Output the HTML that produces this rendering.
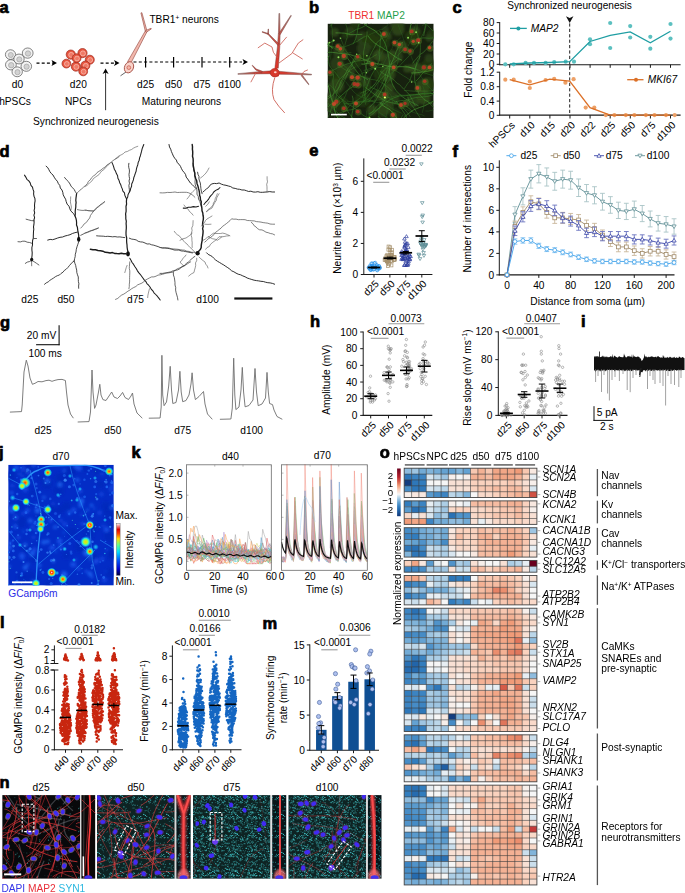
<!DOCTYPE html>
<html><head><meta charset="utf-8"><title>Figure</title>
<style>
html,body{margin:0;padding:0;background:#fff;}
body{width:685px;height:893px;overflow:hidden;}
svg{display:block;font-family:"Liberation Sans",sans-serif;font-size:10.2px;}
</style></head><body>
<svg width="685" height="893" viewBox="0 0 685 893">
<defs><linearGradient id="gUp" gradientUnits="userSpaceOnUse" x1="0" y1="60" x2="0" y2="14"><stop offset="0" stop-color="#d8382c"/><stop offset="0.55" stop-color="#c8554a"/><stop offset="1" stop-color="#a89894"/></linearGradient>
<linearGradient id="gL" gradientUnits="userSpaceOnUse" x1="268" y1="0" x2="238" y2="0"><stop offset="0" stop-color="#d8382c"/><stop offset="0.5" stop-color="#c8554a"/><stop offset="1" stop-color="#a89894"/></linearGradient>
<linearGradient id="gR" gradientUnits="userSpaceOnUse" x1="282" y1="0" x2="311" y2="0"><stop offset="0" stop-color="#d8382c"/><stop offset="0.5" stop-color="#c8554a"/><stop offset="1" stop-color="#a89894"/></linearGradient>
<clipPath id="cb"><rect x="327.5" y="23.6" width="106.2" height="94.5"/></clipPath>
<filter id="blur1" x="-20%" y="-20%" width="140%" height="140%"><feGaussianBlur stdDeviation="0.6"/></filter>
<filter id="blur2" x="-50%" y="-50%" width="200%" height="200%"><feGaussianBlur stdDeviation="1.2"/></filter>
<clipPath id="cj"><rect x="8.2" y="464.7" width="105.6" height="120.9"/></clipPath>
<filter id="bj" x="-50%" y="-50%" width="200%" height="200%"><feGaussianBlur stdDeviation="1.6"/></filter>
<filter id="bj2" x="-20%" y="-20%" width="140%" height="140%"><feGaussianBlur stdDeviation="0.6"/></filter>
<radialGradient id="spotR"><stop offset="0" stop-color="#ff2a10"/><stop offset="0.3" stop-color="#ffb000"/><stop offset="0.55" stop-color="#40f0a0"/><stop offset="0.8" stop-color="#10c0f8" stop-opacity="0.7"/><stop offset="1" stop-color="#0a70f0" stop-opacity="0"/></radialGradient>
<radialGradient id="spotY"><stop offset="0" stop-color="#ffd000"/><stop offset="0.35" stop-color="#a0ff40"/><stop offset="0.6" stop-color="#20e0f0"/><stop offset="1" stop-color="#0a70f0" stop-opacity="0"/></radialGradient>
<radialGradient id="spotW"><stop offset="0" stop-color="#ffffff"/><stop offset="0.25" stop-color="#ff3010"/><stop offset="0.5" stop-color="#ffc000"/><stop offset="0.75" stop-color="#20e8e0"/><stop offset="1" stop-color="#0a70f0" stop-opacity="0"/></radialGradient>
<radialGradient id="spotC"><stop offset="0" stop-color="#30f0f0"/><stop offset="0.5" stop-color="#10b0f8" stop-opacity="0.8"/><stop offset="1" stop-color="#0a60f0" stop-opacity="0"/></radialGradient>
<linearGradient id="jet" x1="0" y1="1" x2="0" y2="0"><stop offset="0" stop-color="#00003a"/><stop offset="0.12" stop-color="#0000d0"/><stop offset="0.3" stop-color="#0060ff"/><stop offset="0.45" stop-color="#00e0ff"/><stop offset="0.58" stop-color="#60ff90"/><stop offset="0.7" stop-color="#ffe000"/><stop offset="0.8" stop-color="#ff4000"/><stop offset="0.88" stop-color="#e00000"/><stop offset="1" stop-color="#ffffff"/></linearGradient>
<pattern id="spA" width="23" height="19" patternUnits="userSpaceOnUse"><g fill="#46dde0"><circle cx="18.4" cy="6.2" r=".4" opacity=".8"/><circle cx="2.6" cy="9" r=".5" opacity=".7"/><circle cx="3.3" cy="12" r=".5" opacity=".9"/><circle cx=".7" cy="18.2" r=".4" opacity=".8"/><circle cx="11.7" cy="15.9" r=".4" opacity=".5"/><circle cx="2" cy="14.8" r=".5" opacity=".5"/><circle cx="4.4" cy="1.5" r=".4" opacity=".7"/><circle cx="10.1" cy="13.4" r=".4" opacity=".9"/><circle cx="22.6" cy="14.1" r=".6" opacity=".9"/><circle cx="2.2" cy="8.8" r=".4" opacity=".8"/><circle cx="12.4" cy="2" r=".5" opacity=".8"/><circle cx="12.7" cy="2.3" r=".7" opacity=".4"/><circle cx="19.4" cy="18.5" r=".6" opacity=".9"/><circle cx="12.2" cy="4.2" r=".5" opacity=".8"/><circle cx="17.7" cy="7.3" r=".7" opacity=".4"/><circle cx="11.4" cy=".7" r=".5" opacity=".9"/><circle cx="2.7" cy="18.7" r=".7" opacity=".8"/><circle cx="1.3" cy="9" r=".6" opacity=".4"/><circle cx="6.9" cy="1.7" r=".6" opacity=".9"/><circle cx="21.2" cy="14.3" r=".6" opacity=".4"/><circle cx="11.1" cy="14.5" r=".6" opacity=".4"/><circle cx=".2" cy="1.7" r=".7" opacity=".4"/><circle cx="9" cy="9" r=".7" opacity=".4"/><circle cx="6" cy="14.7" r=".4" opacity=".4"/><circle cx=".6" cy="18.2" r=".4" opacity=".7"/><circle cx="8.7" cy="18.6" r=".6" opacity=".7"/><circle cx="11.3" cy="5.1" r=".6" opacity=".4"/><circle cx="14.3" cy="5.6" r=".4" opacity=".6"/><circle cx="4.3" cy="11.2" r=".4" opacity=".4"/><circle cx="3.3" cy="1.7" r=".7" opacity=".7"/><circle cx="15.6" cy="14.8" r=".4" opacity=".9"/><circle cx="8.8" cy="8.7" r=".5" opacity=".8"/><circle cx="17.7" cy="3.7" r=".6" opacity=".6"/><circle cx="5.8" cy="16.4" r=".7" opacity=".9"/><circle cx="7.4" cy="17.4" r=".6" opacity=".9"/><circle cx="17.4" cy="19" r=".5" opacity=".8"/><circle cx="18" cy="10" r=".5" opacity=".6"/><circle cx="20" cy="7.2" r=".6" opacity=".7"/><circle cx="16.3" cy="5.9" r=".4" opacity=".8"/><circle cx="3.3" cy="6.8" r=".6" opacity=".4"/><circle cx="21" cy="11.2" r=".5" opacity=".8"/><circle cx="1.3" cy=".4" r=".6" opacity=".7"/><circle cx="14.7" cy="15.6" r=".4" opacity=".4"/><circle cx="22.3" cy="1.1" r=".5" opacity=".7"/><circle cx="22" cy="1.6" r=".6" opacity=".4"/><circle cx="10.4" cy="11.8" r=".6" opacity=".4"/><circle cx="17.2" cy="2.8" r=".5" opacity=".9"/><circle cx="19.6" cy="1.5" r=".4" opacity=".4"/><circle cx="18" cy=".7" r=".6" opacity=".8"/><circle cx="18.8" cy="17.8" r=".6" opacity=".8"/><circle cx="12.5" cy="12.7" r=".4" opacity=".7"/><circle cx="22.8" cy="7.4" r=".6" opacity=".5"/><circle cx="11.1" cy="10.3" r=".6" opacity=".5"/><circle cx="10.8" cy="3.6" r=".6" opacity=".9"/><circle cx="8.9" cy="12.5" r=".5" opacity=".5"/><circle cx="16" cy="4" r=".6" opacity=".9"/><circle cx="7.1" cy="12.7" r=".5" opacity=".7"/><circle cx="4.4" cy="9.5" r=".6" opacity=".5"/><circle cx="8.2" cy="4.3" r=".4" opacity=".8"/><circle cx="19.1" cy="10" r=".5" opacity=".5"/></g></pattern>
<pattern id="spB" width="17" height="29" patternUnits="userSpaceOnUse"><g fill="#46dde0"><circle cx="4.1" cy="27.3" r=".5" opacity=".7"/><circle cx="4.7" cy="5" r=".4" opacity=".5"/><circle cx="7.1" cy="15.1" r=".6" opacity=".7"/><circle cx="14.9" cy="23.3" r=".6" opacity=".7"/><circle cx="9.2" cy="13.7" r=".7" opacity=".8"/><circle cx="6.6" cy="25.2" r=".5" opacity=".7"/><circle cx=".4" cy="17.2" r=".7" opacity=".5"/><circle cx="14.8" cy="19.7" r=".4" opacity=".3"/><circle cx="5.6" cy="28.2" r=".6" opacity=".6"/><circle cx="14.6" cy="10.2" r=".4" opacity=".5"/><circle cx="15.4" cy="4.8" r=".5" opacity=".5"/><circle cx="6.1" cy="2.7" r=".7" opacity=".4"/><circle cx="13.4" cy="5" r=".5" opacity=".3"/><circle cx="10" cy="14.8" r=".5" opacity=".4"/><circle cx="10.9" cy="1" r=".7" opacity=".6"/><circle cx="10.4" cy="12.3" r=".4" opacity=".3"/><circle cx="12.3" cy="14.1" r=".4" opacity=".6"/><circle cx="14.8" cy="14.8" r=".5" opacity=".6"/><circle cx="14.9" cy=".9" r=".6" opacity=".6"/><circle cx="12.2" cy="4.8" r=".6" opacity=".7"/><circle cx="4.7" cy="27.5" r=".4" opacity=".6"/><circle cx="1.5" cy="5.5" r=".6" opacity=".7"/><circle cx="8.1" cy="7.1" r=".5" opacity=".5"/><circle cx="6.5" cy="11.9" r=".5" opacity=".5"/><circle cx="2.1" cy="14.4" r=".4" opacity=".7"/><circle cx="16.2" cy="21.6" r=".5" opacity=".6"/><circle cx="12.6" cy="6.6" r=".6" opacity=".3"/><circle cx="16.5" cy="16.2" r=".6" opacity=".6"/><circle cx="14.4" cy="12.3" r=".4" opacity=".4"/><circle cx="12.7" cy="28.5" r=".4" opacity=".6"/><circle cx="13.3" cy="8.8" r=".4" opacity=".7"/><circle cx="2" cy="9.7" r=".6" opacity=".6"/><circle cx="16.1" cy="14" r=".5" opacity=".4"/><circle cx="13.9" cy="1.4" r=".4" opacity=".5"/><circle cx="13.7" cy="7.4" r=".5" opacity=".4"/><circle cx="4.8" cy="27.2" r=".7" opacity=".4"/><circle cx="16.2" cy="13.6" r=".4" opacity=".5"/><circle cx="16.3" cy="5.3" r=".6" opacity=".8"/><circle cx="15.6" cy="21.9" r=".7" opacity=".4"/><circle cx="11.8" cy="27.9" r=".5" opacity=".3"/><circle cx="4.9" cy="12.8" r=".5" opacity=".7"/><circle cx="3" cy=".2" r=".6" opacity=".8"/><circle cx="8.2" cy="19.7" r=".6" opacity=".7"/><circle cx="13.5" cy=".9" r=".6" opacity=".5"/><circle cx="6.6" cy="23.3" r=".4" opacity=".8"/><circle cx="13.8" cy="24.2" r=".7" opacity=".4"/><circle cx="10.1" cy="26.2" r=".5" opacity=".7"/><circle cx="1.8" cy="19.4" r=".4" opacity=".6"/><circle cx=".5" cy="8.9" r=".4" opacity=".5"/><circle cx="2.2" cy="19.8" r=".5" opacity=".7"/><circle cx="13.8" cy="20.6" r=".6" opacity=".6"/><circle cx="13.1" cy="12.5" r=".5" opacity=".5"/><circle cx=".4" cy="6.1" r=".6" opacity=".5"/><circle cx="7.3" cy="2.8" r=".4" opacity=".8"/><circle cx="13.6" cy="10.4" r=".7" opacity=".6"/></g></pattern>
<pattern id="spC" width="21" height="23" patternUnits="userSpaceOnUse"><g fill="#46dde0"><circle cx="15.7" cy="3.5" r=".7" opacity=".4"/><circle cx="2.9" cy="1.5" r=".4" opacity=".2"/><circle cx="16.3" cy="18.3" r=".4" opacity=".3"/><circle cx="19.2" cy="5.3" r=".7" opacity=".5"/><circle cx="8.6" cy="10.5" r=".5" opacity=".3"/><circle cx="14.8" cy="15.6" r=".7" opacity=".2"/><circle cx="6.5" cy="12.2" r=".6" opacity=".6"/><circle cx="17.2" cy="2.2" r=".6" opacity=".3"/><circle cx="9.1" cy="1.7" r=".4" opacity=".4"/><circle cx="18.4" cy="6.7" r=".4" opacity=".5"/><circle cx="5.9" cy="2" r=".4" opacity=".6"/><circle cx="18.9" cy="11.4" r=".5" opacity=".5"/><circle cx="7.2" cy="8.9" r=".6" opacity=".5"/><circle cx="18.6" cy="13.1" r=".6" opacity=".5"/></g></pattern>
<pattern id="spD" width="19" height="21" patternUnits="userSpaceOnUse"><g fill="#46dde0"><circle cx="4.5" cy="13.5" r=".5" opacity=".4"/><circle cx="4.2" cy="8.2" r=".7" opacity=".3"/><circle cx="18.3" cy="19.9" r=".5" opacity=".6"/><circle cx="5.8" cy=".9" r=".4" opacity=".7"/><circle cx="4.4" cy="10.7" r=".5" opacity=".3"/><circle cx="7.5" cy="9.7" r=".7" opacity=".6"/><circle cx="18.5" cy="8.4" r=".6" opacity=".6"/><circle cx=".4" cy="19.3" r=".6" opacity=".6"/><circle cx="8.3" cy=".2" r=".7" opacity=".3"/><circle cx="2" cy="16.3" r=".5" opacity=".5"/><circle cx="5.2" cy="9.8" r=".6" opacity=".5"/><circle cx="2.5" cy="11.6" r=".5" opacity=".7"/><circle cx="1.2" cy="8.8" r=".5" opacity=".7"/><circle cx="3.6" cy="16.6" r=".5" opacity=".7"/><circle cx="15.3" cy="10.6" r=".6" opacity=".4"/><circle cx="14.3" cy="4.5" r=".5" opacity=".4"/><circle cx="18" cy="8.4" r=".6" opacity=".6"/><circle cx="13.1" cy="4.1" r=".6" opacity=".5"/><circle cx="12.2" cy="19.6" r=".6" opacity=".7"/><circle cx="9.3" cy="9.9" r=".7" opacity=".5"/><circle cx=".7" cy="6.6" r=".5" opacity=".3"/><circle cx="1.9" cy="12" r=".4" opacity=".8"/><circle cx="2.3" cy="6.4" r=".4" opacity=".5"/><circle cx=".2" cy="12.9" r=".4" opacity=".4"/><circle cx="6.7" cy="2.4" r=".4" opacity=".8"/><circle cx="6" cy="14.7" r=".6" opacity=".6"/><circle cx="8.6" cy="9.3" r=".6" opacity=".4"/><circle cx=".9" cy="2.2" r=".4" opacity=".5"/><circle cx="1.7" cy="9.5" r=".6" opacity=".4"/><circle cx="12.8" cy="10.7" r=".5" opacity=".6"/><circle cx=".6" cy="11.5" r=".4" opacity=".8"/><circle cx="10.5" cy="11.1" r=".4" opacity=".3"/><circle cx="3" cy="7.3" r=".4" opacity=".7"/><circle cx="5.7" cy="8.9" r=".5" opacity=".5"/><circle cx="3.4" cy="14.3" r=".6" opacity=".6"/><circle cx="4.4" cy="16.2" r=".4" opacity=".6"/><circle cx="8.3" cy="4" r=".7" opacity=".3"/><circle cx="6.1" cy="13.9" r=".4" opacity=".7"/><circle cx="0" cy="3.7" r=".7" opacity=".3"/><circle cx="16.5" cy="3.4" r=".5" opacity=".4"/></g></pattern>
<clipPath id="cn0"><rect x="2.2" y="795.1" width="77.8" height="83.7"/></clipPath>
<clipPath id="ci0"><rect x="81.2" y="795.1" width="14.2" height="83.7"/></clipPath>
<clipPath id="cn1"><rect x="97" y="795.1" width="77.8" height="83.7"/></clipPath>
<clipPath id="ci1"><rect x="176.2" y="795.1" width="14.6" height="83.7"/></clipPath>
<clipPath id="cn2"><rect x="193" y="795.1" width="77.6" height="83.7"/></clipPath>
<clipPath id="ci2"><rect x="272.1" y="795.1" width="14.4" height="83.7"/></clipPath>
<clipPath id="cn3"><rect x="288.3" y="795.1" width="77.8" height="83.7"/></clipPath>
<clipPath id="ci3"><rect x="367.6" y="795.1" width="14.1" height="83.7"/></clipPath>
<linearGradient id="rdbu" x1="0" y1="1" x2="0" y2="0"><stop offset="0" stop-color="#123778"/><stop offset="0.11" stop-color="#1e5fa5"/><stop offset="0.2" stop-color="#327dbe"/><stop offset="0.29" stop-color="#64a2d2"/><stop offset="0.38" stop-color="#accee6"/><stop offset="0.46" stop-color="#f6f6f6"/><stop offset="0.55" stop-color="#fad2be"/><stop offset="0.64" stop-color="#f09b78"/><stop offset="0.73" stop-color="#d65c48"/><stop offset="0.82" stop-color="#b9232d"/><stop offset="1" stop-color="#69001e"/></linearGradient></defs>
<rect x="0" y="0" width="685" height="893" fill="#fff"/>
<!-- panel_a -->
<text x="-0.5" y="12.7" font-size="16.5" fill="#000" font-weight="bold" stroke="#000" stroke-width="0.7">a</text>
<ellipse cx="10.5" cy="54.6" rx="5.1" ry="4.84" fill="#f3f3f3" stroke="#505050" stroke-width="0.7"/>
<circle cx="10.8" cy="55" r="2.55" fill="#d2d2d2" stroke="#9a9a9a" stroke-width="0.6"/>
<ellipse cx="27.7" cy="53.1" rx="5.4" ry="5.13" fill="#f3f3f3" stroke="#505050" stroke-width="0.7"/>
<circle cx="28" cy="53.5" r="2.7" fill="#d2d2d2" stroke="#9a9a9a" stroke-width="0.6"/>
<ellipse cx="10.9" cy="64.8" rx="5.4" ry="5.13" fill="#f3f3f3" stroke="#505050" stroke-width="0.7"/>
<circle cx="11.2" cy="65.2" r="2.7" fill="#d2d2d2" stroke="#9a9a9a" stroke-width="0.6"/>
<ellipse cx="26.3" cy="66.3" rx="5.3" ry="5.03" fill="#f3f3f3" stroke="#505050" stroke-width="0.7"/>
<circle cx="26.6" cy="66.7" r="2.65" fill="#d2d2d2" stroke="#9a9a9a" stroke-width="0.6"/>
<ellipse cx="17.2" cy="71.8" rx="5.2" ry="4.94" fill="#f3f3f3" stroke="#505050" stroke-width="0.7"/>
<circle cx="17.5" cy="72.2" r="2.6" fill="#d2d2d2" stroke="#9a9a9a" stroke-width="0.6"/>
<ellipse cx="19" cy="59" rx="5.2" ry="4.94" fill="#f3f3f3" stroke="#505050" stroke-width="0.7"/>
<circle cx="19.3" cy="59.4" r="2.6" fill="#d2d2d2" stroke="#9a9a9a" stroke-width="0.6"/>
<line x1="36.5" y1="63.1" x2="53.5" y2="63.1" stroke="#000" stroke-width="1.2" stroke-dasharray="3 2.2"/>
<path d="M57 63.1 L51.5 66.12 L52.88 63.1 L51.5 60.08 Z" fill="#000"/>
<circle cx="70.8" cy="54.6" r="4.6" fill="#e8553f" stroke="#9c2a1c" stroke-width="0.7"/>
<circle cx="71.2" cy="54.9" r="2.53" fill="#ef7a66" stroke="#fbd0c6" stroke-width="0.6"/>
<circle cx="82.5" cy="53.1" r="4.6" fill="#e8553f" stroke="#9c2a1c" stroke-width="0.7"/>
<circle cx="82.9" cy="53.4" r="2.53" fill="#ef7a66" stroke="#fbd0c6" stroke-width="0.6"/>
<circle cx="89.8" cy="59.7" r="4.5" fill="#e8553f" stroke="#9c2a1c" stroke-width="0.7"/>
<circle cx="90.2" cy="60" r="2.48" fill="#ef7a66" stroke="#fbd0c6" stroke-width="0.6"/>
<circle cx="66.4" cy="63.6" r="4.4" fill="#e8553f" stroke="#9c2a1c" stroke-width="0.7"/>
<circle cx="66.8" cy="63.9" r="2.42" fill="#ef7a66" stroke="#fbd0c6" stroke-width="0.6"/>
<circle cx="75.9" cy="66.6" r="4.6" fill="#e8553f" stroke="#9c2a1c" stroke-width="0.7"/>
<circle cx="76.3" cy="66.9" r="2.53" fill="#ef7a66" stroke="#fbd0c6" stroke-width="0.6"/>
<circle cx="85.4" cy="65.5" r="4.5" fill="#e8553f" stroke="#9c2a1c" stroke-width="0.7"/>
<circle cx="85.8" cy="65.8" r="2.48" fill="#ef7a66" stroke="#fbd0c6" stroke-width="0.6"/>
<circle cx="83.2" cy="71.4" r="4.4" fill="#e8553f" stroke="#9c2a1c" stroke-width="0.7"/>
<circle cx="83.6" cy="71.7" r="2.42" fill="#ef7a66" stroke="#fbd0c6" stroke-width="0.6"/>
<circle cx="76.6" cy="58.2" r="4.4" fill="#e8553f" stroke="#9c2a1c" stroke-width="0.7"/>
<circle cx="77" cy="58.5" r="2.42" fill="#ef7a66" stroke="#fbd0c6" stroke-width="0.6"/>
<line x1="100.5" y1="63.1" x2="116" y2="63.1" stroke="#000" stroke-width="1.2" stroke-dasharray="3 2.2"/>
<path d="M119.5 63.1 L114 66.12 L115.38 63.1 L114 60.08 Z" fill="#000"/>
<line x1="105.6" y1="110.2" x2="105.6" y2="72" stroke="#333" stroke-width="1"/>
<path d="M105.6 68.5 L108.62 74 L105.6 72.62 L102.57 74 Z" fill="#000"/>
<path d="M130.78 63.36 L147.13 31.43 L141.88 12.67 L140.92 12.93 L145.27 30.97 L127.62 61.64Z" stroke="#8e4038" stroke-width="0.6" fill="#f2b8ad"/>
<path d="M146.02 32.39 L151.39 28.95 L151.01 28.25 L145.18 30.81Z" stroke="#8e4038" stroke-width="0.6" fill="#f2b8ad"/>
<path d="M126 72 L120.5 75.8" stroke="#555" stroke-width="0.9" fill="none"/>
<ellipse cx="129" cy="67.3" rx="4.4" ry="5.8" transform="rotate(25 129 67.3)" fill="#f9d3ca" stroke="#a0453a" stroke-width="0.8"/>
<circle cx="128.8" cy="67.6" r="1.9" fill="#f6b5a8" stroke="#c0574a" stroke-width="0.7"/>
<line x1="133.5" y1="62" x2="242" y2="62" stroke="#000" stroke-width="1.1" stroke-dasharray="3 2.3"/>
<line x1="145.6" y1="57" x2="145.6" y2="67.5" stroke="#000" stroke-width="1.2"/>
<line x1="173.6" y1="57" x2="173.6" y2="67.5" stroke="#000" stroke-width="1.2"/>
<line x1="202" y1="57" x2="202" y2="67.5" stroke="#000" stroke-width="1.2"/>
<line x1="229.7" y1="57" x2="229.7" y2="67.5" stroke="#000" stroke-width="1.2"/>
<path d="M248 62 L242.5 65.03 L243.88 62 L242.5 58.98 Z" fill="#000"/>
<path d="M278.29 68.16 L279.79 47.09 L280.15 32.62 L279.7 13.5 L278.9 13.5 L278.45 32.58 L277.41 46.91 L274.91 67.84Z" stroke="#6e3430" stroke-width="0.45" fill="url(#gUp)"/>
<path d="M280.32 34.45 L291.35 15.66 L290.85 15.34 L278.88 33.55Z" stroke="#6e3430" stroke-width="0.45" fill="url(#gUp)"/>
<path d="M279.25 44.18 L268.39 33.53 L262.3 31.62 L262.1 32.18 L267.81 34.27 L277.95 45.42Z" stroke="#6e3430" stroke-width="0.45" fill="url(#gUp)"/>
<path d="M268.55 34.22 L268.5 29.01 L268.1 28.99 L267.65 34.18Z" stroke="#6e3430" stroke-width="0.45" fill="url(#gUp)"/>
<path d="M271.93 70.7 L254.95 72.07 L237.88 73.65 L237.92 74.35 L255.05 73.93 L272.07 73.7Z" stroke="#6e3430" stroke-width="0.45" fill="url(#gL)"/>
<path d="M262.35 71.17 L256.31 69.05 L252.49 65.23 L252.11 65.57 L255.69 69.95 L261.65 72.83Z" stroke="#6e3430" stroke-width="0.45" fill="url(#gL)"/>
<path d="M277.52 74.2 L294.95 74.51 L311.48 74.95 L311.52 74.25 L295.05 72.69 L277.68 71.2Z" stroke="#6e3430" stroke-width="0.45" fill="url(#gR)"/>
<path d="M301.09 75.6 L308.6 84.65 L309 84.35 L302.11 74.8Z" stroke="#6e3430" stroke-width="0.45" fill="url(#gR)"/>
<path d="M277.3 57.6 L273.4 52.3 L272 47 L264.8 43.1 L258.2 47.7" stroke="#c9554a" stroke-width="0.8" fill="none" stroke-linecap="round" stroke-linejoin="round"/>
<path d="M279.3 62.8 L291.8 53.6 L298.3 43.1 L302.9 39.8 M293 53 L302.3 58.9" stroke="#c9554a" stroke-width="0.8" fill="none" stroke-linecap="round" stroke-linejoin="round"/>
<path d="M279.3 45.7 L286.5 37.2" stroke="#c9554a" stroke-width="0.8" fill="none" stroke-linecap="round" stroke-linejoin="round"/>
<path d="M255.6 73.3 L251 81.9" stroke="#c9554a" stroke-width="0.8" fill="none" stroke-linecap="round" stroke-linejoin="round"/>
<path d="M301.6 74.6 L304 71.5 L307.5 70" stroke="#c9554a" stroke-width="0.8" fill="none" stroke-linecap="round" stroke-linejoin="round"/>
<path d="M274.7 77.9 Q270.5 90 274 99.6 Q278 106 284.5 112.7" stroke="#c9554a" stroke-width="0.85" fill="none" stroke-linecap="round" stroke-linejoin="round"/>
<path d="M273 76 L276 65.5 L278.5 76 Z" stroke="#d8382c" stroke-width="1" fill="#d8382c"/>
<ellipse cx="274.7" cy="72.7" rx="4.6" ry="4.2" fill="#d8382c" stroke="#a32a20" stroke-width="0.6"/>
<ellipse cx="275.3" cy="72.2" rx="1.4" ry="1.0" fill="#fbd3cb"/>
<text x="17.5" y="88" text-anchor="middle">d0</text>
<text x="78.3" y="88" text-anchor="middle">d20</text>
<text x="15" y="105" text-anchor="middle">hPSCs</text>
<text x="78.3" y="105" text-anchor="middle">NPCs</text>
<text x="145.6" y="87.6" text-anchor="middle">d25</text>
<text x="173.6" y="87.6" text-anchor="middle">d50</text>
<text x="202" y="87.6" text-anchor="middle">d75</text>
<text x="229.7" y="87.6" text-anchor="middle">d100</text>
<text x="181.5" y="105" text-anchor="middle">Maturing neurons</text>
<text x="33" y="125">Synchronized neurogenesis</text>
<text x="149.4" y="23.4">TBR1<tspan font-size="6.5" dy="-3.5">+</tspan><tspan dy="3.5"> neurons</tspan></text>
<!-- panel_b -->
<text x="309" y="13.2" font-size="16.5" fill="#000" font-weight="bold" stroke="#000" stroke-width="0.7">b</text>
<text x="348.2" y="19"><tspan fill="#ee2f2f">TBR1</tspan> <tspan fill="#1fa04c">MAP2</tspan></text>
<g clip-path="url(#cb)">
<rect x="327.5" y="23.6" width="106.2" height="94.5" fill="#17210f" stroke="none" stroke-width="1"/>
<g filter="url(#blur2)">
<circle cx="361.89" cy="37.86" r="6.25" fill="#2a4218" stroke="none" stroke-width="1" opacity="0.8"/>
<circle cx="414.72" cy="32.5" r="5.91" fill="#304a1a" stroke="none" stroke-width="1" opacity="0.8"/>
<circle cx="350.3" cy="31.72" r="5.09" fill="#2a4218" stroke="none" stroke-width="1" opacity="0.8"/>
<circle cx="337.13" cy="63.72" r="7.13" fill="#2a4218" stroke="none" stroke-width="1" opacity="0.8"/>
<circle cx="428.12" cy="83.19" r="5.91" fill="#2a4218" stroke="none" stroke-width="1" opacity="0.8"/>
<circle cx="388.79" cy="61.09" r="7.88" fill="#2a4218" stroke="none" stroke-width="1" opacity="0.8"/>
<circle cx="386.62" cy="36.19" r="5.1" fill="#304a1a" stroke="none" stroke-width="1" opacity="0.8"/>
<circle cx="340.01" cy="52.75" r="7.08" fill="#2a4218" stroke="none" stroke-width="1" opacity="0.8"/>
<circle cx="338.44" cy="77.58" r="3.94" fill="#2a4218" stroke="none" stroke-width="1" opacity="0.8"/>
<circle cx="385.67" cy="29.53" r="3.3" fill="#2a4218" stroke="none" stroke-width="1" opacity="0.8"/>
<circle cx="380.22" cy="73.85" r="6.89" fill="#22380f" stroke="none" stroke-width="1" opacity="0.8"/>
<circle cx="389.69" cy="66.43" r="4.5" fill="#2a4218" stroke="none" stroke-width="1" opacity="0.8"/>
<circle cx="401.73" cy="46.67" r="5.87" fill="#304a1a" stroke="none" stroke-width="1" opacity="0.8"/>
<circle cx="380.08" cy="56.06" r="5.24" fill="#304a1a" stroke="none" stroke-width="1" opacity="0.8"/>
<circle cx="431.59" cy="34.76" r="5.09" fill="#22380f" stroke="none" stroke-width="1" opacity="0.8"/>
<circle cx="343.64" cy="69.81" r="3.2" fill="#304a1a" stroke="none" stroke-width="1" opacity="0.8"/>
<circle cx="335.74" cy="76.34" r="6.95" fill="#22380f" stroke="none" stroke-width="1" opacity="0.8"/>
<circle cx="363.62" cy="56.69" r="5.48" fill="#22380f" stroke="none" stroke-width="1" opacity="0.8"/>
<circle cx="334.8" cy="32.44" r="4.35" fill="#304a1a" stroke="none" stroke-width="1" opacity="0.8"/>
<circle cx="398.03" cy="29.33" r="6.51" fill="#304a1a" stroke="none" stroke-width="1" opacity="0.8"/>
<circle cx="388.88" cy="87.98" r="5.23" fill="#304a1a" stroke="none" stroke-width="1" opacity="0.8"/>
<circle cx="368.47" cy="86.79" r="3.11" fill="#22380f" stroke="none" stroke-width="1" opacity="0.8"/>
<circle cx="365.25" cy="81.33" r="5.47" fill="#2a4218" stroke="none" stroke-width="1" opacity="0.8"/>
<circle cx="409.09" cy="35.82" r="4.24" fill="#22380f" stroke="none" stroke-width="1" opacity="0.8"/>
<circle cx="424.87" cy="70.52" r="3.83" fill="#22380f" stroke="none" stroke-width="1" opacity="0.8"/>
<circle cx="385.85" cy="107.08" r="7.1" fill="#304a1a" stroke="none" stroke-width="1" opacity="0.8"/>
<circle cx="357.07" cy="62.85" r="4.79" fill="#22380f" stroke="none" stroke-width="1" opacity="0.8"/>
<circle cx="429.21" cy="37.86" r="3.88" fill="#2a4218" stroke="none" stroke-width="1" opacity="0.8"/>
<circle cx="397.43" cy="24.74" r="7.16" fill="#2a4218" stroke="none" stroke-width="1" opacity="0.8"/>
<circle cx="355.4" cy="23.99" r="5.09" fill="#22380f" stroke="none" stroke-width="1" opacity="0.8"/>
<circle cx="392.26" cy="53.71" r="3.63" fill="#304a1a" stroke="none" stroke-width="1" opacity="0.8"/>
<circle cx="428.41" cy="85.49" r="6.7" fill="#22380f" stroke="none" stroke-width="1" opacity="0.8"/>
<circle cx="423.03" cy="97.31" r="7.37" fill="#304a1a" stroke="none" stroke-width="1" opacity="0.8"/>
<circle cx="369.17" cy="61.3" r="3.52" fill="#304a1a" stroke="none" stroke-width="1" opacity="0.8"/>
<circle cx="370.03" cy="41.61" r="7.92" fill="#22380f" stroke="none" stroke-width="1" opacity="0.8"/>
<circle cx="344.74" cy="55.74" r="3.26" fill="#2a4218" stroke="none" stroke-width="1" opacity="0.8"/>
<circle cx="387.69" cy="74.31" r="7.74" fill="#304a1a" stroke="none" stroke-width="1" opacity="0.8"/>
<circle cx="330.21" cy="106.22" r="6.07" fill="#2a4218" stroke="none" stroke-width="1" opacity="0.8"/>
<circle cx="394.87" cy="113.89" r="6.01" fill="#22380f" stroke="none" stroke-width="1" opacity="0.8"/>
<circle cx="340.55" cy="103.82" r="7.97" fill="#22380f" stroke="none" stroke-width="1" opacity="0.8"/>
<circle cx="378.52" cy="53.07" r="3.72" fill="#304a1a" stroke="none" stroke-width="1" opacity="0.8"/>
<circle cx="363.89" cy="48.62" r="7.14" fill="#2a4218" stroke="none" stroke-width="1" opacity="0.8"/>
<circle cx="382.33" cy="42.99" r="7.76" fill="#22380f" stroke="none" stroke-width="1" opacity="0.8"/>
<circle cx="343.07" cy="74.93" r="3.14" fill="#304a1a" stroke="none" stroke-width="1" opacity="0.8"/>
<circle cx="359.16" cy="84.36" r="3.46" fill="#22380f" stroke="none" stroke-width="1" opacity="0.8"/>
<circle cx="382.55" cy="109.43" r="4.78" fill="#2a4218" stroke="none" stroke-width="1" opacity="0.8"/>
<circle cx="384.06" cy="97.22" r="4.65" fill="#2a4218" stroke="none" stroke-width="1" opacity="0.8"/>
<circle cx="392.62" cy="98.1" r="6.79" fill="#2a4218" stroke="none" stroke-width="1" opacity="0.8"/>
<circle cx="413.11" cy="100.93" r="6.7" fill="#2a4218" stroke="none" stroke-width="1" opacity="0.8"/>
<circle cx="348.73" cy="70.17" r="6.66" fill="#2a4218" stroke="none" stroke-width="1" opacity="0.8"/>
<circle cx="411.41" cy="68.23" r="3.97" fill="#304a1a" stroke="none" stroke-width="1" opacity="0.8"/>
<circle cx="429.08" cy="65.86" r="7.69" fill="#22380f" stroke="none" stroke-width="1" opacity="0.8"/>
<circle cx="428.92" cy="58.06" r="4.1" fill="#2a4218" stroke="none" stroke-width="1" opacity="0.8"/>
<circle cx="377.42" cy="55.52" r="5.41" fill="#304a1a" stroke="none" stroke-width="1" opacity="0.8"/>
<circle cx="416.75" cy="68.91" r="6.26" fill="#304a1a" stroke="none" stroke-width="1" opacity="0.8"/>
<circle cx="336.5" cy="86.03" r="7.55" fill="#304a1a" stroke="none" stroke-width="1" opacity="0.8"/>
<circle cx="407.16" cy="68.77" r="3.89" fill="#304a1a" stroke="none" stroke-width="1" opacity="0.8"/>
<circle cx="362.81" cy="99.28" r="7.86" fill="#22380f" stroke="none" stroke-width="1" opacity="0.8"/>
<circle cx="376.69" cy="93.85" r="3.42" fill="#2a4218" stroke="none" stroke-width="1" opacity="0.8"/>
<circle cx="345.55" cy="35.61" r="3.76" fill="#22380f" stroke="none" stroke-width="1" opacity="0.8"/>
<circle cx="413.15" cy="37.41" r="7.13" fill="#22380f" stroke="none" stroke-width="1" opacity="0.8"/>
<circle cx="397.3" cy="56.71" r="5.74" fill="#2a4218" stroke="none" stroke-width="1" opacity="0.8"/>
<circle cx="329.77" cy="99.14" r="6.63" fill="#2a4218" stroke="none" stroke-width="1" opacity="0.8"/>
<circle cx="383.42" cy="111.83" r="5.17" fill="#2a4218" stroke="none" stroke-width="1" opacity="0.8"/>
<circle cx="415.24" cy="43.54" r="4.26" fill="#22380f" stroke="none" stroke-width="1" opacity="0.8"/>
<circle cx="380.72" cy="95.77" r="4.63" fill="#304a1a" stroke="none" stroke-width="1" opacity="0.8"/>
<circle cx="372" cy="35.99" r="7.55" fill="#22380f" stroke="none" stroke-width="1" opacity="0.8"/>
<circle cx="422.84" cy="86.2" r="7.08" fill="#304a1a" stroke="none" stroke-width="1" opacity="0.8"/>
<circle cx="372.17" cy="110.32" r="5.51" fill="#304a1a" stroke="none" stroke-width="1" opacity="0.8"/>
<circle cx="343.63" cy="71.85" r="7.36" fill="#2a4218" stroke="none" stroke-width="1" opacity="0.8"/>
</g>
<g filter="url(#blur1)" fill="none">
<path d="M393.2 99.7l2.2 2 2.2 2.1 2.4 1.8 2.4 1.8 2.7 1.3 2.7 1.3 2.7 1.3 2.8 1.1 2.8 .9 2.9 .8 3 .7 2.7 1.3" stroke="#2e6e22" stroke-width=".7" opacity=".5"/>
<path d="M426.4 25.2l-1.2 2.8-1 2.8-1 2.8-1.4 2.7-1.5 2.6-1.2 2.8-1.1 2.7-1.6 2.6-2 2.2-1.6 2.5-2.2 2.1-1.8 2.4-2 2.2-2.2 2-2 2.3-2.2 2.1-1.9 2.2-2.4 1.9-2.2 2-2.2 2-2.2 2-2.4 1.9-2.4 1.8-1.8 2.4" stroke="#347a26" stroke-width=".6" opacity=".8"/>
<path d="M434.9 41.5l2.9-.7 2.9-.8 2.8-1 2.8-1.2 2.6-1.6 1.8-2.4 1.5-2.6 1.7-2.4 1.6-2.6 1.7-2.4 1.6-2.6 1.7-2.4 1.3-2.7 1.3-2.7 1.1-2.8 1.4-2.7 1.1-2.8 1.9-2.3 2.3-1.8 2.7-1.4" stroke="#48a034" stroke-width=".9" opacity=".5"/>
<path d="M353.4 22.7l.5-2.9-.1-3 .2-3-.3-3 .1-3 0-3-.5-2.9-.6-3-1-2.8-.9-2.9-1-2.8-.4-3 0-3 .7-2.9 .7-2.9 .7-2.9" stroke="#3c8a2c" stroke-width=".8" opacity=".5"/>
<path d="M422 25.6l2.7-1.3 2.7-1.2 2.4-1.9 2.6-1.5 2.6-1.6 2.5-1.6 2.3-1.8 1.8-2.5 2-2.2 1.9-2.3 2.2-2.1 2.7-1.3 2.5-1.7 2.3-1.9 2.3-1.8 2.6-1.5 2.6-1.7 2.3-1.8 2.6-1.5 1.8-2.4 1.9-2.4 1.9-2.3" stroke="#2e6e22" stroke-width=".7" opacity=".5"/>
<path d="M377.7 116.3l2.6 1.5 2.4 1.7 2.4 1.8 2.6 1.6 2.8 1 2.8 1 2.7 1.3 2.7 1.3 2.6 1.5 2.8 1.1 2.9 .9 2.9 .5 3 .5 2.9 .5 3 .7 2.9 .8 2.9 .8 2.9 .4 3 .6 2.9 .7 2.8 1.1 2.9 .4 3 .3 3 .1 3 0 3 .4 3 .1 3 .3" stroke="#52aa3a" stroke-width=".5" opacity=".6"/>
<path d="M360.7 121.5l-1.6 2.5-1.6 2.6-1.5 2.6-1.6 2.5-1.3 2.8-1.5 2.5-1.3 2.7-1.3 2.7-1.3 2.7" stroke="#347a26" stroke-width=".8" opacity=".5"/>
<path d="M390.7 59.8l-.9 2.8-1 2.9-1.4 2.6-.9 2.9-.7 2.9-.4 3 .1 2.9-.2 3 .1 3 .6 3-.4 3-.7 2.9-1.3 2.7-1.1 2.8-1.1 2.8-1.5 2.6-.8 2.9-.3 3 .1 3 0 3 .2 3 .6 2.9 .8 2.9 .3 3 1 2.8 .7 2.9 1.2 2.8 .7 2.9" stroke="#48a034" stroke-width=".5" opacity=".5"/>
<path d="M396.5 118.9l-1.8 2.3-1.5 2.6-1.2 2.8-.9 2.8-.5 3-.4 3-.5 2.9-.6 3 0 3 .4 2.9 .5 3 .5 2.9 .7 3 .7 2.9 1 2.8 .7 2.9 .6 3 .6 2.9 .8 2.9 1 2.8 1.8 2.4 2.2 2.1" stroke="#52aa3a" stroke-width=".9" opacity=".6"/>
<path d="M327.9 84.7l1 2.9 .7 2.9 .6 2.9 .5 3 .9 2.8 .9 2.9 1 2.8 .7 3 .5 2.9 .9 2.9 1.3 2.7 1.5 2.6 1.7 2.5 2 2.2 2.1 2.1 2.2 2.1 2.2 2 2 2.2 2.2 2.1 1.4 2.6 1.5 2.6 1.2 2.8 1.1 2.8 .7 2.9 1.6 2.6 1.8 2.4 1.7 2.4" stroke="#48a034" stroke-width=".9" opacity=".8"/>
<path d="M331.2 28l.1-3 .1-3 .3-2.9-.1-3 .3-3-.1-3 .1-3 .8-2.9 .8-2.9 .7-2.9 1.2-2.8 1.2-2.7 1-2.9 1-2.8 1.2-2.7 1.4-2.6" stroke="#347a26" stroke-width=".5" opacity=".6"/>
<path d="M360.2 53.9l-2.3 2-1.7 2.5-1.6 2.5-1.9 2.3-.9 2.9-1.7 2.4-1.4 2.7-1.3 2.7-1 2.8-1.2 2.8-1.3 2.7-1.3 2.7-1.5 2.6-1.3 2.7" stroke="#48a034" stroke-width=".6" opacity=".6"/>
<path d="M381.9 38.4l-2.5 1.8-2.1 2.1-1.7 2.5-1.1 2.7-1.6 2.6-1.4 2.7-1.3 2.6-1.3 2.8-1.2 2.7-.8 2.9-.9 2.9-.2 3-.3 2.9-.3 3-.6 3-.4 2.9-.2 3-.1 3 0 3-.6 3-.9 2.8" stroke="#48a034" stroke-width=".6" opacity=".7"/>
<path d="M368.3 36.1l1.6 2.5 2.2 2.1 2.2 2.1 2.4 1.7 2.5 1.7 2.7 1.3 2.4 1.9 2.6 1.5 2.5 1.6 2.4 1.7 2.4 1.9 2.5 1.6 2.6 1.5 2.8 1" stroke="#48a034" stroke-width=".9" opacity=".7"/>
<path d="M370.5 61.9l-2.9-1-2.8-.9-2.7-1.5-2.8-1-2.8-1-2.9-.7-2.8-1-3-.5-3-.3-2.9-.4-3-.3-3-.5-3-.4-3-.1-2.9 .2-3 .5-3-.1-3-.4-3-.3-3 .3" stroke="#52aa3a" stroke-width=".9" opacity=".6"/>
<path d="M331 115.8l2.8-1 3-.4 2.7-1.2 2.8-1.2 2.8-1.1 2.9-.7 3-.4 2.9-.8 2.6-1.5 2.5-1.6 2.2-2.1 2.2-2 1.9-2.4 1.8-2.3 1.8-2.5 1.8-2.3 1.6-2.6 2-2.2 1.8-2.4 1.7-2.5 1.9-2.3 1.9-2.3 2.2-2 2.3-2" stroke="#3c8a2c" stroke-width=".6" opacity=".8"/>
<path d="M344.8 45.9l.6-3 .9-2.8 .9-2.9 0-3 .2-3-.3-3-.9-2.8-1.2-2.8" stroke="#48a034" stroke-width=".5" opacity=".6"/>
<path d="M398 24.4l1 2.8 1.1 2.8 1.2 2.8 1.1 2.7 .8 2.9 1 2.8 .8 2.9 .9 2.9 1.5 2.6 1.7 2.5 1.4 2.6 1.2 2.8 1.1 2.8 1.1 2.8 1.1 2.7 1.4 2.7 1.4 2.6 1.4 2.7 1.6 2.5 1.8 2.4 1.8 2.4 1.7 2.5 1.8 2.4 2 2.2 2.4 1.9 2 2.2 2.3 2 2.2 2 2.2 2" stroke="#2e6e22" stroke-width=".6" opacity=".6"/>
<path d="M347.2 120.4l2 2.3 2.1 2.1 2.5 1.7 2.3 1.8 2.5 1.8 2.3 1.9 2.1 2.1 2.1 2.2 2 2.3" stroke="#2e6e22" stroke-width=".8" opacity=".5"/>
<path d="M399.7 58.2l-2.4 1.7-2.4 1.9-2.4 1.8-2.4 1.7-2.5 1.6-2.1 2.2-2.3 1.9-1.9 2.4-1.7 2.5-1.3 2.7-1.6 2.5-1.5 2.6-1.9 2.3-2.4 1.8-2.5 1.6-2.6 1.5-2.8 1.1-2.7 1.3" stroke="#52aa3a" stroke-width=".5" opacity=".6"/>
<path d="M416.8 98.7l2.9 .9 3 .2 3 .3 2.9 .6 2.9 .7 2.8 1.1 2.7 1.4 2.8 1.1 2.7 1.4" stroke="#2e6e22" stroke-width=".5" opacity=".7"/>
<path d="M402.6 115.2l-1.3 2.7-1.1 2.8-1.1 2.7-1.1 2.8-1.2 2.8-1.5 2.6-2.3 1.9-2.1 2.2-1.9 2.3-2.1 2.2-1.7 2.4-1.9 2.3-2.1 2.2-2 2.3-2.1 2.1-1.7 2.5-1.9 2.3-1.4 2.6-1.2 2.8-.9 2.8-.8 2.9-1.2 2.8-1.1 2.8-1 2.8-1.2 2.7-1.8 2.5-1.7 2.4" stroke="#3c8a2c" stroke-width=".7" opacity=".7"/>
<path d="M341.2 63.2l2.3 1.9 2.2 2 2.2 2 1.9 2.3 1.7 2.5 1.8 2.4 2.1 2.2 2.1 2.2 1.7 2.4 2.1 2.2" stroke="#2e6e22" stroke-width=".8" opacity=".7"/>
<path d="M336.6 106.5l-.4 2.9-.4 3-.7 2.9-.7 3-1 2.8-1.2 2.7-1.4 2.7-1.2 2.7-2 2.3-2 2.2-2.1 2.2-2.1 2.2-2.2 1.9-1.9 2.3-1.8 2.4-2.1 2.2-2.3 2-2.3 1.9-2.3 1.9-2.4 1.8-2.3 1.9-2 2.2-2.2 2.1-2.2 2-2.2 2.1-2.5 1.7" stroke="#2e6e22" stroke-width=".6" opacity=".5"/>
<path d="M382.1 37.2l-2.3-2-2.2-2-2.2-2.1-2.5-1.6-2.6-1.4-2.7-1.5-2.4-1.8-2.3-1.9-2.2-2.1-2.2-2-1.7-2.4-2-2.3-2-2.2-1.9-2.4-1.7-2.4-1.9-2.3-2.1-2.2-2.1-2.1-1.9-2.3-1.9-2.4-2.1-2.1-2.1-2.1-2-2.3-2.3-1.9-2.1-2.2-2.1-2.1-2.3-1.9-2-2.3-1.6-2.5" stroke="#52aa3a" stroke-width=".9" opacity=".7"/>
<path d="M371.1 24l-.2-3-.1-3-.1-3-.7-2.9-.9-2.9-1.3-2.7-1.9-2.3-1.4-2.7-1.7-2.5-1.6-2.5-1.4-2.6-1.4-2.7-1.6-2.5-1.8-2.4-1.7-2.5-2-2.3-1.7-2.4-1.7-2.5-1.6-2.5" stroke="#2e6e22" stroke-width=".7" opacity=".6"/>
<path d="M381.1 33.8l-.2 3-.4 3-.4 3 0 3-.4 3-.6 2.9 .1 3 .3 3-.3 3-1.2 2.7-1.4 2.7-1.2 2.7-1.6 2.5-1.6 2.6-1.4 2.7-1.3 2.7-.8 2.9-1.1 2.7-.9 2.9-1.1 2.8-.8 2.9-.5 2.9-.4 3 .1 3" stroke="#3c8a2c" stroke-width=".7" opacity=".7"/>
<path d="M367.1 31.5l-.1 3-.5 2.9-.6 2.9-.7 3-.5 2.9-.6 3-.5 2.9-.1 3 .2 3 .5 3 .7 2.9 1.1 2.8 .8 2.9 1.4 2.6" stroke="#52aa3a" stroke-width=".7" opacity=".5"/>
<path d="M322.9 121.7l-3 .3-2.9 .4-2.9 1-2.7 1.2-2.8 1.2-2.7 1.3-2.7 1.3-2.8 1-2.9 .8-3 .4-3 .1-3 .3-2.9 .3-3 .4-3 .5-2.9 .6-2.8 1.2-2.6 1.4-2.7 1.3-2.5 1.7-2.5 1.7-2.6 1.5" stroke="#3c8a2c" stroke-width=".9" opacity=".7"/>
<path d="M417.2 38.8l3-.4 2.9-.5 3 .1 3 .3 3-.3 3-.4 2.9-.6 3-.3 2.9-.8 2.9-.8 2.9-.5 2.8-1.1 2.6-1.5 2.4-1.9 2.4-1.7 2.7-1.4 2.6-1.5 2.4-1.8 2.1-2.1 2.2-2 2.5-1.8 2.5-1.6 2.7-1.3" stroke="#347a26" stroke-width=".8" opacity=".8"/>
<path d="M342.1 100.6l1.7 2.5 1.5 2.6 1.1 2.8 1.3 2.7 1.7 2.5 1.8 2.4 1.6 2.5 1.7 2.5 2.3 1.9 2.4 1.8 2.4 1.8 2.6 1.4 2.8 1.2 2.6 1.5 2.5 1.6 2.4 1.9 2.2 2.1 2 2.1 2.6 1.6 2.8 1 2.9 .8 2.7 1.3 2.9 1 2.4 1.7" stroke="#2e6e22" stroke-width=".9" opacity=".8"/>
<path d="M407.7 96.7l.8 2.9 1.1 2.7 1.8 2.4 1.9 2.4 1.7 2.5 1.5 2.5 1.6 2.6 1.7 2.5 1.3 2.7 1.3 2.7 1 2.8 .9 2.9 .7 2.9 .3 3 .5 2.9 .6 3 .9 2.8" stroke="#48a034" stroke-width=".5" opacity=".8"/>
<path d="M404.7 65.7l2.9 .9 2.7 1.3 2.9 .9 2.9 .6 2.9 .8 2.7 1.3 2.7 1.3 2.8 1 2.8 1 3 .6 2.9 .3 2.9 .9" stroke="#48a034" stroke-width=".6" opacity=".5"/>
<path d="M329.6 21.2l1.4 2.7 .9 2.9 .5 2.9 .1 3 .1 3-.2 3 0 3-.3 3-.7 2.9-.2 3-.2 3-.2 3-.1 3" stroke="#347a26" stroke-width=".5" opacity=".7"/>
<path d="M438 94.3l-3-.3-2.9-.4-3-.4-3 .1-3 .1-3 .6-2.9 .5-3 .3-3 .3-3 .2-2.9 .5-3 0-3 .2-2.9 1-2.8 1-2.7 1.2-2.6 1.6-2.4 1.8-2.5 1.6-2.3 2-2.2 2.1-2.5 1.6-2.7 1.3-2.6 1.4-2.7 1.4" stroke="#347a26" stroke-width=".9" opacity=".8"/>
<path d="M346.1 35.2l2.5-1.5 2.7-1.4 2.6-1.5 2.6-1.5 2.9-.8 2.8-1.1 2.6-1.5 2.2-1.9 1.6-2.6 .9-2.8 1.1-2.8 .8-2.9 .1-3-.5-3" stroke="#2e6e22" stroke-width=".9" opacity=".8"/>
<path d="M368 79.8l-2.6-1.4-2.7-1.5-2.6-1.5-2.1-2.1-1.8-2.5-1.8-2.3-1.7-2.5-1.6-2.5-1.6-2.6-1.7-2.4-2.1-2.1-2.3-2-2.6-1.5" stroke="#3c8a2c" stroke-width=".8" opacity=".8"/>
<path d="M345.7 118.4l-2.7-1.4-2.6-1.5-2-2.3-2.4-1.8-2.2-2-2.1-2.1-2.1-2.2-2-2.3-1.7-2.4-2.1-2.2-2.4-1.7-2.7-1.3-2.8-1-2.9-.9-2.9-1-2.8-1.1-2.7-1.1-2.9-.8-2.9-.7-2.9-1-2.7-1.3-2.6-1.4-2.8-1.2-2.4-1.8-2.6-1.5-2.4-1.8-2.1-2.1-2.2-2-2-2.3" stroke="#3c8a2c" stroke-width=".8" opacity=".5"/>
<path d="M382.8 28.9l-2.9 1-2.7 1.2-2.7 1.3-2.7 1.2-2.7 1.4-2.8 1.2-2.6 1.4-2.8 1.2-2.7 1.2" stroke="#3c8a2c" stroke-width=".5" opacity=".6"/>
<path d="M379.6 101.9l1.9 2.3 2.3 1.9 2.6 1.6 2.6 1.5 2.4 1.8 1.9 2.2 1.8 2.5 1.9 2.3 1.4 2.6 .8 2.9 .7 3 1.1 2.7 .6 3 .7 2.9 .4 3 .2 3-.6 2.9-1 2.8-1.5 2.6-1.1 2.8-.7 2.9-.9 2.9-.7 2.9" stroke="#52aa3a" stroke-width=".9" opacity=".7"/>
<path d="M366.6 111l0 3-.2 3-.7 2.9-.5 2.9 0 3-.4 3-.6 3 .2 2.9 .3 3 .7 2.9 .6 3 .8 2.9 .4 2.9 .6 3 .8 2.9 .7 2.9 .4 3 .8 2.8 1.2 2.8 1.5 2.6 1.6 2.6 1.5 2.6" stroke="#2e6e22" stroke-width=".6" opacity=".5"/>
<path d="M351.3 52.7l-3 .3-3 .3-2.9-.8-2.9-.7-2.6-1.5-2.4-1.8-2.4-1.8-2.5-1.6-2.7-1.5-2.5-1.6-2.5-1.7-2.5-1.6-2.3-1.9" stroke="#347a26" stroke-width=".6" opacity=".7"/>
<path d="M334.9 40.2l-2.7 1.3-2.7 1.2-2.6 1.5-2.7 1.4-2.8 1-2.8 1.2-2.9 .8-2.9 .8-2.8 .8" stroke="#48a034" stroke-width=".9" opacity=".6"/>
<path d="M389.2 96.9l-2.6 1.4-2.5 1.7-2.2 2.1-2.4 1.8-2.1 2.1-2 2.2-1.9 2.3-2 2.3-2.1 2.2-1.8 2.3-2 2.3-1.8 2.4-1.1 2.8-1.1 2.8-1.5 2.6" stroke="#48a034" stroke-width=".6" opacity=".6"/>
<path d="M375.4 83.6l-2.3 1.9-1.8 2.4-2 2.3-1.8 2.3-2.4 1.9-2.3 1.8-2.5 1.7-2.4 1.8-2.4 1.8-2.6 1.5-2.5 1.7-1.8 2.4-1.9 2.4-2.1 2-2.3 2-2.1 2.1-2.2 2.1-2.4 1.8-2.8 1.1-2.8 1.1-2.7 1.3-2.8 1.1-2.8 1.1-2.6 1.5-2.7 1.2-2.7 1.3-2.2 2-2.2 2.1-2.1 2.1" stroke="#3c8a2c" stroke-width=".6" opacity=".6"/>
<path d="M329.6 26.5l2.3-2 2.2-2 2-2.3 1.9-2.3 2.1-2.1 2.1-2.2 1.4-2.6 1.1-2.8 1.1-2.8 1.1-2.8 .9-2.9 .8-2.8 1.1-2.9 1.2-2.7 .5-3 .2-3-.1-3-.4-2.9-.5-3-.1-3-.2-3-.7-2.9-1.1-2.8-1.1-2.8-1.4-2.7-1.5-2.5-1.1-2.8-.5-3" stroke="#347a26" stroke-width=".8" opacity=".5"/>
<path d="M404.3 90.4l3 .2 3 .3 3 .2 3 .2 3-.2 3-.1 3 .2 3-.2 3-.1 2.9-.5 2.9-1 2.6-1.4 2.9-.9 2.9-.7 2.9-.9 2.9-.5 2.8-1.2 2.7-1.1 2.7-1.4 2.8-1.1 2.6-1.5 2.6-1.5 2.6-1.4 2.9-1 2.7-1.1 2.8-1.2 2.9-.9 2.8-.8 3-.6" stroke="#52aa3a" stroke-width=".6" opacity=".5"/>
<path d="M427.6 101.3l1.9 2.3 2.2 2.1 2.5 1.7 2.8 1 2.7 1.2 3 .6 2.9 .7 2.7 1.2 2.9 .7 3 .6 3-.3 3 .1 3-.1 2.9-.3 3-.3 3-.1 3-.1 3-.2 3-.4 3-.4 2.9-.8 2.9-.8 2.6-1.4 2.5-1.7 2.8-.9 2.9-1 2.6-1.4 2.7-1.3 2.6-1.6 2.1-2.1" stroke="#347a26" stroke-width=".7" opacity=".8"/>
<path d="M401 37.5l-2.2 1.9-2.4 1.9-2.1 2.1-1.4 2.6-1 2.9-1.8 2.4-1.4 2.6-1.4 2.7-1.5 2.6-1.4 2.6-1.4 2.7-.8 2.9-.4 3-1.1 2.8-.8 2.9-1.1 2.8-.4 2.9-.4 3-.4 3-.9 2.8-.4 3-.6 2.9-.8 2.9-.5 3-.7 2.9-.4 3 0 3-.1 3" stroke="#2e6e22" stroke-width=".6" opacity=".5"/>
<path d="M379.7 30.9l1.2 2.8 .7 2.9 1.2 2.7 1.6 2.6 1.1 2.8 1 2.8 .5 2.9 .9 2.9 .6 3 .5 2.9 .3 3 .2 3-.2 3 0 3 .4 3 .9 2.8 .5 3 .8 2.9 1.2 2.7 1.5 2.6 1.6 2.5 2.1 2.2 2.1 2.1 2.3 2 2.4 1.7 2.6 1.5 2.7 1.5 2.7 1.3 2.6 1.3 2.7 1.5" stroke="#3c8a2c" stroke-width=".9" opacity=".7"/>
<path d="M365.4 104.6l.5-3-.3-3-.2-3-.1-3 .3-3 .5-2.9-.3-3-.8-2.9-1.1-2.8-1.2-2.7-.9-2.9-1.4-2.7-1.9-2.3-1.6-2.5-1.7-2.5-1.7-2.5-1.8-2.3-2.2-2.1-1.8-2.4-1.8-2.4-1.5-2.6-.9-2.8-1.2-2.8-1.1-2.8-1.9-2.3" stroke="#3c8a2c" stroke-width=".7" opacity=".5"/>
<path d="M400.3 121.7l2-2.2 2.1-2.2 2-2.2 2.4-1.8 2.4-1.7 2.5-1.7 2.8-1.2 2.8-1.1 2.8-1 2.8-.9 2.7-1.5 2.7-1.1 2.6-1.6 2.8-1.1" stroke="#52aa3a" stroke-width=".7" opacity=".8"/>
<path d="M352 119.4l-.3-3 .4-3 .7-2.9 .5-3 0-3-.3-2.9 0-3-.8-2.9" stroke="#52aa3a" stroke-width=".7" opacity=".6"/>
<path d="M432.7 94.7l-2.7 1.1-3 .7-2.9 .2-3 .5-3 .1-3 .4-2.9 .7-2.8 1.1-2.9 .8-3 .1-2.9 .3-3 .6-2.9 .8" stroke="#3c8a2c" stroke-width=".7" opacity=".7"/>
<path d="M415.7 81.3l2.2-2 1.9-2.3 1.8-2.5 2.1-2.1 2.2-2 2.1-2.1 2-2.3 1.5-2.6" stroke="#48a034" stroke-width=".8" opacity=".6"/>
<path d="M322.7 46.1l-2.9 .9-2.7 1.1-2.8 1.1-2.7 1.4-2.8 .9-3 .3-3 .1-3 .1-3-.6-2.9-.5-3 .1-3 .3-2.9 .9-2.9 .8-2.7 1.2-2.7 1.3-2.4 1.8-2.7 1.4-2.6 1.5-1.9 2.3-1.8 2.4-1.9 2.3-1.5 2.6-1.9 2.4-2.2 2-2 2.2" stroke="#3c8a2c" stroke-width=".8" opacity=".6"/>
<path d="M332.7 102.9l0-3 .3-3 .3-3 1-2.8 .8-2.9 1.2-2.8 1.3-2.7 1.5-2.6 2-2.2 2.2-2 2.2-2.1 2.5-1.7 2.2-2 2.5-1.6 2.6-1.5" stroke="#52aa3a" stroke-width=".6" opacity=".5"/>
<path d="M396 100.9l1.9 2.3 1.6 2.6 1.5 2.5 1.7 2.5 1.7 2.5 1.6 2.5 .9 2.9 1.3 2.7 1.5 2.6 1.3 2.7 .5 2.9 .6 3 .3 3 .9 2.8 .7 3 .8 2.8 1 2.9 .8 2.9 1 2.8 .7 2.9 .7 2.9 .6 3 .6 2.9 1 2.8 .6 3 1.2 2.7 1.2 2.7" stroke="#3c8a2c" stroke-width=".8" opacity=".7"/>
<path d="M429.7 92.4l2.7 1.2 2.9 .9 2.6 1.5 2.7 1.3 2.8 1 2.7 1.3 2.5 1.7 1.9 2.3 1.6 2.5 1.7 2.5 1.4 2.7 1.3 2.7 1.8 2.4 1.2 2.8 .6 2.9 1 2.8 .4 3 .1 3" stroke="#52aa3a" stroke-width=".5" opacity=".5"/>
<path d="M410.2 116.8l-1.6-2.5-1.8-2.4-2.1-2.3-2.2-1.9-2.5-1.8-2.2-1.9-2.4-1.8-2.3-2-2.6-1.4-2.5-1.7-2.1-2.1-2.3-1.9-2.8-1.2-2.7-1.3-2.7-1.4-2.7-1.1-2.8-1.3" stroke="#2e6e22" stroke-width=".8" opacity=".8"/>
<path d="M338.7 65.3l2.6 1.6 2.3 1.9 2.7 1.5 2.7 1.1 2.7 1.3 2.7 1.4 2.8 1.1 2.8 .9 2.9 .8 2.9 .8 2.9 .9 2.9 .9 2.9 .3 2.9 .8 2.7 1.4 2.6 1.4 2.5 1.7 2.4 1.9 2.2 2 2 2.2" stroke="#48a034" stroke-width=".6" opacity=".5"/>
<path d="M375.5 69l2 2.3 1.3 2.7 1 2.8 1.1 2.8 1.4 2.7 1.7 2.5 1.6 2.5 1.6 2.5 1.4 2.7 2 2.2 1.3 2.7 .4 3 .5 2.9 .2 3 0 3-.2 3 0 3 .1 3 .3 3 .3 3 .3 3 .1 3 .5 2.9 .5 3" stroke="#2e6e22" stroke-width=".6" opacity=".6"/>
<path d="M327.2 61.3l-.5 3-.7 2.9-.8 2.9-1 2.8-.3 3-.4 3-.6 2.9-.9 2.9-1.3 2.7-.9 2.9-1 2.8-1.1 2.8-1.5 2.6" stroke="#48a034" stroke-width=".7" opacity=".5"/>
<path d="M330.1 95.2l-2.3 1.9-2.2 2-2.2 2-2.6 1.6-2.6 1.5-2.6 1.5-2.2 2-2.5 1.6-2.7 1.4" stroke="#48a034" stroke-width=".6" opacity=".8"/>
<path d="M365.2 35.7l-2.4 1.8-2.5 1.7-2.3 1.9-2.8 1.1-2.6 1.5-2.8 1.2-2.8 1-2.8 1-3 .3-3-.3-3 .1-3-.3-3 .1-3-.1-3 0-2.9-.4-2.9-.9-2.9-.7-2.9-.8-2.9-.9-2.9-.6-2.9-.7-2.9-.8-3-.7-2.9-.5-3-.3-2.9-.8" stroke="#3c8a2c" stroke-width=".5" opacity=".8"/>
<path d="M408.3 45.9l1.2-2.7 1-2.9 1-2.8 .7-2.9 1.2-2.8 .7-2.9 1-2.8 .9-2.9 .6-2.9 .5-3 .5-2.9 .8-2.9 .5-3 .6-2.9 .1-3-.5-3-.1-3 .3-3 .3-3 .1-3 .5-2.9-.4-3-.6-2.9-.4-3-.1-3-.6-3-1.2-2.7-.7-2.9" stroke="#347a26" stroke-width=".6" opacity=".5"/>
<path d="M361.4 64.1l3 0 2.9-.8 3-.3 3-.1 2.9 .7 3 .5 3 .5 2.8 .9 2.9 .6 3 .4 3 .2 3 .2 3-.2 3 0 3 .2 3 .2 2.9 .8 2.9 .8" stroke="#52aa3a" stroke-width=".8" opacity=".8"/>
<path d="M425.3 111l3 .1 2.9-.6 2.8-1 2.7-1.3 2.8-1.3 2.6-1.3 2.8-1.3 2.7-1.1 2.9-.8 2.9-.9 2.9-.6 3-.6 2.9-.7 2.9-.6 3 .4 2.9 .7 2.7 1.4 2.8 1.1 2.6 1.4 2.5 1.7 2.2 2 2.4 1.9 2.8 1.1 2.8 1.1 2.6 1.5 2.7 1.3 2.7 1.2 2.5 1.7" stroke="#2e6e22" stroke-width=".6" opacity=".6"/>
<path d="M403.2 41.8l-2.2 2-1.9 2.3-1.4 2.6-1.4 2.7-1 2.9-1.1 2.7-1.1 2.8-1.3 2.7-1 2.8-1 2.9-.9 2.8-.9 2.9-.4 3-1.1 2.8-1 2.8-1.6 2.6-1.2 2.7-1.2 2.7-1.6 2.6-1.5 2.6-1.5 2.6-1.4 2.7-1.9 2.2-2.2 2.1-2.1 2.2" stroke="#52aa3a" stroke-width=".8" opacity=".6"/>
<path d="M411.1 73l3-.1 3-.2 3-.4 3-.5 2.9-.3 3-.5 2.8-1 3-.6 2.8-1.1 2.4-1.7 2.5-1.7 2.4-1.8 2-2.3 1.4-2.6 1.5-2.6 1.4-2.7 .5-2.9 1.1-2.8 1.5-2.6 2.1-2.1 2.1-2.2 1.8-2.4 1.6-2.5 2.1-2.2 1.9-2.3 1.4-2.7 1.7-2.4 2-2.3 1.7-2.4" stroke="#52aa3a" stroke-width=".8" opacity=".7"/>
<path d="M356 55.4l-1.5 2.6-1.4 2.7-1.1 2.8-1.7 2.5-1.9 2.3-1.6 2.6-1.3 2.6-1.5 2.7-1.4 2.6-1.6 2.6-1.1 2.7-1 2.9-1.6 2.5-1.9 2.3-1.8 2.4-2.2 2.1-2.5 1.6-2 2.2-2.1 2.2-2.3 1.9-2.4 1.8-2.3 1.8-2.7 1.5-2.7 1.3" stroke="#52aa3a" stroke-width=".6" opacity=".7"/>
<path d="M358.8 83.4l-2.7 1.2-2.6 1.6-2.5 1.6-2.5 1.7-2.4 1.8-2.2 2.1-2.2 1.9-2.3 2-2.3 2-2.5 1.6-2.2 2-2.1 2.1-2.4 1.9-2.2 2-2.4 1.9-2.5 1.5-2.3 2-2.4 1.7-2.7 1.3-2.6 1.6-2.4 1.8-2 2.2-2.2 2.1-2.4 1.8" stroke="#347a26" stroke-width=".9" opacity=".8"/>
<path d="M382.1 30.1l2-2.2 2.5-1.6 1.8-2.4 1.8-2.4 1.5-2.6 1.1-2.8 1.3-2.7 1.1-2.8 1.3-2.7 1.1-2.8 1.6-2.6 1.6-2.4 2-2.3 2.3-2 1.9-2.3 1.5-2.6 1.6-2.6 1.4-2.6 2-2.2 2-2.3 1.3-2.7 1.1-2.8 .9-2.8 1-2.9 1.1-2.7 1.1-2.8 1.4-2.7 1.9-2.3 1.2-2.8 1-2.8" stroke="#2e6e22" stroke-width=".7" opacity=".5"/>
<path d="M345.6 81.5l1.8 2.4 2 2.2 1.8 2.4 1.7 2.5 2.2 2 2.3 1.9 2.6 1.5 2.9 1 2.7 1.1 2.8 1.2 2.8 1.1 2.9 .9 2.9 .8 2.9 .4 3 .6 2.9 .8 2.6 1.5 2.3 1.9 2.5 1.6 2.6 1.4 2.8 1.2 2.8 1.2 2.3 1.9 2.1 2.1" stroke="#2e6e22" stroke-width=".8" opacity=".5"/>
<path d="M328.8 43.5l-.1 3 .1 3 .5 3-.3 2.9-.5 3-.1 3 .7 2.9 1.2 2.8 2 2.2 2 2.2 2 2.3 1.7 2.5 1.7 2.4" stroke="#347a26" stroke-width=".7" opacity=".7"/>
<path d="M325.1 109.3l2.7 1.4 2.8 1.1 2.6 1.4 2.5 1.6 2.6 1.6 2.6 1.5 2.7 1.3 2.8 1.1 2.8 .9 2.9 .9 2.9 .9 2.6 1.4 2.4 1.8" stroke="#347a26" stroke-width=".7" opacity=".6"/>
<path d="M376.8 54.6l-2.7 1.3-2.5 1.7-2.7 1.3-2.9 .8-3 .6-2.9 .4-3 .4-3 .5-2.7 1.1-2.9 .9-2.9 .9-2.8 1-2.6 1.4-2.9 1-2.5 1.6-2.9 .9" stroke="#48a034" stroke-width=".6" opacity=".6"/>
<path d="M346.3 108.3l-.9-2.9-.9-2.8-1.8-2.4-1.5-2.6-1.8-2.4-1.9-2.3-2.1-2.2-2-2.2-2-2.2-2.5-1.8-2-2.2-1.6-2.5-1.8-2.5-2.2-2-1.7-2.4-1.7-2.5-1.6-2.5-1.6-2.6-1.8-2.4-2.1-2.1-2.1-2.1-2.3-2-2.2-2.1-1.5-2.6-.7-2.9-.4-3-.3-3-.8-2.8-.6-3 0-3" stroke="#3c8a2c" stroke-width=".6" opacity=".5"/>
<path d="M405.8 48.1l-2.6 1.6-2 2.2-2.1 2.2-2 2.2-2 2.2-2.1 2.2-1.8 2.3-1.5 2.7-1.2 2.7-1.5 2.6-1.2 2.7-.8 2.9-.7 2.9-1.5 2.7-1.2 2.7-1.5 2.6-1.6 2.5-1.8 2.5-2.2 2-1.9 2.3-1.9 2.3-1.8 2.4" stroke="#3c8a2c" stroke-width=".7" opacity=".6"/>
<path d="M410.5 34.9l-.5-2.9 .1-3 .4-3 1.1-2.8 .5-3 .3-3 .2-3 .7-2.9 .5-2.9 .2-3 .9-2.9 .9-2.9 .9-2.8 .7-2.9 1.4-2.7 1.5-2.6 1.4-2.6 1.4-2.7 1.4-2.6 1.6-2.6 1.6-2.5 1.4-2.7 1.8-2.3 1.6-2.6 2-2.2" stroke="#52aa3a" stroke-width=".9" opacity=".7"/>
<path d="M348.2 73.7l-2 2.3-1.8 2.4-1.8 2.4-1.3 2.7-1.3 2.7-1.6 2.5-1.2 2.8-.6 2.9-.5 3-.8 2.9-1.2 2.7-1.6 2.6-1.1 2.7-.8 2.9-.9 2.9-1.5 2.6-1.4 2.7-1.1 2.8-1 2.8-1.4 2.7-1.8 2.3" stroke="#48a034" stroke-width=".7" opacity=".5"/>
<path d="M329.4 56l-2.5 1.7-2.4 1.8-2.2 2-2 2.2-1.5 2.6-1.5 2.6-2 2.2-2.1 2.2-2.3 2-2.5 1.6-2.5 1.6-2.4 1.8-2.3 2-1.9 2.2" stroke="#48a034" stroke-width=".6" opacity=".8"/>
<path d="M386.2 98.1l.9 2.8 0 3-.2 3 .2 3-.1 3-.6 3-1 2.8-1 2.8-1.8 2.4-1.9 2.3-1.9 2.3-2.1 2.3-1.7 2.4-2.4 1.8-2.5 1.6-2.7 1.3-2.6 1.6-2.5 1.6-2.4 1.8-2.4 1.8-1.7 2.5-1.8 2.4-1.2 2.7-1.3 2.7-1 2.8-1.6 2.6-1.4 2.6-2 2.3-2.2 2" stroke="#2e6e22" stroke-width=".6" opacity=".6"/>
<path d="M333.1 48.5l-2.4-1.9-2.4-1.7-2.8-1.3-2.4-1.7-2.2-2-2-2.3-1.9-2.3-1.8-2.4-1.5-2.6-1.1-2.8-1.1-2.8-.8-2.9-1.1-2.8-.6-2.9-.2-3-.4-3 0-3-.3-2.9 0-3-.1-3 .1-3 .6-3 1.3-2.7 1.4-2.6 1.2-2.8 1.4-2.7 1.4-2.6 1.6-2.5" stroke="#52aa3a" stroke-width=".9" opacity=".8"/>
<path d="M379.9 70.8l2.3 2 2.5 1.6 2.7 1.3 2.7 1.5 2.4 1.6 2.3 2 2 2.2 2.6 1.6 2.1 2.1 2 2.3 2.2 2 2.2 2 1.9 2.3 1.5 2.7 1.4 2.6 1.1 2.8 1.6 2.6" stroke="#48a034" stroke-width=".6" opacity=".7"/>
<path d="M382.3 62.6l-2.3 1.9-2.4 1.9-2.5 1.6-2.8 1.2-2.7 1.1-2.8 1.2-2.8 .9-2.6 1.5-2.4 1.8-2.3 2-2 2.2-1.9 2.4-1.5 2.6-1.7 2.4-1.5 2.6-1.5 2.6-1 2.9-1.3 2.7-1.8 2.3-2.1 2.2-2.1 2.2-1.8 2.4" stroke="#347a26" stroke-width=".7" opacity=".6"/>
<path d="M365.3 87.2l2.4 1.9 2.4 1.8 2.3 1.9 2.4 1.8 2.5 1.7 2.7 1.2 2.6 1.5 2.4 1.8 2.8 1 2.9 .8 3 .5 2.9 .8 2.9 .5 3 .6 2.9 .8 2.5 1.7 2.3 1.8 2 2.3" stroke="#48a034" stroke-width=".8" opacity=".6"/>
<path d="M333.5 74.1l-.1 3-.5 2.9 .1 3 .2 3 .3 3 1.1 2.8 1.8 2.4 1.9 2.3 2.2 2 2.6 1.6 2.4 1.8 2.2 2.1 2.6 1.4 2.6 1.5 2.3 1.8 2.5 1.8 2.2 2 2.2 2 2.6 1.6 2.5 1.6 2.9 .8 2.9 .5 3 .6" stroke="#3c8a2c" stroke-width=".6" opacity=".8"/>
<path d="M329.2 43.4l-2.4 1.8-2.1 2.1-1.5 2.6-1.3 2.7-1.3 2.7-1.8 2.4-2.2 2-2.8 1.1" stroke="#48a034" stroke-width=".7" opacity=".8"/>
<path d="M423.7 36.2l.5-3 .7-2.9 .2-3 .4-3 .5-2.9 .5-3 .9-2.8 .6-3 .5-2.9-.2-3-.1-3-.3-3-.1-3-.3-3 .2-3 .9-2.8 1.2-2.8 1.1-2.8" stroke="#52aa3a" stroke-width=".5" opacity=".8"/>
<path d="M373.6 101.3l-3-.2-3-.2-3 0-3 .4-2.9 .4-3 .6-2.8 .9-3 .4-3-.2-3 .4" stroke="#347a26" stroke-width=".9" opacity=".5"/>
<path d="M362.3 34.4l-3 .1-3 .1-3 .1-3-.1-2.9-.8-2.9-.6-3-.2-3-.1-3 0" stroke="#52aa3a" stroke-width=".7" opacity=".8"/>
<path d="M393.5 26.5l-1.4 2.7-1.5 2.6-1.4 2.7-1.2 2.7-1.4 2.6-.9 2.9-.7 2.9-1.1 2.8-1.3 2.7-1.3 2.7-1 2.9-1.4 2.6-1.4 2.7-1.7 2.5" stroke="#2e6e22" stroke-width=".5" opacity=".5"/>
<path d="M400.5 47.1l-.8 2.9-.8 2.9-.3 3-.1 3-.5 2.9-.9 2.9-1.6 2.5-1.2 2.8-1.4 2.6-1.5 2.6-1.2 2.8-1.3 2.7-1.8 2.4-2.1 2.1-2.2 2.1-1.9 2.3-2 2.2-1.9 2.4-2.5 1.7-2.6 1.3-2.6 1.5-2.8 1.2-2.8 1.1-2.7 1.3" stroke="#2e6e22" stroke-width=".8" opacity=".6"/>
<path d="M404.3 88.8l1.6-2.5 1.6-2.6 2-2.2 .9-2.9 1.1-2.8 1.2-2.7 1.7-2.5 1.3-2.7 1-2.9 1.2-2.7 1.4-2.7 .5-2.9 .3-3 .2-3 .1-3-.1-3-.7-2.9-.9-2.9-.7-2.9-.8-2.9-.5-3 .4-2.9 0-3" stroke="#347a26" stroke-width=".9" opacity=".6"/>
<path d="M412.5 63.4l1.9-2.4 2-2.2 1.8-2.4 2.1-2.1 2.6-1.6 2.2-2 2-2.2 1.9-2.3 1.8-2.5 1.8-2.4" stroke="#52aa3a" stroke-width=".6" opacity=".7"/>
<path d="M422.9 86.3l1 2.9 .4 2.9 .6 3 0 3-.4 2.9-.6 3-.3 3-.6 2.9-.7 2.9" stroke="#2e6e22" stroke-width=".8" opacity=".5"/>
<path d="M360 21.5l-1.1 2.8-.8 2.9-.6 2.9-.3 3-.7 2.9-.8 2.9-1.3 2.7-1.5 2.6" stroke="#347a26" stroke-width=".8" opacity=".8"/>
<path d="M368.9 116.9l2.4-1.9 2.3-1.9 2.3-1.9 2.3-1.9 2-2.2 1.7-2.5 1.6-2.6 1.8-2.4" stroke="#48a034" stroke-width=".6" opacity=".7"/>
<path d="M420.2 56l-1.5 2.6-1.5 2.6-.9 2.9-.7 2.9-.5 2.9-.2 3-.3 3 .1 3 .2 3 .8 2.9 .8 2.9 1.2 2.8 .9 2.8 1.9 2.3 2.1 2.2 2.1 2.2 2.6 1.4 2.7 1.4 2.6 1.4" stroke="#52aa3a" stroke-width=".5" opacity=".8"/>
<path d="M436 34.3l-2-2.2-2.1-2.2-2.1-2.1-2-2.2-2-2.2-1.7-2.5-1.4-2.6-1.7-2.5-1.8-2.5-1.5-2.6-1.6-2.5-1.4-2.6-1.3-2.7-1.4-2.7-2-2.2-2.1-2.2-1.9-2.3-2-2.3-2.1-2.1-1.8-2.4" stroke="#347a26" stroke-width=".9" opacity=".6"/>
<path d="M347.1 101.1l3 .5 3 .4 3 .3 3 .1 3-.3 2.9-.2 3-.3 3-.6 2.9-.8 3 0 2.9-.4 3-.6 2.8-.9 2.9-.8 3-.5 2.9-.8 2.9-.7 3-.5 3 .2 3-.1 2.9-.3 3 0 3-.1 3-.2 3-.4 3 .2 3-.5 2.9-.5 3 .1" stroke="#347a26" stroke-width=".6" opacity=".6"/>
<path d="M378.9 111.7l2.2 2.1 2.5 1.6 2.6 1.6 2.4 1.7 2.4 1.8 2.8 1.2 2.7 1.2 2.8 1.1 2.8 1.1 2.9 .8 2.9 .5 3 .6 2.7 1.2 2.9 .9 2.8 1 2.9 .8 2.8 1 2.9 .9 2.9 .7 2.8 1.2 2.9 .7 2.7 1.3 2.9 .9 2.8 1 3 .5 2.9 .8 2.9 .7 3 .2 3-.1" stroke="#2e6e22" stroke-width=".6" opacity=".8"/>
<path d="M402.6 22.6l-2.9-.8-3-.3-3 0-3 0-3 .2-3 0-3 .2-2.9-.7-2.7-1.2-2.6-1.6-2.5-1.6-2.4-1.8-2.4-1.7-2.7-1.4-2.8-1.2" stroke="#2e6e22" stroke-width=".7" opacity=".5"/>
<path d="M363.6 70.5l2.9-.8 2.8-.9 3-.7 2.9-.7 3-.1 3 .1 3 .4 2.9 .5 2.9 .7 3 .6 2.7 1.3 2.6 1.4 2.5 1.7 2.5 1.7 2.6 1.5 2.5 1.7 2.6 1.4 2.6 1.5 2.7 1.3" stroke="#347a26" stroke-width=".7" opacity=".6"/>
</g>
<g filter="url(#blur1)">
<circle cx="338.3" cy="46.7" r="3.4" fill="#4a6a22" stroke="none" stroke-width="1" opacity="0.55"/>
<circle cx="340.9" cy="49.3" r="3.4" fill="#4a6a22" stroke="none" stroke-width="1" opacity="0.55"/>
<circle cx="344.3" cy="56.5" r="3.4" fill="#4a6a22" stroke="none" stroke-width="1" opacity="0.55"/>
<circle cx="340.2" cy="64.3" r="3.4" fill="#4a6a22" stroke="none" stroke-width="1" opacity="0.55"/>
<circle cx="358.2" cy="57.3" r="3.4" fill="#4a6a22" stroke="none" stroke-width="1" opacity="0.55"/>
<circle cx="352.5" cy="77.7" r="3.4" fill="#4a6a22" stroke="none" stroke-width="1" opacity="0.55"/>
<circle cx="358.2" cy="78.1" r="3.4" fill="#4a6a22" stroke="none" stroke-width="1" opacity="0.55"/>
<circle cx="354.9" cy="84.6" r="3.4" fill="#4a6a22" stroke="none" stroke-width="1" opacity="0.55"/>
<circle cx="358.2" cy="85.1" r="3.4" fill="#4a6a22" stroke="none" stroke-width="1" opacity="0.55"/>
<circle cx="336.9" cy="102.3" r="3.4" fill="#4a6a22" stroke="none" stroke-width="1" opacity="0.55"/>
<circle cx="344.3" cy="108.8" r="3.4" fill="#4a6a22" stroke="none" stroke-width="1" opacity="0.55"/>
<circle cx="356.5" cy="103.9" r="3.4" fill="#4a6a22" stroke="none" stroke-width="1" opacity="0.55"/>
<circle cx="358.2" cy="112.1" r="3.4" fill="#4a6a22" stroke="none" stroke-width="1" opacity="0.55"/>
<circle cx="385.2" cy="94.9" r="3.4" fill="#4a6a22" stroke="none" stroke-width="1" opacity="0.55"/>
<circle cx="394.2" cy="67.9" r="3.4" fill="#4a6a22" stroke="none" stroke-width="1" opacity="0.55"/>
<circle cx="395" cy="43.1" r="3.4" fill="#4a6a22" stroke="none" stroke-width="1" opacity="0.55"/>
<circle cx="399.9" cy="45" r="3.4" fill="#4a6a22" stroke="none" stroke-width="1" opacity="0.55"/>
<circle cx="410.5" cy="51.6" r="3.4" fill="#4a6a22" stroke="none" stroke-width="1" opacity="0.55"/>
<circle cx="405.6" cy="49.9" r="3.4" fill="#4a6a22" stroke="none" stroke-width="1" opacity="0.55"/>
<circle cx="412.2" cy="31.9" r="3.4" fill="#4a6a22" stroke="none" stroke-width="1" opacity="0.55"/>
<circle cx="413.8" cy="41.8" r="3.4" fill="#4a6a22" stroke="none" stroke-width="1" opacity="0.55"/>
<circle cx="418.7" cy="40.9" r="3.4" fill="#4a6a22" stroke="none" stroke-width="1" opacity="0.55"/>
<circle cx="430.1" cy="48.3" r="3.4" fill="#4a6a22" stroke="none" stroke-width="1" opacity="0.55"/>
<circle cx="424.4" cy="67.9" r="3.4" fill="#4a6a22" stroke="none" stroke-width="1" opacity="0.55"/>
<circle cx="430.1" cy="67.9" r="3.4" fill="#4a6a22" stroke="none" stroke-width="1" opacity="0.55"/>
<circle cx="417.9" cy="88.4" r="3.4" fill="#4a6a22" stroke="none" stroke-width="1" opacity="0.55"/>
<circle cx="405.6" cy="103.9" r="3.4" fill="#4a6a22" stroke="none" stroke-width="1" opacity="0.55"/>
<circle cx="401.5" cy="105.5" r="3.4" fill="#4a6a22" stroke="none" stroke-width="1" opacity="0.55"/>
<circle cx="393.4" cy="115.3" r="3.4" fill="#4a6a22" stroke="none" stroke-width="1" opacity="0.55"/>
<circle cx="384.4" cy="34.4" r="3.4" fill="#4a6a22" stroke="none" stroke-width="1" opacity="0.55"/>
<circle cx="372.9" cy="64.6" r="3.4" fill="#4a6a22" stroke="none" stroke-width="1" opacity="0.55"/>
<circle cx="330.4" cy="72.8" r="3.4" fill="#4a6a22" stroke="none" stroke-width="1" opacity="0.55"/>
<circle cx="425.2" cy="81.8" r="3.4" fill="#4a6a22" stroke="none" stroke-width="1" opacity="0.55"/>
<circle cx="334.5" cy="104.5" r="3.4" fill="#4a6a22" stroke="none" stroke-width="1" opacity="0.55"/>
<circle cx="337.8" cy="46.2" r="1.85" fill="#d03e28" stroke="none" stroke-width="1" opacity="0.85"/>
<circle cx="340.4" cy="48.8" r="1.83" fill="#d4462a" stroke="none" stroke-width="1" opacity="0.85"/>
<circle cx="343.8" cy="56" r="2.13" fill="#d03e28" stroke="none" stroke-width="1" opacity="0.85"/>
<circle cx="339.7" cy="63.8" r="2.14" fill="#c03426" stroke="none" stroke-width="1" opacity="0.85"/>
<circle cx="357.7" cy="56.8" r="1.74" fill="#b83022" stroke="none" stroke-width="1" opacity="0.85"/>
<circle cx="352" cy="77.2" r="2.02" fill="#d4462a" stroke="none" stroke-width="1" opacity="0.85"/>
<circle cx="357.7" cy="77.6" r="2.19" fill="#d03e28" stroke="none" stroke-width="1" opacity="0.85"/>
<circle cx="354.4" cy="84.1" r="2" fill="#c03426" stroke="none" stroke-width="1" opacity="0.85"/>
<circle cx="357.7" cy="84.6" r="2.11" fill="#c03426" stroke="none" stroke-width="1" opacity="0.85"/>
<circle cx="336.4" cy="101.8" r="2.15" fill="#c03426" stroke="none" stroke-width="1" opacity="0.85"/>
<circle cx="343.8" cy="108.3" r="1.84" fill="#b83022" stroke="none" stroke-width="1" opacity="0.85"/>
<circle cx="356" cy="103.4" r="2.01" fill="#d4462a" stroke="none" stroke-width="1" opacity="0.85"/>
<circle cx="357.7" cy="111.6" r="1.93" fill="#b83022" stroke="none" stroke-width="1" opacity="0.85"/>
<circle cx="384.7" cy="94.4" r="1.87" fill="#c03426" stroke="none" stroke-width="1" opacity="0.85"/>
<circle cx="393.7" cy="67.4" r="1.88" fill="#d4462a" stroke="none" stroke-width="1" opacity="0.85"/>
<circle cx="394.5" cy="42.6" r="1.91" fill="#d4462a" stroke="none" stroke-width="1" opacity="0.85"/>
<circle cx="399.4" cy="44.5" r="1.74" fill="#d4462a" stroke="none" stroke-width="1" opacity="0.85"/>
<circle cx="410" cy="51.1" r="1.81" fill="#c03426" stroke="none" stroke-width="1" opacity="0.85"/>
<circle cx="405.1" cy="49.4" r="1.84" fill="#b83022" stroke="none" stroke-width="1" opacity="0.85"/>
<circle cx="411.7" cy="31.4" r="1.97" fill="#b83022" stroke="none" stroke-width="1" opacity="0.85"/>
<circle cx="413.3" cy="41.3" r="1.64" fill="#d03e28" stroke="none" stroke-width="1" opacity="0.85"/>
<circle cx="418.2" cy="40.4" r="2.15" fill="#b83022" stroke="none" stroke-width="1" opacity="0.85"/>
<circle cx="429.6" cy="47.8" r="1.76" fill="#d4462a" stroke="none" stroke-width="1" opacity="0.85"/>
<circle cx="423.9" cy="67.4" r="2.11" fill="#b83022" stroke="none" stroke-width="1" opacity="0.85"/>
<circle cx="429.6" cy="67.4" r="1.91" fill="#d4462a" stroke="none" stroke-width="1" opacity="0.85"/>
<circle cx="417.4" cy="87.9" r="1.94" fill="#d03e28" stroke="none" stroke-width="1" opacity="0.85"/>
<circle cx="405.1" cy="103.4" r="1.64" fill="#b83022" stroke="none" stroke-width="1" opacity="0.85"/>
<circle cx="401" cy="105" r="1.91" fill="#d03e28" stroke="none" stroke-width="1" opacity="0.85"/>
<circle cx="392.9" cy="114.8" r="2.09" fill="#d03e28" stroke="none" stroke-width="1" opacity="0.85"/>
<circle cx="383.9" cy="33.9" r="2" fill="#d03e28" stroke="none" stroke-width="1" opacity="0.85"/>
<circle cx="372.4" cy="64.1" r="2.09" fill="#d4462a" stroke="none" stroke-width="1" opacity="0.85"/>
<circle cx="329.9" cy="72.3" r="1.71" fill="#c03426" stroke="none" stroke-width="1" opacity="0.85"/>
<circle cx="424.7" cy="81.3" r="1.79" fill="#b83022" stroke="none" stroke-width="1" opacity="0.85"/>
<circle cx="334" cy="104" r="2.1" fill="#d4462a" stroke="none" stroke-width="1" opacity="0.85"/>
<circle cx="340.57" cy="38.14" r="0.73" fill="#8ee05a" stroke="none" stroke-width="1"/>
<circle cx="338.42" cy="57.3" r="1" fill="#8ee05a" stroke="none" stroke-width="1"/>
<circle cx="382.87" cy="66.39" r="0.64" fill="#8ee05a" stroke="none" stroke-width="1"/>
<circle cx="369.51" cy="117.81" r="0.95" fill="#8ee05a" stroke="none" stroke-width="1"/>
<circle cx="375.22" cy="68.8" r="1" fill="#8ee05a" stroke="none" stroke-width="1"/>
<circle cx="408.08" cy="37.76" r="0.94" fill="#8ee05a" stroke="none" stroke-width="1"/>
<circle cx="366.47" cy="72.81" r="0.72" fill="#8ee05a" stroke="none" stroke-width="1"/>
<circle cx="366.88" cy="55.74" r="0.79" fill="#8ee05a" stroke="none" stroke-width="1"/>
<circle cx="329.39" cy="42.58" r="0.89" fill="#8ee05a" stroke="none" stroke-width="1"/>
<circle cx="333.63" cy="40.46" r="0.96" fill="#8ee05a" stroke="none" stroke-width="1"/>
<circle cx="356.66" cy="54.22" r="0.72" fill="#8ee05a" stroke="none" stroke-width="1"/>
<circle cx="416.09" cy="32.23" r="0.92" fill="#8ee05a" stroke="none" stroke-width="1"/>
<circle cx="418.71" cy="42.66" r="0.81" fill="#8ee05a" stroke="none" stroke-width="1"/>
<circle cx="411.64" cy="81.99" r="0.79" fill="#8ee05a" stroke="none" stroke-width="1"/>
<circle cx="384.9" cy="97.5" r="1.1" fill="#e8ff70" stroke="none" stroke-width="1"/>
</g>
<rect x="331" y="113.8" width="15.8" height="1.6" fill="#fff" stroke="none" stroke-width="1"/>
</g>
<!-- panel_c -->
<text x="452.5" y="12.5" font-size="16.5" fill="#000" font-weight="bold" stroke="#000" stroke-width="0.7">c</text>
<text x="507.3" y="8.5" font-size="10.1">Synchronized neurogenesis</text>
<line x1="499.7" y1="22" x2="499.7" y2="65.2" stroke="#1a1a1a" stroke-width="1"/>
<line x1="499.2" y1="64.7" x2="680.6" y2="64.7" stroke="#1a1a1a" stroke-width="1.1"/>
<line x1="496.7" y1="22.6" x2="499.7" y2="22.6" stroke="#1a1a1a" stroke-width="1"/>
<text x="494.4" y="26.2" text-anchor="end">80</text>
<line x1="496.7" y1="33" x2="499.7" y2="33" stroke="#1a1a1a" stroke-width="1"/>
<text x="494.4" y="36.6" text-anchor="end">60</text>
<line x1="496.7" y1="43.5" x2="499.7" y2="43.5" stroke="#1a1a1a" stroke-width="1"/>
<text x="494.4" y="47.1" text-anchor="end">40</text>
<line x1="496.7" y1="54" x2="499.7" y2="54" stroke="#1a1a1a" stroke-width="1"/>
<text x="494.4" y="57.6" text-anchor="end">20</text>
<line x1="496.7" y1="64.3" x2="499.7" y2="64.3" stroke="#1a1a1a" stroke-width="1"/>
<text x="494.4" y="67.9" text-anchor="end">0</text>
<line x1="499.7" y1="71.8" x2="499.7" y2="115.6" stroke="#1a1a1a" stroke-width="1"/>
<line x1="499.2" y1="115.1" x2="680.6" y2="115.1" stroke="#1a1a1a" stroke-width="1.1"/>
<line x1="496.7" y1="72.2" x2="499.7" y2="72.2" stroke="#1a1a1a" stroke-width="1"/>
<text x="494.4" y="75.8" text-anchor="end">1.2</text>
<line x1="496.7" y1="86.7" x2="499.7" y2="86.7" stroke="#1a1a1a" stroke-width="1"/>
<text x="494.4" y="90.3" text-anchor="end">0.8</text>
<line x1="496.7" y1="101.1" x2="499.7" y2="101.1" stroke="#1a1a1a" stroke-width="1"/>
<text x="494.4" y="104.7" text-anchor="end">0.4</text>
<line x1="496.7" y1="115.3" x2="499.7" y2="115.3" stroke="#1a1a1a" stroke-width="1"/>
<text x="494.4" y="118.9" text-anchor="end">0</text>
<line x1="509.7" y1="64.7" x2="509.7" y2="67.8" stroke="#1a1a1a" stroke-width="1"/>
<line x1="509.7" y1="115.1" x2="509.7" y2="118.5" stroke="#1a1a1a" stroke-width="1"/>
<line x1="529.8" y1="64.7" x2="529.8" y2="67.8" stroke="#1a1a1a" stroke-width="1"/>
<line x1="529.8" y1="115.1" x2="529.8" y2="118.5" stroke="#1a1a1a" stroke-width="1"/>
<line x1="549.9" y1="64.7" x2="549.9" y2="67.8" stroke="#1a1a1a" stroke-width="1"/>
<line x1="549.9" y1="115.1" x2="549.9" y2="118.5" stroke="#1a1a1a" stroke-width="1"/>
<line x1="570" y1="64.7" x2="570" y2="67.8" stroke="#1a1a1a" stroke-width="1"/>
<line x1="570" y1="115.1" x2="570" y2="118.5" stroke="#1a1a1a" stroke-width="1"/>
<line x1="590.1" y1="64.7" x2="590.1" y2="67.8" stroke="#1a1a1a" stroke-width="1"/>
<line x1="590.1" y1="115.1" x2="590.1" y2="118.5" stroke="#1a1a1a" stroke-width="1"/>
<line x1="610.2" y1="64.7" x2="610.2" y2="67.8" stroke="#1a1a1a" stroke-width="1"/>
<line x1="610.2" y1="115.1" x2="610.2" y2="118.5" stroke="#1a1a1a" stroke-width="1"/>
<line x1="630.3" y1="64.7" x2="630.3" y2="67.8" stroke="#1a1a1a" stroke-width="1"/>
<line x1="630.3" y1="115.1" x2="630.3" y2="118.5" stroke="#1a1a1a" stroke-width="1"/>
<line x1="650.4" y1="64.7" x2="650.4" y2="67.8" stroke="#1a1a1a" stroke-width="1"/>
<line x1="650.4" y1="115.1" x2="650.4" y2="118.5" stroke="#1a1a1a" stroke-width="1"/>
<line x1="670.5" y1="64.7" x2="670.5" y2="67.8" stroke="#1a1a1a" stroke-width="1"/>
<line x1="670.5" y1="115.1" x2="670.5" y2="118.5" stroke="#1a1a1a" stroke-width="1"/>
<text x="515.5" y="125.8" text-anchor="end" transform="rotate(-45 515.5 125.8)">hPSCs</text>
<text x="535.6" y="125.8" text-anchor="end" transform="rotate(-45 535.6 125.8)">d10</text>
<text x="555.7" y="125.8" text-anchor="end" transform="rotate(-45 555.7 125.8)">d15</text>
<text x="575.8" y="125.8" text-anchor="end" transform="rotate(-45 575.8 125.8)">d20</text>
<text x="595.9" y="125.8" text-anchor="end" transform="rotate(-45 595.9 125.8)">d22</text>
<text x="616" y="125.8" text-anchor="end" transform="rotate(-45 616 125.8)">d25</text>
<text x="636.1" y="125.8" text-anchor="end" transform="rotate(-45 636.1 125.8)">d50</text>
<text x="656.2" y="125.8" text-anchor="end" transform="rotate(-45 656.2 125.8)">d75</text>
<text x="676.3" y="125.8" text-anchor="end" transform="rotate(-45 676.3 125.8)">d100</text>
<text x="471.6" y="69.6" text-anchor="middle" transform="rotate(-90 471.6 69.6)">Fold change</text>
<line x1="569.7" y1="18" x2="569.7" y2="115" stroke="#222" stroke-width="1" stroke-dasharray="3.2 2.2"/>
<path d="M569.7 23 L565.96 16.2 L569.7 17.9 L573.44 16.2 Z" fill="#111"/>
<circle cx="505.3" cy="64.3" r="2.1" fill="#5cc0c0" stroke="none" stroke-width="1"/>
<circle cx="513.7" cy="64.3" r="2.1" fill="#5cc0c0" stroke="none" stroke-width="1"/>
<circle cx="525.6" cy="62.9" r="2.1" fill="#5cc0c0" stroke="none" stroke-width="1"/>
<circle cx="534" cy="62.9" r="2.1" fill="#5cc0c0" stroke="none" stroke-width="1"/>
<circle cx="545.6" cy="62.9" r="2.1" fill="#5cc0c0" stroke="none" stroke-width="1"/>
<circle cx="554.2" cy="62.2" r="2.1" fill="#5cc0c0" stroke="none" stroke-width="1"/>
<circle cx="565.7" cy="61.7" r="2.1" fill="#5cc0c0" stroke="none" stroke-width="1"/>
<circle cx="574" cy="61.7" r="2.1" fill="#5cc0c0" stroke="none" stroke-width="1"/>
<circle cx="590" cy="39.3" r="2.1" fill="#5cc0c0" stroke="none" stroke-width="1"/>
<circle cx="590" cy="44.2" r="2.1" fill="#5cc0c0" stroke="none" stroke-width="1"/>
<circle cx="610.2" cy="23" r="2.1" fill="#5cc0c0" stroke="none" stroke-width="1"/>
<circle cx="610.2" cy="48" r="2.1" fill="#5cc0c0" stroke="none" stroke-width="1"/>
<circle cx="630.2" cy="26.1" r="2.1" fill="#5cc0c0" stroke="none" stroke-width="1"/>
<circle cx="630.2" cy="37.5" r="2.1" fill="#5cc0c0" stroke="none" stroke-width="1"/>
<circle cx="650.3" cy="36.8" r="2.1" fill="#5cc0c0" stroke="none" stroke-width="1"/>
<circle cx="650.3" cy="48.7" r="2.1" fill="#5cc0c0" stroke="none" stroke-width="1"/>
<circle cx="670.5" cy="24" r="2.1" fill="#5cc0c0" stroke="none" stroke-width="1"/>
<circle cx="670.5" cy="38.6" r="2.1" fill="#5cc0c0" stroke="none" stroke-width="1"/>
<path d="M509.7 64 L529.8 63 L549.8 62.5 L569.7 61.7 L590 41.5 L610.2 35.4 L630.2 31.9 L650.3 42.8 L670.5 31.2" stroke="#1f9ea3" stroke-width="1.3" fill="none"/>
<line x1="510" y1="28.4" x2="526.8" y2="28.4" stroke="#1f9ea3" stroke-width="1.3"/>
<circle cx="518.4" cy="28.4" r="2" fill="#1f9ea3" stroke="none" stroke-width="1"/>
<text x="530.7" y="31.9" font-style="italic">MAP2</text>
<circle cx="505.3" cy="79.7" r="2.1" fill="#eda066" stroke="none" stroke-width="1"/>
<circle cx="513.7" cy="79.7" r="2.1" fill="#eda066" stroke="none" stroke-width="1"/>
<circle cx="529.8" cy="81.5" r="2.1" fill="#eda066" stroke="none" stroke-width="1"/>
<circle cx="529.8" cy="88" r="2.1" fill="#eda066" stroke="none" stroke-width="1"/>
<circle cx="545.6" cy="80" r="2.1" fill="#eda066" stroke="none" stroke-width="1"/>
<circle cx="554.2" cy="78.9" r="2.1" fill="#eda066" stroke="none" stroke-width="1"/>
<circle cx="565.4" cy="82.7" r="2.1" fill="#eda066" stroke="none" stroke-width="1"/>
<circle cx="573.6" cy="79.2" r="2.1" fill="#eda066" stroke="none" stroke-width="1"/>
<circle cx="585.7" cy="107.6" r="2.1" fill="#eda066" stroke="none" stroke-width="1"/>
<circle cx="594.3" cy="107.6" r="2.1" fill="#eda066" stroke="none" stroke-width="1"/>
<circle cx="605.8" cy="115.1" r="2.1" fill="#eda066" stroke="none" stroke-width="1"/>
<circle cx="614.4" cy="115.1" r="2.1" fill="#eda066" stroke="none" stroke-width="1"/>
<circle cx="625.8" cy="115.1" r="2.1" fill="#eda066" stroke="none" stroke-width="1"/>
<circle cx="634.4" cy="115.1" r="2.1" fill="#eda066" stroke="none" stroke-width="1"/>
<circle cx="645.9" cy="115.1" r="2.1" fill="#eda066" stroke="none" stroke-width="1"/>
<circle cx="654.5" cy="115.1" r="2.1" fill="#eda066" stroke="none" stroke-width="1"/>
<circle cx="666" cy="115.1" r="2.1" fill="#eda066" stroke="none" stroke-width="1"/>
<circle cx="674.7" cy="115.1" r="2.1" fill="#eda066" stroke="none" stroke-width="1"/>
<path d="M509.7 79.7 L529.8 84.8 L549.8 79.2 L569.7 81 L590 107.6 L610.2 115.1 L670.5 115.1" stroke="#dc7027" stroke-width="1.3" fill="none"/>
<line x1="627.2" y1="79.7" x2="643.5" y2="79.7" stroke="#dc7027" stroke-width="1.3"/>
<circle cx="636" cy="79.7" r="2" fill="#dc7027" stroke="none" stroke-width="1"/>
<text x="647.7" y="82.7" font-style="italic">MKI67</text>
<!-- panel_d -->
<text x="-0.5" y="156.8" font-size="16.5" fill="#000" font-weight="bold" stroke="#000" stroke-width="0.7">d</text>
<path d="M31.7 260.2l.1-2.5 .3-2.6 .1-2.5-.3-2.6 0-2.5 .6-2.5 0-2.3 .1-2.2 .7-2.3 0-2.2 .1-2.3 .1-2.3 .3-2.2-.3-2.3 .4-2.2 .2-2.3-.2-2.4 .7-2.4-.7-2.4 .8-2.4-.6-2.4 .6-2.4-.2-2.4 .2-2.4 .4-2.4-.2-2.4-.9-2.2-.4-2.2 .2-2.5-.8-2.1-.5-2.3-1.6-1.8-.7-2.4-1.4-2-1.9-1.6-1.1-2.2-1.3-2" stroke="#1c1c1c" stroke-width="1.03" fill="none" stroke-linecap="round" stroke-linejoin="round"/>
<path d="M34.1 220.8l-2.7-.2-2.7-.7-2.6-.7" stroke="#1c1c1c" stroke-width="0.69" fill="none" stroke-linecap="round" stroke-linejoin="round"/>
<path d="M31.9 243.3l-2.3-.8-2.4-.3-2.2-1-2.3 0-2.3 .7-2.4-.2" stroke="#1c1c1c" stroke-width="0.69" fill="none" stroke-linecap="round" stroke-linejoin="round"/>
<path d="M34.1 238.5l2.4 0" stroke="#1c1c1c" stroke-width="0.69" fill="none" stroke-linecap="round" stroke-linejoin="round"/>
<path d="M31.7 260.2l-2 1.3-2.4 .6-2 1.3" stroke="#1c1c1c" stroke-width="0.69" fill="none" stroke-linecap="round" stroke-linejoin="round"/>
<path d="M31.7 260.2l2.4 1.5 2.4 1.6 2.4 1.7" stroke="#1c1c1c" stroke-width="0.69" fill="none" stroke-linecap="round" stroke-linejoin="round"/>
<path d="M31.7 260.2l-.1 2.8 .1 2.8" stroke="#1c1c1c" stroke-width="0.57" fill="none" stroke-linecap="round" stroke-linejoin="round"/>
<ellipse cx="31.7" cy="259.6" rx="1.6" ry="1.8" fill="#111"/>
<path d="M78.7 239.3l0-4-.5-2.7-.5-2.6-.3-2.7-.9-2.2 .1-2.4-.2-2.3-.5-2.2-.9-2.2 .3-2.2-.1-2.3 .2-2.2 .4-2.2 0-2.3 .3-2.2-.3-2.3 .2-2.3 .3-2.2 .3-2.3" stroke="#1c1c1c" stroke-width="1.21" fill="none" stroke-linecap="round" stroke-linejoin="round"/>
<path d="M76.6 193.5l-1.3-1.9-1.1-2.1-1.6-1.7-1.6-1.7-1-2.1-1.6-2.4-2-1.9-1.8-2.2" stroke="#1c1c1c" stroke-width="0.8" fill="none" stroke-linecap="round" stroke-linejoin="round"/>
<path d="M76.6 193.5l1.8-1.6 1.6-1.8 1.9-1.4 1.8-1.7 1.8-1.5 1.8-1.8 1.1-2.3 1.9-1.6 1.4-2.2 1.8-1.7 2-1.3 1.5-2 2-1.3 2-1.3 2-1.7 2.2-1.3 1.7-2 2.2-1.3 2.1-1.5 1.8-1.6 2.1-1.4 2.1-1.2 2-1.4" stroke="#484848" stroke-width="0.69" fill="none" stroke-linecap="round" stroke-linejoin="round"/>
<path d="M75 216l-1.7-2.7-2.3-2.1-1.2-2.4-.8-2.6-1.9-2.1-.9-2.5-.6-2.4-1.3-2.2-1.1-2.2-.4-2.5-.8-2.3-1.7-2-.5-2.5-1.5-2-1-2.3-1.7-1.9-1.4-2.1-1.2-2.2-1.7-1.5-1.4-1.8-1-2-1.1-2-1.7-1.5" stroke="#1c1c1c" stroke-width="0.92" fill="none" stroke-linecap="round" stroke-linejoin="round"/>
<path d="M71 209.6l.4-2.6-.5-2.5-.5-2.6 .2-2.5 .1-2.6" stroke="#484848" stroke-width="0.57" fill="none" stroke-linecap="round" stroke-linejoin="round"/>
<path d="M77.4 209.6l2.3 .5 2.3 .3 2.3 0 2.3-.1 2.3 .5 2.3 .2 2.3 .2" stroke="#484848" stroke-width="0.69" fill="none" stroke-linecap="round" stroke-linejoin="round"/>
<path d="M80.7 228.1l1.9-1.9 1.6-2.3 2.3-1.6 1.5-2.3 1.7-2 .8-2.6 1.5-2.1 1.5-2.1 1.9-1.3 1.2-1.9 2.1-1.2 1.3-1.8 2.4-1.7 2.3-1.7" stroke="#484848" stroke-width="0.69" fill="none" stroke-linecap="round" stroke-linejoin="round"/>
<path d="M77.4 232.1l-2.5 .6-2.5 .8-2.4 1.2-2.5 .7-2.5 .6-2.4 1-2.6 .3-2.6 .8-2.4 .9-2.4 .7-2.5-.3-2.4 .7" stroke="#1c1c1c" stroke-width="0.92" fill="none" stroke-linecap="round" stroke-linejoin="round"/>
<path d="M80.7 235.3l2.3-1.1 2.3-1.3 2.4-.9 2.3-1 2.9-.6 2.7-1.3 2.7-1" stroke="#1c1c1c" stroke-width="0.69" fill="none" stroke-linecap="round" stroke-linejoin="round"/>
<path d="M78.7 241.7l-.8 2.5-.9 2.6-.7 2.5-.3 2.7-.7 2.2-.1 2.3-.6 2.2-.4 2.3-1.9 1.3-1.5 1.7-1.5 1.7-1.4 1.8-1.6 1.6-1.9 1.3-1.4 1.8-1.9 1.2-1.6 1.6-2.2 .7-1.9 1-1.8 1.3-1.9 1.2-1.9 1.2-1.6 1.5-2 1-1.7 1.4" stroke="#1c1c1c" stroke-width="0.8" fill="none" stroke-linecap="round" stroke-linejoin="round"/>
<path d="M74.2 261l.7 2.3 .8 2.2 .4 2.3 .6 2.3 .1 2.4 .7 2.3 .8 2.2 0 2.3 .1 2.2 .5 2.3-.3 2.2 .1 2.3" stroke="#1c1c1c" stroke-width="0.8" fill="none" stroke-linecap="round" stroke-linejoin="round"/>
<ellipse cx="78.7" cy="239.3" rx="1.7" ry="2.5" fill="#111"/>
<path d="M128 253.8l-.1-2.3-.5-2.2-.3-2.2-.1-2.3-.3-2.2-.1-2.3 .1-2.4-.6-2.4-.1-2.4 .1-2.3 .2-2.5 0-2.3-.2-2.4 .2-2.4-.5-2.4 0-2.5-.2-2.4 .5-2.5 0-2.5-.1-2.4 .6-2.5-.2-2.4 .2-2.5" stroke="#1c1c1c" stroke-width="1.21" fill="none" stroke-linecap="round" stroke-linejoin="round"/>
<path d="M126.6 199.1l-1-2-.8-2-.3-2.3-1.6-1.7-.6-2.2-.9-2-.6-2.1-1.1-2.1-.7-2.4-1.1-2.1-.3-2.5-1.2-2.1-.8-2.3-1.3-2.1-.6-2.3-.8-2.3-1-2.2" stroke="#1c1c1c" stroke-width="1.03" fill="none" stroke-linecap="round" stroke-linejoin="round"/>
<path d="M126.6 199.1l1.1-2 .3-2.4 1-2 1.2-2 .5-2.3 .9-2.1 .1-2.3 .9-2 .8-2.1 .4-2.3 .8-2.1 .7-2.1 .8-2.1 .3-2.2 .6-2.2 .8-2.2 .4-2.3 1-2.2 .4-2.3 .8-2.2 .6-2.3 .6-2.2 .5-2.3 .8-2.2 .9-2.2" stroke="#1c1c1c" stroke-width="1.03" fill="none" stroke-linecap="round" stroke-linejoin="round"/>
<path d="M129.4 192l0-2.2-.3-2.2-.2-2.2 .6-2.2-.5-2.2 .6-2.3-.4-2.2-.2-2.2 .4-2.2 0-2.2-.6-2.2-.2-2.2 .3-2.2" stroke="#1c1c1c" stroke-width="0.8" fill="none" stroke-linecap="round" stroke-linejoin="round"/>
<path d="M124.8 237.6l-2.5-.3-2.4-.4-2.5 .1-2.4-.4-2.5 .2-2.5-.3-2.2-.2-2.3 .2-2.2-.3-2.2-.1-2.3-.1-2.2-.2" stroke="#1c1c1c" stroke-width="0.8" fill="none" stroke-linecap="round" stroke-linejoin="round"/>
<path d="M125.8 253.8l-2.2 0-2.3-.5-2.2 .4-2.3-.1-2.2-.2-2.2-.8-2.3 .3-2.4-.5-2.5-.1-2.3-1.1-2.4-.5-2.5-.2-2.5-.7-2.6 0-2.5-.5" stroke="#1c1c1c" stroke-width="1.49" fill="none" stroke-linecap="round" stroke-linejoin="round"/>
<path d="M129.4 238.2l2.2 .9 2.3 .3 2.3 .5 2 1.4 2.3 .6 2.3 .2 2.2 .9 2.1 1 2.4-.1 2.1 .9 2.2 .4 2.1 .7 2.2 .7 2.1 .9 2.3 .6 2.4-.1 2.3 .3 2.4 .4 2.3 .4 2.2 .9 2.4 .1 2.4-.1 2.2 .9 2.4 .2 2.2 .5 2.3 .4 2.2 .5 2.3 .4" stroke="#1c1c1c" stroke-width="0.8" fill="none" stroke-linecap="round" stroke-linejoin="round"/>
<path d="M129.8 258.2l1.2 2.1 1.1 2.2 1.5 1.9 1.2 2.1 1.4 2 1.1 2.1 1.4 2 1.5 1.7 1.4 1.9 1.3 1.8 1.3 1.9 1.7 1.6 1 2.1 1.7 1.6 1.4 1.8 1.2 2.1 1.6 1.7 1.2 2 1.7 1.7 1.6 1.7 1.5 1.9 1.4 1.9" stroke="#1c1c1c" stroke-width="1.03" fill="none" stroke-linecap="round" stroke-linejoin="round"/>
<path d="M129.8 261.8l-.2 2.2-.2 2.3-.1 2.2 .5 2.3 0 2.2-.1 2.3-.1 2.2 0 2.2 0 2.3-.3 2.2 0 2.3-.4 2.2" stroke="#484848" stroke-width="0.69" fill="none" stroke-linecap="round" stroke-linejoin="round"/>
<path d="M127.1 265.4l-.9 2.3-.7 2.5-.7 2.4" stroke="#484848" stroke-width="0.57" fill="none" stroke-linecap="round" stroke-linejoin="round"/>
<path d="M85 186.6l2-1.2 1.7-1.5 1.6-1.7 1.8-1.4 1.2-2.1 1.8-1.4 1.9-1.3 1.9-1.3 1.4-1.9 1.4-1.8 2-1.2 1.4-1.8 1.8-1.5 1.4-1.7 1.8-1.5" stroke="#484848" stroke-width="0.57" fill="none" stroke-linecap="round" stroke-linejoin="round"/>
<path d="M115.5 158.8l1.8-1.5 1.8-1.5 2.2-1 2-1.1 1.7-1.7 2.3-.5 2.1-1.2 2.2-.8 1.9-1.4 2.1-1 2.2-.8" stroke="#484848" stroke-width="0.57" fill="none" stroke-linecap="round" stroke-linejoin="round"/>
<path d="M85 209.9l2.7 .7 2.7 0 2.7 .2 2-1.4 1.6-1.9 2.1-1.4 2-1.3 2.1-1.3 1.8-1.7" stroke="#484848" stroke-width="0.57" fill="none" stroke-linecap="round" stroke-linejoin="round"/>
<path d="M85 233.2l2.3-.6 2.3-1 2-1.2 2.3-.9 2.4-.5 2.1-1.2" stroke="#484848" stroke-width="0.57" fill="none" stroke-linecap="round" stroke-linejoin="round"/>
<path d="M115.5 299.4l2.3-1 1.8-1.7 2-1.6 2.2-1 2.1-1.4 2-1.5 2.1-1.2 1.8-1.4 2-1.1 2.1-1 1.7-1.6 2.2-.9 2.1-.9 1.9-1.4 1.7-1.6 2-1.1 2-1.1 2.1-1 2.3 0 2.1-.7 2-1.1 2.3-.3 2.1-.5 2.2-.7 2.1-.8 2.1-.6 2.2-.5 2-1 2.3-.4 1.8-1.4 2.1-.8 2-.9 1.9-1.2 2.2-.6 2.6-1.9 2.8-1.7" stroke="#484848" stroke-width="0.69" fill="none" stroke-linecap="round" stroke-linejoin="round"/>
<path d="M147.7 297.6l.2-2.3 .5-2.2 .5-2.2 .6-2.2" stroke="#484848" stroke-width="0.57" fill="none" stroke-linecap="round" stroke-linejoin="round"/>
<ellipse cx="128" cy="253.8" rx="1.9" ry="2.6" fill="#111"/>
<path d="M197.6 253.2l1.1-2 1.6-1.6 .9-2.1 .1-2.4 .4-2.4 .5-2.4 .1-2.4 .4-2.4 .3-2.4 .1-2.2-.5-2.3 .6-2.2-.6-2.3 .2-2.2 .5-2.2 .1-2.3-.4-2.2-.2-2.2-.8-2.2-.1-2.3-.3-2.2-.5-2.2 .2-2.3-.9-2.2-.1-2.3-.7-2.2-.1-2.3-.4-2.2-.6-2.2-.6-2.5-.9-2.5-.3-2.7-1.1-2.4-.7-2.5 0-2.6-.8-2.4-.3-2.5-.5-2.5-.2-2.5 .1-2.4-.1-2.3-.6-2.3 .2-2.4 0-2.4-.3-2.3 .1-2.4-.3-2.3" stroke="#1c1c1c" stroke-width="1.44" fill="none" stroke-linecap="round" stroke-linejoin="round"/>
<path d="M195.8 188.4l-1.7-1.9-1.8-1.8-1.9-1.7-1.4-2-1.3-2-1.5-1.9-.6-2.5-1.3-2-1.6-1.8-1.2-2.1-1-2.3-1.4-2.1-1.9-1.7-.8-2.5-1.7-1.9-1.3-2.1-1-2.3-1-2.3-.7-2.3-1.2-2.2-.5-2.5" stroke="#1c1c1c" stroke-width="0.92" fill="none" stroke-linecap="round" stroke-linejoin="round"/>
<path d="M202.1 193.7l-.8-2.6-.4-2.7-.3-2.7-.3-2.7-.8-2.1-.6-2.1 .1-2.4-1-2-.4-2.2" stroke="#1c1c1c" stroke-width="0.8" fill="none" stroke-linecap="round" stroke-linejoin="round"/>
<path d="M203 192l1.8-1.6 1.8-1.6 2-1.4 1.3-2.1 2-1.4 2.4-.5 2.4 .2 2.4-.6 2.2 1.1 2.3 .8 2.4 .4 2.3 .7 2.4 .6 2.1 1.4 2.4 .4 2.2 .7 2.3 .2 2.2 .7 2.3 0 2.2 .7 2.2 .8 2.3-.3 2.2 .8 2.4 .1 2.4-.4 2.4 .6 2.4 0 2.3-.2 2.4-.2 2.4-.3 2.4 .4 2.4 0" stroke="#1c1c1c" stroke-width="0.92" fill="none" stroke-linecap="round" stroke-linejoin="round"/>
<path d="M267.1 192l-.1-2.6 0-2.5-.3-2.6 .8-2.5-.4-2.6 0-2.5" stroke="#484848" stroke-width="0.57" fill="none" stroke-linecap="round" stroke-linejoin="round"/>
<path d="M203.9 204.5l1.4-1.8 1.6-1.6 1.5-1.7 1.1-2 1.4-1.8 1.6-1.6 1.2-2 2-1.6 2.4-1.1 1.9-1.8" stroke="#1c1c1c" stroke-width="1.03" fill="none" stroke-linecap="round" stroke-linejoin="round"/>
<path d="M206.6 211.6l1.5-2.1 2.2-1.3 1.6-1.9 1.8-1.8 1.2-2.1 1.4-2 .4-2.5 1.2-2.1 1.2-2.1" stroke="#484848" stroke-width="0.57" fill="none" stroke-linecap="round" stroke-linejoin="round"/>
<path d="M160 192.8l2.5 .1 2.5-.1 2.5-.4 2.5 .1 2.5-.2 2.5-.3 2.3 .5 2.3-.1 2.3-.1 2.2 0 2.3 0 2.3 .5 2.3 1.2 2.1 1.5 1.8 1.8" stroke="#484848" stroke-width="0.69" fill="none" stroke-linecap="round" stroke-linejoin="round"/>
<path d="M183.3 208.1l2.6 .1 2.4-1 2.6 .1 2.5-.7 2.6 .4 2.5-.7" stroke="#1c1c1c" stroke-width="1.15" fill="none" stroke-linecap="round" stroke-linejoin="round"/>
<path d="M204.8 242.1l1.8-1.5 1.6-1.8 2.2-1.2 1.8-1.5 1.8-1.5 1.4-2.1 1.9-1.4 1.8-1.5 1.9-1.4 1.5-1.8 2-1.4 1.9-1.4 1.8-1.5 1.8-1.5 1.6-1.8 2.2 .4 2.3-.1 2.2 .6 2.3-.1 2.3 0 2.2 .1 2.2 .8 2.3 .1 2.3 .2 2.3 .1 2.2 .7 2.3 .2 2.3 .3 2.2 .5 2.3 .3 2.3 .3 2.2 .8 2.3 .2 2.3 0" stroke="#484848" stroke-width="0.69" fill="none" stroke-linecap="round" stroke-linejoin="round"/>
<path d="M251.3 222.4l1.7 1.4 1.2 2 1.9 1.2 1.5 1.7 2 1.1 2.4 .1 2 1 2 1.3 2.2 .5 2.1 .8 2.3 .4 2 1" stroke="#484848" stroke-width="0.69" fill="none" stroke-linecap="round" stroke-linejoin="round"/>
<path d="M205.7 249.3l1.4-1.8 2.2-1 1.2-2.2 1.7-1.5 1.8-1.4 1.9-1.3 1.6-1.7 1.6-1.7 2.5 .2 2.5-.4 2.4-.5 2.5-.2" stroke="#484848" stroke-width="0.57" fill="none" stroke-linecap="round" stroke-linejoin="round"/>
<path d="M206.6 252.8l1.6 1.6 2 1 2 1.1 1.5 1.7 1.8 1.7 2 1.4 2.1 1.2 2.1 1.3 2.1 1.2 2 1.4 2 1.3 2 1.4 1.8 1.7 2.3 1 2.1 1.3 2.2 1.1 2.4 .6 2.2 1.1 2.3 .9 2.1 1.2 2.4 .8 2.2 .7 2.3 .7 2.3 .4 2.3 .3 2.2 .4 2.4 .2 2.2 .7 2.3 .5 2.3 .2 2.3 .5 2.2 .8" stroke="#1c1c1c" stroke-width="0.92" fill="none" stroke-linecap="round" stroke-linejoin="round"/>
<path d="M195.8 252.8l-2.3-.4-2.2-.2-2.2-.8-2.3-.2-2.1-1-2.3-.2-2.3-.3-2.2-.4-2.2-.2-2.3-.2-2.2 0-2.2-.9-2.3-.2-2.2 0-2.2-.2-2.3-.1" stroke="#484848" stroke-width="0.69" fill="none" stroke-linecap="round" stroke-linejoin="round"/>
<path d="M194.9 252l-1.8-1.4-1.3-1.8-1.9-1.4-1.5-1.7-1.4-1.7-1.8-1.3-1.6-1.7-1.2-1.9-1.8-1.4-1.3-1.9-2-1.1-1.7-1.5-1.3-1.9" stroke="#484848" stroke-width="0.57" fill="none" stroke-linecap="round" stroke-linejoin="round"/>
<path d="M194.9 256.4l-2.3 1.5-1.9 2-2 1.9-1.9 1.3-1.7 1.5-1.6 1.8-2.3 .8-1.5 1.8-2.2 .9-2.4 .5-2 1.5-2.4 .6-2.7 .4-2.7 0-2.6 .5-2.7 0" stroke="#1c1c1c" stroke-width="0.69" fill="none" stroke-linecap="round" stroke-linejoin="round"/>
<path d="M173.4 272.5l0 2.5 .9 2.5 .4 2.5 .3 2.5 0 2.5 .7 2.5-.1 2.6 .5 2.5 .7 2.4 .7 2.5 .4 2.5" stroke="#1c1c1c" stroke-width="0.69" fill="none" stroke-linecap="round" stroke-linejoin="round"/>
<path d="M196.7 258.2l0 2.5-1.2 2.2 .2 2.5-.5 2.4-.7 2.3-.5 2.4-2.8 1.5-2.5 2.1" stroke="#484848" stroke-width="0.57" fill="none" stroke-linecap="round" stroke-linejoin="round"/>
<path d="M193.1 220.6l-.1 2.5-.2 2.6-1.1 2.3 .4 2.7-.8 2.4-.1 2.4 .7 2.4 0 2.4 .3 2.4-.1 2.4 .1 2.4" stroke="#484848" stroke-width="0.57" fill="none" stroke-linecap="round" stroke-linejoin="round"/>
<path d="M193.1 163.3l-.1 2.4 .4 2.3 .5 2.3 .7 2.3-.1 2.4 .6 2.3 .1 2.3-.2 2.4 .2 2.3 .6 2.3 1 2.4 .2 2.6 0 2.6 1.3 2.3 .2 2.6 1.3 2.3 .7 2.4 .7 2.5" stroke="#1c1c1c" stroke-width="0.69" fill="none" stroke-linecap="round" stroke-linejoin="round"/>
<path d="M205.7 206.3l2.1-2 1.5-2.5" stroke="#484848" stroke-width="0.57" fill="none" stroke-linecap="round" stroke-linejoin="round"/>
<path d="M206.6 211.6l2.6-2 2.8-1.6 1.1-2.3 .3-2.6 1.4-2.2 .5-2.5 1.2-2.3 .8-2.4" stroke="#484848" stroke-width="0.57" fill="none" stroke-linecap="round" stroke-linejoin="round"/>
<path d="M204.8 224.2l3.1 .2 3.1-.2" stroke="#484848" stroke-width="0.57" fill="none" stroke-linecap="round" stroke-linejoin="round"/>
<path d="M203 240.3l2.3-1.2 1.9-1.7 2.5-1.1 1.8-1.8 2.2-1.4 2.2 .4 2.3 0 2.2 0 2.3-.4 2.5 .6 2.4 1 2.3 1.1" stroke="#484848" stroke-width="0.57" fill="none" stroke-linecap="round" stroke-linejoin="round"/>
<path d="M208.4 236.7l2.2 1.1 2.1 1 2.5 .4 2.1 1.1 2.4-1.6 2.1-2" stroke="#484848" stroke-width="0.57" fill="none" stroke-linecap="round" stroke-linejoin="round"/>
<path d="M193.1 215.2l-1.7-2.1-2-1.7-1.4-2.4-2.3-1.7-1.7-2.3" stroke="#484848" stroke-width="0.57" fill="none" stroke-linecap="round" stroke-linejoin="round"/>
<path d="M192.2 233l-1.8 2-2.2 1.5-2.2 1.5-3.1 .8-2.9 1.5" stroke="#484848" stroke-width="0.57" fill="none" stroke-linecap="round" stroke-linejoin="round"/>
<path d="M196.3 188.4l-1.7 1.5-1.7 1.6-1.6 1.6-1.3 1.9-1.4 2.1-1.6 1.9" stroke="#484848" stroke-width="0.57" fill="none" stroke-linecap="round" stroke-linejoin="round"/>
<path d="M200.5 178l2-1.5 1.8-1.7 1.7-1.8 1.6-2.4 1.4-2.6" stroke="#484848" stroke-width="0.57" fill="none" stroke-linecap="round" stroke-linejoin="round"/>
<path d="M201.5 226l1.1-2 1.9-1.3 .9-2.1 1.6-1.6 2.5-1.5 2.5-1.5" stroke="#484848" stroke-width="0.57" fill="none" stroke-linecap="round" stroke-linejoin="round"/>
<path d="M199 257l1.9 1.8 2 1.7 2.1 1.5 .7 2.1 1.5 1.8 .8 2.1" stroke="#484848" stroke-width="0.57" fill="none" stroke-linecap="round" stroke-linejoin="round"/>
<path d="M186 255l-1.4 1.9-1.8 1.5-1 2.1-1.8 1.5 1.8 2.2 2.2 1.8" stroke="#484848" stroke-width="0.57" fill="none" stroke-linecap="round" stroke-linejoin="round"/>
<ellipse cx="197.6" cy="253.2" rx="2.1" ry="2.2" fill="#111"/>
<text x="29.8" y="302.5" text-anchor="middle">d25</text>
<text x="65.9" y="302.5" text-anchor="middle">d50</text>
<text x="135.5" y="302.5" text-anchor="middle">d75</text>
<text x="207.6" y="302.5" text-anchor="middle">d100</text>
<rect x="234.3" y="297.4" width="38.1" height="2.2" fill="#111" stroke="none" stroke-width="1"/>
<!-- panel_e -->
<text x="309.3" y="156.3" font-size="16.5" fill="#000" font-weight="bold" stroke="#000" stroke-width="0.7">e</text>
<line x1="363.8" y1="158.4" x2="363.8" y2="275" stroke="#1a1a1a" stroke-width="1"/>
<line x1="363.3" y1="274.5" x2="432.4" y2="274.5" stroke="#1a1a1a" stroke-width="1.1"/>
<line x1="360.8" y1="274.5" x2="363.8" y2="274.5" stroke="#1a1a1a" stroke-width="1"/>
<text x="358.2" y="278.1" text-anchor="end">0</text>
<line x1="360.8" y1="243.44" x2="363.8" y2="243.44" stroke="#1a1a1a" stroke-width="1"/>
<text x="358.2" y="247.04" text-anchor="end">2</text>
<line x1="360.8" y1="212.38" x2="363.8" y2="212.38" stroke="#1a1a1a" stroke-width="1"/>
<text x="358.2" y="215.98" text-anchor="end">4</text>
<line x1="360.8" y1="181.32" x2="363.8" y2="181.32" stroke="#1a1a1a" stroke-width="1"/>
<text x="358.2" y="184.92" text-anchor="end">6</text>
<line x1="374" y1="274.5" x2="374" y2="277.5" stroke="#1a1a1a" stroke-width="1"/>
<line x1="389.9" y1="274.5" x2="389.9" y2="277.5" stroke="#1a1a1a" stroke-width="1"/>
<line x1="405.8" y1="274.5" x2="405.8" y2="277.5" stroke="#1a1a1a" stroke-width="1"/>
<line x1="421.8" y1="274.5" x2="421.8" y2="277.5" stroke="#1a1a1a" stroke-width="1"/>
<text x="379.5" y="284.5" text-anchor="end" transform="rotate(-45 379.5 284.5)">d25</text>
<text x="395.4" y="284.5" text-anchor="end" transform="rotate(-45 395.4 284.5)">d50</text>
<text x="411.3" y="284.5" text-anchor="end" transform="rotate(-45 411.3 284.5)">d75</text>
<text x="427.3" y="284.5" text-anchor="end" transform="rotate(-45 427.3 284.5)">d100</text>
<text x="341.2" y="218.2" text-anchor="middle" transform="rotate(-90 341.2 218.2)">Neurite length (×10<tspan font-size="6.5" dy="-3.5">3</tspan><tspan dy="3.5"> µm)</tspan></text>
<line x1="373.2" y1="182.3" x2="389.3" y2="182.3" stroke="#9a9a9a" stroke-width="1.1"/>
<text x="385" y="178.8" text-anchor="middle">&lt;0.0001</text>
<line x1="389.3" y1="169" x2="405.7" y2="169" stroke="#9a9a9a" stroke-width="1.1"/>
<text x="399.5" y="165.5" text-anchor="middle">0.0232</text>
<line x1="405.7" y1="155.3" x2="421.8" y2="155.3" stroke="#9a9a9a" stroke-width="1.1"/>
<text x="417.1" y="152.3" text-anchor="middle">0.0022</text>
<circle cx="373.61" cy="269.41" r="1.6" fill="none" stroke="#2b94ea" stroke-width="0.7"/>
<circle cx="371.4" cy="266.93" r="1.6" fill="none" stroke="#2b94ea" stroke-width="0.7"/>
<circle cx="379.07" cy="265.97" r="1.6" fill="none" stroke="#2b94ea" stroke-width="0.7"/>
<circle cx="379.67" cy="268.31" r="1.6" fill="none" stroke="#2b94ea" stroke-width="0.7"/>
<circle cx="377" cy="269.58" r="1.6" fill="none" stroke="#2b94ea" stroke-width="0.7"/>
<circle cx="376.49" cy="267.61" r="1.6" fill="none" stroke="#2b94ea" stroke-width="0.7"/>
<circle cx="371.87" cy="266.77" r="1.6" fill="none" stroke="#2b94ea" stroke-width="0.7"/>
<circle cx="371.34" cy="265.81" r="1.6" fill="none" stroke="#2b94ea" stroke-width="0.7"/>
<circle cx="372.05" cy="269.4" r="1.6" fill="none" stroke="#2b94ea" stroke-width="0.7"/>
<circle cx="370.15" cy="269.52" r="1.6" fill="none" stroke="#2b94ea" stroke-width="0.7"/>
<circle cx="376.94" cy="266.42" r="1.6" fill="none" stroke="#2b94ea" stroke-width="0.7"/>
<circle cx="372.85" cy="266.78" r="1.6" fill="none" stroke="#2b94ea" stroke-width="0.7"/>
<circle cx="376.87" cy="265.13" r="1.6" fill="none" stroke="#2b94ea" stroke-width="0.7"/>
<circle cx="372.84" cy="265.99" r="1.6" fill="none" stroke="#2b94ea" stroke-width="0.7"/>
<circle cx="379.48" cy="267.67" r="1.6" fill="none" stroke="#2b94ea" stroke-width="0.7"/>
<circle cx="378.11" cy="267.94" r="1.6" fill="none" stroke="#2b94ea" stroke-width="0.7"/>
<circle cx="371.5" cy="263.52" r="1.6" fill="none" stroke="#2b94ea" stroke-width="0.7"/>
<circle cx="370.57" cy="267.96" r="1.6" fill="none" stroke="#2b94ea" stroke-width="0.7"/>
<circle cx="378.41" cy="268.73" r="1.6" fill="none" stroke="#2b94ea" stroke-width="0.7"/>
<circle cx="373.71" cy="269.28" r="1.6" fill="none" stroke="#2b94ea" stroke-width="0.7"/>
<circle cx="379.76" cy="267.36" r="1.6" fill="none" stroke="#2b94ea" stroke-width="0.7"/>
<circle cx="372.77" cy="267.29" r="1.6" fill="none" stroke="#2b94ea" stroke-width="0.7"/>
<circle cx="368.99" cy="268.05" r="1.6" fill="none" stroke="#2b94ea" stroke-width="0.7"/>
<circle cx="375.55" cy="267.61" r="1.6" fill="none" stroke="#2b94ea" stroke-width="0.7"/>
<circle cx="377.3" cy="267.09" r="1.6" fill="none" stroke="#2b94ea" stroke-width="0.7"/>
<circle cx="371.45" cy="266.44" r="1.6" fill="none" stroke="#2b94ea" stroke-width="0.7"/>
<circle cx="369.94" cy="265.81" r="1.6" fill="none" stroke="#2b94ea" stroke-width="0.7"/>
<circle cx="372.01" cy="267.19" r="1.6" fill="none" stroke="#2b94ea" stroke-width="0.7"/>
<circle cx="377.22" cy="270.29" r="1.6" fill="none" stroke="#2b94ea" stroke-width="0.7"/>
<circle cx="376.85" cy="266.42" r="1.6" fill="none" stroke="#2b94ea" stroke-width="0.7"/>
<circle cx="370.77" cy="269.72" r="1.6" fill="none" stroke="#2b94ea" stroke-width="0.7"/>
<circle cx="370.97" cy="267.78" r="1.6" fill="none" stroke="#2b94ea" stroke-width="0.7"/>
<circle cx="370.71" cy="269.8" r="1.6" fill="none" stroke="#2b94ea" stroke-width="0.7"/>
<circle cx="368.72" cy="267.51" r="1.6" fill="none" stroke="#2b94ea" stroke-width="0.7"/>
<circle cx="375.2" cy="262.85" r="1.6" fill="none" stroke="#2b94ea" stroke-width="0.7"/>
<circle cx="372.33" cy="263.63" r="1.6" fill="none" stroke="#2b94ea" stroke-width="0.7"/>
<circle cx="374.28" cy="263.32" r="1.6" fill="none" stroke="#2b94ea" stroke-width="0.7"/>
<rect x="385.29" y="259.56" width="3" height="3" fill="none" stroke="#a6916d" stroke-width="0.7"/>
<rect x="390.87" y="255.71" width="3" height="3" fill="none" stroke="#a6916d" stroke-width="0.7"/>
<rect x="393.23" y="256.97" width="3" height="3" fill="none" stroke="#a6916d" stroke-width="0.7"/>
<rect x="385.25" y="259.15" width="3" height="3" fill="none" stroke="#a6916d" stroke-width="0.7"/>
<rect x="393.33" y="258.13" width="3" height="3" fill="none" stroke="#a6916d" stroke-width="0.7"/>
<rect x="392.52" y="258.51" width="3" height="3" fill="none" stroke="#a6916d" stroke-width="0.7"/>
<rect x="389.44" y="259.53" width="3" height="3" fill="none" stroke="#a6916d" stroke-width="0.7"/>
<rect x="387.63" y="255.15" width="3" height="3" fill="none" stroke="#a6916d" stroke-width="0.7"/>
<rect x="384.08" y="258.23" width="3" height="3" fill="none" stroke="#a6916d" stroke-width="0.7"/>
<rect x="387.07" y="245.05" width="3" height="3" fill="none" stroke="#a6916d" stroke-width="0.7"/>
<rect x="393.05" y="255.39" width="3" height="3" fill="none" stroke="#a6916d" stroke-width="0.7"/>
<rect x="386.02" y="260.44" width="3" height="3" fill="none" stroke="#a6916d" stroke-width="0.7"/>
<rect x="390.24" y="254.29" width="3" height="3" fill="none" stroke="#a6916d" stroke-width="0.7"/>
<rect x="385.82" y="258.82" width="3" height="3" fill="none" stroke="#a6916d" stroke-width="0.7"/>
<rect x="389.92" y="263.89" width="3" height="3" fill="none" stroke="#a6916d" stroke-width="0.7"/>
<rect x="388.96" y="251.06" width="3" height="3" fill="none" stroke="#a6916d" stroke-width="0.7"/>
<rect x="386.13" y="258.04" width="3" height="3" fill="none" stroke="#a6916d" stroke-width="0.7"/>
<rect x="384.87" y="258.36" width="3" height="3" fill="none" stroke="#a6916d" stroke-width="0.7"/>
<rect x="390.19" y="253.47" width="3" height="3" fill="none" stroke="#a6916d" stroke-width="0.7"/>
<rect x="383.68" y="256.91" width="3" height="3" fill="none" stroke="#a6916d" stroke-width="0.7"/>
<rect x="385.41" y="257.11" width="3" height="3" fill="none" stroke="#a6916d" stroke-width="0.7"/>
<rect x="388.66" y="248.68" width="3" height="3" fill="none" stroke="#a6916d" stroke-width="0.7"/>
<rect x="392.2" y="258.55" width="3" height="3" fill="none" stroke="#a6916d" stroke-width="0.7"/>
<rect x="389.3" y="253.26" width="3" height="3" fill="none" stroke="#a6916d" stroke-width="0.7"/>
<rect x="386.29" y="254.88" width="3" height="3" fill="none" stroke="#a6916d" stroke-width="0.7"/>
<rect x="392.73" y="255.79" width="3" height="3" fill="none" stroke="#a6916d" stroke-width="0.7"/>
<rect x="385.47" y="259.71" width="3" height="3" fill="none" stroke="#a6916d" stroke-width="0.7"/>
<rect x="383.16" y="258.42" width="3" height="3" fill="none" stroke="#a6916d" stroke-width="0.7"/>
<rect x="386.27" y="260.31" width="3" height="3" fill="none" stroke="#a6916d" stroke-width="0.7"/>
<rect x="387.85" y="259.36" width="3" height="3" fill="none" stroke="#a6916d" stroke-width="0.7"/>
<rect x="386.6" y="264.46" width="3" height="3" fill="none" stroke="#a6916d" stroke-width="0.7"/>
<rect x="385.83" y="253.28" width="3" height="3" fill="none" stroke="#a6916d" stroke-width="0.7"/>
<rect x="387.61" y="262.75" width="3" height="3" fill="none" stroke="#a6916d" stroke-width="0.7"/>
<rect x="389.16" y="256.07" width="3" height="3" fill="none" stroke="#a6916d" stroke-width="0.7"/>
<rect x="384.92" y="254.71" width="3" height="3" fill="none" stroke="#a6916d" stroke-width="0.7"/>
<rect x="386.94" y="258.9" width="3" height="3" fill="none" stroke="#a6916d" stroke-width="0.7"/>
<rect x="390.62" y="250.92" width="3" height="3" fill="none" stroke="#a6916d" stroke-width="0.7"/>
<rect x="390.38" y="248.3" width="3" height="3" fill="none" stroke="#a6916d" stroke-width="0.7"/>
<rect x="389.96" y="255.23" width="3" height="3" fill="none" stroke="#a6916d" stroke-width="0.7"/>
<rect x="390.25" y="259.91" width="3" height="3" fill="none" stroke="#a6916d" stroke-width="0.7"/>
<rect x="388.67" y="245.82" width="3" height="3" fill="none" stroke="#a6916d" stroke-width="0.7"/>
<rect x="386.94" y="248.15" width="3" height="3" fill="none" stroke="#a6916d" stroke-width="0.7"/>
<path d="M405.78 249.66 l1.8 3 h-3.6 z" fill="none" stroke="#2c3c9e" stroke-width="0.7"/>
<path d="M406.82 250.67 l1.8 3 h-3.6 z" fill="none" stroke="#2c3c9e" stroke-width="0.7"/>
<path d="M407.67 241.78 l1.8 3 h-3.6 z" fill="none" stroke="#2c3c9e" stroke-width="0.7"/>
<path d="M403.45 256.76 l1.8 3 h-3.6 z" fill="none" stroke="#2c3c9e" stroke-width="0.7"/>
<path d="M401.75 249.55 l1.8 3 h-3.6 z" fill="none" stroke="#2c3c9e" stroke-width="0.7"/>
<path d="M403.98 251.29 l1.8 3 h-3.6 z" fill="none" stroke="#2c3c9e" stroke-width="0.7"/>
<path d="M407.54 256.22 l1.8 3 h-3.6 z" fill="none" stroke="#2c3c9e" stroke-width="0.7"/>
<path d="M402.97 257.01 l1.8 3 h-3.6 z" fill="none" stroke="#2c3c9e" stroke-width="0.7"/>
<path d="M402.71 251.71 l1.8 3 h-3.6 z" fill="none" stroke="#2c3c9e" stroke-width="0.7"/>
<path d="M409.66 257.04 l1.8 3 h-3.6 z" fill="none" stroke="#2c3c9e" stroke-width="0.7"/>
<path d="M407 248.19 l1.8 3 h-3.6 z" fill="none" stroke="#2c3c9e" stroke-width="0.7"/>
<path d="M405.28 250.97 l1.8 3 h-3.6 z" fill="none" stroke="#2c3c9e" stroke-width="0.7"/>
<path d="M408.29 261.9 l1.8 3 h-3.6 z" fill="none" stroke="#2c3c9e" stroke-width="0.7"/>
<path d="M404.07 254.22 l1.8 3 h-3.6 z" fill="none" stroke="#2c3c9e" stroke-width="0.7"/>
<path d="M406.53 241.71 l1.8 3 h-3.6 z" fill="none" stroke="#2c3c9e" stroke-width="0.7"/>
<path d="M403.02 257.66 l1.8 3 h-3.6 z" fill="none" stroke="#2c3c9e" stroke-width="0.7"/>
<path d="M405.11 254.52 l1.8 3 h-3.6 z" fill="none" stroke="#2c3c9e" stroke-width="0.7"/>
<path d="M407.53 262.84 l1.8 3 h-3.6 z" fill="none" stroke="#2c3c9e" stroke-width="0.7"/>
<path d="M408.28 245.36 l1.8 3 h-3.6 z" fill="none" stroke="#2c3c9e" stroke-width="0.7"/>
<path d="M409.6 254.27 l1.8 3 h-3.6 z" fill="none" stroke="#2c3c9e" stroke-width="0.7"/>
<path d="M404.7 256.91 l1.8 3 h-3.6 z" fill="none" stroke="#2c3c9e" stroke-width="0.7"/>
<path d="M406.24 263.38 l1.8 3 h-3.6 z" fill="none" stroke="#2c3c9e" stroke-width="0.7"/>
<path d="M404.65 245.95 l1.8 3 h-3.6 z" fill="none" stroke="#2c3c9e" stroke-width="0.7"/>
<path d="M402.24 256.22 l1.8 3 h-3.6 z" fill="none" stroke="#2c3c9e" stroke-width="0.7"/>
<path d="M405.77 247.44 l1.8 3 h-3.6 z" fill="none" stroke="#2c3c9e" stroke-width="0.7"/>
<path d="M407.57 263.38 l1.8 3 h-3.6 z" fill="none" stroke="#2c3c9e" stroke-width="0.7"/>
<path d="M408.58 259.74 l1.8 3 h-3.6 z" fill="none" stroke="#2c3c9e" stroke-width="0.7"/>
<path d="M407.9 255.28 l1.8 3 h-3.6 z" fill="none" stroke="#2c3c9e" stroke-width="0.7"/>
<path d="M409.92 257.79 l1.8 3 h-3.6 z" fill="none" stroke="#2c3c9e" stroke-width="0.7"/>
<path d="M404.53 244.73 l1.8 3 h-3.6 z" fill="none" stroke="#2c3c9e" stroke-width="0.7"/>
<path d="M402.55 253.17 l1.8 3 h-3.6 z" fill="none" stroke="#2c3c9e" stroke-width="0.7"/>
<path d="M405.32 252.76 l1.8 3 h-3.6 z" fill="none" stroke="#2c3c9e" stroke-width="0.7"/>
<path d="M404.62 263.38 l1.8 3 h-3.6 z" fill="none" stroke="#2c3c9e" stroke-width="0.7"/>
<path d="M404.3 263.38 l1.8 3 h-3.6 z" fill="none" stroke="#2c3c9e" stroke-width="0.7"/>
<path d="M405.38 242.75 l1.8 3 h-3.6 z" fill="none" stroke="#2c3c9e" stroke-width="0.7"/>
<path d="M406.89 258.69 l1.8 3 h-3.6 z" fill="none" stroke="#2c3c9e" stroke-width="0.7"/>
<path d="M405.75 259.66 l1.8 3 h-3.6 z" fill="none" stroke="#2c3c9e" stroke-width="0.7"/>
<path d="M404.84 243.61 l1.8 3 h-3.6 z" fill="none" stroke="#2c3c9e" stroke-width="0.7"/>
<path d="M408.95 257.54 l1.8 3 h-3.6 z" fill="none" stroke="#2c3c9e" stroke-width="0.7"/>
<path d="M410.62 254.63 l1.8 3 h-3.6 z" fill="none" stroke="#2c3c9e" stroke-width="0.7"/>
<path d="M405.41 249.42 l1.8 3 h-3.6 z" fill="none" stroke="#2c3c9e" stroke-width="0.7"/>
<path d="M401.6 253.44 l1.8 3 h-3.6 z" fill="none" stroke="#2c3c9e" stroke-width="0.7"/>
<path d="M401.58 250.96 l1.8 3 h-3.6 z" fill="none" stroke="#2c3c9e" stroke-width="0.7"/>
<path d="M409.42 252.68 l1.8 3 h-3.6 z" fill="none" stroke="#2c3c9e" stroke-width="0.7"/>
<path d="M401.51 257.39 l1.8 3 h-3.6 z" fill="none" stroke="#2c3c9e" stroke-width="0.7"/>
<path d="M407.86 255.71 l1.8 3 h-3.6 z" fill="none" stroke="#2c3c9e" stroke-width="0.7"/>
<path d="M406.39 249.62 l1.8 3 h-3.6 z" fill="none" stroke="#2c3c9e" stroke-width="0.7"/>
<path d="M405.06 240.22 l1.8 3 h-3.6 z" fill="none" stroke="#2c3c9e" stroke-width="0.7"/>
<path d="M406.46 234.65 l1.8 3 h-3.6 z" fill="none" stroke="#2c3c9e" stroke-width="0.7"/>
<path d="M404.43 236.98 l1.8 3 h-3.6 z" fill="none" stroke="#2c3c9e" stroke-width="0.7"/>
<path d="M420.43 244.99 l1.8 -3 h-3.6 z" fill="none" stroke="#5d8e96" stroke-width="0.7"/>
<path d="M423.54 244.41 l1.8 -3 h-3.6 z" fill="none" stroke="#5d8e96" stroke-width="0.7"/>
<path d="M421.96 238.82 l1.8 -3 h-3.6 z" fill="none" stroke="#5d8e96" stroke-width="0.7"/>
<path d="M422.83 247.34 l1.8 -3 h-3.6 z" fill="none" stroke="#5d8e96" stroke-width="0.7"/>
<path d="M424.1 248.69 l1.8 -3 h-3.6 z" fill="none" stroke="#5d8e96" stroke-width="0.7"/>
<path d="M420.85 245.94 l1.8 -3 h-3.6 z" fill="none" stroke="#5d8e96" stroke-width="0.7"/>
<path d="M424.24 241.6 l1.8 -3 h-3.6 z" fill="none" stroke="#5d8e96" stroke-width="0.7"/>
<path d="M425.45 246.7 l1.8 -3 h-3.6 z" fill="none" stroke="#5d8e96" stroke-width="0.7"/>
<path d="M418.67 256.16 l1.8 -3 h-3.6 z" fill="none" stroke="#5d8e96" stroke-width="0.7"/>
<path d="M425.68 246.39 l1.8 -3 h-3.6 z" fill="none" stroke="#5d8e96" stroke-width="0.7"/>
<path d="M423.59 254.47 l1.8 -3 h-3.6 z" fill="none" stroke="#5d8e96" stroke-width="0.7"/>
<path d="M419.1 257.08 l1.8 -3 h-3.6 z" fill="none" stroke="#5d8e96" stroke-width="0.7"/>
<path d="M421.42 240.95 l1.8 -3 h-3.6 z" fill="none" stroke="#5d8e96" stroke-width="0.7"/>
<path d="M422.9 251.05 l1.8 -3 h-3.6 z" fill="none" stroke="#5d8e96" stroke-width="0.7"/>
<path d="M425.49 246.99 l1.8 -3 h-3.6 z" fill="none" stroke="#5d8e96" stroke-width="0.7"/>
<path d="M420.74 243.06 l1.8 -3 h-3.6 z" fill="none" stroke="#5d8e96" stroke-width="0.7"/>
<path d="M422.42 248.58 l1.8 -3 h-3.6 z" fill="none" stroke="#5d8e96" stroke-width="0.7"/>
<path d="M425.21 248.2 l1.8 -3 h-3.6 z" fill="none" stroke="#5d8e96" stroke-width="0.7"/>
<path d="M423.94 257.39 l1.8 -3 h-3.6 z" fill="none" stroke="#5d8e96" stroke-width="0.7"/>
<path d="M425.8 247.43 l1.8 -3 h-3.6 z" fill="none" stroke="#5d8e96" stroke-width="0.7"/>
<path d="M421.47 247.05 l1.8 -3 h-3.6 z" fill="none" stroke="#5d8e96" stroke-width="0.7"/>
<path d="M423.14 245.01 l1.8 -3 h-3.6 z" fill="none" stroke="#5d8e96" stroke-width="0.7"/>
<path d="M421.37 165.84 l1.8 -3 h-3.6 z" fill="none" stroke="#5d8e96" stroke-width="0.7"/>
<path d="M422.25 204.66 l1.8 -3 h-3.6 z" fill="none" stroke="#5d8e96" stroke-width="0.7"/>
<path d="M422.72 217.09 l1.8 -3 h-3.6 z" fill="none" stroke="#5d8e96" stroke-width="0.7"/>
<path d="M422.23 218.64 l1.8 -3 h-3.6 z" fill="none" stroke="#5d8e96" stroke-width="0.7"/>
<path d="M422.62 224.07 l1.8 -3 h-3.6 z" fill="none" stroke="#5d8e96" stroke-width="0.7"/>
<path d="M420.04 260.57 l1.8 -3 h-3.6 z" fill="none" stroke="#5d8e96" stroke-width="0.7"/>
<line x1="367.7" y1="267.51" x2="380.3" y2="267.51" stroke="#000" stroke-width="1.7"/>
<line x1="374" y1="267.98" x2="374" y2="267.05" stroke="#000" stroke-width="1"/>
<line x1="371" y1="267.98" x2="377" y2="267.98" stroke="#000" stroke-width="1"/>
<line x1="371" y1="267.05" x2="377" y2="267.05" stroke="#000" stroke-width="1"/>
<line x1="383.6" y1="258.19" x2="396.2" y2="258.19" stroke="#000" stroke-width="1.7"/>
<line x1="389.9" y1="258.97" x2="389.9" y2="257.11" stroke="#000" stroke-width="1"/>
<line x1="386.9" y1="258.97" x2="392.9" y2="258.97" stroke="#000" stroke-width="1"/>
<line x1="386.9" y1="257.11" x2="392.9" y2="257.11" stroke="#000" stroke-width="1"/>
<line x1="399.5" y1="252.76" x2="412.1" y2="252.76" stroke="#000" stroke-width="1.7"/>
<line x1="405.8" y1="254" x2="405.8" y2="251.52" stroke="#000" stroke-width="1"/>
<line x1="402.8" y1="254" x2="408.8" y2="254" stroke="#000" stroke-width="1"/>
<line x1="402.8" y1="251.52" x2="408.8" y2="251.52" stroke="#000" stroke-width="1"/>
<line x1="415.5" y1="235.99" x2="428.1" y2="235.99" stroke="#000" stroke-width="1.7"/>
<line x1="421.8" y1="241.58" x2="421.8" y2="230.71" stroke="#000" stroke-width="1"/>
<line x1="418.8" y1="241.58" x2="424.8" y2="241.58" stroke="#000" stroke-width="1"/>
<line x1="418.8" y1="230.71" x2="424.8" y2="230.71" stroke="#000" stroke-width="1"/>
<!-- panel_f -->
<text x="452.5" y="156.8" font-size="16.5" fill="#000" font-weight="bold" stroke="#000" stroke-width="0.7">f</text>
<line x1="499.3" y1="160.3" x2="499.3" y2="275.4" stroke="#1a1a1a" stroke-width="1"/>
<line x1="498.8" y1="274.9" x2="674.5" y2="274.9" stroke="#1a1a1a" stroke-width="1.1"/>
<line x1="496.3" y1="274.9" x2="499.3" y2="274.9" stroke="#1a1a1a" stroke-width="1"/>
<text x="494.2" y="278.5" text-anchor="end">0</text>
<line x1="496.3" y1="253.38" x2="499.3" y2="253.38" stroke="#1a1a1a" stroke-width="1"/>
<text x="494.2" y="256.98" text-anchor="end">2</text>
<line x1="496.3" y1="231.86" x2="499.3" y2="231.86" stroke="#1a1a1a" stroke-width="1"/>
<text x="494.2" y="235.46" text-anchor="end">4</text>
<line x1="496.3" y1="210.34" x2="499.3" y2="210.34" stroke="#1a1a1a" stroke-width="1"/>
<text x="494.2" y="213.94" text-anchor="end">6</text>
<line x1="496.3" y1="188.82" x2="499.3" y2="188.82" stroke="#1a1a1a" stroke-width="1"/>
<text x="494.2" y="192.42" text-anchor="end">8</text>
<line x1="496.3" y1="167.3" x2="499.3" y2="167.3" stroke="#1a1a1a" stroke-width="1"/>
<text x="494.2" y="170.9" text-anchor="end">10</text>
<line x1="507" y1="274.9" x2="507" y2="277.9" stroke="#1a1a1a" stroke-width="1"/>
<text x="507" y="288.5" text-anchor="middle">0</text>
<line x1="538.82" y1="274.9" x2="538.82" y2="277.9" stroke="#1a1a1a" stroke-width="1"/>
<text x="538.82" y="288.5" text-anchor="middle">40</text>
<line x1="570.64" y1="274.9" x2="570.64" y2="277.9" stroke="#1a1a1a" stroke-width="1"/>
<text x="570.64" y="288.5" text-anchor="middle">80</text>
<line x1="602.46" y1="274.9" x2="602.46" y2="277.9" stroke="#1a1a1a" stroke-width="1"/>
<text x="602.46" y="288.5" text-anchor="middle">120</text>
<line x1="634.28" y1="274.9" x2="634.28" y2="277.9" stroke="#1a1a1a" stroke-width="1"/>
<text x="634.28" y="288.5" text-anchor="middle">160</text>
<line x1="666.1" y1="274.9" x2="666.1" y2="277.9" stroke="#1a1a1a" stroke-width="1"/>
<text x="666.1" y="288.5" text-anchor="middle">200</text>
<text x="587.6" y="304.5" text-anchor="middle">Distance from soma (µm)</text>
<text x="471.2" y="218.8" text-anchor="middle" transform="rotate(-90 471.2 218.8)">Number of intersections</text>
<line x1="514.96" y1="206.61" x2="514.96" y2="222.68" stroke="#a9c4c6" stroke-width="0.9"/>
<line x1="512.56" y1="206.61" x2="517.36" y2="206.61" stroke="#a9c4c6" stroke-width="0.9"/>
<line x1="512.56" y1="222.68" x2="517.36" y2="222.68" stroke="#a9c4c6" stroke-width="0.9"/>
<line x1="522.91" y1="187.82" x2="522.91" y2="204.89" stroke="#a9c4c6" stroke-width="0.9"/>
<line x1="520.51" y1="187.82" x2="525.31" y2="187.82" stroke="#a9c4c6" stroke-width="0.9"/>
<line x1="520.51" y1="204.89" x2="525.31" y2="204.89" stroke="#a9c4c6" stroke-width="0.9"/>
<line x1="530.87" y1="170.14" x2="530.87" y2="188.14" stroke="#a9c4c6" stroke-width="0.9"/>
<line x1="528.47" y1="170.14" x2="533.26" y2="170.14" stroke="#a9c4c6" stroke-width="0.9"/>
<line x1="528.47" y1="188.14" x2="533.26" y2="188.14" stroke="#a9c4c6" stroke-width="0.9"/>
<line x1="538.82" y1="164.61" x2="538.82" y2="182.9" stroke="#a9c4c6" stroke-width="0.9"/>
<line x1="536.42" y1="164.61" x2="541.22" y2="164.61" stroke="#a9c4c6" stroke-width="0.9"/>
<line x1="536.42" y1="182.9" x2="541.22" y2="182.9" stroke="#a9c4c6" stroke-width="0.9"/>
<line x1="546.77" y1="167.93" x2="546.77" y2="186.04" stroke="#a9c4c6" stroke-width="0.9"/>
<line x1="544.38" y1="167.93" x2="549.17" y2="167.93" stroke="#a9c4c6" stroke-width="0.9"/>
<line x1="544.38" y1="186.04" x2="549.17" y2="186.04" stroke="#a9c4c6" stroke-width="0.9"/>
<line x1="554.73" y1="172.35" x2="554.73" y2="190.23" stroke="#a9c4c6" stroke-width="0.9"/>
<line x1="552.33" y1="172.35" x2="557.13" y2="172.35" stroke="#a9c4c6" stroke-width="0.9"/>
<line x1="552.33" y1="190.23" x2="557.13" y2="190.23" stroke="#a9c4c6" stroke-width="0.9"/>
<line x1="562.68" y1="170.14" x2="562.68" y2="188.14" stroke="#a9c4c6" stroke-width="0.9"/>
<line x1="560.28" y1="170.14" x2="565.08" y2="170.14" stroke="#a9c4c6" stroke-width="0.9"/>
<line x1="560.28" y1="188.14" x2="565.08" y2="188.14" stroke="#a9c4c6" stroke-width="0.9"/>
<line x1="570.64" y1="171.24" x2="570.64" y2="189.18" stroke="#a9c4c6" stroke-width="0.9"/>
<line x1="568.24" y1="171.24" x2="573.04" y2="171.24" stroke="#a9c4c6" stroke-width="0.9"/>
<line x1="568.24" y1="189.18" x2="573.04" y2="189.18" stroke="#a9c4c6" stroke-width="0.9"/>
<line x1="578.6" y1="178.98" x2="578.6" y2="196.51" stroke="#a9c4c6" stroke-width="0.9"/>
<line x1="576.2" y1="178.98" x2="581" y2="178.98" stroke="#a9c4c6" stroke-width="0.9"/>
<line x1="576.2" y1="196.51" x2="581" y2="196.51" stroke="#a9c4c6" stroke-width="0.9"/>
<line x1="586.55" y1="184.5" x2="586.55" y2="201.74" stroke="#a9c4c6" stroke-width="0.9"/>
<line x1="584.15" y1="184.5" x2="588.95" y2="184.5" stroke="#a9c4c6" stroke-width="0.9"/>
<line x1="584.15" y1="201.74" x2="588.95" y2="201.74" stroke="#a9c4c6" stroke-width="0.9"/>
<line x1="594.5" y1="186.71" x2="594.5" y2="203.84" stroke="#a9c4c6" stroke-width="0.9"/>
<line x1="592.11" y1="186.71" x2="596.9" y2="186.71" stroke="#a9c4c6" stroke-width="0.9"/>
<line x1="592.11" y1="203.84" x2="596.9" y2="203.84" stroke="#a9c4c6" stroke-width="0.9"/>
<line x1="602.46" y1="193.34" x2="602.46" y2="210.12" stroke="#a9c4c6" stroke-width="0.9"/>
<line x1="600.06" y1="193.34" x2="604.86" y2="193.34" stroke="#a9c4c6" stroke-width="0.9"/>
<line x1="600.06" y1="210.12" x2="604.86" y2="210.12" stroke="#a9c4c6" stroke-width="0.9"/>
<line x1="610.41" y1="196.66" x2="610.41" y2="213.26" stroke="#a9c4c6" stroke-width="0.9"/>
<line x1="608.01" y1="196.66" x2="612.81" y2="196.66" stroke="#a9c4c6" stroke-width="0.9"/>
<line x1="608.01" y1="213.26" x2="612.81" y2="213.26" stroke="#a9c4c6" stroke-width="0.9"/>
<line x1="618.37" y1="202.19" x2="618.37" y2="218.49" stroke="#a9c4c6" stroke-width="0.9"/>
<line x1="615.97" y1="202.19" x2="620.77" y2="202.19" stroke="#a9c4c6" stroke-width="0.9"/>
<line x1="615.97" y1="218.49" x2="620.77" y2="218.49" stroke="#a9c4c6" stroke-width="0.9"/>
<line x1="626.33" y1="203.29" x2="626.33" y2="219.54" stroke="#a9c4c6" stroke-width="0.9"/>
<line x1="623.93" y1="203.29" x2="628.73" y2="203.29" stroke="#a9c4c6" stroke-width="0.9"/>
<line x1="623.93" y1="219.54" x2="628.73" y2="219.54" stroke="#a9c4c6" stroke-width="0.9"/>
<line x1="634.28" y1="201.08" x2="634.28" y2="217.45" stroke="#a9c4c6" stroke-width="0.9"/>
<line x1="631.88" y1="201.08" x2="636.68" y2="201.08" stroke="#a9c4c6" stroke-width="0.9"/>
<line x1="631.88" y1="217.45" x2="636.68" y2="217.45" stroke="#a9c4c6" stroke-width="0.9"/>
<line x1="642.24" y1="205.5" x2="642.24" y2="221.63" stroke="#a9c4c6" stroke-width="0.9"/>
<line x1="639.84" y1="205.5" x2="644.63" y2="205.5" stroke="#a9c4c6" stroke-width="0.9"/>
<line x1="639.84" y1="221.63" x2="644.63" y2="221.63" stroke="#a9c4c6" stroke-width="0.9"/>
<line x1="650.19" y1="211.03" x2="650.19" y2="226.87" stroke="#a9c4c6" stroke-width="0.9"/>
<line x1="647.79" y1="211.03" x2="652.59" y2="211.03" stroke="#a9c4c6" stroke-width="0.9"/>
<line x1="647.79" y1="226.87" x2="652.59" y2="226.87" stroke="#a9c4c6" stroke-width="0.9"/>
<line x1="658.14" y1="215.45" x2="658.14" y2="231.06" stroke="#a9c4c6" stroke-width="0.9"/>
<line x1="655.75" y1="215.45" x2="660.54" y2="215.45" stroke="#a9c4c6" stroke-width="0.9"/>
<line x1="655.75" y1="231.06" x2="660.54" y2="231.06" stroke="#a9c4c6" stroke-width="0.9"/>
<line x1="666.1" y1="216.55" x2="666.1" y2="232.1" stroke="#a9c4c6" stroke-width="0.9"/>
<line x1="663.7" y1="216.55" x2="668.5" y2="216.55" stroke="#a9c4c6" stroke-width="0.9"/>
<line x1="663.7" y1="232.1" x2="668.5" y2="232.1" stroke="#a9c4c6" stroke-width="0.9"/>
<line x1="674.06" y1="218.76" x2="674.06" y2="234.2" stroke="#a9c4c6" stroke-width="0.9"/>
<line x1="671.66" y1="218.76" x2="676.46" y2="218.76" stroke="#a9c4c6" stroke-width="0.9"/>
<line x1="671.66" y1="234.2" x2="676.46" y2="234.2" stroke="#a9c4c6" stroke-width="0.9"/>
<path d="M507 274.9 L514.96 214.64 L522.91 196.35 L530.87 179.14 L538.82 173.76 L546.77 176.98 L554.73 181.29 L562.68 179.14 L570.64 180.21 L578.6 187.74 L586.55 193.12 L594.5 195.28 L602.46 201.73 L610.41 204.96 L618.37 210.34 L626.33 211.42 L634.28 209.26 L642.24 213.57 L650.19 218.95 L658.14 223.25 L666.1 224.33 L674.06 226.48" stroke="#5f8f95" stroke-width="0.9" fill="none"/>
<path d="M507 276.99 l2.09 -3.61 h-4.18 z" fill="#fff" stroke="#5f8f95" stroke-width="0.8"/>
<path d="M514.96 216.73 l2.09 -3.61 h-4.18 z" fill="#fff" stroke="#5f8f95" stroke-width="0.8"/>
<path d="M522.91 198.44 l2.09 -3.61 h-4.18 z" fill="#fff" stroke="#5f8f95" stroke-width="0.8"/>
<path d="M530.87 181.23 l2.09 -3.61 h-4.18 z" fill="#fff" stroke="#5f8f95" stroke-width="0.8"/>
<path d="M538.82 175.85 l2.09 -3.61 h-4.18 z" fill="#fff" stroke="#5f8f95" stroke-width="0.8"/>
<path d="M546.77 179.07 l2.09 -3.61 h-4.18 z" fill="#fff" stroke="#5f8f95" stroke-width="0.8"/>
<path d="M554.73 183.38 l2.09 -3.61 h-4.18 z" fill="#fff" stroke="#5f8f95" stroke-width="0.8"/>
<path d="M562.68 181.23 l2.09 -3.61 h-4.18 z" fill="#fff" stroke="#5f8f95" stroke-width="0.8"/>
<path d="M570.64 182.3 l2.09 -3.61 h-4.18 z" fill="#fff" stroke="#5f8f95" stroke-width="0.8"/>
<path d="M578.6 189.83 l2.09 -3.61 h-4.18 z" fill="#fff" stroke="#5f8f95" stroke-width="0.8"/>
<path d="M586.55 195.21 l2.09 -3.61 h-4.18 z" fill="#fff" stroke="#5f8f95" stroke-width="0.8"/>
<path d="M594.5 197.37 l2.09 -3.61 h-4.18 z" fill="#fff" stroke="#5f8f95" stroke-width="0.8"/>
<path d="M602.46 203.82 l2.09 -3.61 h-4.18 z" fill="#fff" stroke="#5f8f95" stroke-width="0.8"/>
<path d="M610.41 207.05 l2.09 -3.61 h-4.18 z" fill="#fff" stroke="#5f8f95" stroke-width="0.8"/>
<path d="M618.37 212.43 l2.09 -3.61 h-4.18 z" fill="#fff" stroke="#5f8f95" stroke-width="0.8"/>
<path d="M626.33 213.51 l2.09 -3.61 h-4.18 z" fill="#fff" stroke="#5f8f95" stroke-width="0.8"/>
<path d="M634.28 211.35 l2.09 -3.61 h-4.18 z" fill="#fff" stroke="#5f8f95" stroke-width="0.8"/>
<path d="M642.24 215.66 l2.09 -3.61 h-4.18 z" fill="#fff" stroke="#5f8f95" stroke-width="0.8"/>
<path d="M650.19 221.04 l2.09 -3.61 h-4.18 z" fill="#fff" stroke="#5f8f95" stroke-width="0.8"/>
<path d="M658.14 225.34 l2.09 -3.61 h-4.18 z" fill="#fff" stroke="#5f8f95" stroke-width="0.8"/>
<path d="M666.1 226.42 l2.09 -3.61 h-4.18 z" fill="#fff" stroke="#5f8f95" stroke-width="0.8"/>
<path d="M674.06 228.57 l2.09 -3.61 h-4.18 z" fill="#fff" stroke="#5f8f95" stroke-width="0.8"/>
<line x1="514.96" y1="221.16" x2="514.96" y2="231.8" stroke="#c9b79b" stroke-width="0.9"/>
<line x1="512.56" y1="221.16" x2="517.36" y2="221.16" stroke="#c9b79b" stroke-width="0.9"/>
<line x1="512.56" y1="231.8" x2="517.36" y2="231.8" stroke="#c9b79b" stroke-width="0.9"/>
<line x1="522.91" y1="206.84" x2="522.91" y2="218.15" stroke="#c9b79b" stroke-width="0.9"/>
<line x1="520.51" y1="206.84" x2="525.31" y2="206.84" stroke="#c9b79b" stroke-width="0.9"/>
<line x1="520.51" y1="218.15" x2="525.31" y2="218.15" stroke="#c9b79b" stroke-width="0.9"/>
<line x1="530.87" y1="195.81" x2="530.87" y2="207.65" stroke="#c9b79b" stroke-width="0.9"/>
<line x1="528.47" y1="195.81" x2="533.26" y2="195.81" stroke="#c9b79b" stroke-width="0.9"/>
<line x1="528.47" y1="207.65" x2="533.26" y2="207.65" stroke="#c9b79b" stroke-width="0.9"/>
<line x1="538.82" y1="198.02" x2="538.82" y2="209.75" stroke="#c9b79b" stroke-width="0.9"/>
<line x1="536.42" y1="198.02" x2="541.22" y2="198.02" stroke="#c9b79b" stroke-width="0.9"/>
<line x1="536.42" y1="209.75" x2="541.22" y2="209.75" stroke="#c9b79b" stroke-width="0.9"/>
<line x1="546.77" y1="206.84" x2="546.77" y2="218.15" stroke="#c9b79b" stroke-width="0.9"/>
<line x1="544.38" y1="206.84" x2="549.17" y2="206.84" stroke="#c9b79b" stroke-width="0.9"/>
<line x1="544.38" y1="218.15" x2="549.17" y2="218.15" stroke="#c9b79b" stroke-width="0.9"/>
<line x1="554.73" y1="212.35" x2="554.73" y2="223.4" stroke="#c9b79b" stroke-width="0.9"/>
<line x1="552.33" y1="212.35" x2="557.13" y2="212.35" stroke="#c9b79b" stroke-width="0.9"/>
<line x1="552.33" y1="223.4" x2="557.13" y2="223.4" stroke="#c9b79b" stroke-width="0.9"/>
<line x1="562.68" y1="212.35" x2="562.68" y2="223.4" stroke="#c9b79b" stroke-width="0.9"/>
<line x1="560.28" y1="212.35" x2="565.08" y2="212.35" stroke="#c9b79b" stroke-width="0.9"/>
<line x1="560.28" y1="223.4" x2="565.08" y2="223.4" stroke="#c9b79b" stroke-width="0.9"/>
<line x1="570.64" y1="213.45" x2="570.64" y2="224.45" stroke="#c9b79b" stroke-width="0.9"/>
<line x1="568.24" y1="213.45" x2="573.04" y2="213.45" stroke="#c9b79b" stroke-width="0.9"/>
<line x1="568.24" y1="224.45" x2="573.04" y2="224.45" stroke="#c9b79b" stroke-width="0.9"/>
<line x1="578.6" y1="214.55" x2="578.6" y2="225.5" stroke="#c9b79b" stroke-width="0.9"/>
<line x1="576.2" y1="214.55" x2="581" y2="214.55" stroke="#c9b79b" stroke-width="0.9"/>
<line x1="576.2" y1="225.5" x2="581" y2="225.5" stroke="#c9b79b" stroke-width="0.9"/>
<line x1="586.55" y1="220.06" x2="586.55" y2="230.75" stroke="#c9b79b" stroke-width="0.9"/>
<line x1="584.15" y1="220.06" x2="588.95" y2="220.06" stroke="#c9b79b" stroke-width="0.9"/>
<line x1="584.15" y1="230.75" x2="588.95" y2="230.75" stroke="#c9b79b" stroke-width="0.9"/>
<line x1="594.5" y1="223.37" x2="594.5" y2="233.9" stroke="#c9b79b" stroke-width="0.9"/>
<line x1="592.11" y1="223.37" x2="596.9" y2="223.37" stroke="#c9b79b" stroke-width="0.9"/>
<line x1="592.11" y1="233.9" x2="596.9" y2="233.9" stroke="#c9b79b" stroke-width="0.9"/>
<line x1="602.46" y1="229.98" x2="602.46" y2="240.2" stroke="#c9b79b" stroke-width="0.9"/>
<line x1="600.06" y1="229.98" x2="604.86" y2="229.98" stroke="#c9b79b" stroke-width="0.9"/>
<line x1="600.06" y1="240.2" x2="604.86" y2="240.2" stroke="#c9b79b" stroke-width="0.9"/>
<line x1="610.41" y1="236.59" x2="610.41" y2="246.5" stroke="#c9b79b" stroke-width="0.9"/>
<line x1="608.01" y1="236.59" x2="612.81" y2="236.59" stroke="#c9b79b" stroke-width="0.9"/>
<line x1="608.01" y1="246.5" x2="612.81" y2="246.5" stroke="#c9b79b" stroke-width="0.9"/>
<line x1="618.37" y1="242.1" x2="618.37" y2="251.75" stroke="#c9b79b" stroke-width="0.9"/>
<line x1="615.97" y1="242.1" x2="620.77" y2="242.1" stroke="#c9b79b" stroke-width="0.9"/>
<line x1="615.97" y1="251.75" x2="620.77" y2="251.75" stroke="#c9b79b" stroke-width="0.9"/>
<line x1="626.33" y1="242.1" x2="626.33" y2="251.75" stroke="#c9b79b" stroke-width="0.9"/>
<line x1="623.93" y1="242.1" x2="628.73" y2="242.1" stroke="#c9b79b" stroke-width="0.9"/>
<line x1="623.93" y1="251.75" x2="628.73" y2="251.75" stroke="#c9b79b" stroke-width="0.9"/>
<line x1="634.28" y1="245.96" x2="634.28" y2="255.42" stroke="#c9b79b" stroke-width="0.9"/>
<line x1="631.88" y1="245.96" x2="636.68" y2="245.96" stroke="#c9b79b" stroke-width="0.9"/>
<line x1="631.88" y1="255.42" x2="636.68" y2="255.42" stroke="#c9b79b" stroke-width="0.9"/>
<line x1="642.24" y1="248.72" x2="642.24" y2="258.04" stroke="#c9b79b" stroke-width="0.9"/>
<line x1="639.84" y1="248.72" x2="644.63" y2="248.72" stroke="#c9b79b" stroke-width="0.9"/>
<line x1="639.84" y1="258.04" x2="644.63" y2="258.04" stroke="#c9b79b" stroke-width="0.9"/>
<line x1="650.19" y1="246.51" x2="650.19" y2="255.94" stroke="#c9b79b" stroke-width="0.9"/>
<line x1="647.79" y1="246.51" x2="652.59" y2="246.51" stroke="#c9b79b" stroke-width="0.9"/>
<line x1="647.79" y1="255.94" x2="652.59" y2="255.94" stroke="#c9b79b" stroke-width="0.9"/>
<line x1="658.14" y1="246.51" x2="658.14" y2="255.94" stroke="#c9b79b" stroke-width="0.9"/>
<line x1="655.75" y1="246.51" x2="660.54" y2="246.51" stroke="#c9b79b" stroke-width="0.9"/>
<line x1="655.75" y1="255.94" x2="660.54" y2="255.94" stroke="#c9b79b" stroke-width="0.9"/>
<line x1="666.1" y1="249.82" x2="666.1" y2="259.09" stroke="#c9b79b" stroke-width="0.9"/>
<line x1="663.7" y1="249.82" x2="668.5" y2="249.82" stroke="#c9b79b" stroke-width="0.9"/>
<line x1="663.7" y1="259.09" x2="668.5" y2="259.09" stroke="#c9b79b" stroke-width="0.9"/>
<line x1="674.06" y1="252.02" x2="674.06" y2="261.19" stroke="#c9b79b" stroke-width="0.9"/>
<line x1="671.66" y1="252.02" x2="676.46" y2="252.02" stroke="#c9b79b" stroke-width="0.9"/>
<line x1="671.66" y1="261.19" x2="676.46" y2="261.19" stroke="#c9b79b" stroke-width="0.9"/>
<path d="M507 274.9 L514.96 226.48 L522.91 212.49 L530.87 201.73 L538.82 203.88 L546.77 212.49 L554.73 217.87 L562.68 217.87 L570.64 218.95 L578.6 220.02 L586.55 225.4 L594.5 228.63 L602.46 235.09 L610.41 241.54 L618.37 246.92 L626.33 246.92 L634.28 250.69 L642.24 253.38 L650.19 251.23 L658.14 251.23 L666.1 254.46 L674.06 256.61" stroke="#a08a68" stroke-width="0.9" fill="none"/>
<rect x="505.1" y="273" width="3.8" height="3.8" fill="#fff" stroke="#a08a68" stroke-width="0.8"/>
<rect x="513.06" y="224.58" width="3.8" height="3.8" fill="#fff" stroke="#a08a68" stroke-width="0.8"/>
<rect x="521.01" y="210.59" width="3.8" height="3.8" fill="#fff" stroke="#a08a68" stroke-width="0.8"/>
<rect x="528.97" y="199.83" width="3.8" height="3.8" fill="#fff" stroke="#a08a68" stroke-width="0.8"/>
<rect x="536.92" y="201.98" width="3.8" height="3.8" fill="#fff" stroke="#a08a68" stroke-width="0.8"/>
<rect x="544.88" y="210.59" width="3.8" height="3.8" fill="#fff" stroke="#a08a68" stroke-width="0.8"/>
<rect x="552.83" y="215.97" width="3.8" height="3.8" fill="#fff" stroke="#a08a68" stroke-width="0.8"/>
<rect x="560.78" y="215.97" width="3.8" height="3.8" fill="#fff" stroke="#a08a68" stroke-width="0.8"/>
<rect x="568.74" y="217.05" width="3.8" height="3.8" fill="#fff" stroke="#a08a68" stroke-width="0.8"/>
<rect x="576.7" y="218.12" width="3.8" height="3.8" fill="#fff" stroke="#a08a68" stroke-width="0.8"/>
<rect x="584.65" y="223.5" width="3.8" height="3.8" fill="#fff" stroke="#a08a68" stroke-width="0.8"/>
<rect x="592.61" y="226.73" width="3.8" height="3.8" fill="#fff" stroke="#a08a68" stroke-width="0.8"/>
<rect x="600.56" y="233.19" width="3.8" height="3.8" fill="#fff" stroke="#a08a68" stroke-width="0.8"/>
<rect x="608.51" y="239.64" width="3.8" height="3.8" fill="#fff" stroke="#a08a68" stroke-width="0.8"/>
<rect x="616.47" y="245.02" width="3.8" height="3.8" fill="#fff" stroke="#a08a68" stroke-width="0.8"/>
<rect x="624.43" y="245.02" width="3.8" height="3.8" fill="#fff" stroke="#a08a68" stroke-width="0.8"/>
<rect x="632.38" y="248.79" width="3.8" height="3.8" fill="#fff" stroke="#a08a68" stroke-width="0.8"/>
<rect x="640.34" y="251.48" width="3.8" height="3.8" fill="#fff" stroke="#a08a68" stroke-width="0.8"/>
<rect x="648.29" y="249.33" width="3.8" height="3.8" fill="#fff" stroke="#a08a68" stroke-width="0.8"/>
<rect x="656.25" y="249.33" width="3.8" height="3.8" fill="#fff" stroke="#a08a68" stroke-width="0.8"/>
<rect x="664.2" y="252.56" width="3.8" height="3.8" fill="#fff" stroke="#a08a68" stroke-width="0.8"/>
<rect x="672.16" y="254.71" width="3.8" height="3.8" fill="#fff" stroke="#a08a68" stroke-width="0.8"/>
<line x1="514.96" y1="226.02" x2="514.96" y2="235.55" stroke="#6b74c0" stroke-width="0.9"/>
<line x1="512.56" y1="226.02" x2="517.36" y2="226.02" stroke="#6b74c0" stroke-width="0.9"/>
<line x1="512.56" y1="235.55" x2="517.36" y2="235.55" stroke="#6b74c0" stroke-width="0.9"/>
<line x1="522.91" y1="211.71" x2="522.91" y2="221.88" stroke="#6b74c0" stroke-width="0.9"/>
<line x1="520.51" y1="211.71" x2="525.31" y2="211.71" stroke="#6b74c0" stroke-width="0.9"/>
<line x1="520.51" y1="221.88" x2="525.31" y2="221.88" stroke="#6b74c0" stroke-width="0.9"/>
<line x1="530.87" y1="200.7" x2="530.87" y2="211.37" stroke="#6b74c0" stroke-width="0.9"/>
<line x1="528.47" y1="200.7" x2="533.26" y2="200.7" stroke="#6b74c0" stroke-width="0.9"/>
<line x1="528.47" y1="211.37" x2="533.26" y2="211.37" stroke="#6b74c0" stroke-width="0.9"/>
<line x1="538.82" y1="198.5" x2="538.82" y2="209.26" stroke="#6b74c0" stroke-width="0.9"/>
<line x1="536.42" y1="198.5" x2="541.22" y2="198.5" stroke="#6b74c0" stroke-width="0.9"/>
<line x1="536.42" y1="209.26" x2="541.22" y2="209.26" stroke="#6b74c0" stroke-width="0.9"/>
<line x1="546.77" y1="200.7" x2="546.77" y2="211.37" stroke="#6b74c0" stroke-width="0.9"/>
<line x1="544.38" y1="200.7" x2="549.17" y2="200.7" stroke="#6b74c0" stroke-width="0.9"/>
<line x1="544.38" y1="211.37" x2="549.17" y2="211.37" stroke="#6b74c0" stroke-width="0.9"/>
<line x1="554.73" y1="205.11" x2="554.73" y2="215.57" stroke="#6b74c0" stroke-width="0.9"/>
<line x1="552.33" y1="205.11" x2="557.13" y2="205.11" stroke="#6b74c0" stroke-width="0.9"/>
<line x1="552.33" y1="215.57" x2="557.13" y2="215.57" stroke="#6b74c0" stroke-width="0.9"/>
<line x1="562.68" y1="212.81" x2="562.68" y2="222.93" stroke="#6b74c0" stroke-width="0.9"/>
<line x1="560.28" y1="212.81" x2="565.08" y2="212.81" stroke="#6b74c0" stroke-width="0.9"/>
<line x1="560.28" y1="222.93" x2="565.08" y2="222.93" stroke="#6b74c0" stroke-width="0.9"/>
<line x1="570.64" y1="216.11" x2="570.64" y2="226.09" stroke="#6b74c0" stroke-width="0.9"/>
<line x1="568.24" y1="216.11" x2="573.04" y2="216.11" stroke="#6b74c0" stroke-width="0.9"/>
<line x1="568.24" y1="226.09" x2="573.04" y2="226.09" stroke="#6b74c0" stroke-width="0.9"/>
<line x1="578.6" y1="220.51" x2="578.6" y2="230.29" stroke="#6b74c0" stroke-width="0.9"/>
<line x1="576.2" y1="220.51" x2="581" y2="220.51" stroke="#6b74c0" stroke-width="0.9"/>
<line x1="576.2" y1="230.29" x2="581" y2="230.29" stroke="#6b74c0" stroke-width="0.9"/>
<line x1="586.55" y1="228.22" x2="586.55" y2="237.66" stroke="#6b74c0" stroke-width="0.9"/>
<line x1="584.15" y1="228.22" x2="588.95" y2="228.22" stroke="#6b74c0" stroke-width="0.9"/>
<line x1="584.15" y1="237.66" x2="588.95" y2="237.66" stroke="#6b74c0" stroke-width="0.9"/>
<line x1="594.5" y1="227.12" x2="594.5" y2="236.6" stroke="#6b74c0" stroke-width="0.9"/>
<line x1="592.11" y1="227.12" x2="596.9" y2="227.12" stroke="#6b74c0" stroke-width="0.9"/>
<line x1="592.11" y1="236.6" x2="596.9" y2="236.6" stroke="#6b74c0" stroke-width="0.9"/>
<line x1="602.46" y1="231.52" x2="602.46" y2="240.81" stroke="#6b74c0" stroke-width="0.9"/>
<line x1="600.06" y1="231.52" x2="604.86" y2="231.52" stroke="#6b74c0" stroke-width="0.9"/>
<line x1="600.06" y1="240.81" x2="604.86" y2="240.81" stroke="#6b74c0" stroke-width="0.9"/>
<line x1="610.41" y1="231.52" x2="610.41" y2="240.81" stroke="#6b74c0" stroke-width="0.9"/>
<line x1="608.01" y1="231.52" x2="612.81" y2="231.52" stroke="#6b74c0" stroke-width="0.9"/>
<line x1="608.01" y1="240.81" x2="612.81" y2="240.81" stroke="#6b74c0" stroke-width="0.9"/>
<line x1="618.37" y1="231.52" x2="618.37" y2="240.81" stroke="#6b74c0" stroke-width="0.9"/>
<line x1="615.97" y1="231.52" x2="620.77" y2="231.52" stroke="#6b74c0" stroke-width="0.9"/>
<line x1="615.97" y1="240.81" x2="620.77" y2="240.81" stroke="#6b74c0" stroke-width="0.9"/>
<line x1="626.33" y1="231.52" x2="626.33" y2="240.81" stroke="#6b74c0" stroke-width="0.9"/>
<line x1="623.93" y1="231.52" x2="628.73" y2="231.52" stroke="#6b74c0" stroke-width="0.9"/>
<line x1="623.93" y1="240.81" x2="628.73" y2="240.81" stroke="#6b74c0" stroke-width="0.9"/>
<line x1="634.28" y1="234.82" x2="634.28" y2="243.97" stroke="#6b74c0" stroke-width="0.9"/>
<line x1="631.88" y1="234.82" x2="636.68" y2="234.82" stroke="#6b74c0" stroke-width="0.9"/>
<line x1="631.88" y1="243.97" x2="636.68" y2="243.97" stroke="#6b74c0" stroke-width="0.9"/>
<line x1="642.24" y1="234.82" x2="642.24" y2="243.97" stroke="#6b74c0" stroke-width="0.9"/>
<line x1="639.84" y1="234.82" x2="644.63" y2="234.82" stroke="#6b74c0" stroke-width="0.9"/>
<line x1="639.84" y1="243.97" x2="644.63" y2="243.97" stroke="#6b74c0" stroke-width="0.9"/>
<line x1="650.19" y1="235.92" x2="650.19" y2="245.02" stroke="#6b74c0" stroke-width="0.9"/>
<line x1="647.79" y1="235.92" x2="652.59" y2="235.92" stroke="#6b74c0" stroke-width="0.9"/>
<line x1="647.79" y1="245.02" x2="652.59" y2="245.02" stroke="#6b74c0" stroke-width="0.9"/>
<line x1="658.14" y1="238.12" x2="658.14" y2="247.12" stroke="#6b74c0" stroke-width="0.9"/>
<line x1="655.75" y1="238.12" x2="660.54" y2="238.12" stroke="#6b74c0" stroke-width="0.9"/>
<line x1="655.75" y1="247.12" x2="660.54" y2="247.12" stroke="#6b74c0" stroke-width="0.9"/>
<line x1="666.1" y1="239.22" x2="666.1" y2="248.17" stroke="#6b74c0" stroke-width="0.9"/>
<line x1="663.7" y1="239.22" x2="668.5" y2="239.22" stroke="#6b74c0" stroke-width="0.9"/>
<line x1="663.7" y1="248.17" x2="668.5" y2="248.17" stroke="#6b74c0" stroke-width="0.9"/>
<line x1="674.06" y1="235.92" x2="674.06" y2="245.02" stroke="#6b74c0" stroke-width="0.9"/>
<line x1="671.66" y1="235.92" x2="676.46" y2="235.92" stroke="#6b74c0" stroke-width="0.9"/>
<line x1="671.66" y1="245.02" x2="676.46" y2="245.02" stroke="#6b74c0" stroke-width="0.9"/>
<path d="M507 274.9 L514.96 230.78 L522.91 216.8 L530.87 206.04 L538.82 203.88 L546.77 206.04 L554.73 210.34 L562.68 217.87 L570.64 221.1 L578.6 225.4 L586.55 232.94 L594.5 231.86 L602.46 236.16 L610.41 236.16 L618.37 236.16 L626.33 236.16 L634.28 239.39 L642.24 239.39 L650.19 240.47 L658.14 242.62 L666.1 243.7 L674.06 240.47" stroke="#3a45a8" stroke-width="0.9" fill="none"/>
<path d="M507 272.81 l2.09 3.61 h-4.18 z" fill="#fff" stroke="#3a45a8" stroke-width="0.8"/>
<path d="M514.96 228.69 l2.09 3.61 h-4.18 z" fill="#fff" stroke="#3a45a8" stroke-width="0.8"/>
<path d="M522.91 214.71 l2.09 3.61 h-4.18 z" fill="#fff" stroke="#3a45a8" stroke-width="0.8"/>
<path d="M530.87 203.95 l2.09 3.61 h-4.18 z" fill="#fff" stroke="#3a45a8" stroke-width="0.8"/>
<path d="M538.82 201.79 l2.09 3.61 h-4.18 z" fill="#fff" stroke="#3a45a8" stroke-width="0.8"/>
<path d="M546.77 203.95 l2.09 3.61 h-4.18 z" fill="#fff" stroke="#3a45a8" stroke-width="0.8"/>
<path d="M554.73 208.25 l2.09 3.61 h-4.18 z" fill="#fff" stroke="#3a45a8" stroke-width="0.8"/>
<path d="M562.68 215.78 l2.09 3.61 h-4.18 z" fill="#fff" stroke="#3a45a8" stroke-width="0.8"/>
<path d="M570.64 219.01 l2.09 3.61 h-4.18 z" fill="#fff" stroke="#3a45a8" stroke-width="0.8"/>
<path d="M578.6 223.31 l2.09 3.61 h-4.18 z" fill="#fff" stroke="#3a45a8" stroke-width="0.8"/>
<path d="M586.55 230.85 l2.09 3.61 h-4.18 z" fill="#fff" stroke="#3a45a8" stroke-width="0.8"/>
<path d="M594.5 229.77 l2.09 3.61 h-4.18 z" fill="#fff" stroke="#3a45a8" stroke-width="0.8"/>
<path d="M602.46 234.07 l2.09 3.61 h-4.18 z" fill="#fff" stroke="#3a45a8" stroke-width="0.8"/>
<path d="M610.41 234.07 l2.09 3.61 h-4.18 z" fill="#fff" stroke="#3a45a8" stroke-width="0.8"/>
<path d="M618.37 234.07 l2.09 3.61 h-4.18 z" fill="#fff" stroke="#3a45a8" stroke-width="0.8"/>
<path d="M626.33 234.07 l2.09 3.61 h-4.18 z" fill="#fff" stroke="#3a45a8" stroke-width="0.8"/>
<path d="M634.28 237.3 l2.09 3.61 h-4.18 z" fill="#fff" stroke="#3a45a8" stroke-width="0.8"/>
<path d="M642.24 237.3 l2.09 3.61 h-4.18 z" fill="#fff" stroke="#3a45a8" stroke-width="0.8"/>
<path d="M650.19 238.38 l2.09 3.61 h-4.18 z" fill="#fff" stroke="#3a45a8" stroke-width="0.8"/>
<path d="M658.14 240.53 l2.09 3.61 h-4.18 z" fill="#fff" stroke="#3a45a8" stroke-width="0.8"/>
<path d="M666.1 241.61 l2.09 3.61 h-4.18 z" fill="#fff" stroke="#3a45a8" stroke-width="0.8"/>
<path d="M674.06 238.38 l2.09 3.61 h-4.18 z" fill="#fff" stroke="#3a45a8" stroke-width="0.8"/>
<line x1="514.96" y1="238.88" x2="514.96" y2="244.21" stroke="#7fc0f0" stroke-width="0.9"/>
<line x1="512.56" y1="238.88" x2="517.36" y2="238.88" stroke="#7fc0f0" stroke-width="0.9"/>
<line x1="512.56" y1="244.21" x2="517.36" y2="244.21" stroke="#7fc0f0" stroke-width="0.9"/>
<line x1="522.91" y1="237.78" x2="522.91" y2="243.16" stroke="#7fc0f0" stroke-width="0.9"/>
<line x1="520.51" y1="237.78" x2="525.31" y2="237.78" stroke="#7fc0f0" stroke-width="0.9"/>
<line x1="520.51" y1="243.16" x2="525.31" y2="243.16" stroke="#7fc0f0" stroke-width="0.9"/>
<line x1="530.87" y1="237.78" x2="530.87" y2="243.16" stroke="#7fc0f0" stroke-width="0.9"/>
<line x1="528.47" y1="237.78" x2="533.26" y2="237.78" stroke="#7fc0f0" stroke-width="0.9"/>
<line x1="528.47" y1="243.16" x2="533.26" y2="243.16" stroke="#7fc0f0" stroke-width="0.9"/>
<line x1="538.82" y1="243.28" x2="538.82" y2="248.41" stroke="#7fc0f0" stroke-width="0.9"/>
<line x1="536.42" y1="243.28" x2="541.22" y2="243.28" stroke="#7fc0f0" stroke-width="0.9"/>
<line x1="536.42" y1="248.41" x2="541.22" y2="248.41" stroke="#7fc0f0" stroke-width="0.9"/>
<line x1="546.77" y1="246.59" x2="546.77" y2="251.56" stroke="#7fc0f0" stroke-width="0.9"/>
<line x1="544.38" y1="246.59" x2="549.17" y2="246.59" stroke="#7fc0f0" stroke-width="0.9"/>
<line x1="544.38" y1="251.56" x2="549.17" y2="251.56" stroke="#7fc0f0" stroke-width="0.9"/>
<line x1="554.73" y1="247.69" x2="554.73" y2="252.62" stroke="#7fc0f0" stroke-width="0.9"/>
<line x1="552.33" y1="247.69" x2="557.13" y2="247.69" stroke="#7fc0f0" stroke-width="0.9"/>
<line x1="552.33" y1="252.62" x2="557.13" y2="252.62" stroke="#7fc0f0" stroke-width="0.9"/>
<line x1="562.68" y1="249.89" x2="562.68" y2="254.72" stroke="#7fc0f0" stroke-width="0.9"/>
<line x1="560.28" y1="249.89" x2="565.08" y2="249.89" stroke="#7fc0f0" stroke-width="0.9"/>
<line x1="560.28" y1="254.72" x2="565.08" y2="254.72" stroke="#7fc0f0" stroke-width="0.9"/>
<line x1="570.64" y1="252.09" x2="570.64" y2="256.82" stroke="#7fc0f0" stroke-width="0.9"/>
<line x1="568.24" y1="252.09" x2="573.04" y2="252.09" stroke="#7fc0f0" stroke-width="0.9"/>
<line x1="568.24" y1="256.82" x2="573.04" y2="256.82" stroke="#7fc0f0" stroke-width="0.9"/>
<line x1="578.6" y1="254.85" x2="578.6" y2="259.45" stroke="#7fc0f0" stroke-width="0.9"/>
<line x1="576.2" y1="254.85" x2="581" y2="254.85" stroke="#7fc0f0" stroke-width="0.9"/>
<line x1="576.2" y1="259.45" x2="581" y2="259.45" stroke="#7fc0f0" stroke-width="0.9"/>
<line x1="586.55" y1="257.05" x2="586.55" y2="261.55" stroke="#7fc0f0" stroke-width="0.9"/>
<line x1="584.15" y1="257.05" x2="588.95" y2="257.05" stroke="#7fc0f0" stroke-width="0.9"/>
<line x1="584.15" y1="261.55" x2="588.95" y2="261.55" stroke="#7fc0f0" stroke-width="0.9"/>
<line x1="594.5" y1="258.7" x2="594.5" y2="263.12" stroke="#7fc0f0" stroke-width="0.9"/>
<line x1="592.11" y1="258.7" x2="596.9" y2="258.7" stroke="#7fc0f0" stroke-width="0.9"/>
<line x1="592.11" y1="263.12" x2="596.9" y2="263.12" stroke="#7fc0f0" stroke-width="0.9"/>
<line x1="602.46" y1="259.25" x2="602.46" y2="263.65" stroke="#7fc0f0" stroke-width="0.9"/>
<line x1="600.06" y1="259.25" x2="604.86" y2="259.25" stroke="#7fc0f0" stroke-width="0.9"/>
<line x1="600.06" y1="263.65" x2="604.86" y2="263.65" stroke="#7fc0f0" stroke-width="0.9"/>
<line x1="610.41" y1="259.25" x2="610.41" y2="263.65" stroke="#7fc0f0" stroke-width="0.9"/>
<line x1="608.01" y1="259.25" x2="612.81" y2="259.25" stroke="#7fc0f0" stroke-width="0.9"/>
<line x1="608.01" y1="263.65" x2="612.81" y2="263.65" stroke="#7fc0f0" stroke-width="0.9"/>
<line x1="618.37" y1="259.25" x2="618.37" y2="263.65" stroke="#7fc0f0" stroke-width="0.9"/>
<line x1="615.97" y1="259.25" x2="620.77" y2="259.25" stroke="#7fc0f0" stroke-width="0.9"/>
<line x1="615.97" y1="263.65" x2="620.77" y2="263.65" stroke="#7fc0f0" stroke-width="0.9"/>
<line x1="626.33" y1="259.25" x2="626.33" y2="263.65" stroke="#7fc0f0" stroke-width="0.9"/>
<line x1="623.93" y1="259.25" x2="628.73" y2="259.25" stroke="#7fc0f0" stroke-width="0.9"/>
<line x1="623.93" y1="263.65" x2="628.73" y2="263.65" stroke="#7fc0f0" stroke-width="0.9"/>
<line x1="634.28" y1="259.8" x2="634.28" y2="264.17" stroke="#7fc0f0" stroke-width="0.9"/>
<line x1="631.88" y1="259.8" x2="636.68" y2="259.8" stroke="#7fc0f0" stroke-width="0.9"/>
<line x1="631.88" y1="264.17" x2="636.68" y2="264.17" stroke="#7fc0f0" stroke-width="0.9"/>
<line x1="642.24" y1="259.8" x2="642.24" y2="264.17" stroke="#7fc0f0" stroke-width="0.9"/>
<line x1="639.84" y1="259.8" x2="644.63" y2="259.8" stroke="#7fc0f0" stroke-width="0.9"/>
<line x1="639.84" y1="264.17" x2="644.63" y2="264.17" stroke="#7fc0f0" stroke-width="0.9"/>
<line x1="650.19" y1="260.9" x2="650.19" y2="265.22" stroke="#7fc0f0" stroke-width="0.9"/>
<line x1="647.79" y1="260.9" x2="652.59" y2="260.9" stroke="#7fc0f0" stroke-width="0.9"/>
<line x1="647.79" y1="265.22" x2="652.59" y2="265.22" stroke="#7fc0f0" stroke-width="0.9"/>
<line x1="658.14" y1="261.45" x2="658.14" y2="265.75" stroke="#7fc0f0" stroke-width="0.9"/>
<line x1="655.75" y1="261.45" x2="660.54" y2="261.45" stroke="#7fc0f0" stroke-width="0.9"/>
<line x1="655.75" y1="265.75" x2="660.54" y2="265.75" stroke="#7fc0f0" stroke-width="0.9"/>
<line x1="666.1" y1="262" x2="666.1" y2="266.28" stroke="#7fc0f0" stroke-width="0.9"/>
<line x1="663.7" y1="262" x2="668.5" y2="262" stroke="#7fc0f0" stroke-width="0.9"/>
<line x1="663.7" y1="266.28" x2="668.5" y2="266.28" stroke="#7fc0f0" stroke-width="0.9"/>
<line x1="674.06" y1="260.35" x2="674.06" y2="264.7" stroke="#7fc0f0" stroke-width="0.9"/>
<line x1="671.66" y1="260.35" x2="676.46" y2="260.35" stroke="#7fc0f0" stroke-width="0.9"/>
<line x1="671.66" y1="264.7" x2="676.46" y2="264.7" stroke="#7fc0f0" stroke-width="0.9"/>
<path d="M507 274.9 L514.96 241.54 L522.91 240.47 L530.87 240.47 L538.82 245.85 L546.77 249.08 L554.73 250.15 L562.68 252.3 L570.64 254.46 L578.6 257.15 L586.55 259.3 L594.5 260.91 L602.46 261.45 L610.41 261.45 L618.37 261.45 L626.33 261.45 L634.28 261.99 L642.24 261.99 L650.19 263.06 L658.14 263.6 L666.1 264.14 L674.06 262.53" stroke="#3ea1ea" stroke-width="0.9" fill="none"/>
<circle cx="507" cy="274.9" r="1.9" fill="#fff" stroke="#3ea1ea" stroke-width="0.8"/>
<circle cx="514.96" cy="241.54" r="1.9" fill="#fff" stroke="#3ea1ea" stroke-width="0.8"/>
<circle cx="522.91" cy="240.47" r="1.9" fill="#fff" stroke="#3ea1ea" stroke-width="0.8"/>
<circle cx="530.87" cy="240.47" r="1.9" fill="#fff" stroke="#3ea1ea" stroke-width="0.8"/>
<circle cx="538.82" cy="245.85" r="1.9" fill="#fff" stroke="#3ea1ea" stroke-width="0.8"/>
<circle cx="546.77" cy="249.08" r="1.9" fill="#fff" stroke="#3ea1ea" stroke-width="0.8"/>
<circle cx="554.73" cy="250.15" r="1.9" fill="#fff" stroke="#3ea1ea" stroke-width="0.8"/>
<circle cx="562.68" cy="252.3" r="1.9" fill="#fff" stroke="#3ea1ea" stroke-width="0.8"/>
<circle cx="570.64" cy="254.46" r="1.9" fill="#fff" stroke="#3ea1ea" stroke-width="0.8"/>
<circle cx="578.6" cy="257.15" r="1.9" fill="#fff" stroke="#3ea1ea" stroke-width="0.8"/>
<circle cx="586.55" cy="259.3" r="1.9" fill="#fff" stroke="#3ea1ea" stroke-width="0.8"/>
<circle cx="594.5" cy="260.91" r="1.9" fill="#fff" stroke="#3ea1ea" stroke-width="0.8"/>
<circle cx="602.46" cy="261.45" r="1.9" fill="#fff" stroke="#3ea1ea" stroke-width="0.8"/>
<circle cx="610.41" cy="261.45" r="1.9" fill="#fff" stroke="#3ea1ea" stroke-width="0.8"/>
<circle cx="618.37" cy="261.45" r="1.9" fill="#fff" stroke="#3ea1ea" stroke-width="0.8"/>
<circle cx="626.33" cy="261.45" r="1.9" fill="#fff" stroke="#3ea1ea" stroke-width="0.8"/>
<circle cx="634.28" cy="261.99" r="1.9" fill="#fff" stroke="#3ea1ea" stroke-width="0.8"/>
<circle cx="642.24" cy="261.99" r="1.9" fill="#fff" stroke="#3ea1ea" stroke-width="0.8"/>
<circle cx="650.19" cy="263.06" r="1.9" fill="#fff" stroke="#3ea1ea" stroke-width="0.8"/>
<circle cx="658.14" cy="263.6" r="1.9" fill="#fff" stroke="#3ea1ea" stroke-width="0.8"/>
<circle cx="666.1" cy="264.14" r="1.9" fill="#fff" stroke="#3ea1ea" stroke-width="0.8"/>
<circle cx="674.06" cy="262.53" r="1.9" fill="#fff" stroke="#3ea1ea" stroke-width="0.8"/>
<line x1="506.4" y1="155.7" x2="516.4" y2="155.7" stroke="#3ea1ea" stroke-width="0.9"/>
<circle cx="511.4" cy="155.7" r="1.9" fill="#fff" stroke="#3ea1ea" stroke-width="0.8"/>
<text x="520.4" y="159.3">d25</text>
<line x1="550.7" y1="155.7" x2="560.7" y2="155.7" stroke="#a08a68" stroke-width="0.9"/>
<rect x="553.8" y="153.8" width="3.8" height="3.8" fill="#fff" stroke="#a08a68" stroke-width="0.8"/>
<text x="563.2" y="159.3">d50</text>
<line x1="594" y1="155.7" x2="604" y2="155.7" stroke="#3a45a8" stroke-width="0.9"/>
<path d="M599 153.61 l2.09 3.61 h-4.18 z" fill="#fff" stroke="#3a45a8" stroke-width="0.8"/>
<text x="605.7" y="159.3">d75</text>
<line x1="635" y1="155.7" x2="645" y2="155.7" stroke="#5f8f95" stroke-width="0.9"/>
<path d="M640 157.79 l2.09 -3.61 h-4.18 z" fill="#fff" stroke="#5f8f95" stroke-width="0.8"/>
<text x="646.7" y="159.3">d100</text>
<!-- panel_g -->
<text x="0" y="327.5" font-size="16.5" fill="#000" font-weight="bold" stroke="#000" stroke-width="0.7">g</text>
<line x1="59.1" y1="325.2" x2="59.1" y2="345.2" stroke="#111" stroke-width="1.1"/>
<line x1="36.1" y1="344.7" x2="59.6" y2="344.7" stroke="#111" stroke-width="1.1"/>
<text x="56.3" y="339" text-anchor="end">20 mV</text>
<text x="28.5" y="356.5">100 ms</text>
<path d="M9.9 412.1 L21.5 411.6 L22.2 405 L24 372 L26.3 360.2 L28 366 L30 378 L32.4 384.3 L35 383.3 L38 381.5 L42 381.8 L46 380.6 L49 380.2 L52 381.3 L55 380.3 L58 379.6 L62 379.4 L65.4 380.5 L66.5 392 L68 405 L70.5 414 L73.4 418.2" stroke="#6e6e6e" stroke-width="0.9" fill="none" stroke-linejoin="round"/>
<path d="M77.7 422 L89 421.6 L90.5 412 L92 370 L93 392 L94.6 408.4 L96 405 L98.5 392 L99.8 384.3 L101 395 L102.9 399.6 L106 400.5 L109 396 L111.7 392 L114 397 L117.5 398.5 L120 396 L122.6 392.4 L125 397.5 L128.5 399.5 L131 396 L132.5 393 L134 404 L137 413 L142.3 418.2" stroke="#6e6e6e" stroke-width="0.9" fill="none" stroke-linejoin="round"/>
<path d="M148.8 418.2 L160.1 418 L161.2 407 L161.9 355.3 L162.7 395 L164.1 405.7 L166.5 402 L168.7 386 L170.2 366.3 L171.5 390 L172.8 403.5 L176 402.5 L178.5 390 L179.9 371.3 L181.2 392 L182.7 401.7 L186 400.5 L189 395 L191 384 L192.1 372.8 L193.5 390 L195.4 399.6 L199 396.5 L203.5 391.5 L205 404 L207.5 414 L212.3 419.3" stroke="#6e6e6e" stroke-width="0.9" fill="none" stroke-linejoin="round"/>
<path d="M219.9 419.3 L230.9 419 L232.3 408 L233.7 358.2 L234.8 395 L235.9 409.6 L239 407 L241 390 L242.3 367.4 L243.6 392 L245.1 406.8 L249 405.5 L253 400 L255 368.5 L256.5 392 L258.2 405.7 L262 404 L265.5 398 L267 372.4 L268.3 392 L269.6 403.5 L272.5 404.6 L274 410 L277 416.5 L282.3 419.3" stroke="#6e6e6e" stroke-width="0.9" fill="none" stroke-linejoin="round"/>
<text x="43.1" y="434.3" text-anchor="middle">d25</text>
<text x="112.8" y="434.3" text-anchor="middle">d50</text>
<text x="182.7" y="434.3" text-anchor="middle">d75</text>
<text x="251.7" y="434.3" text-anchor="middle">d100</text>
<!-- panel_h -->
<text x="310" y="327.1" font-size="16.5" fill="#000" font-weight="bold" stroke="#000" stroke-width="0.7">h</text>
<line x1="363.2" y1="331.5" x2="363.2" y2="415.9" stroke="#1a1a1a" stroke-width="1"/>
<line x1="362.7" y1="415.4" x2="432.3" y2="415.4" stroke="#1a1a1a" stroke-width="1.1"/>
<line x1="360.2" y1="415.4" x2="363.2" y2="415.4" stroke="#1a1a1a" stroke-width="1"/>
<text x="357.3" y="419" text-anchor="end">0</text>
<line x1="360.2" y1="398.72" x2="363.2" y2="398.72" stroke="#1a1a1a" stroke-width="1"/>
<text x="357.3" y="402.32" text-anchor="end">20</text>
<line x1="360.2" y1="382.04" x2="363.2" y2="382.04" stroke="#1a1a1a" stroke-width="1"/>
<text x="357.3" y="385.64" text-anchor="end">40</text>
<line x1="360.2" y1="365.36" x2="363.2" y2="365.36" stroke="#1a1a1a" stroke-width="1"/>
<text x="357.3" y="368.96" text-anchor="end">60</text>
<line x1="360.2" y1="348.68" x2="363.2" y2="348.68" stroke="#1a1a1a" stroke-width="1"/>
<text x="357.3" y="352.28" text-anchor="end">80</text>
<line x1="360.2" y1="332" x2="363.2" y2="332" stroke="#1a1a1a" stroke-width="1"/>
<text x="357.3" y="335.6" text-anchor="end">100</text>
<line x1="370.7" y1="415.4" x2="370.7" y2="418.4" stroke="#1a1a1a" stroke-width="1"/>
<line x1="388.5" y1="415.4" x2="388.5" y2="418.4" stroke="#1a1a1a" stroke-width="1"/>
<line x1="406.5" y1="415.4" x2="406.5" y2="418.4" stroke="#1a1a1a" stroke-width="1"/>
<line x1="424.3" y1="415.4" x2="424.3" y2="418.4" stroke="#1a1a1a" stroke-width="1"/>
<text x="376.7" y="425.7" text-anchor="end" transform="rotate(-45 376.7 425.7)">d25</text>
<text x="394.5" y="425.7" text-anchor="end" transform="rotate(-45 394.5 425.7)">d50</text>
<text x="412.5" y="425.7" text-anchor="end" transform="rotate(-45 412.5 425.7)">d75</text>
<text x="430.3" y="425.7" text-anchor="end" transform="rotate(-45 430.3 425.7)">d100</text>
<g fill="none" stroke="#8a8a8a" stroke-width="0.6">
<circle cx="372.6" cy="400.2" r="1.2"/>
<circle cx="374.5" cy="400" r="1.2"/>
<circle cx="371.8" cy="394" r="1.2"/>
<circle cx="372.5" cy="402.1" r="1.2"/>
<circle cx="366.6" cy="396.7" r="1.2"/>
<circle cx="370.3" cy="402.1" r="1.2"/>
<circle cx="368.2" cy="392.5" r="1.2"/>
<circle cx="374.2" cy="395.5" r="1.2"/>
<circle cx="369.5" cy="391.7" r="1.2"/>
<circle cx="370.2" cy="397.9" r="1.2"/>
<circle cx="375.5" cy="394.9" r="1.2"/>
<circle cx="374.3" cy="397.2" r="1.2"/>
<circle cx="375.3" cy="398.7" r="1.2"/>
<circle cx="370.2" cy="395.7" r="1.2"/>
<circle cx="370.6" cy="400.4" r="1.2"/>
<circle cx="373.1" cy="397.4" r="1.2"/>
<circle cx="370.5" cy="393.9" r="1.2"/>
<circle cx="368.6" cy="396" r="1.2"/>
<circle cx="370.5" cy="376.2" r="1.2"/>
<circle cx="369.7" cy="387.9" r="1.2"/>
<circle cx="387.3" cy="380.5" r="1.2"/>
<circle cx="391.2" cy="348.7" r="1.2"/>
<circle cx="393" cy="374.6" r="1.2"/>
<circle cx="389.7" cy="382.7" r="1.2"/>
<circle cx="388.5" cy="373.4" r="1.2"/>
<circle cx="387" cy="381.9" r="1.2"/>
<circle cx="384.3" cy="380.2" r="1.2"/>
<circle cx="386.2" cy="379.7" r="1.2"/>
<circle cx="390.1" cy="350" r="1.2"/>
<circle cx="392.1" cy="375.1" r="1.2"/>
<circle cx="387.2" cy="373.2" r="1.2"/>
<circle cx="390.3" cy="366.9" r="1.2"/>
<circle cx="390.1" cy="350.1" r="1.2"/>
<circle cx="390.5" cy="378.2" r="1.2"/>
<circle cx="390" cy="383.2" r="1.2"/>
<circle cx="390" cy="348.7" r="1.2"/>
<circle cx="388.1" cy="393.6" r="1.2"/>
<circle cx="390.6" cy="380" r="1.2"/>
<circle cx="387.1" cy="367" r="1.2"/>
<circle cx="388.4" cy="348.7" r="1.2"/>
<circle cx="390.2" cy="387.3" r="1.2"/>
<circle cx="389" cy="401.2" r="1.2"/>
<circle cx="387.2" cy="367.1" r="1.2"/>
<circle cx="392.8" cy="381.9" r="1.2"/>
<circle cx="390" cy="380.2" r="1.2"/>
<circle cx="389.1" cy="369.6" r="1.2"/>
<circle cx="384.1" cy="372.6" r="1.2"/>
<circle cx="388.9" cy="371.7" r="1.2"/>
<circle cx="386" cy="380.8" r="1.2"/>
<circle cx="389.2" cy="359.2" r="1.2"/>
<circle cx="388.3" cy="346.2" r="1.2"/>
<circle cx="390.2" cy="352.9" r="1.2"/>
<circle cx="407.5" cy="357.8" r="1.2"/>
<circle cx="409.5" cy="370.1" r="1.2"/>
<circle cx="405.3" cy="374.1" r="1.2"/>
<circle cx="407.9" cy="364.2" r="1.2"/>
<circle cx="409" cy="366.4" r="1.2"/>
<circle cx="408.3" cy="379" r="1.2"/>
<circle cx="405.3" cy="374.2" r="1.2"/>
<circle cx="409.5" cy="361.6" r="1.2"/>
<circle cx="410" cy="371.2" r="1.2"/>
<circle cx="408.1" cy="373.1" r="1.2"/>
<circle cx="411.4" cy="368.6" r="1.2"/>
<circle cx="411" cy="370.6" r="1.2"/>
<circle cx="406.7" cy="370.4" r="1.2"/>
<circle cx="406.6" cy="386.5" r="1.2"/>
<circle cx="404.6" cy="355.8" r="1.2"/>
<circle cx="410" cy="368.7" r="1.2"/>
<circle cx="409.2" cy="377.7" r="1.2"/>
<circle cx="406.3" cy="362.2" r="1.2"/>
<circle cx="408.5" cy="367.8" r="1.2"/>
<circle cx="408.7" cy="370.2" r="1.2"/>
<circle cx="408.5" cy="361.6" r="1.2"/>
<circle cx="405.1" cy="351.5" r="1.2"/>
<circle cx="409.4" cy="365.7" r="1.2"/>
<circle cx="407" cy="357.1" r="1.2"/>
<circle cx="407.3" cy="352.4" r="1.2"/>
<circle cx="406.1" cy="378.9" r="1.2"/>
<circle cx="407.5" cy="374.7" r="1.2"/>
<circle cx="409.2" cy="363.9" r="1.2"/>
<circle cx="407" cy="384.6" r="1.2"/>
<circle cx="408.5" cy="372.6" r="1.2"/>
<circle cx="402.9" cy="359.6" r="1.2"/>
<circle cx="403.5" cy="361.7" r="1.2"/>
<circle cx="405.9" cy="365.5" r="1.2"/>
<circle cx="407" cy="386.2" r="1.2"/>
<circle cx="405.4" cy="350.8" r="1.2"/>
<circle cx="408.4" cy="365.8" r="1.2"/>
<circle cx="407.8" cy="364" r="1.2"/>
<circle cx="401.8" cy="366.2" r="1.2"/>
<circle cx="406.4" cy="339.5" r="1.2"/>
<circle cx="405.7" cy="345.3" r="1.2"/>
<circle cx="421.7" cy="383.4" r="1.2"/>
<circle cx="421.7" cy="380.6" r="1.2"/>
<circle cx="422.9" cy="378.4" r="1.2"/>
<circle cx="423.1" cy="347" r="1.2"/>
<circle cx="422" cy="374.5" r="1.2"/>
<circle cx="420.2" cy="368.6" r="1.2"/>
<circle cx="424" cy="368.7" r="1.2"/>
<circle cx="423.2" cy="360.5" r="1.2"/>
<circle cx="425.4" cy="361.2" r="1.2"/>
<circle cx="425.2" cy="363.5" r="1.2"/>
<circle cx="422.3" cy="378.8" r="1.2"/>
<circle cx="426.4" cy="384.5" r="1.2"/>
<circle cx="419.1" cy="364.5" r="1.2"/>
<circle cx="423.3" cy="363.5" r="1.2"/>
<circle cx="423.2" cy="353.9" r="1.2"/>
<circle cx="423.4" cy="367.2" r="1.2"/>
<circle cx="421.3" cy="372.3" r="1.2"/>
<circle cx="427.6" cy="362.1" r="1.2"/>
<circle cx="423.5" cy="381.7" r="1.2"/>
<circle cx="420.8" cy="376.6" r="1.2"/>
<circle cx="425.2" cy="376.3" r="1.2"/>
<circle cx="420.1" cy="363.3" r="1.2"/>
<circle cx="424.5" cy="345.3" r="1.2"/>
<circle cx="423.1" cy="358.6" r="1.2"/>
<circle cx="424.7" cy="354.8" r="1.2"/>
<circle cx="429.1" cy="363.8" r="1.2"/>
<circle cx="427.6" cy="363.4" r="1.2"/>
<circle cx="423.6" cy="370.7" r="1.2"/>
<circle cx="425.3" cy="342" r="1.2"/>
</g>
<line x1="364.2" y1="396.22" x2="377.2" y2="396.22" stroke="#000" stroke-width="1.6"/>
<line x1="370.7" y1="398.72" x2="370.7" y2="393.72" stroke="#000" stroke-width="1"/>
<line x1="367.5" y1="398.72" x2="373.9" y2="398.72" stroke="#000" stroke-width="1"/>
<line x1="367.5" y1="393.72" x2="373.9" y2="393.72" stroke="#000" stroke-width="1"/>
<line x1="382" y1="375.37" x2="395" y2="375.37" stroke="#000" stroke-width="1.6"/>
<line x1="388.5" y1="378.7" x2="388.5" y2="372.03" stroke="#000" stroke-width="1"/>
<line x1="385.3" y1="378.7" x2="391.7" y2="378.7" stroke="#000" stroke-width="1"/>
<line x1="385.3" y1="372.03" x2="391.7" y2="372.03" stroke="#000" stroke-width="1"/>
<line x1="400" y1="370.36" x2="413" y2="370.36" stroke="#000" stroke-width="1.6"/>
<line x1="406.5" y1="373.7" x2="406.5" y2="367.03" stroke="#000" stroke-width="1"/>
<line x1="403.3" y1="373.7" x2="409.7" y2="373.7" stroke="#000" stroke-width="1"/>
<line x1="403.3" y1="367.03" x2="409.7" y2="367.03" stroke="#000" stroke-width="1"/>
<line x1="417.8" y1="366.19" x2="430.8" y2="366.19" stroke="#000" stroke-width="1.6"/>
<line x1="424.3" y1="372.03" x2="424.3" y2="360.36" stroke="#000" stroke-width="1"/>
<line x1="421.1" y1="372.03" x2="427.5" y2="372.03" stroke="#000" stroke-width="1"/>
<line x1="421.1" y1="360.36" x2="427.5" y2="360.36" stroke="#000" stroke-width="1"/>
<text x="330.2" y="379.6" text-anchor="middle" transform="rotate(-90 330.2 379.6)">Amplitude (mV)</text>
<line x1="370.7" y1="338.3" x2="388.5" y2="338.3" stroke="#9a9a9a" stroke-width="1.1"/>
<text x="385.5" y="335.2" text-anchor="middle">&lt;0.0001</text>
<line x1="388.5" y1="323.8" x2="424.3" y2="323.8" stroke="#9a9a9a" stroke-width="1.1"/>
<text x="406.2" y="321.8" text-anchor="middle">0.0073</text>
<line x1="498.3" y1="331.3" x2="498.3" y2="415.9" stroke="#1a1a1a" stroke-width="1"/>
<line x1="497.8" y1="415.4" x2="567.5" y2="415.4" stroke="#1a1a1a" stroke-width="1.1"/>
<line x1="495.3" y1="415.4" x2="498.3" y2="415.4" stroke="#1a1a1a" stroke-width="1"/>
<text x="492.4" y="419" text-anchor="end">0</text>
<line x1="495.3" y1="387.53" x2="498.3" y2="387.53" stroke="#1a1a1a" stroke-width="1"/>
<text x="492.4" y="391.13" text-anchor="end">40</text>
<line x1="495.3" y1="359.67" x2="498.3" y2="359.67" stroke="#1a1a1a" stroke-width="1"/>
<text x="492.4" y="363.27" text-anchor="end">80</text>
<line x1="495.3" y1="331.8" x2="498.3" y2="331.8" stroke="#1a1a1a" stroke-width="1"/>
<text x="492.4" y="335.4" text-anchor="end">120</text>
<line x1="506.4" y1="415.4" x2="506.4" y2="418.4" stroke="#1a1a1a" stroke-width="1"/>
<line x1="524.2" y1="415.4" x2="524.2" y2="418.4" stroke="#1a1a1a" stroke-width="1"/>
<line x1="542" y1="415.4" x2="542" y2="418.4" stroke="#1a1a1a" stroke-width="1"/>
<line x1="559.9" y1="415.4" x2="559.9" y2="418.4" stroke="#1a1a1a" stroke-width="1"/>
<text x="512.4" y="425.7" text-anchor="end" transform="rotate(-45 512.4 425.7)">d25</text>
<text x="530.2" y="425.7" text-anchor="end" transform="rotate(-45 530.2 425.7)">d50</text>
<text x="548" y="425.7" text-anchor="end" transform="rotate(-45 548 425.7)">d75</text>
<text x="565.9" y="425.7" text-anchor="end" transform="rotate(-45 565.9 425.7)">d100</text>
<g fill="none" stroke="#8a8a8a" stroke-width="0.6">
<circle cx="507.6" cy="415" r="1.2"/>
<circle cx="505.5" cy="415.4" r="1.2"/>
<circle cx="504" cy="411" r="1.2"/>
<circle cx="507.2" cy="410.4" r="1.2"/>
<circle cx="501.8" cy="415.4" r="1.2"/>
<circle cx="502.4" cy="415.4" r="1.2"/>
<circle cx="505.7" cy="409.6" r="1.2"/>
<circle cx="502.6" cy="414.1" r="1.2"/>
<circle cx="501.9" cy="415.4" r="1.2"/>
<circle cx="506.8" cy="408.6" r="1.2"/>
<circle cx="508" cy="412" r="1.2"/>
<circle cx="509.1" cy="413.3" r="1.2"/>
<circle cx="502.7" cy="415.4" r="1.2"/>
<circle cx="505.7" cy="414.9" r="1.2"/>
<circle cx="505.1" cy="410.8" r="1.2"/>
<circle cx="507.1" cy="410.3" r="1.2"/>
<circle cx="506.3" cy="411.2" r="1.2"/>
<circle cx="511" cy="415" r="1.2"/>
<circle cx="505.1" cy="415.1" r="1.2"/>
<circle cx="503.5" cy="412.5" r="1.2"/>
<circle cx="508.4" cy="415.2" r="1.2"/>
<circle cx="505.1" cy="406.1" r="1.2"/>
<circle cx="506.7" cy="403.6" r="1.2"/>
<circle cx="506.4" cy="405.6" r="1.2"/>
<circle cx="508.1" cy="407.7" r="1.2"/>
<circle cx="524.5" cy="414.7" r="1.2"/>
<circle cx="525" cy="371.5" r="1.2"/>
<circle cx="522.9" cy="379.8" r="1.2"/>
<circle cx="524.7" cy="405.6" r="1.2"/>
<circle cx="521.8" cy="398.3" r="1.2"/>
<circle cx="525.7" cy="365.2" r="1.2"/>
<circle cx="524.3" cy="410.3" r="1.2"/>
<circle cx="521" cy="395.6" r="1.2"/>
<circle cx="522.5" cy="412.8" r="1.2"/>
<circle cx="523.4" cy="365.2" r="1.2"/>
<circle cx="526.4" cy="407.3" r="1.2"/>
<circle cx="521.4" cy="395.3" r="1.2"/>
<circle cx="526.4" cy="402.9" r="1.2"/>
<circle cx="525.5" cy="394.9" r="1.2"/>
<circle cx="520.3" cy="406.8" r="1.2"/>
<circle cx="525.8" cy="406.3" r="1.2"/>
<circle cx="519.9" cy="402.4" r="1.2"/>
<circle cx="521.6" cy="372.5" r="1.2"/>
<circle cx="525" cy="394.8" r="1.2"/>
<circle cx="521.6" cy="397.9" r="1.2"/>
<circle cx="527.8" cy="406.8" r="1.2"/>
<circle cx="524" cy="398.2" r="1.2"/>
<circle cx="523" cy="373.6" r="1.2"/>
<circle cx="527.1" cy="405.5" r="1.2"/>
<circle cx="520.1" cy="395.6" r="1.2"/>
<circle cx="525.2" cy="384.9" r="1.2"/>
<circle cx="521.1" cy="372.4" r="1.2"/>
<circle cx="522.1" cy="365.2" r="1.2"/>
<circle cx="528.9" cy="401" r="1.2"/>
<circle cx="525.3" cy="377.5" r="1.2"/>
<circle cx="523.4" cy="354.1" r="1.2"/>
<circle cx="521.9" cy="365.2" r="1.2"/>
<circle cx="527.3" cy="375" r="1.2"/>
<circle cx="543.4" cy="413.3" r="1.2"/>
<circle cx="544.8" cy="388.4" r="1.2"/>
<circle cx="538.9" cy="413.3" r="1.2"/>
<circle cx="543.2" cy="409.9" r="1.2"/>
<circle cx="541.1" cy="370.7" r="1.2"/>
<circle cx="540.2" cy="372.5" r="1.2"/>
<circle cx="540.3" cy="399.1" r="1.2"/>
<circle cx="542.8" cy="372" r="1.2"/>
<circle cx="540.5" cy="399.9" r="1.2"/>
<circle cx="541.1" cy="379.9" r="1.2"/>
<circle cx="538.6" cy="411.5" r="1.2"/>
<circle cx="545.3" cy="396" r="1.2"/>
<circle cx="543.4" cy="410.9" r="1.2"/>
<circle cx="543.9" cy="370.3" r="1.2"/>
<circle cx="541.3" cy="396.4" r="1.2"/>
<circle cx="545.4" cy="395" r="1.2"/>
<circle cx="542.2" cy="392.7" r="1.2"/>
<circle cx="542.6" cy="373.2" r="1.2"/>
<circle cx="542.3" cy="360.9" r="1.2"/>
<circle cx="544.3" cy="410.6" r="1.2"/>
<circle cx="541" cy="395.3" r="1.2"/>
<circle cx="538.2" cy="393.3" r="1.2"/>
<circle cx="537.9" cy="389.1" r="1.2"/>
<circle cx="539.1" cy="410.5" r="1.2"/>
<circle cx="538" cy="413.3" r="1.2"/>
<circle cx="546" cy="404.9" r="1.2"/>
<circle cx="541.8" cy="405.9" r="1.2"/>
<circle cx="544.7" cy="407.2" r="1.2"/>
<circle cx="538.3" cy="377.8" r="1.2"/>
<circle cx="541.7" cy="401.5" r="1.2"/>
<circle cx="545.4" cy="413.3" r="1.2"/>
<circle cx="542.8" cy="371" r="1.2"/>
<circle cx="541.4" cy="387.6" r="1.2"/>
<circle cx="541.7" cy="378.6" r="1.2"/>
<circle cx="538.5" cy="389.3" r="1.2"/>
<circle cx="538.5" cy="398.1" r="1.2"/>
<circle cx="539.5" cy="378.6" r="1.2"/>
<circle cx="540.9" cy="413.3" r="1.2"/>
<circle cx="540.8" cy="405.5" r="1.2"/>
<circle cx="545.2" cy="386.5" r="1.2"/>
<circle cx="541.2" cy="336.7" r="1.2"/>
<circle cx="541.3" cy="351.3" r="1.2"/>
<circle cx="541.3" cy="354.1" r="1.2"/>
<circle cx="556.4" cy="382.5" r="1.2"/>
<circle cx="558.9" cy="414.7" r="1.2"/>
<circle cx="557.4" cy="378" r="1.2"/>
<circle cx="559.7" cy="375.3" r="1.2"/>
<circle cx="557.4" cy="406.1" r="1.2"/>
<circle cx="563.4" cy="394.4" r="1.2"/>
<circle cx="558.8" cy="393.2" r="1.2"/>
<circle cx="564.4" cy="381.2" r="1.2"/>
<circle cx="560.8" cy="413" r="1.2"/>
<circle cx="560.9" cy="403.3" r="1.2"/>
<circle cx="559.6" cy="378.9" r="1.2"/>
<circle cx="564.5" cy="384.3" r="1.2"/>
<circle cx="556.3" cy="377.4" r="1.2"/>
<circle cx="560.7" cy="413.5" r="1.2"/>
<circle cx="558" cy="390.7" r="1.2"/>
<circle cx="561.4" cy="391.9" r="1.2"/>
<circle cx="561.6" cy="396.2" r="1.2"/>
<circle cx="558.3" cy="414.7" r="1.2"/>
<circle cx="558.4" cy="365.1" r="1.2"/>
<circle cx="555.4" cy="389.2" r="1.2"/>
<circle cx="558.7" cy="360.9" r="1.2"/>
<circle cx="555.6" cy="380" r="1.2"/>
<circle cx="558.9" cy="384.7" r="1.2"/>
<circle cx="562.6" cy="367.3" r="1.2"/>
<circle cx="559.2" cy="365.8" r="1.2"/>
<circle cx="558.5" cy="396.1" r="1.2"/>
<circle cx="559.6" cy="380.5" r="1.2"/>
<circle cx="557.7" cy="379.4" r="1.2"/>
<circle cx="562.3" cy="381.3" r="1.2"/>
<circle cx="561.7" cy="393.2" r="1.2"/>
<circle cx="558.8" cy="345.7" r="1.2"/>
<circle cx="559" cy="348.5" r="1.2"/>
<circle cx="560.6" cy="354.1" r="1.2"/>
</g>
<line x1="499.9" y1="413.31" x2="512.9" y2="413.31" stroke="#000" stroke-width="1.6"/>
<line x1="506.4" y1="414.01" x2="506.4" y2="412.61" stroke="#000" stroke-width="1"/>
<line x1="503.2" y1="414.01" x2="509.6" y2="414.01" stroke="#000" stroke-width="1"/>
<line x1="503.2" y1="412.61" x2="509.6" y2="412.61" stroke="#000" stroke-width="1"/>
<line x1="517.7" y1="394.5" x2="530.7" y2="394.5" stroke="#000" stroke-width="1.6"/>
<line x1="524.2" y1="397.29" x2="524.2" y2="391.71" stroke="#000" stroke-width="1"/>
<line x1="521" y1="397.29" x2="527.4" y2="397.29" stroke="#000" stroke-width="1"/>
<line x1="521" y1="391.71" x2="527.4" y2="391.71" stroke="#000" stroke-width="1"/>
<line x1="535.5" y1="391.02" x2="548.5" y2="391.02" stroke="#000" stroke-width="1.6"/>
<line x1="542" y1="397.98" x2="542" y2="384.05" stroke="#000" stroke-width="1"/>
<line x1="538.8" y1="397.98" x2="545.2" y2="397.98" stroke="#000" stroke-width="1"/>
<line x1="538.8" y1="384.05" x2="545.2" y2="384.05" stroke="#000" stroke-width="1"/>
<line x1="553.4" y1="388.23" x2="566.4" y2="388.23" stroke="#000" stroke-width="1.6"/>
<line x1="559.9" y1="392.41" x2="559.9" y2="384.05" stroke="#000" stroke-width="1"/>
<line x1="556.7" y1="392.41" x2="563.1" y2="392.41" stroke="#000" stroke-width="1"/>
<line x1="556.7" y1="384.05" x2="563.1" y2="384.05" stroke="#000" stroke-width="1"/>
<text x="470.8" y="377.6" text-anchor="middle" transform="rotate(-90 470.8 377.6)">Rise slope (mV ms<tspan font-size="6.5" dy="-3.5">−1</tspan><tspan dy="3.5">)</tspan></text>
<line x1="506.4" y1="338.1" x2="524.2" y2="338.1" stroke="#9a9a9a" stroke-width="1.1"/>
<text x="520.6" y="335.2" text-anchor="middle">&lt;0.0001</text>
<line x1="524.2" y1="323.8" x2="560" y2="323.8" stroke="#9a9a9a" stroke-width="1.1"/>
<text x="541.4" y="321.8" text-anchor="middle">0.0407</text>
<!-- panel_i -->
<text x="581" y="327.2" font-size="16.5" fill="#000" font-weight="bold" stroke="#000" stroke-width="0.7">i</text>
<path d="M594 357.5l.5-1 .5-.8 .5 1.6 .5-.3 .5-.2 .5-.8 .5 0 .5 1.5 .5-1.5 .5 1.1 .5 .2 .5 0 .5-.2 .5-.1 .5-.1 .5-1.2 .5 .1 .5 1.5 .5-1.8 .5 1.9 .5-.5 .5-1.1 .5 1.5 .5-.2 .5-.8 .5 1.1 .5-1 .5 1.1 .5-.6 .5 .3 .5-.2 .5-.2 .5-.6 .5 .1 .5 .2 .5 1 .5-3.7 .5 3.6 .5 0 .5-1.3 .5-.6 .5 .9 .5-.1 .5 .7 .5-.1 .5 .7 .5-.1 .5-.1 .5-1.2 .5 1 .5-1.4 .5 1 .5 .1 .5 .1 .5 .3 .5-.2 .5 .2 .5 .1 .5-.7 .5-3.5 .5 2.3 .5-.1 .5 2.1 .5-.7 .5 .7 .5-.3 .5-.9 .5-.4 .5 .1 .5 1.1 .5-1.5 .5 1.6 .5-1.3 .5 1.3 .5-.4 .5-2.9 .5 3.5 .5 .1 .5-3.2 .5 2.9 .5-1.5 .5 1 .5 0 .5 .5 .5-.5 .5 .6 .5-.7 .5-.3 .5 .4 .5 .6 .5-.4 .5 1.8 .5-.7 .5 1.1 .5 1.9 .5-.5 .5-.3 .5-.8 .5-1.2 .5-1 .5-3.7 .5 2.7 .5 .1 .5 1.2 .5-1.5 .5 1.6 .5-.6 .5 .6 .5-1.2 .5 .5 .5 .3 .5-.6 .5 .2 .5 .2 .5-.7 .5-.1 .5 .3 .5 .8 .5-.4 .5-.2 .5 .6 .5-.4 .5-.4 .5 .7 .5 .3 .5-1.2 .5 .4 .5-.7 .5 .3 .5 .6 .5 .4 .5-.2 .5 1.1 .5-1.4 .5 .8 .5 .5 .5-.3 .5-3.3 .5 2.6 .5-1 .5 1.6 .5 .3 .5-.2 .5-.8 .5 .8 .5 .1 .5-1.2 .5 .6 .5 .6 .5-.3 .5-.3 .5-.8 .5 .9 .5-.6 .5 1.2 .5-.2 .5 .3 .5-1.4 .5 .7 .5 .3 .5-1.2 .5 1.4 .5-.1 .5 .3 .5-1.3 .5 1.4 .5-.5 .5-.1 .5 .6 .5-1.9 .5 .6 .5-.2 .5 .8 .5 .7 .5-.6 .5 0 .5-.5 .5-.1 .5 .8 .5 .2 .5 .2 0 11.9-.5-.1-.5 .1-.5 .1-.5-.2-.5-.1-.5 .7-.5-.7-.5 .6-.5-.5-.5 .1-.5 .9-.5-1-.5 0-.5 .1-.5 .8-.5-.4-.5-.2-.5-.3-.5 .1-.5 .1-.5 .2-.5-.6-.5 1.1-.5-.3-.5 .5-.5-.8-.5-.1-.5 .7-.5 .2-.5 .2-.5-.5-.5 .2-.5-.6-.5-.3-.5 .3-.5 .6-.5-.2-.5-.8-.5 .1-.5-.2-.5 .9-.5-.6-.5 .2-.5 0-.5-.3-.5 .2-.5 .8-.5-.8-.5 0-.5 .7-.5-1.1-.5 .7-.5-.7-.5 1.2-.5-1.2-.5 .3-.5 .3-.5-.6-.5 .2-.5 .5-.5 1-.5-1.4-.5 .2-.5-.5-.5 .7-.5 .5-.5-.4-.5 .1-.5-.9-.5 .1-.5 .4-.5 .3-.5-.4-.5 .4-.5 1-.5-1.8-.5 .1-.5 1.5-.5-.6-.5-.8-.5-.2-.5 .4-.5 .5-.5 1.4-.5 .1-.5-.2-.5 .1-.5-.8-.5-.8-.5-.7-.5 .7-.5-.5-.5 .7-.5-.2-.5-.6-.5 .5-.5-.3-.5 .5-.5-.9-.5 .2-.5 .1-.5-.1-.5 .8-.5-.8-.5 1.2-.5-.2-.5-.3-.5-.7-.5 .3-.5 .5-.5 .1-.5-1-.5 .9-.5-.3-.5 .7-.5-1.1-.5-.2-.5 1.4-.5-.9-.5 1-.5-1.4-.5 .2-.5 .2-.5-.3-.5 .8-.5-.7-.5-.3-.5 .1-.5 .8-.5-.4-.5 0-.5-.1-.5 .1-.5 .1-.5-.5-.5 .2-.5 .1-.5-.2-.5 1.5-.5-.5-.5-1-.5-.1-.5-.1-.5 0-.5 .6-.5-.7-.5 .4-.5-.3-.5 .4-.5 0-.5-.2-.5-.2-.5 .2-.5-.2-.5 .6-.5-.4-.5 1-.5-.5-.5 1.1-.5-1.6-.5 .2-.5-.1-.5 0-.5 .3-.5 .2-.5-.4-.5 0-.5 1.5-.5-1.8-.5 .6-.5 1-.5-1.6-.5 0-.5 .3-.5-.3-.5 .7-.5-.1-.5 1.8-.5-2.5-.5 .6-.5 .3Z" fill="#111"/>
<path d="M595.6 369V382M601.5 369V392M607.6 369V393.5M609.4 369V400.5M612 369V380M615 369V377M619.4 369V381M627.2 369V390M630.2 369V392.2M633 369V378M636 369V375M647.5 369V389M653 369V380M655 369V384M660 369V383M663 369V386M665.6 369V405.5M671 369V384M674.5 369V385M678.8 369V387M681 369V378M598 369V376M604 369V375M623 369V374M650 369V376M668 369V376" stroke="#707070" stroke-width="0.65" fill="none"/>
<path d="M641 368 l-1.2 9 M640 369 l-0.5 6" stroke="#222" stroke-width="1" fill="none"/>
<path d="M599.5 358 v-6.5 M596 360 v-4" stroke="#111" stroke-width="0.8" fill="none"/>
<line x1="594" y1="406.2" x2="594" y2="420.9" stroke="#111" stroke-width="1"/>
<line x1="593.5" y1="420.4" x2="613" y2="420.4" stroke="#111" stroke-width="1"/>
<text x="596.7" y="415.5">5 pA</text>
<text x="599.9" y="429.9">2 s</text>
<!-- panel_j -->
<text x="-1" y="458.3" font-size="16.5" fill="#000" font-weight="bold" stroke="#000" stroke-width="0.7">j</text>
<text x="60.9" y="459.7" text-anchor="middle">d70</text>
<g clip-path="url(#cj)">
<rect x="8.2" y="464.7" width="105.6" height="120.9" fill="#032cc6" stroke="none" stroke-width="1"/>
<g filter="url(#bj)">
<circle cx="25.62" cy="548.09" r="4.9" fill="#0424b8" stroke="none" stroke-width="1" opacity="0.6"/>
<circle cx="58.79" cy="490.82" r="5.38" fill="#0424b8" stroke="none" stroke-width="1" opacity="0.6"/>
<circle cx="93.51" cy="526.66" r="4.52" fill="#0424b8" stroke="none" stroke-width="1" opacity="0.6"/>
<circle cx="33.13" cy="465.08" r="4.11" fill="#0424b8" stroke="none" stroke-width="1" opacity="0.6"/>
<circle cx="70.01" cy="473.07" r="5.38" fill="#0424b8" stroke="none" stroke-width="1" opacity="0.6"/>
<circle cx="32.73" cy="492.83" r="3.13" fill="#0424b8" stroke="none" stroke-width="1" opacity="0.6"/>
<circle cx="113.54" cy="554.01" r="5.63" fill="#0424b8" stroke="none" stroke-width="1" opacity="0.6"/>
<circle cx="73.24" cy="468.82" r="3.99" fill="#0424b8" stroke="none" stroke-width="1" opacity="0.6"/>
<circle cx="60.74" cy="478.7" r="5.86" fill="#0424b8" stroke="none" stroke-width="1" opacity="0.6"/>
<circle cx="47.11" cy="483.42" r="5.45" fill="#0424b8" stroke="none" stroke-width="1" opacity="0.6"/>
<circle cx="21.39" cy="576.89" r="4.36" fill="#0424b8" stroke="none" stroke-width="1" opacity="0.6"/>
<circle cx="66.49" cy="506.16" r="4.45" fill="#0424b8" stroke="none" stroke-width="1" opacity="0.6"/>
<circle cx="27.94" cy="469.19" r="5.6" fill="#0424b8" stroke="none" stroke-width="1" opacity="0.6"/>
<circle cx="33" cy="559.03" r="3.63" fill="#0424b8" stroke="none" stroke-width="1" opacity="0.6"/>
<circle cx="110.5" cy="572.78" r="5.26" fill="#0424b8" stroke="none" stroke-width="1" opacity="0.6"/>
<circle cx="88.75" cy="534.91" r="5.19" fill="#0424b8" stroke="none" stroke-width="1" opacity="0.6"/>
<circle cx="21.13" cy="522.29" r="5.48" fill="#0424b8" stroke="none" stroke-width="1" opacity="0.6"/>
<circle cx="29.43" cy="576.31" r="5.66" fill="#0424b8" stroke="none" stroke-width="1" opacity="0.6"/>
<circle cx="51.45" cy="508.86" r="4.35" fill="#0424b8" stroke="none" stroke-width="1" opacity="0.6"/>
<circle cx="48.94" cy="584.98" r="4.16" fill="#0424b8" stroke="none" stroke-width="1" opacity="0.6"/>
<circle cx="11.03" cy="475.98" r="5.15" fill="#0424b8" stroke="none" stroke-width="1" opacity="0.6"/>
<circle cx="113.04" cy="524.67" r="4.47" fill="#0424b8" stroke="none" stroke-width="1" opacity="0.6"/>
<circle cx="66.33" cy="555.15" r="3.67" fill="#0424b8" stroke="none" stroke-width="1" opacity="0.6"/>
<circle cx="72.5" cy="531.98" r="4.87" fill="#0424b8" stroke="none" stroke-width="1" opacity="0.6"/>
<circle cx="27.28" cy="485.26" r="4.04" fill="#0424b8" stroke="none" stroke-width="1" opacity="0.6"/>
<circle cx="106.1" cy="506.61" r="4.79" fill="#0424b8" stroke="none" stroke-width="1" opacity="0.6"/>
<circle cx="40.58" cy="477.19" r="3.2" fill="#0424b8" stroke="none" stroke-width="1" opacity="0.6"/>
<circle cx="94.13" cy="558.64" r="4.12" fill="#0424b8" stroke="none" stroke-width="1" opacity="0.6"/>
<circle cx="80.36" cy="546.42" r="5.7" fill="#0424b8" stroke="none" stroke-width="1" opacity="0.6"/>
<circle cx="109.39" cy="513.91" r="5.97" fill="#0424b8" stroke="none" stroke-width="1" opacity="0.6"/>
<circle cx="109.73" cy="536.09" r="5.65" fill="#0424b8" stroke="none" stroke-width="1" opacity="0.6"/>
<circle cx="60.04" cy="510.11" r="3.74" fill="#0424b8" stroke="none" stroke-width="1" opacity="0.6"/>
<circle cx="100.72" cy="484.32" r="3.21" fill="#0424b8" stroke="none" stroke-width="1" opacity="0.6"/>
<circle cx="93.24" cy="558.27" r="4.45" fill="#0424b8" stroke="none" stroke-width="1" opacity="0.6"/>
<circle cx="96.59" cy="471.01" r="3.77" fill="#0424b8" stroke="none" stroke-width="1" opacity="0.6"/>
<circle cx="38.81" cy="515.42" r="3.51" fill="#0424b8" stroke="none" stroke-width="1" opacity="0.6"/>
<circle cx="15.53" cy="505.57" r="5.7" fill="#0424b8" stroke="none" stroke-width="1" opacity="0.6"/>
<circle cx="112.05" cy="554.87" r="4.44" fill="#0424b8" stroke="none" stroke-width="1" opacity="0.6"/>
<circle cx="34.83" cy="580.63" r="4.58" fill="#0424b8" stroke="none" stroke-width="1" opacity="0.6"/>
<circle cx="85.14" cy="468.12" r="3.64" fill="#0424b8" stroke="none" stroke-width="1" opacity="0.6"/>
<circle cx="96.72" cy="560.84" r="2.59" fill="#1850e8" stroke="none" stroke-width="1" opacity="0.75"/>
<circle cx="89.8" cy="523.27" r="2.62" fill="#2070f8" stroke="none" stroke-width="1" opacity="0.75"/>
<circle cx="40.72" cy="529.3" r="1.5" fill="#1850e8" stroke="none" stroke-width="1" opacity="0.75"/>
<circle cx="9.28" cy="547.55" r="2.72" fill="#1a5cf0" stroke="none" stroke-width="1" opacity="0.75"/>
<circle cx="36.12" cy="504.13" r="1.45" fill="#1850e8" stroke="none" stroke-width="1" opacity="0.75"/>
<circle cx="52.67" cy="547.29" r="2.35" fill="#1a5cf0" stroke="none" stroke-width="1" opacity="0.75"/>
<circle cx="22.3" cy="476.17" r="1.17" fill="#1a5cf0" stroke="none" stroke-width="1" opacity="0.75"/>
<circle cx="75.97" cy="559.74" r="1.13" fill="#1a5cf0" stroke="none" stroke-width="1" opacity="0.75"/>
<circle cx="77.4" cy="480" r="1.97" fill="#2070f8" stroke="none" stroke-width="1" opacity="0.75"/>
<circle cx="50.05" cy="572.05" r="2.12" fill="#1a5cf0" stroke="none" stroke-width="1" opacity="0.75"/>
<circle cx="27.62" cy="510.38" r="2.28" fill="#1850e8" stroke="none" stroke-width="1" opacity="0.75"/>
<circle cx="88.15" cy="537.71" r="1.91" fill="#1850e8" stroke="none" stroke-width="1" opacity="0.75"/>
<circle cx="89.96" cy="560.3" r="1.01" fill="#2070f8" stroke="none" stroke-width="1" opacity="0.75"/>
<circle cx="99.49" cy="512.81" r="2.02" fill="#1850e8" stroke="none" stroke-width="1" opacity="0.75"/>
<circle cx="32.84" cy="581.25" r="2.09" fill="#1850e8" stroke="none" stroke-width="1" opacity="0.75"/>
<circle cx="12.63" cy="511.71" r="1.56" fill="#2070f8" stroke="none" stroke-width="1" opacity="0.75"/>
<circle cx="94.54" cy="561.79" r="1.88" fill="#1850e8" stroke="none" stroke-width="1" opacity="0.75"/>
<circle cx="18.61" cy="537.38" r="1.91" fill="#1850e8" stroke="none" stroke-width="1" opacity="0.75"/>
<circle cx="42.41" cy="527.19" r="1.52" fill="#1850e8" stroke="none" stroke-width="1" opacity="0.75"/>
<circle cx="63.72" cy="532.49" r="1.11" fill="#2070f8" stroke="none" stroke-width="1" opacity="0.75"/>
<circle cx="111.36" cy="507.65" r="1.57" fill="#2070f8" stroke="none" stroke-width="1" opacity="0.75"/>
<circle cx="19.56" cy="473.9" r="1.13" fill="#2070f8" stroke="none" stroke-width="1" opacity="0.75"/>
<circle cx="61.53" cy="579.2" r="2.22" fill="#1850e8" stroke="none" stroke-width="1" opacity="0.75"/>
<circle cx="54.94" cy="527.26" r="1.7" fill="#2070f8" stroke="none" stroke-width="1" opacity="0.75"/>
<circle cx="15.63" cy="467.72" r="2.19" fill="#1a5cf0" stroke="none" stroke-width="1" opacity="0.75"/>
<circle cx="34.29" cy="549.84" r="2.47" fill="#1850e8" stroke="none" stroke-width="1" opacity="0.75"/>
<circle cx="53.3" cy="561.13" r="1.72" fill="#2070f8" stroke="none" stroke-width="1" opacity="0.75"/>
<circle cx="59.6" cy="541.09" r="2.73" fill="#1a5cf0" stroke="none" stroke-width="1" opacity="0.75"/>
<circle cx="12.15" cy="485.6" r="1.67" fill="#1850e8" stroke="none" stroke-width="1" opacity="0.75"/>
<circle cx="102.24" cy="558.94" r="2.13" fill="#1850e8" stroke="none" stroke-width="1" opacity="0.75"/>
<circle cx="78.74" cy="568.54" r="2.26" fill="#1850e8" stroke="none" stroke-width="1" opacity="0.75"/>
<circle cx="35.89" cy="522.88" r="1.9" fill="#2070f8" stroke="none" stroke-width="1" opacity="0.75"/>
<circle cx="73.11" cy="564.42" r="2.73" fill="#1a5cf0" stroke="none" stroke-width="1" opacity="0.75"/>
<circle cx="25.29" cy="489.13" r="2.58" fill="#1850e8" stroke="none" stroke-width="1" opacity="0.75"/>
<circle cx="23.56" cy="531.59" r="1.14" fill="#2070f8" stroke="none" stroke-width="1" opacity="0.75"/>
<circle cx="73.67" cy="510.09" r="2.34" fill="#1a5cf0" stroke="none" stroke-width="1" opacity="0.75"/>
<circle cx="112.83" cy="484.82" r="1.78" fill="#1850e8" stroke="none" stroke-width="1" opacity="0.75"/>
<circle cx="43.61" cy="542.27" r="2.23" fill="#2070f8" stroke="none" stroke-width="1" opacity="0.75"/>
<circle cx="16.86" cy="468.16" r="1.93" fill="#1a5cf0" stroke="none" stroke-width="1" opacity="0.75"/>
<circle cx="103.21" cy="526" r="1.43" fill="#1850e8" stroke="none" stroke-width="1" opacity="0.75"/>
<circle cx="37.49" cy="510.52" r="2.69" fill="#2070f8" stroke="none" stroke-width="1" opacity="0.75"/>
<circle cx="50.62" cy="520.4" r="2.2" fill="#1850e8" stroke="none" stroke-width="1" opacity="0.75"/>
<circle cx="26.61" cy="511.2" r="1.49" fill="#1a5cf0" stroke="none" stroke-width="1" opacity="0.75"/>
<circle cx="111.18" cy="490.72" r="1.63" fill="#1850e8" stroke="none" stroke-width="1" opacity="0.75"/>
<circle cx="106.91" cy="549.89" r="1.03" fill="#1850e8" stroke="none" stroke-width="1" opacity="0.75"/>
<circle cx="69.45" cy="512.84" r="1.79" fill="#2070f8" stroke="none" stroke-width="1" opacity="0.75"/>
<circle cx="33.57" cy="465.62" r="1.98" fill="#1a5cf0" stroke="none" stroke-width="1" opacity="0.75"/>
<circle cx="110.93" cy="487.71" r="1.67" fill="#1a5cf0" stroke="none" stroke-width="1" opacity="0.75"/>
<circle cx="47.28" cy="481.02" r="2.43" fill="#2070f8" stroke="none" stroke-width="1" opacity="0.75"/>
<circle cx="64.11" cy="470.64" r="1.34" fill="#2070f8" stroke="none" stroke-width="1" opacity="0.75"/>
<circle cx="101.4" cy="494.24" r="2.03" fill="#1850e8" stroke="none" stroke-width="1" opacity="0.75"/>
<circle cx="105.9" cy="571.52" r="1.03" fill="#1850e8" stroke="none" stroke-width="1" opacity="0.75"/>
<circle cx="15.91" cy="517.39" r="2.5" fill="#1850e8" stroke="none" stroke-width="1" opacity="0.75"/>
<circle cx="28.08" cy="471.91" r="2.47" fill="#1850e8" stroke="none" stroke-width="1" opacity="0.75"/>
<circle cx="64.75" cy="524.11" r="2.22" fill="#1850e8" stroke="none" stroke-width="1" opacity="0.75"/>
<circle cx="43.89" cy="497.31" r="1.64" fill="#2070f8" stroke="none" stroke-width="1" opacity="0.75"/>
<circle cx="75.78" cy="465.82" r="2.45" fill="#1850e8" stroke="none" stroke-width="1" opacity="0.75"/>
<circle cx="15.34" cy="526.57" r="2.22" fill="#1a5cf0" stroke="none" stroke-width="1" opacity="0.75"/>
<circle cx="46.24" cy="507.3" r="1.29" fill="#1850e8" stroke="none" stroke-width="1" opacity="0.75"/>
<circle cx="60.48" cy="547" r="2.18" fill="#1a5cf0" stroke="none" stroke-width="1" opacity="0.75"/>
<circle cx="11.63" cy="492.83" r="1.65" fill="#2070f8" stroke="none" stroke-width="1" opacity="0.75"/>
<circle cx="51.33" cy="548.23" r="2.31" fill="#1850e8" stroke="none" stroke-width="1" opacity="0.75"/>
<circle cx="52.92" cy="503.94" r="1.39" fill="#1850e8" stroke="none" stroke-width="1" opacity="0.75"/>
<circle cx="12.47" cy="507.29" r="1.96" fill="#1850e8" stroke="none" stroke-width="1" opacity="0.75"/>
<circle cx="76.06" cy="467.24" r="1.66" fill="#2070f8" stroke="none" stroke-width="1" opacity="0.75"/>
<circle cx="25.31" cy="567.58" r="2.45" fill="#2070f8" stroke="none" stroke-width="1" opacity="0.75"/>
<circle cx="79.95" cy="490.97" r="2.4" fill="#1850e8" stroke="none" stroke-width="1" opacity="0.75"/>
<circle cx="64.51" cy="574.53" r="2.75" fill="#2070f8" stroke="none" stroke-width="1" opacity="0.75"/>
<circle cx="30.39" cy="520.8" r="2.25" fill="#2070f8" stroke="none" stroke-width="1" opacity="0.75"/>
<circle cx="9.39" cy="507.25" r="2.1" fill="#1850e8" stroke="none" stroke-width="1" opacity="0.75"/>
<circle cx="10.84" cy="510.18" r="2.35" fill="#1a5cf0" stroke="none" stroke-width="1" opacity="0.75"/>
<circle cx="106.49" cy="529.53" r="2.59" fill="#1a5cf0" stroke="none" stroke-width="1" opacity="0.75"/>
<circle cx="32.1" cy="526.92" r="1.51" fill="#2070f8" stroke="none" stroke-width="1" opacity="0.75"/>
<circle cx="86.34" cy="571.43" r="1.65" fill="#1a5cf0" stroke="none" stroke-width="1" opacity="0.75"/>
<circle cx="33.53" cy="537.16" r="1.63" fill="#1850e8" stroke="none" stroke-width="1" opacity="0.75"/>
<circle cx="94.26" cy="508.49" r="1.24" fill="#1a5cf0" stroke="none" stroke-width="1" opacity="0.75"/>
<circle cx="104.47" cy="580.11" r="2.36" fill="#1850e8" stroke="none" stroke-width="1" opacity="0.75"/>
<circle cx="86.35" cy="554.38" r="1.38" fill="#1850e8" stroke="none" stroke-width="1" opacity="0.75"/>
<circle cx="63.43" cy="572.91" r="1.93" fill="#1a5cf0" stroke="none" stroke-width="1" opacity="0.75"/>
<circle cx="25.21" cy="544.76" r="2.1" fill="#2070f8" stroke="none" stroke-width="1" opacity="0.75"/>
<circle cx="89.6" cy="555.54" r="2.17" fill="#2070f8" stroke="none" stroke-width="1" opacity="0.75"/>
<circle cx="27.67" cy="564.69" r="1.4" fill="#2070f8" stroke="none" stroke-width="1" opacity="0.75"/>
<circle cx="36.24" cy="529.72" r="1.83" fill="#1a5cf0" stroke="none" stroke-width="1" opacity="0.75"/>
<circle cx="91.54" cy="505.33" r="1.79" fill="#2070f8" stroke="none" stroke-width="1" opacity="0.75"/>
<circle cx="85.98" cy="553.06" r="2.79" fill="#2070f8" stroke="none" stroke-width="1" opacity="0.75"/>
<circle cx="23.23" cy="468.66" r="2.4" fill="#1850e8" stroke="none" stroke-width="1" opacity="0.75"/>
<circle cx="39.52" cy="565.34" r="1.82" fill="#2070f8" stroke="none" stroke-width="1" opacity="0.75"/>
<circle cx="32.2" cy="553.46" r="2.46" fill="#2070f8" stroke="none" stroke-width="1" opacity="0.75"/>
<circle cx="79.25" cy="467.97" r="2.65" fill="#1a5cf0" stroke="none" stroke-width="1" opacity="0.75"/>
<circle cx="60.98" cy="520.49" r="1.7" fill="#1850e8" stroke="none" stroke-width="1" opacity="0.75"/>
<circle cx="55.5" cy="551.58" r="1.13" fill="#2070f8" stroke="none" stroke-width="1" opacity="0.75"/>
<circle cx="87.54" cy="510.03" r="1.45" fill="#2070f8" stroke="none" stroke-width="1" opacity="0.75"/>
<circle cx="91.93" cy="576.91" r="1.36" fill="#2070f8" stroke="none" stroke-width="1" opacity="0.75"/>
<circle cx="102.25" cy="474.04" r="1.55" fill="#1850e8" stroke="none" stroke-width="1" opacity="0.75"/>
<circle cx="21.92" cy="555.58" r="2.68" fill="#1a5cf0" stroke="none" stroke-width="1" opacity="0.75"/>
<circle cx="80.26" cy="500.46" r="1.39" fill="#1a5cf0" stroke="none" stroke-width="1" opacity="0.75"/>
<circle cx="22.34" cy="557.94" r="1.89" fill="#1a5cf0" stroke="none" stroke-width="1" opacity="0.75"/>
<circle cx="80.68" cy="505.21" r="2.17" fill="#2070f8" stroke="none" stroke-width="1" opacity="0.75"/>
<circle cx="9.17" cy="566.59" r="1.51" fill="#2070f8" stroke="none" stroke-width="1" opacity="0.75"/>
<circle cx="81.73" cy="514.71" r="1.22" fill="#1850e8" stroke="none" stroke-width="1" opacity="0.75"/>
<circle cx="77.35" cy="467.26" r="2.3" fill="#1850e8" stroke="none" stroke-width="1" opacity="0.75"/>
<circle cx="82.59" cy="523.69" r="1.97" fill="#1850e8" stroke="none" stroke-width="1" opacity="0.75"/>
<circle cx="47.68" cy="541.62" r="2.14" fill="#2070f8" stroke="none" stroke-width="1" opacity="0.75"/>
<circle cx="23.26" cy="513.28" r="1.8" fill="#1850e8" stroke="none" stroke-width="1" opacity="0.75"/>
<circle cx="56.45" cy="526.82" r="1.4" fill="#1a5cf0" stroke="none" stroke-width="1" opacity="0.75"/>
<circle cx="10.3" cy="542.46" r="1.82" fill="#1a5cf0" stroke="none" stroke-width="1" opacity="0.75"/>
<circle cx="90.01" cy="573.78" r="2.35" fill="#2070f8" stroke="none" stroke-width="1" opacity="0.75"/>
<circle cx="59.96" cy="484.66" r="2.44" fill="#2070f8" stroke="none" stroke-width="1" opacity="0.75"/>
<circle cx="81.31" cy="500.88" r="2.74" fill="#2070f8" stroke="none" stroke-width="1" opacity="0.75"/>
<circle cx="27.91" cy="483.04" r="2.12" fill="#1a5cf0" stroke="none" stroke-width="1" opacity="0.75"/>
</g>
<g filter="url(#bj2)" fill="none" stroke="#2c9cff">
<path d="M21.8 485.2 Q30 472 38.6 470 Q46 466 53.7 465.9 L85.6 465 Q99 467 112.4 475" stroke-width="1.3" opacity="0.9"/>
<path d="M41.1 513.7 Q40 535 38.6 545 Q37 560 36 586" stroke-width="1.3" opacity="0.9"/>
<path d="M12.6 497.8 L26 501.6 L47.8 509.5" stroke-width="0.9" opacity="0.6"/>
<path d="M38.6 564 L60 546 L85.6 527" stroke-width="0.9" opacity="0.6"/>
<path d="M89.8 525.1 Q91 545 92.3 560.7 L99 586" stroke-width="0.9" opacity="0.6"/>
<path d="M43.6 510.4 L65 530 L85.6 550.7" stroke-width="0.9" opacity="0.6"/>
<path d="M30 470 Q36 490 41 513" stroke-width="0.9" opacity="0.6"/>
<path d="M8 530 L20 545 L36 560" stroke-width="0.9" opacity="0.6"/>
<path d="M60 586 L75 570 L95 550" stroke-width="0.9" opacity="0.6"/>
<path d="M70 466 Q75 490 89.8 525" stroke-width="0.9" opacity="0.6"/>
<path d="M8 478 L21.8 485.2" stroke-width="0.9" opacity="0.6"/>
<path d="M100 540 L113 548" stroke-width="0.9" opacity="0.6"/>
</g>
<g filter="url(#bj2)">
<circle cx="31.5" cy="478.2" r="1.1" fill="#2a74f6" opacity=".8"/><circle cx="21.1" cy="479.7" r="1.3" fill="#2a74f6" opacity=".7"/><circle cx="17.2" cy="494" r="1.2" fill="#2a74f6" opacity=".6"/><circle cx="53.8" cy="560" r="1.5" fill="#3a8cfa" opacity=".8"/><circle cx="9.2" cy="501.3" r=".9" fill="#3a8cfa" opacity=".6"/><circle cx="91.1" cy="468.8" r="1.1" fill="#2068f2" opacity=".8"/><circle cx="69.4" cy="486.7" r="1.5" fill="#2a74f6" opacity=".8"/><circle cx="35.3" cy="521.7" r=".9" fill="#2a74f6" opacity=".6"/><circle cx="47.4" cy="524.1" r=".9" fill="#2068f2" opacity=".5"/><circle cx="38.5" cy="475.6" r=".9" fill="#2a74f6" opacity=".8"/><circle cx="24" cy="502" r=".7" fill="#3a8cfa" opacity=".8"/><circle cx="103.9" cy="470.6" r="1.3" fill="#2068f2" opacity=".7"/><circle cx="19.4" cy="582.2" r=".8" fill="#2068f2" opacity=".8"/><circle cx="13.1" cy="540.4" r="1.2" fill="#2068f2" opacity=".6"/><circle cx="104.7" cy="516.1" r=".8" fill="#2a74f6" opacity=".6"/><circle cx="25.7" cy="581.2" r=".6" fill="#2a74f6" opacity=".8"/><circle cx="110" cy="494.8" r="1" fill="#2068f2" opacity=".6"/><circle cx="82.2" cy="573.4" r=".8" fill="#2068f2" opacity=".7"/><circle cx="42.9" cy="572.5" r="1.4" fill="#2a74f6" opacity=".6"/><circle cx="87.4" cy="548.9" r="1.3" fill="#2a74f6" opacity=".9"/><circle cx="34.2" cy="585.2" r=".9" fill="#2068f2" opacity=".8"/><circle cx="90.9" cy="551.9" r=".6" fill="#3a8cfa" opacity=".6"/><circle cx="36.4" cy="560.7" r="1.2" fill="#3a8cfa" opacity=".6"/><circle cx="21" cy="467.7" r=".8" fill="#2068f2" opacity=".9"/><circle cx="60.9" cy="549.5" r="1.1" fill="#2a74f6" opacity=".8"/><circle cx="53.7" cy="545" r=".9" fill="#2a74f6" opacity=".7"/><circle cx="13.3" cy="550.9" r="1.4" fill="#2a74f6" opacity=".7"/><circle cx="88.8" cy="470.6" r="1.2" fill="#2a74f6" opacity=".6"/><circle cx="69.8" cy="543.6" r="1.5" fill="#2068f2" opacity=".7"/><circle cx="49.6" cy="552.8" r=".7" fill="#2068f2" opacity=".5"/><circle cx="51.4" cy="560.4" r="1.5" fill="#2068f2" opacity=".8"/><circle cx="41.2" cy="549.6" r="1.4" fill="#2a74f6" opacity=".7"/><circle cx="77" cy="540.9" r=".8" fill="#2a74f6" opacity=".8"/><circle cx="37.6" cy="559.4" r=".6" fill="#2068f2" opacity=".5"/><circle cx="91.5" cy="548.5" r="1.1" fill="#2a74f6" opacity=".8"/><circle cx="26.5" cy="534" r="1.2" fill="#2a74f6" opacity=".8"/><circle cx="73.8" cy="485.1" r="1.4" fill="#2a74f6" opacity=".6"/><circle cx="85.5" cy="514.6" r=".9" fill="#3a8cfa" opacity=".7"/><circle cx="91.8" cy="568.1" r="1.3" fill="#3a8cfa" opacity=".5"/><circle cx="39.8" cy="492.2" r="1.4" fill="#2a74f6" opacity=".9"/><circle cx="17" cy="581.3" r="1.5" fill="#2068f2" opacity=".8"/><circle cx="106.8" cy="486.9" r="1.3" fill="#2068f2" opacity=".9"/><circle cx="101.2" cy="574.9" r=".7" fill="#3a8cfa" opacity=".7"/><circle cx="103.7" cy="577.5" r="1.4" fill="#2a74f6" opacity=".7"/><circle cx="9.1" cy="557.4" r="1.6" fill="#3a8cfa" opacity=".6"/><circle cx="75.3" cy="540.9" r=".7" fill="#2068f2" opacity=".5"/><circle cx="51.2" cy="583.6" r="1.5" fill="#2068f2" opacity=".7"/><circle cx="36.2" cy="533.1" r="1.2" fill="#2a74f6" opacity=".6"/><circle cx="106.1" cy="481.9" r="1.5" fill="#3a8cfa" opacity=".6"/><circle cx="35.8" cy="507.3" r="1.1" fill="#2a74f6" opacity=".6"/><circle cx="62.1" cy="574.9" r="1.2" fill="#2a74f6" opacity=".7"/><circle cx="58.1" cy="527" r=".8" fill="#3a8cfa" opacity=".7"/><circle cx="89.7" cy="547.6" r=".9" fill="#3a8cfa" opacity=".7"/><circle cx="59.2" cy="515.5" r=".8" fill="#2068f2" opacity=".6"/><circle cx="27.2" cy="530.1" r="1.6" fill="#2a74f6" opacity=".5"/><circle cx="84.6" cy="496.8" r="1.4" fill="#2068f2" opacity=".7"/><circle cx="36.8" cy="525.4" r=".7" fill="#3a8cfa" opacity=".8"/><circle cx="74.6" cy="478.7" r=".9" fill="#2a74f6" opacity=".6"/><circle cx="65" cy="548.9" r="1.1" fill="#3a8cfa" opacity=".7"/><circle cx="92.5" cy="541.7" r="1.2" fill="#3a8cfa" opacity=".7"/><circle cx="80.4" cy="546.3" r=".9" fill="#3a8cfa" opacity=".6"/><circle cx="28.5" cy="550.7" r="1.6" fill="#2068f2" opacity=".6"/><circle cx="79" cy="584.7" r="1.5" fill="#3a8cfa" opacity=".8"/><circle cx="50.2" cy="498.9" r="1.3" fill="#2a74f6" opacity=".5"/><circle cx="46.5" cy="509.9" r=".9" fill="#2068f2" opacity=".7"/><circle cx="36" cy="484.1" r="1.5" fill="#2a74f6" opacity=".5"/><circle cx="77.4" cy="574.3" r=".8" fill="#3a8cfa" opacity=".6"/><circle cx="71" cy="551.9" r="1.3" fill="#2a74f6" opacity=".5"/><circle cx="13.6" cy="546.1" r="1.4" fill="#3a8cfa" opacity=".7"/><circle cx="26" cy="512.7" r="1.4" fill="#2068f2" opacity=".8"/><circle cx="111.8" cy="482.4" r="1.5" fill="#2068f2" opacity=".8"/><circle cx="55.5" cy="513.5" r="1.6" fill="#2068f2" opacity=".5"/><circle cx="78.9" cy="542.6" r="1.4" fill="#2a74f6" opacity=".5"/><circle cx="43.8" cy="478.6" r="1" fill="#3a8cfa" opacity=".6"/><circle cx="50.6" cy="553" r=".9" fill="#3a8cfa" opacity=".9"/><circle cx="13.9" cy="557.3" r="1.5" fill="#3a8cfa" opacity=".6"/><circle cx="46" cy="525" r=".9" fill="#2a74f6" opacity=".7"/><circle cx="51.7" cy="519.3" r="1.1" fill="#2068f2" opacity=".9"/><circle cx="92.8" cy="514.4" r="1.2" fill="#2a74f6" opacity=".8"/><circle cx="86.4" cy="534.1" r=".8" fill="#2068f2" opacity=".6"/><circle cx="92.2" cy="516.3" r="1.4" fill="#3a8cfa" opacity=".8"/><circle cx="48.3" cy="506.1" r="1.5" fill="#2a74f6" opacity=".6"/><circle cx="97" cy="499.1" r="1.4" fill="#3a8cfa" opacity=".7"/><circle cx="109.8" cy="475.6" r=".9" fill="#3a8cfa" opacity=".5"/><circle cx="60.8" cy="543.7" r=".9" fill="#2068f2" opacity=".6"/><circle cx="32.2" cy="496.1" r="1.4" fill="#2a74f6" opacity=".6"/><circle cx="87.4" cy="474" r="1" fill="#2068f2" opacity=".7"/><circle cx="110.2" cy="526.8" r="1.1" fill="#3a8cfa" opacity=".8"/><circle cx="23.5" cy="561.9" r="1" fill="#3a8cfa" opacity=".9"/><circle cx="60.3" cy="515" r=".8" fill="#2068f2" opacity=".8"/><circle cx="10.2" cy="543.1" r=".8" fill="#2068f2" opacity=".7"/><circle cx="71.3" cy="553.6" r="1.2" fill="#2068f2" opacity=".6"/><circle cx="18" cy="535.1" r=".9" fill="#2a74f6" opacity=".8"/><circle cx="96.2" cy="494.2" r="1.1" fill="#2068f2" opacity=".7"/><circle cx="14.7" cy="583.5" r="1.3" fill="#2068f2" opacity=".5"/><circle cx="65.2" cy="480.2" r="1.6" fill="#3a8cfa" opacity=".9"/><circle cx="49.1" cy="579" r="1.1" fill="#2a74f6" opacity=".7"/><circle cx="36.7" cy="540.7" r=".7" fill="#3a8cfa" opacity=".6"/><circle cx="27.6" cy="469.8" r="1.6" fill="#2a74f6" opacity=".7"/><circle cx="95.6" cy="526.6" r=".8" fill="#3a8cfa" opacity=".7"/><circle cx="91.7" cy="583" r=".9" fill="#3a8cfa" opacity=".8"/><circle cx="17.4" cy="528.1" r="1" fill="#2068f2" opacity=".8"/><circle cx="34.7" cy="523.4" r="1.2" fill="#2068f2" opacity=".6"/><circle cx="78.5" cy="491" r=".8" fill="#2068f2" opacity=".8"/><circle cx="75.2" cy="512.5" r="1.2" fill="#2a74f6" opacity=".7"/><circle cx="58.9" cy="496" r="1.5" fill="#2a74f6" opacity=".6"/><circle cx="95.8" cy="481.5" r="1.5" fill="#3a8cfa" opacity=".6"/><circle cx="105.5" cy="541.5" r=".8" fill="#2068f2" opacity=".8"/><circle cx="41.3" cy="569.3" r=".7" fill="#2068f2" opacity=".6"/><circle cx="79.1" cy="498.5" r="1" fill="#2068f2" opacity=".6"/><circle cx="94.7" cy="486.9" r="1.4" fill="#2068f2" opacity=".8"/><circle cx="11.7" cy="559.6" r=".8" fill="#2068f2" opacity=".8"/><circle cx="69.2" cy="514" r="1.2" fill="#2068f2" opacity=".6"/><circle cx="66.4" cy="554.5" r=".6" fill="#2a74f6" opacity=".8"/><circle cx="24.8" cy="546" r="1.1" fill="#3a8cfa" opacity=".6"/><circle cx="110.1" cy="517.5" r="1.3" fill="#2a74f6" opacity=".6"/><circle cx="100.4" cy="527.3" r=".6" fill="#2068f2" opacity=".5"/><circle cx="67.2" cy="525.6" r=".9" fill="#2068f2" opacity=".9"/><circle cx="38.2" cy="466.9" r=".8" fill="#2068f2" opacity=".8"/><circle cx="27.9" cy="504.4" r="1.1" fill="#3a8cfa" opacity=".6"/><circle cx="26.7" cy="550.7" r="1" fill="#3a8cfa" opacity=".8"/><circle cx="31.7" cy="543.5" r=".8" fill="#3a8cfa" opacity=".8"/><circle cx="84.4" cy="524" r="1.2" fill="#2068f2" opacity=".6"/><circle cx="45.5" cy="482.9" r="1" fill="#3a8cfa" opacity=".8"/><circle cx="66.4" cy="584.9" r="1.1" fill="#2068f2" opacity=".5"/><circle cx="48.2" cy="533.7" r="1.4" fill="#3a8cfa" opacity=".5"/><circle cx="42.4" cy="500.9" r="1.1" fill="#2068f2" opacity=".7"/><circle cx="10.4" cy="544.1" r=".6" fill="#2068f2" opacity=".7"/><circle cx="92.1" cy="565.5" r="1.3" fill="#3a8cfa" opacity=".5"/><circle cx="30.1" cy="548.7" r="1.5" fill="#2a74f6" opacity=".9"/><circle cx="80.1" cy="483.9" r=".8" fill="#2068f2" opacity=".5"/><circle cx="16.5" cy="572.4" r="1.1" fill="#3a8cfa" opacity=".5"/><circle cx="59.2" cy="516.7" r="1.2" fill="#2a74f6" opacity=".8"/><circle cx="97.8" cy="584.7" r="1.2" fill="#3a8cfa" opacity=".8"/><circle cx="21.8" cy="488.5" r="1.4" fill="#3a8cfa" opacity=".8"/><circle cx="99.4" cy="526.9" r=".9" fill="#2068f2" opacity=".6"/><circle cx="50" cy="551.4" r=".9" fill="#3a8cfa" opacity=".7"/><circle cx="52.7" cy="578.4" r=".6" fill="#2a74f6" opacity=".9"/><circle cx="21.8" cy="573.4" r="1.2" fill="#2068f2" opacity=".8"/><circle cx="38.9" cy="551.6" r="1.1" fill="#2068f2" opacity=".8"/><circle cx="64.3" cy="475.6" r="1.5" fill="#2068f2" opacity=".6"/><circle cx="36" cy="516" r=".7" fill="#2068f2" opacity=".5"/><circle cx="112.7" cy="505.7" r="1.6" fill="#2a74f6" opacity=".8"/><circle cx="84.5" cy="544.4" r="1.4" fill="#2068f2" opacity=".5"/><circle cx="49.6" cy="482.1" r=".7" fill="#2a74f6" opacity=".8"/><circle cx="21.9" cy="575.3" r="1.2" fill="#2068f2" opacity=".7"/><circle cx="35.6" cy="533" r=".8" fill="#2a74f6" opacity=".9"/><circle cx="46.3" cy="517.2" r=".9" fill="#2068f2" opacity=".8"/><circle cx="103" cy="560.8" r=".8" fill="#2a74f6" opacity=".7"/><circle cx="58.8" cy="503.9" r="1.1" fill="#2a74f6" opacity=".8"/><circle cx="27.2" cy="571.3" r=".8" fill="#3a8cfa" opacity=".7"/><circle cx="77.3" cy="498.1" r="1.2" fill="#2a74f6" opacity=".7"/><circle cx="48.8" cy="517.6" r=".8" fill="#3a8cfa" opacity=".8"/><circle cx="112.6" cy="492.9" r="1.6" fill="#2068f2" opacity=".7"/><circle cx="84.4" cy="479.7" r="1.2" fill="#2068f2" opacity=".7"/><circle cx="36.6" cy="488.1" r="1.2" fill="#2a74f6" opacity=".5"/><circle cx="8.6" cy="585" r=".9" fill="#2a74f6" opacity=".9"/><circle cx="88.2" cy="531.3" r=".9" fill="#3a8cfa" opacity=".7"/><circle cx="106.1" cy="479.8" r=".8" fill="#3a8cfa" opacity=".8"/><circle cx="8.6" cy="552.3" r="1.2" fill="#2068f2" opacity=".9"/><circle cx="111.5" cy="480.6" r=".6" fill="#2a74f6" opacity=".7"/><circle cx="100.2" cy="562.1" r=".8" fill="#2a74f6" opacity=".6"/><circle cx="104.7" cy="481.6" r=".8" fill="#2a74f6" opacity=".9"/><circle cx="47.5" cy="552.6" r="1.2" fill="#3a8cfa" opacity=".7"/><circle cx="11.3" cy="532.1" r="1.5" fill="#2068f2" opacity=".7"/><circle cx="17" cy="477.7" r=".8" fill="#2068f2" opacity=".6"/><circle cx="61.1" cy="580.7" r="1.2" fill="#2068f2" opacity=".6"/><circle cx="47.2" cy="534.8" r="1" fill="#2a74f6" opacity=".7"/><circle cx="105.3" cy="465.8" r="1.4" fill="#2a74f6" opacity=".6"/><circle cx="36.7" cy="504.8" r="1.1" fill="#2a74f6" opacity=".8"/>
</g>
<circle cx="93.2" cy="529.98" r="0.56" fill="#30c8f0" stroke="none" stroke-width="1" opacity="0.8"/>
<circle cx="84.4" cy="464.76" r="0.41" fill="#50e0d0" stroke="none" stroke-width="1" opacity="0.8"/>
<circle cx="105.19" cy="548.69" r="0.63" fill="#2aa0f8" stroke="none" stroke-width="1" opacity="0.8"/>
<circle cx="71.68" cy="500.45" r="0.89" fill="#30c8f0" stroke="none" stroke-width="1" opacity="0.8"/>
<circle cx="11.92" cy="526.96" r="0.63" fill="#30c8f0" stroke="none" stroke-width="1" opacity="0.8"/>
<circle cx="50.66" cy="474.33" r="0.52" fill="#2aa0f8" stroke="none" stroke-width="1" opacity="0.8"/>
<circle cx="21.6" cy="583.48" r="0.42" fill="#50e0d0" stroke="none" stroke-width="1" opacity="0.8"/>
<circle cx="83.53" cy="543.88" r="0.87" fill="#30c8f0" stroke="none" stroke-width="1" opacity="0.8"/>
<circle cx="93.49" cy="513.62" r="0.62" fill="#2aa0f8" stroke="none" stroke-width="1" opacity="0.8"/>
<circle cx="23.92" cy="579.28" r="0.45" fill="#2aa0f8" stroke="none" stroke-width="1" opacity="0.8"/>
<circle cx="64.48" cy="536.14" r="0.45" fill="#2aa0f8" stroke="none" stroke-width="1" opacity="0.8"/>
<circle cx="60.78" cy="494.21" r="0.76" fill="#2aa0f8" stroke="none" stroke-width="1" opacity="0.8"/>
<circle cx="83.46" cy="515.64" r="0.77" fill="#30c8f0" stroke="none" stroke-width="1" opacity="0.8"/>
<circle cx="10.25" cy="568.29" r="0.56" fill="#50e0d0" stroke="none" stroke-width="1" opacity="0.8"/>
<circle cx="52.86" cy="560.34" r="0.47" fill="#50e0d0" stroke="none" stroke-width="1" opacity="0.8"/>
<circle cx="15.54" cy="517.21" r="0.89" fill="#2aa0f8" stroke="none" stroke-width="1" opacity="0.8"/>
<circle cx="65.52" cy="583.8" r="0.45" fill="#30c8f0" stroke="none" stroke-width="1" opacity="0.8"/>
<circle cx="110.29" cy="518.88" r="0.44" fill="#30c8f0" stroke="none" stroke-width="1" opacity="0.8"/>
<circle cx="13.23" cy="518.83" r="0.54" fill="#2aa0f8" stroke="none" stroke-width="1" opacity="0.8"/>
<circle cx="90.55" cy="478.67" r="0.7" fill="#2aa0f8" stroke="none" stroke-width="1" opacity="0.8"/>
<circle cx="104.8" cy="553.55" r="0.82" fill="#30c8f0" stroke="none" stroke-width="1" opacity="0.8"/>
<circle cx="77.8" cy="528.39" r="0.51" fill="#2aa0f8" stroke="none" stroke-width="1" opacity="0.8"/>
<circle cx="8.84" cy="561.65" r="0.54" fill="#50e0d0" stroke="none" stroke-width="1" opacity="0.8"/>
<circle cx="72.32" cy="520.16" r="0.51" fill="#50e0d0" stroke="none" stroke-width="1" opacity="0.8"/>
<circle cx="98.78" cy="580.86" r="0.69" fill="#50e0d0" stroke="none" stroke-width="1" opacity="0.8"/>
<circle cx="95.78" cy="497.23" r="0.64" fill="#50e0d0" stroke="none" stroke-width="1" opacity="0.8"/>
<circle cx="94.11" cy="531.55" r="0.83" fill="#2aa0f8" stroke="none" stroke-width="1" opacity="0.8"/>
<circle cx="29.65" cy="505.22" r="0.44" fill="#30c8f0" stroke="none" stroke-width="1" opacity="0.8"/>
<circle cx="40.6" cy="513.62" r="0.66" fill="#50e0d0" stroke="none" stroke-width="1" opacity="0.8"/>
<circle cx="20.83" cy="575.65" r="0.86" fill="#2aa0f8" stroke="none" stroke-width="1" opacity="0.8"/>
<circle cx="75.34" cy="524.49" r="0.59" fill="#50e0d0" stroke="none" stroke-width="1" opacity="0.8"/>
<circle cx="10.35" cy="475.11" r="0.81" fill="#2aa0f8" stroke="none" stroke-width="1" opacity="0.8"/>
<circle cx="86.28" cy="511.88" r="0.44" fill="#50e0d0" stroke="none" stroke-width="1" opacity="0.8"/>
<circle cx="57.93" cy="537.96" r="0.81" fill="#30c8f0" stroke="none" stroke-width="1" opacity="0.8"/>
<circle cx="26.84" cy="471.76" r="0.46" fill="#50e0d0" stroke="none" stroke-width="1" opacity="0.8"/>
<circle cx="40.37" cy="570" r="0.84" fill="#2aa0f8" stroke="none" stroke-width="1" opacity="0.8"/>
<circle cx="44.52" cy="506.15" r="0.45" fill="#2aa0f8" stroke="none" stroke-width="1" opacity="0.8"/>
<circle cx="95.62" cy="471.21" r="0.5" fill="#50e0d0" stroke="none" stroke-width="1" opacity="0.8"/>
<circle cx="113.34" cy="473.22" r="0.53" fill="#30c8f0" stroke="none" stroke-width="1" opacity="0.8"/>
<circle cx="81.97" cy="568.55" r="0.44" fill="#30c8f0" stroke="none" stroke-width="1" opacity="0.8"/>
<circle cx="25.1" cy="482.7" r="5.67" fill="url(#spotR)" stroke="none" stroke-width="1"/>
<circle cx="22" cy="486" r="4.32" fill="url(#spotY)" stroke="none" stroke-width="1"/>
<circle cx="47.8" cy="472.6" r="4.32" fill="url(#spotR)" stroke="none" stroke-width="1"/>
<circle cx="109.1" cy="471.4" r="4.32" fill="url(#spotR)" stroke="none" stroke-width="1"/>
<circle cx="12.6" cy="497.8" r="3.2" fill="url(#spotC)" stroke="none" stroke-width="1" opacity="0.8"/>
<circle cx="26" cy="501.6" r="4.05" fill="url(#spotY)" stroke="none" stroke-width="1"/>
<circle cx="15.9" cy="507.8" r="4.59" fill="url(#spotY)" stroke="none" stroke-width="1"/>
<circle cx="47.8" cy="509.5" r="4.32" fill="url(#spotY)" stroke="none" stroke-width="1"/>
<circle cx="41.1" cy="519.5" r="4.32" fill="url(#spotR)" stroke="none" stroke-width="1"/>
<circle cx="41.1" cy="524.5" r="4.59" fill="url(#spotR)" stroke="none" stroke-width="1"/>
<circle cx="40.5" cy="529" r="4.05" fill="url(#spotY)" stroke="none" stroke-width="1"/>
<circle cx="89.8" cy="525.1" r="4.32" fill="url(#spotW)" stroke="none" stroke-width="1"/>
<circle cx="85.6" cy="541.9" r="5.94" fill="url(#spotY)" stroke="none" stroke-width="1"/>
<circle cx="89.8" cy="551.5" r="4.32" fill="url(#spotR)" stroke="none" stroke-width="1"/>
<circle cx="95.7" cy="547" r="3.2" fill="url(#spotC)" stroke="none" stroke-width="1" opacity="0.8"/>
<circle cx="51.7" cy="572.5" r="4.86" fill="url(#spotW)" stroke="none" stroke-width="1"/>
<circle cx="62.9" cy="579.2" r="4.59" fill="url(#spotR)" stroke="none" stroke-width="1"/>
<circle cx="36" cy="583.4" r="4.59" fill="url(#spotY)" stroke="none" stroke-width="1"/>
<circle cx="64.6" cy="549" r="2.6" fill="url(#spotC)" stroke="none" stroke-width="1" opacity="0.8"/>
<circle cx="14" cy="470" r="2.5" fill="url(#spotC)" stroke="none" stroke-width="1" opacity="0.8"/>
<circle cx="57" cy="573" r="2.4" fill="url(#spotC)" stroke="none" stroke-width="1" opacity="0.8"/>
<circle cx="70" cy="476" r="2.4" fill="url(#spotC)" stroke="none" stroke-width="1" opacity="0.8"/>
<circle cx="77" cy="500" r="2.4" fill="url(#spotC)" stroke="none" stroke-width="1" opacity="0.8"/>
<circle cx="95" cy="478" r="2.2" fill="url(#spotC)" stroke="none" stroke-width="1" opacity="0.8"/>
<circle cx="20" cy="545" r="2.4" fill="url(#spotC)" stroke="none" stroke-width="1" opacity="0.8"/>
<circle cx="74" cy="560" r="2.2" fill="url(#spotC)" stroke="none" stroke-width="1" opacity="0.8"/>
<circle cx="105" cy="520" r="2.2" fill="url(#spotC)" stroke="none" stroke-width="1" opacity="0.8"/>
<circle cx="30" cy="530" r="2.2" fill="url(#spotC)" stroke="none" stroke-width="1" opacity="0.8"/>
<circle cx="58" cy="495" r="2.4" fill="url(#spotC)" stroke="none" stroke-width="1" opacity="0.8"/>
<circle cx="80" cy="489" r="2.2" fill="url(#spotC)" stroke="none" stroke-width="1" opacity="0.8"/>
<rect x="12" y="581.4" width="20.4" height="1.8" fill="#fff" stroke="none" stroke-width="1"/>
</g>
<text x="8.3" y="597.2" fill="#2a2ae6">GCamp6m</text>
<rect x="116.5" y="523.2" width="3.6" height="52.1" fill="url(#jet)" stroke="#555" stroke-width="0.4"/>
<text x="115.6" y="519.3">Max.</text>
<text x="115.6" y="585.2">Min.</text>
<text x="133.2" y="549.5" text-anchor="middle" transform="rotate(-90 133.2 549.5)">Intensity</text>
<!-- panel_k -->
<text x="131.5" y="457.6" font-size="16.5" fill="#000" font-weight="bold" stroke="#000" stroke-width="0.7">k</text>
<text x="182.6" y="565.1" text-anchor="end">0</text>
<line x1="186.5" y1="561.5" x2="188.5" y2="561.5" stroke="#888" stroke-width="0.6"/>
<text x="182.6" y="543" text-anchor="end">0.5</text>
<line x1="186.5" y1="539.4" x2="188.5" y2="539.4" stroke="#888" stroke-width="0.6"/>
<text x="182.6" y="520.9" text-anchor="end">1.0</text>
<line x1="186.5" y1="517.3" x2="188.5" y2="517.3" stroke="#888" stroke-width="0.6"/>
<text x="182.6" y="498.8" text-anchor="end">1.5</text>
<line x1="186.5" y1="495.2" x2="188.5" y2="495.2" stroke="#888" stroke-width="0.6"/>
<text x="182.6" y="476.7" text-anchor="end">2.0</text>
<line x1="186.5" y1="473.1" x2="188.5" y2="473.1" stroke="#888" stroke-width="0.6"/>
<g fill="none" stroke-width="0.5" opacity="0.75">
<path d="M186.5 554l1.4-14.6 1.5 4.7 1.4 4.3 1.4-.4 1.5 1.6 1.4 1.7 1.5 2.3 1.4 5.5 1.4-2 1.5 1.6 1.4-4.7 1.4 1.7 1.5 2.7 1.4-1.6 1.5-2.8 1.4-1.6 1.4-4.1 1.5-8.2 1.4 3.7 1.4 1.7 1.5 1.4 1.4-7.9 1.5 7.2 1.4 2.3 1.4 2.3 1.5 3.7 1.4-1.1 1.4 1.8 1.5 .6 1.4-3.3 1.5-.1 1.4 1.9 1.4-7.5 1.5 5 1.4 7 1.4-3.6 1.5-.6 1.4 .1 1.5 1.3 1.4 2.1 1.4 .3 1.5-.7 1.4-.6 1.4 1 1.5-1.6 1.4-3.2 1.5-.8 1.4-2.8 1.4 1.8 1.5 2.3 1.4 2.7 1.4-.9 1.5-6 1.4 1.2 1.5 4 1.4-.4 1.4 2.4 1.5-2.8 1.4-4.2" stroke="#1f77b4"/>
<path d="M186.5 556.3l1.4 0 1.5-1.6 1.4 1.8 1.4 0 1.5-.1 1.4-1.7 1.5 .3 1.4 5.1 1.4-4.1 1.5 .3 1.4 5.8 1.4-4.2 1.5-.6 1.4-3.1 1.5-10.7 1.4 9.1 1.4 1.7 1.5 7.7 1.4-1.9 1.4-8 1.5 1.4 1.4 5.3 1.5 .6 1.4 1.8 1.4 1.7 1.5-1.2 1.4 .2 1.4 1.8 1.5-1.4 1.4 1.4 1.5-4.6 1.4 .7 1.4 3.4 1.5 .5 1.4 0 1.4-2.3 1.5-1.2 1.4-2.1 1.5-.1 1.4-3.2 1.4 1.5 1.5-4.4 1.4 3.1 1.4-2.4 1.5 3.6 1.4 1.2 1.5-2.9 1.4 1.6 1.4 1.1 1.5 4.2 1.4-3.1 1.4 3.4 1.5-2.8 1.4 2.5 1.5 .1 1.4-1.3 1.4 .3 1.5 .4 1.4-4.6" stroke="#ff7f0e"/>
<path d="M186.5 557.7l1.4-2.2 1.5-.4 1.4 6.1 1.4-7 1.5 4.4 1.4-.4 1.5-3.5 1.4 0 1.4 3.4 1.5 3.2 1.4-2.1 1.4-1.4 1.5-2.2 1.4 2.6 1.5 .4 1.4-2.3 1.4-1.8 1.5 4.8 1.4 2.2 1.4-1.9 1.5-17.1 1.4 11.3 1.5 1.1 1.4 2.6 1.4 .7 1.5-15.8 1.4 6.8 1.4 3.1 1.5 1.5 1.4-1.4 1.5 2.8 1.4 3 1.4 .5 1.5 .5 1.4-2 1.4 4.6 1.5-12.6 1.4 1.4 1.5 3.3 1.4-1.1 1.4 5 1.5 4.3 1.4-1.9 1.4-.1 1.5 2.2 1.4-1.4 1.5 0 1.4 .2 1.4 .7 1.5 1.9 1.4 0 1.4 0 1.5 0 1.4-3.9 1.5 1.8 1.4-1.2 1.4 2.4 1.5-3.8 1.4 1.4" stroke="#2ca02c"/>
<path d="M186.5 560.2l1.4-5.3 1.5-.2 1.4-1.8 1.4 4.9 1.5 5.6 1.4-4.3 1.5 1.9 1.4-1.1 1.4-2.2 1.5 3.5 1.4-3.7 1.4-1.4 1.5 .3 1.4-.5 1.5-2.6 1.4-.5 1.4 5.6 1.5 4.4 1.4-6.1 1.4 2.2 1.5-.4 1.4-5.3 1.5-1.4 1.4 7.2 1.4-6.9 1.5-.2 1.4 1.7 1.4 1.9 1.5 .9 1.4 1.6 1.5-1.2 1.4-1.3 1.4 2.3 1.5-17.5 1.4 9.1 1.4 3.5 1.5 2.4 1.4 3.6 1.5-2.2 1.4 2.1 1.4 4 1.5 .9 1.4-.1 1.4 .1 1.5 0 1.4 0 1.5-1.1 1.4 .9 1.4-2 1.5-.5 1.4 .8 1.4 .1 1.5 .9 1.4-6.5 1.5-.8 1.4 .5 1.4-1.4 1.5 2.8 1.4 1.1" stroke="#d62728"/>
<path d="M186.5 541.9l1.4 3.5 1.5-10.8 1.4 5 1.4 2.4 1.5-.7 1.4 1.3 1.5 2.6 1.4 2 1.4 1.7 1.5-1 1.4-2.4 1.4 1.2 1.5 4.3 1.4-1.3 1.5 2.4 1.4-.3 1.4-1.3 1.5-.4 1.4 .5 1.4 .8 1.5-.6 1.4 5 1.5-12.7 1.4 2.8 1.4 2.4 1.5-16.2 1.4 8.4 1.4 6.4 1.5 .1 1.4 .9 1.5 2.2 1.4 1 1.4-3 1.5 2.4 1.4 4.9 1.4-3 1.5 2.3 1.4 .5 1.5-3.4 1.4-2.2 1.4-.1 1.5 1.3 1.4 .3 1.4 .4 1.5-3 1.4 1 1.5 1.9 1.4-3.6 1.4-1.1 1.5 2.9 1.4-.7 1.4 1 1.5 3.3 1.4-.4 1.5 1.3 1.4-.9 1.4-8 1.5-.8 1.4 2.4" stroke="#9467bd"/>
<path d="M186.5 550.7l1.4 2.7 1.5-2.2 1.4-1.4 1.4-.1 1.5 1.3 1.4 2.7 1.5-1.2 1.4-4.7 1.4 5.3 1.5 .9 1.4 0 1.4-.5 1.5-1.9 1.4 .2 1.5-1.1 1.4 .3 1.4-.2 1.5 1.6 1.4 3.8 1.4 .3 1.5-2.4 1.4 1.4 1.5-1.3 1.4 2.7 1.4-15.8 1.5 2 1.4 6.9 1.4-.5 1.5 2.2 1.4-1.1 1.5-11.4 1.4 2.9 1.4 4.5 1.5-.9 1.4 1.9 1.4 4.4 1.5 3.1 1.4-1.8 1.5-4.8 1.4 2.1 1.4 .7 1.5 2.9 1.4 .8 1.4 1.5 1.5-.3 1.4-4.3 1.5 0 1.4 2.9 1.4 5.2 1.5-3.6 1.4-3.6 1.4 1.3 1.5-.5 1.4 .9 1.5 3.9 1.4-1.1 1.4 1.7 1.5-4.2 1.4 .2" stroke="#8c564b"/>
<path d="M186.5 555.7l1.4-1.4 1.5 2.2 1.4 1.3 1.4-3.4 1.5-1.2 1.4 .6 1.5-2.6 1.4 .3 1.4-2.5 1.5 2.5 1.4-.3 1.4-2.7 1.5 1.1 1.4-4.8 1.5 6.5 1.4-1.4 1.4 4.3 1.5 .4 1.4 2.5 1.4-.9 1.5-2.5 1.4 1.7 1.5-1.3 1.4 2.3 1.4-2.1 1.5 .5 1.4-.4 1.4-1.5 1.5-2.9 1.4 5.7 1.5 1.1 1.4-.2 1.4-8.9 1.5 1.3 1.4 .9 1.4 3.7 1.5 2.4 1.4-5.7 1.5 4.8 1.4-4.4 1.4 2.2 1.5 1.8 1.4-2.1 1.4-.9 1.5 2.5 1.4 3.3 1.5 1 1.4-1 1.4 4 1.5-4.8 1.4-2.2 1.4 2.1 1.5 2.8 1.4-2.5 1.5 .6 1.4-5.1 1.4 1.3 1.5 1 1.4 4.4" stroke="#e377c2"/>
<path d="M186.5 548.2l1.4-1.2 1.5-.5 1.4 5.3 1.4-.2 1.5-14.4 1.4-3.5 1.5 8.7 1.4 1.8 1.4-1.2 1.5 5.6 1.4-.8 1.4-3.6 1.5-1.2 1.4 5.6 1.5 1.4 1.4-3.3 1.4-.1 1.5-2.1 1.4-.6 1.4-4.3 1.5 1.6 1.4 .1 1.5 2 1.4 2.6 1.4 5 1.5-1.4 1.4 0 1.4-.1 1.5 .6 1.4 .3 1.5-10.1 1.4 2.7 1.4 4.5 1.5-12.8 1.4 11.1 1.4 1.6 1.5 2.3 1.4-1.7 1.5-2.1 1.4-.3 1.4 6.2 1.5-.3 1.4-.2 1.4 1.1 1.5-3.2 1.4-.4 1.5 1.1 1.4 1.3 1.4-1.3 1.5 3.1 1.4-1.5 1.4-2.5 1.5-19.6 1.4 5.1 1.5 4.2 1.4 6.4 1.4 3.6 1.5 1.1 1.4 4.8" stroke="#7f7f7f"/>
<path d="M186.5 547.7l1.4 1.4 1.5-3.4 1.4 2.6 1.4 1.8 1.5 2.3 1.4 .3 1.5 1.5 1.4-2.1 1.4 2.3 1.5 1.1 1.4-2 1.4-.9 1.5 1.7 1.4 .6 1.5 1.1 1.4-1.5 1.4 2.8 1.5-2.3 1.4-1.6 1.4-3.5 1.5-3.1 1.4 2.7 1.5 2 1.4-3.3 1.4 4.4 1.5 .1 1.4-.7 1.4-5.5 1.5 3 1.4-5.8 1.5 7.2 1.4-4.2 1.4-.8 1.5 5.9 1.4-3.5 1.4 .5 1.5 3.3 1.4-2 1.5 3.1 1.4-3.4 1.4 1.3 1.5 1.3 1.4 1.7 1.4-3.8 1.5 .9 1.4 .6 1.5-.3 1.4 1.6 1.4-2.1 1.5 3.6 1.4-1.5 1.4 3.7 1.5-3.2 1.4 1.5 1.5-1.2 1.4-4.6 1.4 2.3 1.5 7.3 1.4-4.3" stroke="#bcbd22"/>
<path d="M186.5 552.9l1.4 1.1 1.5 .8 1.4-.4 1.4 .6 1.5 2.8 1.4-2.5 1.5 .1 1.4-3.2 1.4-2.5 1.5-3.2 1.4 2.6 1.4-1.9 1.5 .6 1.4 1.9 1.5-3.1 1.4 .5 1.4-4.5 1.5 5.6 1.4 1.4 1.4 3.1 1.5 2.1 1.4-4.8 1.5-.1 1.4 2.5 1.4-1.4 1.5-2.9 1.4 2.5 1.4 3.8 1.5 3.1 1.4 4.4 1.5 1.3 1.4-4.3 1.4-2.3 1.5-3.8 1.4-2.7 1.4-.9 1.5 2.5 1.4-.4 1.5-2.6 1.4-1.1 1.4 3.4 1.5-2.3 1.4 4.7 1.4 1.7 1.5-3.4 1.4-1.5 1.5 2.1 1.4-1.6 1.4-.4 1.5 4.7 1.4-4.6 1.4 .5 1.5-1.6 1.4 1.7 1.5 .8 1.4-.9 1.4-1.1 1.5 .4 1.4 .8" stroke="#17becf"/>
<path d="M186.5 548.3l1.4 5.7 1.5-1.6 1.4-3.9 1.4 1.9 1.5 3.4 1.4 3.4 1.5-5 1.4 2.8 1.4-4.2 1.5-2.7 1.4 3.3 1.4-3 1.5-3.1 1.4 4.1 1.5 .2 1.4-1 1.4-.5 1.5-1 1.4 2.3 1.4 6 1.5-2.1 1.4-8.3 1.5-2 1.4 2.6 1.4 1.9 1.5 1.7 1.4 3.5 1.4 1.5 1.5-1.5 1.4-3.8 1.5-.9 1.4 3 1.4 2.9 1.5 3.1 1.4-4.5 1.4 .7 1.5-4.1 1.4-2.9 1.5 3.2 1.4 1.9 1.4 2.2 1.5-.7 1.4 4.3 1.4-1.2 1.5-1.2 1.4-2 1.5-1.5 1.4 1.4 1.4-1.5 1.5 3.5 1.4-1 1.4-.3 1.5 3.8 1.4 2 1.5-3.7 1.4 3.1 1.4-.8 1.5-1.5 1.4-1.3" stroke="#1f77b4"/>
<path d="M186.5 554.4l1.4-1.6 1.5 5.8 1.4 1.1 1.4 .1 1.5 1.8 1.4 .1 1.5-4.1 1.4-.9 1.4-2.3 1.5 1 1.4-.5 1.4-1.5 1.5 3.5 1.4-13.6 1.5 8.1 1.4 4.9 1.4 .8 1.5-1.2 1.4 1.2 1.4-3.2 1.5 .4 1.4-2.4 1.5-2.8 1.4 6.2 1.4-4.3 1.5-8.9 1.4 2.7 1.4 .3 1.5 1.2 1.4 5.1 1.5 1.4 1.4 1.9 1.4 5.9 1.5-1.4 1.4-1.8 1.4-2.9 1.5-15.7 1.4 6.8 1.5 8.8 1.4-.2 1.4 .6 1.5 3.2 1.4-3.1 1.4 .8 1.5-14.4 1.4 7.7 1.5 2.5 1.4 3.4 1.4-3.1 1.5-1.8 1.4 3.2 1.4-.5 1.5 3.8 1.4-3.6 1.5 .2 1.4 5.6 1.4 .2 1.5 1 1.4 1.3" stroke="#ff7f0e"/>
<path d="M186.5 552.6l1.4-1.1 1.5-2.7 1.4 3.3 1.4 0 1.5 .8 1.4-.7 1.5 1.7 1.4 1.7 1.4-1.5 1.5 1 1.4-6.8 1.4 4.1 1.5 4.1 1.4-3.8 1.5-1.4 1.4 2.9 1.4 .5 1.5 .4 1.4 2.4 1.4-5.5 1.5 2.3 1.4 2 1.5-2.1 1.4-1 1.4 1.8 1.5 .4 1.4-1.8 1.4 0 1.5 1.9 1.4-2.6 1.5 1.8 1.4-14.3 1.4 9.9 1.5 2.7 1.4-.1 1.4-8.6 1.5 4 1.4-.8 1.5 5.8 1.4 1.3 1.4 4 1.5-.3 1.4 1.6 1.4-3.5 1.5-1.3 1.4-1.9 1.5-3.4 1.4 5.2 1.4 .1 1.5 .1 1.4 .6 1.4-1.3 1.5 2.2 1.4-1.7 1.5 2.5 1.4-1.2 1.4-1.1 1.5 3.9 1.4 1.4" stroke="#2ca02c"/>
<path d="M186.5 557l1.4-1 1.5 .9 1.4 3.5 1.4-1.1 1.5-2.9 1.4-2.4 1.5 .5 1.4 3.6 1.4-5.3 1.5 2.1 1.4 3.7 1.4 .8 1.5-.9 1.4 1 1.5 1.6 1.4 .2 1.4-3 1.5 3 1.4-2.7 1.4-1.9 1.5-.3 1.4 1.8 1.5 5.5 1.4 0 1.4-2.6 1.5-2.1 1.4 2.1 1.4-4.2 1.5 1.9 1.4 .3 1.5 1.8 1.4-4.1 1.4 .1 1.5-3.5 1.4 .3 1.4 .2 1.5 1 1.4 1.9 1.5 2.9 1.4-3.1 1.4-13.6 1.5 9.8 1.4 2.2 1.4 2.7 1.5 1.9 1.4 4.1 1.5 0 1.4 0 1.4 0 1.5-.5 1.4-1.6 1.4 2.1 1.5-2.1 1.4-.5 1.5-.1 1.4-.3 1.4-4.6 1.5 7.6 1.4-1.8" stroke="#d62728"/>
<path d="M186.5 552.8l1.4-1 1.5 6.8 1.4-3.7 1.4-7 1.5 6.8 1.4 .3 1.5 2.5 1.4-3.2 1.4 2.4 1.5 .1 1.4-3.1 1.4 .6 1.5-2.1 1.4 2.6 1.5 2.4 1.4-6.1 1.4 4.3 1.5-1.9 1.4-3.3 1.4 6.6 1.5-3.8 1.4 2.6 1.5-3.5 1.4-1.2 1.4 8.6 1.5-.4 1.4-1.8 1.4-2.7 1.5-.2 1.4 .1 1.5 2.5 1.4-1.7 1.4-.9 1.5 1.2 1.4 1 1.4-.2 1.5-2.2 1.4-2.1 1.5-1.1 1.4 2.5 1.4 3.6 1.5 1.4 1.4 2.4 1.4-1.4 1.5-1.3 1.4-1.3 1.5-.4 1.4-1.6 1.4 3 1.5 .4 1.4-2.6 1.4 2.7 1.5 1.9 1.4-2.7 1.5 1.2 1.4-2.3 1.4 1 1.5-2.7 1.4 1.1" stroke="#9467bd"/>
<path d="M186.5 554.1l1.4-.3 1.5 2.6 1.4-2.5 1.4-.7 1.5 5.6 1.4-1.5 1.5 1 1.4-1.7 1.4-2 1.5 4.2 1.4-1.8 1.4 2.6 1.5-1.4 1.4 1.1 1.5 1.6 1.4-2.9 1.4 0 1.5 1.6 1.4 1.8 1.4-.8 1.5 .7 1.4 .4 1.5-3.6 1.4 3 1.4 2.5 1.5-.5 1.4-1.1 1.4-1.7 1.5-1.7 1.4-3.2 1.5 3.7 1.4 1.5 1.4-1.2 1.5-1.5 1.4 .8 1.4-1.1 1.5-2.3 1.4 .4 1.5-5.1 1.4 0 1.4-8.5 1.5 7.3 1.4 3.2 1.4-.5 1.5-1.7 1.4 3.5 1.5-1.9 1.4-.4 1.4-3 1.5 4.4 1.4 4.8 1.4 1 1.5 2.4 1.4-2.1 1.5-1.6 1.4-.2 1.4 .8 1.5-2.3 1.4 3.7" stroke="#8c564b"/>
<path d="M186.5 550.1l1.4-.7 1.5-4.3 1.4 4.5 1.4 1.8 1.5 4.9 1.4-2.7 1.5 .8 1.4-1.5 1.4 .1 1.5 2.4 1.4-2 1.4 .4 1.5-3.4 1.4-6 1.5 4.3 1.4 1.7 1.4-3.6 1.5 1.4 1.4-1.3 1.4 4.4 1.5 2.1 1.4-2.6 1.5-3.2 1.4 2.1 1.4-2 1.5 3.5 1.4-10.4 1.4 3.4 1.5-.4 1.4 3 1.5 2.5 1.4-8.5 1.4 7.2 1.5 2.6 1.4 4.9 1.4-3.5 1.5 .3 1.4-3.3 1.5 .1 1.4 1.4 1.4-1.2 1.5 2.4 1.4 2.5 1.4-4.7 1.5-1.6 1.4-.1 1.5 4.3 1.4-.1 1.4 2.7 1.5-2.6 1.4-.2 1.4-2.8 1.5 5.8 1.4-1.2 1.5 2.5 1.4-.8 1.4-2.2 1.5-2.4 1.4 2.3" stroke="#e377c2"/>
<path d="M186.5 550.6l1.4 2.8 1.5-1.9 1.4 .3 1.4-.3 1.5-1.1 1.4-2.4 1.5 4.4 1.4-6.2 1.4 3.4 1.5 .9 1.4-15.4 1.4 4.8 1.5 3.8 1.4 3.4 1.5-3.4 1.4 .5 1.4 .2 1.5 4 1.4-1.2 1.4 2.3 1.5 5.7 1.4-3.7 1.5-.8 1.4-.3 1.4 .4 1.5-1.4 1.4-2.7 1.4 6.6 1.5-1.1 1.4-2.9 1.5-1.4 1.4 .6 1.4 3 1.5 1.5 1.4 0 1.4-1 1.5 2.4 1.4-1 1.5-1.4 1.4-2.5 1.4 2.2 1.5-3.5 1.4-16.8 1.4 7.6 1.5 1.4 1.4 5.6 1.5 6.5 1.4-1.6 1.4 3 1.5-4.4 1.4-2.4 1.4 3.4 1.5 .5 1.4-.8 1.5-1.3 1.4-.2 1.4-1.4 1.5-3.9 1.4 4.6" stroke="#7f7f7f"/>
<path d="M186.5 543.6l1.4 4.3 1.5 .7 1.4 1.6 1.4 2.4 1.5 1.5 1.4-3.6 1.5-.6 1.4 1.3 1.4 .7 1.5-2.9 1.4-.6 1.4-.6 1.5-.3 1.4-.5 1.5-2.9 1.4 .7 1.4-1.2 1.5-.4 1.4 1.4 1.4 2.3 1.5-.5 1.4-.1 1.5 .2 1.4-3.4 1.4 .4 1.5 4.9 1.4 1.5 1.4-.6 1.5-.7 1.4-6.7 1.5 3.6 1.4 .6 1.4 .4 1.5 1 1.4 3.1 1.4-.8 1.5 3.2 1.4 .8 1.5-3.2 1.4 1.2 1.4 2.1 1.5-2.5 1.4-.2 1.4 .6 1.5-.7 1.4-1.5 1.5 .6 1.4-4.1 1.4-2.8 1.5 3.8 1.4-1.7 1.4 1.4 1.5 3.1 1.4-.3 1.5 1 1.4 .7 1.4-.2 1.5-2.5 1.4 3.5" stroke="#bcbd22"/>
<path d="M186.5 553.7l1.4 2.5 1.5 .1 1.4-2 1.4 1.3 1.5 .6 1.4-2.1 1.5 .6 1.4 .8 1.4 0 1.5-.9 1.4-1.8 1.4 1.4 1.5 4.6 1.4-11.3 1.5 2.4 1.4 7 1.4 2.9 1.5-2.8 1.4 1.1 1.4-2 1.5 1.6 1.4-2.2 1.5 .6 1.4 .2 1.4 1.4 1.5-1.4 1.4 .1 1.4-1.4 1.5 3.3 1.4 0 1.5 .2 1.4 1.6 1.4-2 1.5 3.6 1.4-3.4 1.4 .4 1.5-15 1.4 5.5 1.5 2.5 1.4-.2 1.4 6.1 1.5 5.6 1.4-.8 1.4-11 1.5-.4 1.4 3.1 1.5 4.5 1.4-2.8 1.4 1.5 1.5 .7 1.4 5 1.4-4.5 1.5 2.9 1.4-2.2 1.5-1.9 1.4 2.6 1.4 2.6 1.5-4.3 1.4-1.2" stroke="#17becf"/>
<path d="M186.5 554.9l1.4-12.8 1.5 5.1 1.4 1.7 1.4 1.6 1.5-.8 1.4-3.6 1.5 3 1.4 2 1.4-3.9 1.5 1.5 1.4 1 1.4-1.4 1.5 1.7 1.4 2.7 1.5-4.6 1.4-.3 1.4 1.3 1.5 3.7 1.4-9.9 1.4 3.7 1.5 2.4 1.4-.1 1.5 2.1 1.4 6.4 1.4-1.6 1.5 1.3 1.4-1.4 1.4-.5 1.5-4.7 1.4-1.3 1.5 2.2 1.4 1.2 1.4 .6 1.5 5.7 1.4-2.6 1.4-.8 1.5-1.3 1.4-3.7 1.5 1.6 1.4-1.4 1.4-.1 1.5 2.8 1.4 2.3 1.4-1.8 1.5 1 1.4-2.6 1.5 .5 1.4 1.9 1.4-2.5 1.5 1.3 1.4 .7 1.4-.4 1.5-.3 1.4-3.2 1.5-1.3 1.4 1.7 1.4-2.4 1.5 2.5 1.4 1.4" stroke="#1f77b4"/>
<path d="M186.5 556.7l1.4-2.5 1.5-1.8 1.4-.8 1.4 1.5 1.5-.6 1.4 .5 1.5-1.3 1.4 5 1.4-2.5 1.5 1.5 1.4-.8 1.4-3.8 1.5 4.4 1.4-1.9 1.5 1.2 1.4 .6 1.4 4.1 1.5 2.8 1.4 .6 1.4-2 1.5 .8 1.4 2 1.5-3.6 1.4 .2 1.4-2.1 1.5 .9 1.4 3.9 1.4-.5 1.5-.8 1.4-15.8 1.5 8.8 1.4 2.6 1.4-3.6 1.5 2 1.4-2.1 1.4 2.1 1.5 4.1 1.4 1.6 1.5-.7 1.4 .8 1.4-2.1 1.5 4.3 1.4 0 1.4 0 1.5-4.7 1.4-10.4 1.5 6.6 1.4 2.7 1.4 .5 1.5 5.2 1.4-4.8 1.4 .6 1.5-.6 1.4 .9 1.5 .1 1.4-.2 1.4-2.4 1.5 .7 1.4-1" stroke="#ff7f0e"/>
<path d="M186.5 549.7l1.4-2.8 1.5 1.6 1.4-3.3 1.4 5.8 1.5 .9 1.4 .1 1.5-.4 1.4-.3 1.4-.2 1.5 2.5 1.4 6.8 1.4-6.2 1.5 1.7 1.4-6.6 1.5-2.9 1.4 .8 1.4 3.6 1.5-.5 1.4 .8 1.4 4.3 1.5-5.4 1.4-1 1.5 3.8 1.4-2.1 1.4-2 1.5 .8 1.4-1.1 1.4-1.1 1.5 2.9 1.4-.6 1.5 1.9 1.4 1.8 1.4 0 1.5 0 1.4 .8 1.4 2.9 1.5-4.2 1.4-.1 1.5 4.1 1.4 1.4 1.4 .9 1.5-3.8 1.4-.3 1.4-3.6 1.5 2.5 1.4-2 1.5-.5 1.4 .2 1.4-2.1 1.5 1.2 1.4 2.4 1.4 .3 1.5-.5 1.4-1.2 1.5 1.1 1.4-.8 1.4-1.5 1.5-.2 1.4-2" stroke="#2ca02c"/>
<path d="M186.5 555.2l1.4 .5 1.5-1.4 1.4-.5 1.4-1.3 1.5 .5 1.4-2.8 1.5 4.4 1.4-4.9 1.4-.4 1.5 3.5 1.4 .5 1.4 .3 1.5 1.6 1.4-.9 1.5-2.5 1.4-1.7 1.4 .1 1.5 4 1.4-1.6 1.4-.4 1.5 4.9 1.4 1.7 1.5 2 1.4 2.6 1.4-5.2 1.5 2 1.4-.4 1.4-3.9 1.5 4.7 1.4-3.2 1.5-.9 1.4-2.4 1.4 .4 1.5-3.8 1.4 1.7 1.4-4.7 1.5 6 1.4 .4 1.5-5.1 1.4-1.5 1.4 3.2 1.5 5.3 1.4 1 1.4-1.1 1.5 .1 1.4-1.4 1.5-.8 1.4-.2 1.4-1.9 1.5 3.3 1.4-.6 1.4 1.9 1.5-6 1.4-1.7 1.5 1.4 1.4 .9 1.4 2.7 1.5-1.1 1.4 3.4" stroke="#d62728"/>
<path d="M186.5 545.3l1.4 2.9 1.5 2.4 1.4-3.1 1.4 3.2 1.5 2.7 1.4-.5 1.5-.5 1.4-.1 1.4-.6 1.5-.4 1.4 .1 1.4 .7 1.5-.3 1.4-11.6 1.5 4.4 1.4 1.6 1.4 5.2 1.5-1.2 1.4-1.1 1.4 2.9 1.5 1.1 1.4-4.9 1.5-7.6 1.4 5.8 1.4 5 1.5 3.7 1.4-.2 1.4 2.4 1.5-3 1.4 .5 1.5-3.4 1.4-.3 1.4 6.7 1.5 2.3 1.4-5.5 1.4 .4 1.5 3.8 1.4 .1 1.5-2.2 1.4 .5 1.4-1.8 1.5-2.7 1.4 3.4 1.4-4.3 1.5 3.3 1.4 1.9 1.5 .5 1.4-2.7 1.4-1.7 1.5-.5 1.4 2.4 1.4-1.9 1.5-.3 1.4-1.3 1.5 .6 1.4 1.4 1.4 3.1 1.5-3.4 1.4-4.2" stroke="#9467bd"/>
<path d="M186.5 561.2l1.4-1.3 1.5-4.7 1.4-.3 1.4 1 1.5 .8 1.4 2.4 1.5-1.5 1.4-4.3 1.4 .1 1.5-1.2 1.4-2.4 1.4 1.4 1.5 2.1 1.4 3.4 1.5-5.1 1.4 5.5 1.4 .3 1.5-.8 1.4-1.1 1.4-.7 1.5 3.9 1.4 .8 1.5 1.1 1.4-3.7 1.4-2.1 1.5 .9 1.4-1.7 1.4 3.2 1.5-13.1 1.4 6.4 1.5 1.8 1.4-.2 1.4 1 1.5-1 1.4 2.9 1.4-1 1.5 1.6 1.4 .8 1.5-4.6 1.4 1.5 1.4 .4 1.5-1 1.4-.6 1.4 5.8 1.5-1.3 1.4 .7 1.5-2.5 1.4-9.8 1.4 5.4 1.5 2.6 1.4-.8 1.4 2.4 1.5 .2 1.4 2.9 1.5-1.4 1.4 1.9 1.4 .4 1.5-4.2 1.4-2.1" stroke="#8c564b"/>
<path d="M186.5 554.5l1.4 1.2 1.5 1.9 1.4-.2 1.4 .3 1.5-2.5 1.4 .2 1.5-4.5 1.4 .8 1.4 3.7 1.5 2.1 1.4-2 1.4-2.2 1.5 .8 1.4-2 1.5-9.7 1.4 3.2 1.4 2 1.5 6.3 1.4-1.9 1.4 3.4 1.5-1.8 1.4 1.4 1.5 1.8 1.4-3.2 1.4-.8 1.5-2.9 1.4 4 1.4 1.4 1.5 .4 1.4 1.9 1.5 2.7 1.4-.9 1.4-3.1 1.5-2.6 1.4 2.4 1.4 0 1.5 .9 1.4-1.2 1.5-3.3 1.4 6.2 1.4 2.9 1.5-3.9 1.4 .7 1.4 .3 1.5 2.9 1.4-5.5 1.5-.3 1.4-1.7 1.4 3.7 1.5 3.9 1.4-2 1.4 1.1 1.5-.4 1.4-1.3 1.5 1.1 1.4-2.8 1.4 3.6 1.5-1.8 1.4-2.2" stroke="#e377c2"/>
<path d="M186.5 551.3l1.4 4.4 1.5-6.9 1.4-3.7 1.4 1.4 1.5-16.1 1.4-4.3 1.5 0 1.4 5.2 1.4 9.4 1.5 1.2 1.4 4.5 1.4 .5 1.5 2.6 1.4 4.9 1.5-3.7 1.4-1.6 1.4-1.3 1.5 1.5 1.4 4.2 1.4-1.7 1.5 0 1.4 1.3 1.5-1.6 1.4-1.6 1.4 1.1 1.5 2.8 1.4-.4 1.4 1.5 1.5-2.6 1.4 1.5 1.5 1 1.4-3.2 1.4-2.2 1.5 1.2 1.4 4 1.4 1.5 1.5-4.4 1.4-.9 1.5 1.7 1.4 1.5 1.4 .4 1.5-.8 1.4-2.5 1.4 5.6 1.5-2.3 1.4-4.2 1.5 .3 1.4 1.9 1.4-1.7 1.5 1.1 1.4 8 1.4-3 1.5-.2 1.4-2.2 1.5-.5 1.4-.8 1.4 .4 1.5-4.1 1.4 .8" stroke="#7f7f7f"/>
<path d="M186.5 552.8l1.4-13 1.5 3.9 1.4 6.5 1.4 4.6 1.5-15.9 1.4 3.8 1.5 5.3 1.4 4.9 1.4 4.7 1.5-3 1.4 0 1.4-2.9 1.5 .3 1.4 1.8 1.5 1.2 1.4-1.9 1.4 .5 1.5 3 1.4 2.7 1.4 2.5 1.5-4.5 1.4-6.2 1.5 5.4 1.4-3.7 1.4 4.1 1.5-3.9 1.4 2.7 1.4-13.5 1.5 6.4 1.4 3.9 1.5 1.6 1.4 2.4 1.4-.9 1.5-.2 1.4-1.8 1.4 3.6 1.5 1.6 1.4 .7 1.5 1.4 1.4-2.4 1.4 1 1.5 .1 1.4-2.7 1.4-.9 1.5-1.1 1.4 4.2 1.5 1.2 1.4-1.7 1.4-2.7 1.5 .2 1.4-1.4 1.4 .4 1.5-.2 1.4 .6 1.5 2.5 1.4 1.4 1.4 2.2 1.5-1.6 1.4-3.5" stroke="#bcbd22"/>
<path d="M186.5 550l1.4 1.2 1.5 5.4 1.4-12.5 1.4 3.1 1.5 2.8 1.4 .6 1.5-.2 1.4 .1 1.4-2.1 1.5 3.6 1.4 3.6 1.4 .8 1.5-1.6 1.4 1.8 1.5-.1 1.4 .8 1.4 1.1 1.5 1.2 1.4-1.4 1.4-3.4 1.5 .3 1.4 1.8 1.5-2.5 1.4-.7 1.4-1.9 1.5 .6 1.4 2.2 1.4 3.7 1.5-3.5 1.4 7.3 1.5-4.2 1.4 .6 1.4 3 1.5-.3 1.4 .4 1.4-1 1.5-3.2 1.4-2.6 1.5 1.2 1.4-1.1 1.4 4.4 1.5-5.9 1.4 4.9 1.4 2.7 1.5-2.2 1.4 .9 1.5-.8 1.4 .4 1.4-1.8 1.5 1.7 1.4-3.4 1.4-12.6 1.5 8 1.4 5.9 1.5-1.9 1.4-.1 1.4 1.7 1.5-9.4 1.4 5.6" stroke="#17becf"/>
<path d="M186.5 548.8l1.4-3 1.5 1.1 1.4 4.3 1.4 1.1 1.5-10.9 1.4 5.4 1.5 2.5 1.4 .9 1.4-1.9 1.5-1.1 1.4-1.4 1.4-2.2 1.5 .6 1.4 4.2 1.5 2.3 1.4-1.8 1.4 3 1.5-2.6 1.4-2.8 1.4 3.6 1.5 4.2 1.4 .4 1.5-4.3 1.4 .3 1.4-13.4 1.5 5.9 1.4 1.3 1.4 5.3 1.5-.4 1.4 3.1 1.5 1.8 1.4-3 1.4-2.4 1.5-4.7 1.4 4.7 1.4 1.5 1.5 1.5 1.4-.6 1.5-2.2 1.4 2.6 1.4 1.7 1.5-.3 1.4-4.1 1.4 4.6 1.5-2.7 1.4 .7 1.5 1.3 1.4 1 1.4 2.2 1.5-2.5 1.4-.2 1.4-15.8 1.5 7.2 1.4 3.8 1.5 .6 1.4 .2 1.4 4.9 1.5 3 1.4-4.2" stroke="#1f77b4"/>
<path d="M186.5 545.2l1.4-5.3 1.5 1.7 1.4-13.5 1.4 4 1.5-6 1.4 8.9 1.5 1.8 1.4 5 1.4-7.2 1.5 4 1.4 3.7 1.4 1 1.5 3.6 1.4 3.6 1.5-1.1 1.4 2.1 1.4 1 1.5-.6 1.4 .7 1.4-4.8 1.5 1.4 1.4-.4 1.5-.5 1.4-9.7 1.4 2 1.5 4 1.4-10.2 1.4 5.1 1.5 2.6 1.4 4.4 1.5-.3 1.4-1.2 1.4 1.1 1.5 1.6 1.4-1.6 1.4 .7 1.5-1.1 1.4-1.2 1.5 4.5 1.4 3.3 1.4 .4 1.5-1.9 1.4 1.6 1.4-2.4 1.5 1.3 1.4-4.9 1.5-2.1 1.4 3.5 1.4 4.4 1.5 1.9 1.4-1 1.4-4.4 1.5 3.3 1.4-1.3 1.5 1.8 1.4-3.8 1.4 3 1.5 4.3 1.4 2.2" stroke="#ff7f0e"/>
<path d="M186.5 551.5l1.4 1.1 1.5 4.8 1.4 .3 1.4-5 1.5-5.5 1.4-1.7 1.5 3 1.4-12 1.4 6 1.5 3.1 1.4 2.2 1.4-9.6 1.5 6.5 1.4 6.7 1.5 3.2 1.4 2.8 1.4-2.7 1.5-3 1.4-.7 1.4 .3 1.5 6.7 1.4-3.8 1.5 1.9 1.4 .9 1.4-3.5 1.5 2.2 1.4 .5 1.4 1 1.5-.2 1.4 2.1 1.5-.4 1.4-1.4 1.4 .9 1.5 .5 1.4-3.3 1.4 .8 1.5 .5 1.4-3.7 1.5 2.8 1.4 2.6 1.4-3.1 1.5-.1 1.4-5.2 1.4 2.9 1.5 3.7 1.4 1 1.5-1.3 1.4 .8 1.4-4.3 1.5 .3 1.4-.3 1.4-4 1.5 5.8 1.4-2.2 1.5 .9 1.4 5.1 1.4-.7 1.5 2.2 1.4 3.1" stroke="#2ca02c"/>
<path d="M186.5 551.8l1.4-2.9 1.5-1.7 1.4 5.7 1.4-.2 1.5-16.3 1.4 6.7 1.5 4.3 1.4 3.7 1.4 2.1 1.5-1 1.4 2.2 1.4-2.5 1.5 1.3 1.4 1.6 1.5-.7 1.4 2.3 1.4-4.5 1.5-16.9 1.4 4 1.4 7.4 1.5 .5 1.4 4.6 1.5-1.4 1.4 1.9 1.4 2.3 1.5-2.4 1.4 1.7 1.4 1.8 1.5-3.4 1.4-1.7 1.5 3 1.4-2.2 1.4 3 1.5 .6 1.4 1.2 1.4 2.7 1.5-3.5 1.4-1.8 1.5-8.7 1.4 0 1.4 4.1 1.5 3.5 1.4 1.7 1.4-1.5 1.5 1.5 1.4-4 1.5 1.9 1.4 3.1 1.4-2 1.5-.6 1.4-2.4 1.4 2.2 1.5 1.5 1.4 3.1 1.5-2.6 1.4-16 1.4 6.6 1.5 2.1 1.4 2.3" stroke="#d62728"/>
<path d="M186.5 554.2l1.4-.6 1.5-2.8 1.4 .6 1.4-2.3 1.5 3.8 1.4-1.4 1.5 .6 1.4-6.3 1.4 9.1 1.5-2.3 1.4 0 1.4-1.4 1.5-.6 1.4 .4 1.5 4.7 1.4 1.6 1.4-2.2 1.5 1 1.4-.8 1.4 2.1 1.5 .4 1.4-.3 1.5 1.6 1.4-3.4 1.4-2.5 1.5 0 1.4 2 1.4-2.4 1.5-4.9 1.4 2.7 1.5 7 1.4-1.6 1.4-1 1.5 2.9 1.4-3.2 1.4-9.5 1.5 6.8 1.4 3.1 1.5-2.5 1.4 4 1.4 1.1 1.5-1.8 1.4-4.6 1.4 2.8 1.5 .5 1.4 1.6 1.5 .1 1.4 2.4 1.4-3.3 1.5-1.8 1.4-.2 1.4-.6 1.5-.3 1.4-2.2 1.5-2.7 1.4 1.4 1.4 2.6 1.5 4.3 1.4 2.3" stroke="#9467bd"/>
<path d="M186.5 551.6l1.4-.2 1.5-1.7 1.4-2.6 1.4 2.9 1.5 .6 1.4 4.1 1.5-.3 1.4-5.1 1.4 5.4 1.5-1 1.4-.5 1.4-8 1.5 2.4 1.4-.8 1.5 4 1.4-.5 1.4 1.5 1.5-2.9 1.4 3.8 1.4 2.3 1.5-2.7 1.4-1 1.5 4.4 1.4-4 1.4 1.9 1.5 2.9 1.4-.2 1.4 .7 1.5 1.6 1.4 4 1.5-23.1 1.4 6.7 1.4 4.4 1.5 .9 1.4 .6 1.4-.9 1.5-2.8 1.4 3.8 1.5-.7 1.4 .5 1.4 1.2 1.5 .5 1.4 .3 1.4 1.2 1.5-.1 1.4-4.1 1.5-.9 1.4 .9 1.4 1.5 1.5-1.9 1.4 1.6 1.4 .9 1.5-10.2 1.4 5.1 1.5 1.3 1.4 1.1 1.4 2.8 1.5-2.2 1.4 2" stroke="#8c564b"/>
</g>
<path d="M186.5 552.7l1.4-.6 1.5 .4 1.4 .8 1.4 .2 1.5-.6 1.4-.5 1.5 .6 1.4 .8 1.4 0 1.5-1.6 1.4-.3 1.4 .7 1.5 .8 1.4 .7 1.5-.7 1.4-.2 1.4 .8 1.5 .7 1.4-.3 1.4-.7 1.5 0 1.4 .8 1.5 .5 1.4-.4 1.4-.7 1.5 .3 1.4 .8 1.4 .4 1.5-.6 1.4-.5 1.5 .3 1.4 .9 1.4 .2 1.5-.6 1.4-.5 1.4 .5 1.5 .9 1.4 0 1.5-.7 1.4-.3 1.4 .7 1.5 .7 1.4-.1 1.4-.7 1.5-.2 1.4 .8 1.5 .6 1.4-.3 1.4-.7 1.5 .1 1.4 .8 1.4 .5 1.5-.4 1.4-.7 1.5 .2 1.4 .9 1.4 .4 1.5-.6 1.4-.6" stroke="#111" stroke-width="1.2" fill="none"/>
<rect x="186.5" y="464.8" width="84.8" height="105.5" fill="none" stroke="#6a6a6a" stroke-width="0.8"/>
<line x1="186.5" y1="464.8" x2="186.5" y2="466.6" stroke="#888" stroke-width="0.6"/>
<text x="186.5" y="579.7" text-anchor="middle">0</text>
<line x1="214.77" y1="464.8" x2="214.77" y2="466.6" stroke="#888" stroke-width="0.6"/>
<text x="214.77" y="579.7" text-anchor="middle">20</text>
<line x1="243.03" y1="464.8" x2="243.03" y2="466.6" stroke="#888" stroke-width="0.6"/>
<text x="243.03" y="579.7" text-anchor="middle">40</text>
<line x1="271.3" y1="464.8" x2="271.3" y2="466.6" stroke="#888" stroke-width="0.6"/>
<text x="271.3" y="579.7" text-anchor="middle">60</text>
<text x="228.9" y="593" text-anchor="middle">Time (s)</text>
<text x="230.4" y="459.9" text-anchor="middle">d40</text>
<text x="163" y="525.2" text-anchor="middle" transform="rotate(-90 163 525.2)">GCaMP6 intensity (Δ<tspan font-style="italic">F</tspan>/<tspan font-style="italic">F</tspan><tspan font-size="6.5" dy="2">0</tspan><tspan dy="-2">)</tspan></text>
<line x1="281.5" y1="561.5" x2="283.5" y2="561.5" stroke="#888" stroke-width="0.6"/>
<line x1="281.5" y1="539.4" x2="283.5" y2="539.4" stroke="#888" stroke-width="0.6"/>
<line x1="281.5" y1="517.3" x2="283.5" y2="517.3" stroke="#888" stroke-width="0.6"/>
<line x1="281.5" y1="495.2" x2="283.5" y2="495.2" stroke="#888" stroke-width="0.6"/>
<line x1="281.5" y1="473.1" x2="283.5" y2="473.1" stroke="#888" stroke-width="0.6"/>
<g fill="none" stroke-width="0.5" opacity="0.6">
<path d="M281.5 558.7l.8 0 .8 1.7 .8-1.6 .8-.6 .8-.7 .8-11.3 .8-2.3 .8 6 .8 2.6 .8 1.9 .8 1.8 .8 2 .8 2.1 .8-4.3 .8 2.7 .8-9.5 .8-6.7 .8 4.9 .8 3.6 .8 3.3 .8 3 .8 1 .8 1.4 .8-1.1 .8 1.3 .8-3.8 .8 1.2 .8-1.3 .8-11.9 .8 2.2 .8 5.8 .8 1.8 .8 3.2 .8-1.4 .8 4.1 .8-2.5 .8 .4 .8 1.1 .8-19 .8 6.1 .8 3.7 .8 4.4 .8 3.2 .8 .6 .8 1.5 .8-.8 .8 2.5 .8-16.7 .8 3.8 .8 .2 .8 5.5 .8 2.4 .8 1.7 .8 1.9 .8 .7 .8 .6 .8 .9 .8-3.2 .8 .9 .8-.4 .8-.5 .8-7.2 .8-7.2 .8 4.5 .8 3.5 .8 4 .8 2 .8 2.1 .8-.7 .8 .7 .8-.2 .8-13.8 .8 .1 .8 3.4 .8 3.7 .8 2.5 .8 2.6 .8 1.8 .8-.3 .8-.4 .8 .9 .8-9.2 .8-7.2 .8 5.2 .8 4.8 .8 1.5 .8 2.5 .8 3 .8 .1 .8-.8 .8-11.8 .8-.7 .8 4.7 .8 2.1 .8 2.3 .8 1.1 .8-3.1 .8 5.4 .8-.2 .8-14.7 .8 4.3 .8 3.6 .8 .9 .8 2.8 .8 2 .8 .3 .8-.9" stroke="#1f77b4"/>
<path d="M281.5 557.6l.8 .1 .8 .5 .8-.9 .8 1.1 .8 .9 .8-13.2 .8-3.2 .8 4.8 .8 5.3 .8 1.7 .8 1 .8-.7 .8 .5 .8 1 .8 .8 .8-11.1 .8-3 .8 3.2 .8 3.3 .8 4.8 .8 1.6 .8-1.4 .8 1.1 .8 .3 .8 .7 .8 1.1 .8-1.2 .8 .5 .8-16.6 .8 6.6 .8 4.7 .8 2.8 .8 1.2 .8-.2 .8-.2 .8 2.4 .8-1 .8 0 .8-15.4 .8 2.6 .8 7.2 .8 1.6 .8 2.8 .8 1.1 .8 1.1 .8-.6 .8 .7 .8-20.5 .8 8.6 .8 3.7 .8 2.7 .8 5.8 .8 0 .8-.7 .8 1.8 .8 0 .8-.1 .8-.6 .8 1.5 .8-.6 .8 3.2 .8-9.6 .8-8.7 .8 6.5 .8 2.2 .8 1.3 .8 1.6 .8 1.9 .8 .2 .8 1.3 .8 .9 .8-13.5 .8-3.5 .8 5.6 .8 7.1 .8 .8 .8 1.5 .8 1 .8-1.5 .8 1.7 .8-2.9 .8-7 .8-4.3 .8 5 .8 2.6 .8 4.3 .8 1 .8 1.6 .8-.4 .8 1.7 .8-18.1 .8 2.9 .8 5 .8 1.4 .8 4.6 .8 1 .8 3.2 .8-.2 .8 .2 .8-19.1 .8 5.1 .8 3.6 .8 1.1 .8 2.1 .8 4.5 .8 1.4 .8 0" stroke="#ff7f0e"/>
<path d="M281.5 557.8l.8-.5 .8 2.3 .8-2.1 .8 3 .8-1.5 .8-11.4 .8-7.2 .8 7.4 .8 2.2 .8 2.9 .8 1.1 .8 .5 .8 2.3 .8 .4 .8 3.1 .8-10.7 .8-8.5 .8 2.9 .8 6 .8 1.4 .8 2.8 .8 1.9 .8-1.1 .8 2.6 .8 2 .8 1.2 .8-.7 .8-2 .8-15.2 .8 3 .8 2.2 .8 4.8 .8-.7 .8 1.7 .8 1.9 .8 2.3 .8 1.2 .8 .3 .8-23.8 .8 9.5 .8 5.4 .8 2.3 .8 1.6 .8 .8 .8-.5 .8 1.7 .8 .8 .8-20.2 .8 9 .8 4.2 .8 3.9 .8 .9 .8 1.8 .8-1.8 .8 2.2 .8 0 .8 1 .8 1.5 .8 1.6 .8-.7 .8 2.3 .8-11.6 .8-6.5 .8 3.4 .8 3.1 .8 2.7 .8 .3 .8 1 .8 3 .8 1 .8 .6 .8-13.6 .8 .4 .8 5.4 .8-.2 .8 .9 .8 1.9 .8 1.8 .8 1.8 .8 1.2 .8-.2 .8-9.8 .8-5.5 .8 6.2 .8 4.6 .8 .2 .8 1.9 .8-.8 .8 2.4 .8 .7 .8-18.6 .8 4.5 .8 4.5 .8 2.8 .8 5.5 .8 .4 .8 .7 .8 .9 .8 1.1 .8-21.7 .8 3.2 .8 6.9 .8 3.2 .8 6.2 .8-.5 .8 2.7 .8 0" stroke="#2ca02c"/>
<path d="M281.5 559.5l.8-2.4 .8 1.6 .8 2 .8-.1 .8-.5 .8-13.7 .8-6.2 .8 5.1 .8 3.9 .8 2.7 .8 2.2 .8-.4 .8 .9 .8 2.7 .8 2.7 .8-13.5 .8-9.3 .8 7 .8 4.8 .8 3.6 .8 2 .8 .7 .8 .7 .8 .1 .8 1.7 .8 2 .8 0 .8-3 .8-19.5 .8 4.5 .8 5.7 .8 3.6 .8 1.8 .8 1.8 .8 1.4 .8 0 .8 2.5 .8 1 .8-23.6 .8 8.5 .8 2.1 .8 4.6 .8 2.9 .8-.6 .8 2.2 .8 2.7 .8-1 .8-22.4 .8 7.4 .8 6.8 .8 2.1 .8 3.5 .8 1.4 .8 1.6 .8 0 .8 .5 .8-.8 .8 .9 .8 1.9 .8 1.2 .8-.2 .8-13 .8-3.6 .8 2.3 .8 2.6 .8 3.6 .8 0 .8 2.8 .8 .9 .8 .5 .8 3.2 .8-16.3 .8-.6 .8 4.6 .8 4.7 .8 1.6 .8 1.7 .8 0 .8 2.3 .8-.2 .8 2.3 .8-10.1 .8-8.6 .8 7.1 .8 2 .8 4.5 .8 1.9 .8 1 .8-.9 .8 .8 .8-19.7 .8 3.2 .8 8.2 .8 2.5 .8 3.5 .8 2.2 .8 1.8 .8-.2 .8-.2 .8-21.3 .8 5.4 .8 4.6 .8 4 .8 4.1 .8 2.5 .8 .3 .8 1.9" stroke="#d62728"/>
<path d="M281.5 559.5l.8 .7 .8 .2 .8-.7 .8-1.3 .8-.6 .8-15 .8-9.1 .8 6.7 .8 5.1 .8 5.4 .8 2.8 .8 3 .8 1.3 .8-.3 .8-.8 .8-13 .8-9.4 .8 8 .8 3.7 .8 6.8 .8 2.1 .8 1.5 .8 1.6 .8 .2 .8 1.4 .8-1 .8 .5 .8-3.6 .8-25.6 .8 9.3 .8 6.2 .8 6.1 .8 2.6 .8 2.8 .8 .2 .8 .4 .8 .4 .8 0 .8-24.9 .8 8.5 .8 2 .8 5.8 .8 4.3 .8 2.6 .8 .4 .8 1.7 .8 3 .8-28.9 .8 7.8 .8 4.6 .8 3.1 .8 5.5 .8 .8 .8 2.1 .8 2.1 .8 1.9 .8 .5 .8 0 .8 2 .8-3.9 .8-.9 .8-13.7 .8-7.2 .8 5.8 .8 5.8 .8 5.5 .8 2.7 .8 .5 .8 .5 .8 2.2 .8-.5 .8-22.5 .8 1.7 .8 6 .8 5.3 .8 .8 .8 6 .8 1.1 .8 1.7 .8 1.7 .8-1.3 .8-12.5 .8-8.2 .8 4.3 .8 3.8 .8 5.2 .8 1.7 .8 3.3 .8 2.1 .8 .8 .8-24.7 .8 6.4 .8 5.2 .8 3.4 .8 1.8 .8 3.8 .8 1.2 .8 1 .8 1.4 .8-23.4 .8 7.8 .8 5.2 .8 3.9 .8 1.4 .8 3.3 .8 .6 .8-.4" stroke="#9467bd"/>
<path d="M281.5 557l.8 1.4 .8 1.1 .8 .1 .8 1 .8-.7 .8-18.5 .8-5.6 .8 5.5 .8 7 .8 .8 .8 3.4 .8 2.6 .8 1.9 .8 .8 .8 1.4 .8-12.1 .8-10.7 .8 7 .8 1.8 .8 5.3 .8 1.3 .8 3.6 .8 1.4 .8-.4 .8 3.8 .8 0 .8 .5 .8-5.6 .8-21.3 .8 8.1 .8 4.2 .8 2 .8 5.3 .8 .2 .8 3.1 .8 1.6 .8 1.1 .8 .5 .8-24.6 .8 4.6 .8 5 .8 3.8 .8 2.3 .8 2.5 .8 1.1 .8 3.8 .8 .5 .8-25.5 .8 6.9 .8 9 .8 .9 .8 2 .8 1.5 .8 2 .8 .8 .8-.2 .8 3.3 .8 .3 .8-.4 .8 1.4 .8 .3 .8-13.2 .8-11.5 .8 7.1 .8 5.6 .8 3.2 .8 2 .8 2.2 .8 1.9 .8 1 .8-.5 .8-16.6 .8 .1 .8 2.1 .8 3.3 .8 4.7 .8 2 .8 2.3 .8 1 .8 1.4 .8 2.4 .8-13.8 .8-9.4 .8 7.1 .8 5.3 .8 1.1 .8 3.9 .8 .9 .8 1.4 .8 .6 .8-20.4 .8 5.4 .8 5.7 .8 2.8 .8 3.5 .8 .8 .8-.2 .8 2.6 .8 .9 .8-20.5 .8 2.5 .8 6.1 .8 5.5 .8 1.9 .8 1.7 .8 1.2 .8 .9" stroke="#8c564b"/>
<path d="M281.5 559l.8-.4 .8 .9 .8 2.3 .8-2 .8-.3 .8-19.8 .8-3.2 .8 6.1 .8 3.3 .8 4 .8 2.9 .8 3.1 .8-.4 .8 .9 .8 2 .8-10.5 .8-15.1 .8 8.9 .8 4.3 .8 2.9 .8 3.1 .8 2.3 .8-.2 .8 6.1 .8-.8 .8 .5 .8-.5 .8-3 .8-25.8 .8 8.5 .8 5.2 .8 3.2 .8 4.6 .8 3.5 .8 2 .8 2.5 .8 1 .8-1.7 .8-30.1 .8 7.5 .8 9.9 .8 1 .8 3.4 .8 2.1 .8 2.6 .8 3 .8 3 .8-28.4 .8 6.6 .8 6.1 .8 4 .8 3.4 .8-.2 .8 2.5 .8 .8 .8 1.1 .8 2.3 .8 2.2 .8-1.1 .8 .9 .8-.2 .8-16.7 .8-9.4 .8 9.4 .8 2.1 .8 3.9 .8 2 .8 2.4 .8 3.6 .8 .8 .8 2 .8-20.2 .8-4.4 .8 8 .8 4 .8 2.4 .8 2.7 .8 2.8 .8 .7 .8 1.8 .8 1.6 .8-13.5 .8-8.6 .8 6.6 .8 3.7 .8 3.4 .8 .8 .8 1.8 .8 2.4 .8 2.5 .8-26 .8 8.1 .8 5 .8 3.9 .8 4 .8 2.6 .8-1.4 .8 1.2 .8 1.2 .8-20.9 .8 .8 .8 7.8 .8 2 .8 5.3 .8 3.1 .8 2.5 .8 1.2" stroke="#e377c2"/>
<path d="M281.5 557l.8 1.1 .8-1.1 .8 1.9 .8 .9 .8 1 .8-21.9 .8-5.6 .8 7.6 .8 5.5 .8 1.9 .8 2.4 .8 2.5 .8 1.8 .8 1.4 .8 2.6 .8-14.1 .8-11.4 .8 5.2 .8 6.7 .8 4.7 .8 1.8 .8 1.1 .8 1.5 .8 1.7 .8 2.6 .8-.7 .8 2.2 .8-2.4 .8-29.9 .8 10.8 .8 7.1 .8 2.1 .8 1.5 .8 2.2 .8 3.7 .8 1.2 .8 .3 .8 3.3 .8-34.5 .8 13.4 .8 5.9 .8 6.7 .8 .7 .8 2.4 .8-2.4 .8 3.8 .8 1.1 .8-32.6 .8 15.4 .8 3.5 .8 6.3 .8 4.6 .8 0 .8 .8 .8-.3 .8 2.3 .8 .1 .8 .5 .8 1.5 .8 .4 .8 1.4 .8-15 .8-10.1 .8 5.5 .8 7.4 .8 .6 .8 4.8 .8 1.8 .8 2 .8-.3 .8 0 .8-20.2 .8 .6 .8 4.3 .8 5.8 .8 3.8 .8 1.3 .8 2.1 .8 1.7 .8-.8 .8 3 .8-14.3 .8-11.1 .8 9.1 .8 6.6 .8 3.5 .8 2.6 .8 2.6 .8-2.3 .8 1.2 .8-27.6 .8 4.7 .8 11.2 .8 4.5 .8 3 .8 3.7 .8 2.7 .8 .5 .8-1.2 .8-20.9 .8-2.7 .8 8.3 .8 5.8 .8 5.5 .8 1.1 .8 2.2 .8 3.4" stroke="#7f7f7f"/>
<path d="M281.5 558.4l.8 .6 .8-2.2 .8 1.6 .8-.6 .8 0 .8-19.2 .8-6.2 .8 8.6 .8 6.8 .8 1.7 .8 3.3 .8 .5 .8 2.3 .8 .5 .8 .4 .8-17.2 .8-12 .8 9.9 .8 9.6 .8 2 .8 4.4 .8 3.2 .8 .8 .8-2.1 .8-.1 .8 3 .8-1.4 .8-4 .8-27.9 .8 12 .8 8.6 .8 4.4 .8 2.6 .8 2.6 .8 2.7 .8-.5 .8 .3 .8-.1 .8-34.4 .8 9.9 .8 9.8 .8 6.2 .8 3.2 .8 4 .8-.6 .8 2.3 .8 0 .8-32.9 .8 8.3 .8 10.4 .8 4.2 .8 3.5 .8 5 .8 .6 .8 2.6 .8-.1 .8 .7 .8-.8 .8 .5 .8-.3 .8-.4 .8-15.9 .8-9.4 .8 9.4 .8 4.3 .8 4.3 .8 2.4 .8 3.1 .8-.2 .8 0 .8 1.8 .8-24.3 .8-4.1 .8 12.4 .8 4.4 .8 4.1 .8 3.2 .8 1.6 .8 2.6 .8-2.3 .8 2.2 .8-15 .8-13.4 .8 7.6 .8 8.8 .8 4.1 .8 3.7 .8 2.9 .8 3.9 .8-1.6 .8-25.8 .8 4.4 .8 5.9 .8 5 .8 .1 .8 6 .8 2.4 .8 1.6 .8 .8 .8-23.9 .8 2.9 .8 3.4 .8 6.8 .8 2.5 .8 3.3 .8 .2 .8 2.9" stroke="#bcbd22"/>
<path d="M281.5 560l.8-.1 .8 0 .8-.3 .8 .4 .8 .4 .8-24.2 .8-9.4 .8 11.3 .8 4.3 .8 3.5 .8 5.5 .8 3.5 .8 1.2 .8 1 .8 2.3 .8-17 .8-10.1 .8 3.2 .8 8.5 .8 3.7 .8 2 .8 3.4 .8 1.9 .8 2.9 .8 .6 .8 .5 .8 .1 .8-3.7 .8-29 .8 9.1 .8 7.5 .8 3.7 .8 3.6 .8 1.8 .8 3.1 .8 1.9 .8 2 .8 .2 .8-31.5 .8 7.9 .8 6.1 .8 3.6 .8 1.7 .8 3.8 .8 5.5 .8-.4 .8 2.8 .8-32.7 .8 7.9 .8 8.9 .8 5.4 .8 2.3 .8 1.4 .8 2.8 .8 .8 .8 2.3 .8 .1 .8 4.1 .8-1 .8 .4 .8-.3 .8-16.9 .8-14.3 .8 7.9 .8 6.5 .8 4 .8 6.8 .8-.8 .8 4 .8 2.4 .8 .1 .8-27.3 .8 .6 .8 6.4 .8 5 .8 5.1 .8 1.6 .8 3.7 .8 2.2 .8 1.3 .8 2.7 .8-19.5 .8-9.7 .8 10 .8 4.3 .8 2.4 .8 .8 .8 5.1 .8 1.7 .8 2.9 .8-30.5 .8 7.3 .8 3.7 .8 7.9 .8 3.1 .8 3.7 .8 1.1 .8 .8 .8 .8 .8-31 .8 6.4 .8 8 .8 7.4 .8 7.5 .8 1.1 .8 1.4 .8 1.1" stroke="#17becf"/>
<path d="M281.5 560.2l.8-1.8 .8 4.2 .8-2.8 .8-.6 .8-.6 .8-24.2 .8-5.5 .8 7.4 .8 5.6 .8 7 .8 2.2 .8 3.9 .8 1.5 .8-.5 .8 1.6 .8-20.7 .8-13.1 .8 9.5 .8 9.5 .8 5.4 .8 2.6 .8 3.2 .8 .5 .8 3.9 .8-.2 .8 .5 .8-.3 .8-4 .8-34.9 .8 11.1 .8 10.3 .8 6.9 .8 2 .8 4.8 .8 .5 .8 .8 .8 2 .8-.2 .8-36.2 .8 7.4 .8 8.7 .8 7.1 .8 6.2 .8 1.3 .8 4.9 .8 1.2 .8 2.4 .8-35.2 .8 5.9 .8 5.8 .8 6.4 .8 8 .8 1.1 .8 2.1 .8 3.4 .8-.2 .8 2.5 .8 .6 .8-.1 .8-1.6 .8 .7 .8-21.4 .8-9.9 .8 8.8 .8 4.7 .8 7.4 .8 3.1 .8 3.1 .8 1.6 .8 .4 .8 2.2 .8-29.4 .8 2.2 .8 3.1 .8 9.2 .8 5.3 .8 5.6 .8-1 .8 1.4 .8 4.5 .8-.4 .8-21.8 .8-8 .8 5.9 .8 8.7 .8 3 .8 3.2 .8 2.3 .8 3.4 .8 2.8 .8-34.8 .8 7.7 .8 8.7 .8 6.1 .8 2.5 .8 4.5 .8-.1 .8 2.5 .8 1.4 .8-31.6 .8 9 .8 7.9 .8 5.2 .8 3.6 .8 2.5 .8 2.6 .8-.3" stroke="#1f77b4"/>
<path d="M281.5 560.5l.8 0 .8-1 .8-1.7 .8 .1 .8-.6 .8-25.5 .8-3.5 .8 8.3 .8 4.7 .8 4.6 .8 6.3 .8 1.5 .8 1.7 .8 2.2 .8-1.4 .8-19 .8-15.9 .8 10.4 .8 9.1 .8 7 .8 3.3 .8 4.2 .8-.3 .8 2.8 .8-.9 .8-1.5 .8 2.8 .8-5.8 .8-34.4 .8 15.6 .8 9.2 .8 3.3 .8 5 .8 2.2 .8 4.2 .8-1.1 .8 .4 .8 .3 .8-40.7 .8 11.1 .8 10.1 .8 8.1 .8 5.5 .8 2.4 .8 2.7 .8 2 .8 .2 .8-35.7 .8 4.4 .8 9.6 .8 7.3 .8 4.2 .8 5.9 .8 3.5 .8-.6 .8 1.3 .8 1.6 .8 1 .8-1.7 .8 .9 .8-1.4 .8-19.1 .8-9.4 .8 8.7 .8 4.7 .8 5.4 .8 4.3 .8 3.4 .8 1.1 .8 .5 .8 .7 .8-31.9 .8-1.4 .8 13.1 .8 5.4 .8 4.9 .8 4.8 .8 1.4 .8 1.5 .8 2.5 .8-1.3 .8-16.9 .8-14.2 .8 8 .8 7 .8 7.3 .8 3.7 .8 3.3 .8 1.5 .8 1.5 .8-33.9 .8 5 .8 9.7 .8 3.2 .8 6.3 .8 2.9 .8 3.2 .8 2.3 .8 1.9 .8-29.8 .8 .7 .8 11.2 .8 4.7 .8 4.4 .8 3 .8 1.8 .8 1.7" stroke="#ff7f0e"/>
<path d="M281.5 559.4l.8 .7 .8-.1 .8 .2 .8 .6 .8-.6 .8-26.2 .8-7.6 .8 3 .8 9.8 .8 5.1 .8 4.7 .8 5.6 .8 1.1 .8 1.9 .8 .6 .8-21 .8-11.6 .8 5.5 .8 7.8 .8 4.1 .8 6.5 .8 3.1 .8 .6 .8 3.3 .8 1.1 .8-.5 .8 2.6 .8-4.9 .8-32.7 .8 5.3 .8 8.7 .8 8.7 .8 2.1 .8 6.1 .8 3.8 .8 .1 .8 1.2 .8 .2 .8-40.8 .8 13.6 .8 8.3 .8 3.6 .8 4.4 .8 4 .8 4.6 .8 1.9 .8 .3 .8-36.5 .8 5.2 .8 12 .8 4.6 .8 6.9 .8 1.7 .8 1 .8 1.6 .8 3.3 .8 .6 .8 3 .8-.4 .8-.6 .8 .4 .8-21.7 .8-12.9 .8 8.7 .8 8.6 .8 1.9 .8 4.3 .8 6.3 .8 1.3 .8 .8 .8-.1 .8-26.3 .8-3 .8 10.2 .8 4.9 .8 3.4 .8 4.8 .8 3.3 .8 1.7 .8 2 .8-1.1 .8-16.3 .8-20.2 .8 12.1 .8 8.2 .8 5.6 .8 3.5 .8 4.7 .8-.7 .8 3.3 .8-33.3 .8 4.4 .8 9.9 .8 7.8 .8 3.5 .8 3.6 .8 2.7 .8-1.9 .8 2.7 .8-33.1 .8 9.2 .8 7 .8 7.1 .8 1.8 .8 6.2 .8 4.7 .8-1.5" stroke="#2ca02c"/>
<path d="M281.5 558.9l.8 .4 .8-2 .8 .7 .8 .2 .8 1.4 .8-29.3 .8-3.5 .8 6.9 .8 9.4 .8 2.6 .8 5.1 .8-1.8 .8 3.8 .8 2.1 .8 2.3 .8-22.4 .8-14 .8 13.6 .8 5.1 .8 9.1 .8-1 .8 5.3 .8 2.8 .8-1.4 .8 3.6 .8-1.2 .8 2.5 .8-5.3 .8-35.5 .8 9.7 .8 12.2 .8 3.2 .8 3.5 .8 4.8 .8 .6 .8 3.7 .8 .3 .8 .9 .8-37.4 .8 12.3 .8 5 .8 9.2 .8 2.1 .8 5.8 .8 1.1 .8-2 .8 2.1 .8-38.3 .8 9.7 .8 12.5 .8 5.3 .8 6.8 .8 1.8 .8 2 .8 1.4 .8 .3 .8 .2 .8 .8 .8-1.5 .8 2.8 .8 1.6 .8-22.8 .8-13.6 .8 9.1 .8 7.3 .8 5.4 .8 6.1 .8 1.7 .8-.4 .8 2.1 .8 .9 .8-26.4 .8-6.2 .8 12.8 .8 9.7 .8 1.4 .8 3.3 .8 3.4 .8 1.7 .8 .7 .8 1.4 .8-22.9 .8-16 .8 11.9 .8 10.9 .8 6.2 .8 5.2 .8 1.8 .8 .4 .8-.3 .8-33.1 .8 5.3 .8 8.9 .8 6.4 .8 7.9 .8 3.3 .8 4.2 .8 .4 .8 1.2 .8-39.8 .8 10.6 .8 5.5 .8 5.7 .8 6 .8 4.9 .8 3.7 .8 2" stroke="#d62728"/>
<path d="M281.5 557.8l.8-.3 .8-.9 .8 1.2 .8-.8 .8 1.1 .8-29.2 .8-13.1 .8 16.9 .8 6.2 .8 7.8 .8 1.4 .8 5.6 .8-1.7 .8 2.8 .8 .6 .8-20.2 .8-16.4 .8 9.7 .8 9.3 .8 7.3 .8 4.9 .8 1.2 .8 2.3 .8 .6 .8 1 .8 2.8 .8-.6 .8-4.2 .8-38 .8 9.2 .8 13.3 .8 5.6 .8 2.9 .8 4.9 .8 2.3 .8 .2 .8 3.5 .8 .3 .8-46.1 .8 12.1 .8 14.2 .8 6.4 .8 2.3 .8 4.6 .8 3.7 .8 .1 .8 1.5 .8-47.8 .8 18.9 .8 5.8 .8 11.2 .8 3 .8 5.5 .8 3.8 .8-.4 .8 1.1 .8-1.4 .8 .5 .8 1 .8 1 .8 2.1 .8-23 .8-18.6 .8 14.7 .8 7.1 .8 6.7 .8 3.1 .8 1.4 .8 1.8 .8 2.9 .8 1.4 .8-36.5 .8-2.6 .8 17.1 .8 7.2 .8 7.5 .8 2 .8 1.4 .8 2.7 .8 .5 .8 .4 .8-22.2 .8-14.5 .8 11.8 .8 7.2 .8 8.7 .8 1.9 .8 4.5 .8 1.6 .8 1.3 .8-47.3 .8 13.8 .8 9 .8 8.2 .8 5.4 .8 6.6 .8 3.1 .8 3 .8 0 .8-41 .8 3.1 .8 16.2 .8 2.9 .8 7.3 .8 4.4 .8 2.7 .8 2.9" stroke="#9467bd"/>
<path d="M281.5 560.8l.8-2.5 .8 1.2 .8 2.2 .8-2.7 .8-1.8 .8-33.8 .8-7.9 .8 11.4 .8 8.6 .8 8.7 .8 5.2 .8 2.9 .8 1.4 .8 .5 .8 1.7 .8-26.9 .8-15.5 .8 9.5 .8 13.8 .8 4 .8 6.4 .8 3 .8 5.2 .8 1.4 .8-1 .8 1.4 .8 1.8 .8-9.1 .8-45.2 .8 13.4 .8 15.2 .8 7.7 .8 5.7 .8 6.2 .8 1.5 .8 1.9 .8-.2 .8 .9 .8-55.2 .8 19.7 .8 6.5 .8 12.2 .8 4 .8 7.7 .8 .9 .8 4.6 .8 1.3 .8-54 .8 18.7 .8 5.7 .8 8.6 .8 10.3 .8 1.4 .8 4.3 .8 3.2 .8 1.5 .8 .9 .8 .2 .8 2 .8-1.2 .8-1.1 .8-25.8 .8-15.4 .8 6.3 .8 13.6 .8 8.7 .8 4.7 .8 2.8 .8 .9 .8 3.1 .8-.7 .8-41.1 .8 1 .8 12.2 .8 9.5 .8 6.3 .8 6.6 .8 2.4 .8 2.9 .8 2.6 .8-.4 .8-28.7 .8-16.1 .8 9.9 .8 10.6 .8 9.6 .8 3.4 .8 5.2 .8 4 .8 1.6 .8-41.1 .8 6.5 .8 4 .8 13.2 .8 4.6 .8 4.3 .8 1.6 .8 5.4 .8 .6 .8-42.8 .8 7.2 .8 9.4 .8 11.9 .8 5.1 .8 1.4 .8 4.5 .8-.1" stroke="#8c564b"/>
<path d="M281.5 559.2l.8 1.5 .8-.8 .8 .7 .8-1.2 .8-.9 .8-32.4 .8-17.1 .8 14.9 .8 8.5 .8 10 .8 5 .8 3.7 .8 2.8 .8 2.4 .8 .5 .8-25.5 .8-25.6 .8 18.9 .8 6.9 .8 8.9 .8 5.2 .8 5.2 .8 2.7 .8 2.4 .8 1.2 .8 .6 .8 1.3 .8-9.1 .8-47.4 .8 20.9 .8 6.8 .8 10.4 .8 4.7 .8 4.4 .8 4.5 .8 1.8 .8 1.9 .8-.3 .8-57.6 .8 21.7 .8 10.8 .8 5.8 .8 7.1 .8 3.7 .8 3.5 .8 3.8 .8 2.8 .8-55.1 .8 11.8 .8 11.7 .8 8.9 .8 8.8 .8 .9 .8 4.9 .8 2.8 .8 3.6 .8 2.1 .8 .2 .8 .9 .8-.1 .8-.8 .8-29.1 .8-17.6 .8 9.7 .8 14.5 .8 5 .8 6.6 .8 3.7 .8 5.7 .8-1.6 .8 1.5 .8-42.1 .8 2.7 .8 6.7 .8 13.2 .8 4.5 .8 5.1 .8 4.5 .8 3.8 .8 1.7 .8 .8 .8-25.1 .8-19.7 .8 7.6 .8 16.3 .8 4.6 .8 2.9 .8 5.2 .8 5.1 .8-1.1 .8-52 .8 16.9 .8 8.9 .8 11.2 .8 3.6 .8 3.4 .8 7.2 .8 1.8 .8 .8 .8-53.6 .8 14.5 .8 17.2 .8 7.4 .8 7 .8 1.6 .8 3.8 .8 .9" stroke="#e377c2"/>
<path d="M281.5 560.3l.8-.6 .8 .9 .8-2.1 .8 1 .8-.9 .8-39.3 .8-13 .8 12.5 .8 13.8 .8 11.3 .8 3.5 .8 3 .8 2.4 .8 3.3 .8-1.2 .8-31.7 .8-21.9 .8 21.3 .8 6.9 .8 11.7 .8 5.3 .8 1.1 .8 4.4 .8 3.5 .8 1 .8 2.2 .8-.2 .8-8.6 .8-52.5 .8 17.8 .8 15.1 .8 5.9 .8 8.4 .8 3.3 .8 3 .8 4.4 .8-.4 .8 4.1 .8-58.8 .8 17.1 .8 11.9 .8 4.7 .8 9.4 .8 4.7 .8 2.7 .8 5.7 .8 1 .8-57.8 .8 17.4 .8 7.1 .8 9.2 .8 6.8 .8 5.1 .8 6.1 .8 3.6 .8 .8 .8 2.8 .8 1.8 .8 1.3 .8-1.2 .8 2.4 .8-35.9 .8-26.2 .8 20.6 .8 10.2 .8 8.7 .8 5.1 .8 6.9 .8 3.3 .8 1.9 .8 1.2 .8-44.3 .8-3.1 .8 13.2 .8 6.3 .8 12.2 .8 5.2 .8 4 .8 2.9 .8 4.5 .8 0 .8-32.9 .8-19.1 .8 15.2 .8 12.4 .8 5.8 .8 5.1 .8 4.1 .8 3.9 .8 3.9 .8-51.3 .8 3.7 .8 17.4 .8 7.3 .8 7.6 .8 5 .8 3.4 .8 4.4 .8 1 .8-51.6 .8 14.8 .8 9.4 .8 6.6 .8 11.7 .8 3.1 .8 2.7 .8 2.5" stroke="#7f7f7f"/>
<path d="M281.5 557.7l.8 .3 .8 .4 .8 2.9 .8-.1 .8-1.4 .8-13.8 .8-6.4 .8 5.4 .8 4.2 .8 .1 .8 3.4 .8 2.6 .8 1.4 .8 2.5 .8 1.2 .8-10.2 .8-8.6 .8 7.5 .8-.9 .8 .6 .8 3.2 .8 3.1 .8 1.7 .8 1.7 .8 1.6 .8-.7 .8 1.1 .8-2.7 .8-18.5 .8 4.3 .8 4.4 .8 2.6 .8 .7 .8 4.2 .8 .8 .8 2.6 .8 1.6 .8 1.9 .8-23.1 .8 6.9 .8 3.7 .8 2.1 .8 2.4 .8 .2 .8 2.7 .8-.8 .8 2 .8-20.3 .8 7.7 .8 5.7 .8-1 .8 3.6 .8-.9 .8 3.6 .8 1 .8 1.5 .8-1.1 .8 3.1 .8-1.3 .8 2.9 .8 .1 .8-10.1 .8-9.3 .8 3.1 .8 4.6 .8 1.3 .8 2.8 .8 2.4 .8 2.2 .8 .8 .8 .6 .8-17.4 .8 3 .8 1.9 .8 3.5 .8 .7 .8 2.7 .8 .4 .8 1.8 .8 2 .8 .4 .8-8.4 .8-7.5 .8 3.5 .8 4.3 .8 2.9 .8 1.3 .8 .3 .8 1.7 .8 1.7 .8-18.1 .8 3.3 .8 3.8 .8 5 .8 3.6 .8-.1 .8 1.4 .8-.6 .8-.7 .8-15.6 .8 .1 .8 6.9 .8 5.1 .8 3.3 .8 2.2 .8 1.3 .8 0" stroke="#bcbd22"/>
<path d="M281.5 557.9l.8 .1 .8 2.6 .8-.6 .8 1 .8-1.5 .8-16.2 .8-4.4 .8 4 .8 2.5 .8 5 .8 4.1 .8-.7 .8 .6 .8 3.2 .8 1.2 .8-12 .8-12.2 .8 9 .8 1.9 .8 5.1 .8 1.2 .8 4 .8-1.3 .8 3.5 .8 .8 .8 .7 .8 .5 .8-4.3 .8-21.3 .8 5.3 .8 5.9 .8 3.7 .8 2.5 .8 3.8 .8 1.1 .8 .5 .8 4.6 .8-2.7 .8-24.9 .8 6.3 .8 6.1 .8 2.3 .8 2.6 .8 2.6 .8 1.6 .8 1.4 .8 2.7 .8-23.5 .8 4.4 .8 4.5 .8 5.1 .8 2.3 .8 .4 .8 2.7 .8 .2 .8 .6 .8 3.3 .8 .8 .8-1.3 .8 2.6 .8 0 .8-13.1 .8-9 .8 3.7 .8 2.3 .8 7 .8 1 .8 3.5 .8 2 .8 2.1 .8-1.7 .8-18.2 .8 2 .8 4.3 .8 2.1 .8 .5 .8 4.7 .8 1 .8 3.4 .8-.1 .8 2.5 .8-10.6 .8-8.8 .8 3.3 .8 4.6 .8-.8 .8 4.8 .8 2.1 .8 1.6 .8 2.1 .8-21 .8 1.2 .8 9.3 .8 2.7 .8 1.1 .8 2.8 .8 .6 .8 1.5 .8 .4 .8-21.6 .8 4.5 .8 5.6 .8 4.4 .8 4.4 .8 2.1 .8 .3 .8 1.6" stroke="#17becf"/>
<path d="M281.5 558.9l.8 .4 .8-2.3 .8 4 .8-.7 .8-.5 .8-23.4 .8-1.6 .8 6.4 .8 3.3 .8 3.3 .8 5.9 .8 .1 .8 2.9 .8 2.4 .8-.8 .8-13.7 .8-9.7 .8 4.7 .8 5.6 .8 2.4 .8 4 .8 3.1 .8 .8 .8 2.9 .8 .4 .8 .8 .8-.9 .8-3.3 .8-29.3 .8 11.2 .8 7.3 .8 3.6 .8 5 .8 1.9 .8 1.1 .8 1.7 .8-.3 .8 2.8 .8-33.9 .8 8.5 .8 8.3 .8 2.7 .8 6.7 .8 1.3 .8 3.1 .8 1.5 .8 2.6 .8-33.4 .8 12.9 .8 3.5 .8 5.3 .8 .9 .8 4.3 .8 0 .8 3 .8 .7 .8 2.7 .8-.7 .8 1.6 .8-.5 .8-.1 .8-17.9 .8-9.5 .8 5.9 .8 5.9 .8 4.2 .8 4.7 .8 .7 .8 2.5 .8 1.4 .8 1 .8-25.1 .8 3.2 .8 4.8 .8 4.4 .8 3.3 .8 2.6 .8 3 .8 3 .8 1 .8 2.2 .8-16.6 .8-7.7 .8 4.2 .8 1.9 .8 6.8 .8 2.7 .8 2.1 .8 3.3 .8 .4 .8-25.6 .8 4.1 .8 5.2 .8 6.9 .8 2.7 .8 3.6 .8-1.4 .8 2.2 .8 2.6 .8-26.8 .8 6.6 .8 6.9 .8 3 .8 4.6 .8 1.9 .8 3.7 .8-.2" stroke="#1f77b4"/>
<path d="M281.5 558.3l.8 1.4 .8-.8 .8 .5 .8 1.1 .8 1.8 .8-23.7 .8-4.7 .8 2.8 .8 7.9 .8 2.1 .8 3.7 .8 2.3 .8 2.6 .8 .3 .8 3.8 .8-18.6 .8-8 .8 5 .8 6.9 .8 2.8 .8 4.2 .8 .7 .8 2.9 .8 0 .8 1.3 .8 1.9 .8-.1 .8-2.1 .8-33.3 .8 14.5 .8 2.7 .8 6.8 .8 3.5 .8 2.1 .8 .7 .8 3.2 .8 1.8 .8 2.2 .8-33.6 .8 9.6 .8 5.8 .8 3 .8 6.4 .8-.1 .8 2.6 .8 1.7 .8 1.1 .8-32 .8 10.4 .8 7.2 .8 4.5 .8 4.9 .8 2.3 .8 1.4 .8-.6 .8 .6 .8 2.7 .8 .2 .8 2.2 .8-.4 .8 .9 .8-20.4 .8-8.5 .8 6 .8 9.2 .8 2.7 .8 1.7 .8 3.5 .8-.4 .8 3.6 .8 .8 .8-25.2 .8-.4 .8 9 .8 4.9 .8 3.7 .8 2.6 .8-.3 .8 2.9 .8 1.6 .8 1.5 .8-16.3 .8-10 .8 8.6 .8 3.6 .8 7.7 .8 .9 .8 2 .8-.1 .8-.8 .8-30.2 .8 5.2 .8 12.2 .8 6 .8 3.5 .8 2.6 .8 4.6 .8-.4 .8 .1 .8-30.1 .8 1.4 .8 9.8 .8 5.7 .8 5 .8 4.4 .8 3.1 .8 .4" stroke="#ff7f0e"/>
<path d="M281.5 561.2l.8-.5 .8-1.1 .8-.8 .8-.5 .8-2.1 .8-44 .8-9.3 .8 11.9 .8 12.6 .8 10.9 .8 6.7 .8 3.1 .8 3.3 .8 4.8 .8 0 .8-37.7 .8-21.5 .8 15.7 .8 13.1 .8 14.3 .8 6 .8 2.3 .8 3.4 .8 3.9 .8 .2 .8 2.1 .8-1.1 .8-7.2 .8-53.8 .8 12.6 .8 19.7 .8 5.2 .8 12 .8 3.1 .8 1.2 .8 2.5 .8 4.3 .8-1.3 .8-68.2 .8 20.4 .8 16.5 .8 8.3 .8 8.2 .8 6.9 .8 4.2 .8 4.3 .8-1.1 .8-77.4 .8 33.3 .8 12.5 .8 8.8 .8 7.5 .8 7.9 .8 4.1 .8 5.1 .8 .6 .8 1.8 .8-1.8 .8 1.8 .8 .6 .8-.5 .8-36.5 .8-23.6 .8 18.3 .8 9.9 .8 13.2 .8 6.4 .8 4.6 .8 3.9 .8-.2 .8 .6 .8-45.9 .8-3.9 .8 11.8 .8 16 .8 8.7 .8 6.9 .8 2 .8 3.5 .8 3 .8 1.3 .8-36.6 .8-22.8 .8 14.6 .8 17.6 .8 7.7 .8 6.2 .8 6 .8 2.1 .8 4.2 .8-64.6 .8 13.3 .8 15 .8 9.3 .8 10.7 .8 4.4 .8 3.4 .8 6.7 .8 1.6 .8-56.7 .8 12.6 .8 8.4 .8 12.1 .8 8.8 .8 4.5 .8 4.4 .8 3.3" stroke="#2ca02c"/>
<path d="M281.5 556.4l.8 1.2 .8-.8 .8 3.2 .8 1.8 .8-.6 .8-15.6 .8-1 .8 3 .8 2.2 .8 3.5 .8 .1 .8 1.7 .8 1 .8 1.3 .8 .4 .8-7.3 .8-5.7 .8 3.8 .8 2.5 .8 2 .8 .9 .8 .6 .8 .5 .8 2.9 .8 2.1 .8-.6 .8 .7 .8-3 .8-15.5 .8 3.4 .8 5 .8 2.2 .8 1.1 .8 2.5 .8 .7 .8 .4 .8 4.3 .8-.3 .8-17.6 .8 2.9 .8 1.1 .8 5.5 .8 1.3 .8 1.4 .8 .2 .8 1.7 .8 .8 .8-16.6 .8 4.5 .8 8.2 .8-1 .8 2.3 .8 .8 .8 1 .8-.5 .8 2 .8-1.9 .8 3.8 .8-.1 .8 1.5 .8-1.2 .8-9.6 .8-5.2 .8 1.3 .8 2.8 .8 4 .8 .8 .8 2.4 .8 2.6 .8-.4 .8 .1 .8-14.5 .8 1.5 .8 2.8 .8 2.5 .8 2.4 .8 3.2 .8-.1 .8-.4 .8 2.9 .8 .1 .8-9.3 .8-4.9 .8 4.9 .8 3.4 .8 1.1 .8 1.5 .8 .8 .8-.4 .8 1.5 .8-15.4 .8 3.6 .8 5.7 .8 3.6 .8 .1 .8 2.1 .8 1.1 .8-.1 .8-.9 .8-17.2 .8 5.4 .8 4.7 .8 2.4 .8 3 .8 2.2 .8 .8 .8 1.8" stroke="#d62728"/>
<path d="M281.5 557.8l.8 .2 .8 .4 .8-1.8 .8 2 .8 .2 .8-15.7 .8-6.6 .8 8.4 .8 5.8 .8 .6 .8 4.2 .8-.8 .8 1.5 .8 .4 .8 .9 .8-13.6 .8-8.9 .8 7.6 .8 6.3 .8 4.1 .8 2.8 .8-.1 .8 .3 .8 .5 .8 .8 .8-.5 .8 1.4 .8-2.7 .8-24.6 .8 9.8 .8 7.7 .8 2.3 .8 2.6 .8 .2 .8 1.6 .8 1.4 .8-.8 .8 2 .8-25.6 .8 7.1 .8 7.1 .8 2.4 .8 4.5 .8 .5 .8 2.9 .8 .6 .8 0 .8-29.8 .8 8.8 .8 8.2 .8 7.2 .8 2.6 .8 2.9 .8 .6 .8 1.7 .8-.8 .8-.2 .8 1.5 .8-.3 .8 .5 .8-1 .8-13.7 .8-9.3 .8 9 .8 6.1 .8 2.5 .8 0 .8 2 .8 .8 .8 .6 .8 2.1 .8-19.8 .8 1 .8 2 .8 7.5 .8 5.4 .8 2.3 .8 .2 .8-.4 .8 1.5 .8 .7 .8-15.4 .8-8.1 .8 4.6 .8 10.3 .8 2.8 .8 1.7 .8 2.7 .8-.3 .8 1.7 .8-23 .8 2.1 .8 5.6 .8 5.6 .8 3.5 .8 3.3 .8 1.3 .8 3.3 .8 .9 .8-23.1 .8-.9 .8 7 .8 6.6 .8 .1 .8 4.7 .8 .9 .8 3.7" stroke="#9467bd"/>
<path d="M281.5 559.6l.8 2 .8-1.6 .8-.5 .8 .8 .8-1.4 .8-17.5 .8-2.7 .8 2.9 .8 5.2 .8 4.3 .8 2.9 .8 1.5 .8 2 .8 2.6 .8 1.6 .8-13.8 .8-13.8 .8 8 .8 4.4 .8 4.4 .8 2.9 .8 2.5 .8 2.6 .8-.5 .8 0 .8-.7 .8 .4 .8-2 .8-21.8 .8 8 .8 4.6 .8 3.7 .8 3.1 .8 3.4 .8 1.4 .8 .2 .8-.3 .8 2.4 .8-25.6 .8 7.1 .8 3 .8 4.4 .8 2.9 .8 3.7 .8 1.6 .8 1.1 .8 1.1 .8-26.5 .8 8.8 .8 4.2 .8 4 .8 2.1 .8 .9 .8 2.3 .8 3.6 .8 .4 .8-.3 .8 1.7 .8-.8 .8 1.7 .8-1.2 .8-11.5 .8-11.1 .8 6.3 .8 5.3 .8 2.6 .8 4.7 .8 2 .8 .3 .8 .8 .8-1.5 .8-15.2 .8-4.1 .8 5.8 .8 3.1 .8 6.2 .8 2.2 .8 1.2 .8 1.4 .8 1.1 .8 1.3 .8-13.3 .8-9.1 .8 6.5 .8 4.6 .8 1.8 .8 5.5 .8-.1 .8 .3 .8 3.1 .8-19.4 .8 1.9 .8 4.9 .8 4.8 .8 3 .8-1.1 .8 2.7 .8 1 .8 1.9 .8-23.1 .8 5.3 .8 9 .8 2.5 .8 .3 .8 2.8 .8 2.8 .8 .1" stroke="#8c564b"/>
<path d="M281.5 556l.8 2.9 .8 .7 .8 2.6 .8-1.6 .8 .7 .8-33.3 .8-5.9 .8 11.8 .8 7.2 .8 3.6 .8 3.9 .8 2.1 .8 3.5 .8 3 .8 .6 .8-17.1 .8-20.4 .8 11.4 .8 7.9 .8 3.3 .8 6.3 .8 2.2 .8 4.4 .8-.6 .8 2.1 .8 2.8 .8-.4 .8-3.8 .8-38.7 .8 13 .8 7.4 .8 5.7 .8 3.6 .8 5.4 .8 4.4 .8 .6 .8 1.8 .8-1.4 .8-38.7 .8 8.1 .8 6.9 .8 8.8 .8 4.4 .8 3.8 .8 1.4 .8 3.1 .8 3 .8-45.4 .8 15.1 .8 10.1 .8 6.9 .8 3.4 .8 3.8 .8-.3 .8 2.1 .8 2.3 .8-.9 .8 4.7 .8-.2 .8 2.4 .8-1.1 .8-26.5 .8-8.8 .8 4 .8 9.9 .8 4.1 .8 8.4 .8 1.5 .8 2.3 .8 2.3 .8 0 .8-30.3 .8 1.9 .8 9.5 .8 5.1 .8 3.1 .8 1.9 .8 2.5 .8 4.1 .8 1.7 .8 2.1 .8-20.1 .8-13.9 .8 7.4 .8 6.7 .8 7.8 .8 2.8 .8 2.5 .8 3.3 .8-1 .8-31.2 .8 0 .8 12 .8 11.8 .8 2.7 .8 1.8 .8 3 .8 .3 .8 1.1 .8-40.3 .8 9.8 .8 12.9 .8 6 .8 6.2 .8 1.8 .8 4 .8 2.4" stroke="#e377c2"/>
<path d="M281.5 558.3l.8-.2 .8 .1 .8-.2 .8 1.4 .8 .6 .8-33.5 .8-8.1 .8 10 .8 8.2 .8 7.6 .8 2.5 .8 3.4 .8 2.5 .8 2.7 .8 1.3 .8-23.9 .8-20.3 .8 13.9 .8 8.7 .8 10.1 .8 3.2 .8 1.1 .8 3.2 .8 .8 .8 2.3 .8 4.2 .8-3.5 .8-2.9 .8-45.3 .8 15.2 .8 10.7 .8 8.8 .8 1.5 .8 4.5 .8 2.6 .8 3 .8 .7 .8 1.4 .8-55.5 .8 17.1 .8 16.6 .8 6.9 .8 4 .8 4.1 .8 2.9 .8 1.6 .8 2.2 .8-54.7 .8 19.3 .8 12.4 .8 5.7 .8 7 .8 4.4 .8 4.6 .8-1.2 .8 1.1 .8 2.4 .8 0 .8 1.6 .8 .8 .8-.1 .8-26.8 .8-19.5 .8 16.2 .8 8.5 .8 7.2 .8 2.8 .8 1.7 .8 4 .8 2.5 .8 2.4 .8-38 .8 1 .8 10.1 .8 10.6 .8 4.4 .8 2.2 .8 2.4 .8 4.1 .8-.9 .8 3.5 .8-23.1 .8-20.5 .8 14.3 .8 12.3 .8 2.9 .8 6.8 .8 2.5 .8-.6 .8 2.6 .8-40.8 .8 4 .8 11.5 .8 10.9 .8 7.1 .8 1.7 .8 6 .8 .9 .8 1.5 .8-42.5 .8 7.4 .8 8.1 .8 8.1 .8 6.5 .8 7.6 .8 1.9 .8 3.7" stroke="#7f7f7f"/>
</g>
<path d="M286 548.24 L286.9 464.26 L289.1 541.61" fill="none" stroke="#f08070" stroke-width="0.6" opacity="0.75"/>
<path d="M304.1 548.24 L305 464.26 L307.2 541.61" fill="none" stroke="#f08070" stroke-width="0.6" opacity="0.75"/>
<path d="M311.7 548.24 L312.6 477.52 L314.8 541.61" fill="none" stroke="#f08070" stroke-width="0.6" opacity="0.75"/>
<path d="M319 548.24 L319.9 470.89 L322.1 541.61" fill="none" stroke="#f08070" stroke-width="0.6" opacity="0.75"/>
<path d="M330.3 548.24 L331.2 464.26 L333.4 541.61" fill="none" stroke="#f08070" stroke-width="0.6" opacity="0.75"/>
<path d="M353.5 548.24 L354.4 470.89 L356.6 541.61" fill="none" stroke="#f08070" stroke-width="0.6" opacity="0.75"/>
<path d="M360.4 548.24 L361.3 473.1 L363.5 541.61" fill="none" stroke="#f08070" stroke-width="0.6" opacity="0.75"/>
<path d="M293.8 548.24 L294.7 497.41 L296.9 541.61" fill="none" stroke="#e07060" stroke-width="0.6" opacity="0.75"/>
<path d="M330.3 548.24 L331.2 479.73 L333.4 541.61" fill="none" stroke="#5a8ac8" stroke-width="0.6" opacity="0.75"/>
<path d="M338.4 548.24 L339.3 481.94 L341.5 541.61" fill="none" stroke="#5a8ac8" stroke-width="0.6" opacity="0.75"/>
<path d="M286 548.24 L286.9 499.62 L289.1 541.61" fill="none" stroke="#5a8ac8" stroke-width="0.6" opacity="0.75"/>
<path d="M304.1 548.24 L305 490.78 L307.2 541.61" fill="none" stroke="#5a8ac8" stroke-width="0.6" opacity="0.75"/>
<path d="M319 548.24 L319.9 486.36 L322.1 541.61" fill="none" stroke="#5a8ac8" stroke-width="0.6" opacity="0.75"/>
<path d="M346.1 548.24 L347 497.41 L349.2 541.61" fill="none" stroke="#c06050" stroke-width="0.6" opacity="0.75"/>
<path d="M338.4 548.24 L339.3 499.62 L341.5 541.61" fill="none" stroke="#e07060" stroke-width="0.6" opacity="0.75"/>
<path d="M300 534.98 Q302 495.2 306 497.41 Q308 504.04 312 508.46 L315 521.72" stroke="#9cc8f0" stroke-width="0.5" fill="none"/>
<path d="M281.5 542.1l.5 2.4 .5 2 .5 1.6 .5 1.4 .5 1.1 .5 .9 .5 .8 .5 .6 .5-4.1 .5-11.2 .5 1 .5 3.3 .5 2.7 .5 2.2 .5 1.8 .5 1.4 .5 1.2 .5 .9 .5 .8 .5 .6 .5 .5 .5 .4 .5 .3 .5 .3 .5-2.1 .5-11.4 .5-2.2 .5 3.3 .5 2.7 .5 2.2 .5 1.7 .5 1.4 .5 1.2 .5 .9 .5 .7 .5 .6 .5 .5 .5 .4 .5 .4 .5 .3 .5 .2 .5 .2 .5 .1 .5 .2 .5-4.6 .5-11.5 .5 .7 .5 3.2 .5 2.5 .5 2 .5 1.7 .5 1.3 .5 1.1 .5 .8 .5 .7 .5 .6 .5 .5 .5 .4 .5 .3 .5 .2 .5-2.1 .5-11.4 .5-2.2 .5 3.3 .5 2.7 .5 2.1 .5 1.8 .5 1.4 .5 1.1 .5 .9 .5 .8 .5 .6 .5 .5 .5 .4 .5 .3 .5-9 .5-8.3 .5 3.7 .5 2.9 .5 2.4 .5 1.9 .5 1.6 .5 1.2 .5 1.1 .5 .8 .5 .6 .5 .6 .5 .4 .5 .4 .5 .3 .5 .2 .5 .2 .5 .2 .5 .2 .5 .1 .5 .1 .5 .1 .5 .1 .5-6.9 .5-11.6 .5 3.7 .5 3 .5 2.4 .5 1.9 .5 1.6 .5 1.2 .5 1 .5 .9 .5 .6 .5 .6 .5 .4 .5 .4 .5 .3 .5 .2 .5-11.3 .5-5.3 .5 3.5 .5 2.8 .5 2.2 .5 1.9 .5 1.4 .5 1.2 .5 1 .5 .8 .5 .6 .5 .5 .5 .4 .5 .4 .5 .3 .5 .2 .5-6.8 .5-11.4 .5 3.8 .5 3 .5 2.4 .5 2 .5 1.6 .5 1.3 .5 1 .5 .9 .5 .7 .5 .5 .5 .5 .5 .4 .5-9 .5-8.3 .5 3.7 .5 3 .5 2.4 .5 1.9 .5 1.6 .5 1.2 .5 1.1 .5 .8 .5 .7 .5 .5 .5 .5 .5 .3 .5-4.3 .5-11.4 .5 .9 .5 3.2 .5 2.6 .5 2.1 .5 1.7 .5 1.3 .5 1.2 .5 .8 .5 .8 .5 .6 .5 .4" stroke="#111" stroke-width="1.2" fill="none"/>
<rect x="281.5" y="464.8" width="85.8" height="105.5" fill="none" stroke="#6a6a6a" stroke-width="0.8"/>
<line x1="281.5" y1="464.8" x2="281.5" y2="466.6" stroke="#888" stroke-width="0.6"/>
<text x="281.5" y="579.7" text-anchor="middle">0</text>
<line x1="310.1" y1="464.8" x2="310.1" y2="466.6" stroke="#888" stroke-width="0.6"/>
<text x="310.1" y="579.7" text-anchor="middle">20</text>
<line x1="338.7" y1="464.8" x2="338.7" y2="466.6" stroke="#888" stroke-width="0.6"/>
<text x="338.7" y="579.7" text-anchor="middle">40</text>
<line x1="367.3" y1="464.8" x2="367.3" y2="466.6" stroke="#888" stroke-width="0.6"/>
<text x="367.3" y="579.7" text-anchor="middle">60</text>
<text x="324.4" y="593" text-anchor="middle">Time (s)</text>
<text x="322.3" y="459.4" text-anchor="middle">d70</text>
<!-- panel_l -->
<text x="0" y="628.3" font-size="16.5" fill="#000" font-weight="bold" stroke="#000" stroke-width="0.7">l</text>
<line x1="54.4" y1="670" x2="54.4" y2="750.3" stroke="#1a1a1a" stroke-width="1"/>
<line x1="54.4" y1="645.4" x2="54.4" y2="663.5" stroke="#1a1a1a" stroke-width="1"/>
<line x1="50.4" y1="663.5" x2="58.4" y2="663.5" stroke="#1a1a1a" stroke-width="1"/>
<line x1="50.4" y1="670" x2="58.4" y2="670" stroke="#1a1a1a" stroke-width="1"/>
<line x1="53.9" y1="749.8" x2="123" y2="749.8" stroke="#1a1a1a" stroke-width="1.1"/>
<line x1="51.4" y1="749.8" x2="54.4" y2="749.8" stroke="#1a1a1a" stroke-width="1"/>
<text x="49.4" y="753.4" text-anchor="end">0</text>
<line x1="51.4" y1="729.85" x2="54.4" y2="729.85" stroke="#1a1a1a" stroke-width="1"/>
<text x="49.4" y="733.45" text-anchor="end">0.2</text>
<line x1="51.4" y1="709.9" x2="54.4" y2="709.9" stroke="#1a1a1a" stroke-width="1"/>
<text x="49.4" y="713.5" text-anchor="end">0.4</text>
<line x1="51.4" y1="689.95" x2="54.4" y2="689.95" stroke="#1a1a1a" stroke-width="1"/>
<text x="49.4" y="693.55" text-anchor="end">0.6</text>
<line x1="51.4" y1="670" x2="54.4" y2="670" stroke="#1a1a1a" stroke-width="1"/>
<text x="49.4" y="673.6" text-anchor="end">0.8</text>
<line x1="51.4" y1="660.5" x2="54.4" y2="660.5" stroke="#1a1a1a" stroke-width="1"/>
<text x="49.4" y="664.1" text-anchor="end">1</text>
<line x1="51.4" y1="649.8" x2="54.4" y2="649.8" stroke="#1a1a1a" stroke-width="1"/>
<text x="49.4" y="653.4" text-anchor="end">2</text>
<line x1="65.5" y1="749.8" x2="65.5" y2="752.8" stroke="#1a1a1a" stroke-width="1"/>
<line x1="81.6" y1="749.8" x2="81.6" y2="752.8" stroke="#1a1a1a" stroke-width="1"/>
<line x1="97.8" y1="749.8" x2="97.8" y2="752.8" stroke="#1a1a1a" stroke-width="1"/>
<line x1="113.9" y1="749.8" x2="113.9" y2="752.8" stroke="#1a1a1a" stroke-width="1"/>
<text x="69.5" y="760" text-anchor="end" transform="rotate(-45 69.5 760)">d40</text>
<text x="85.6" y="760" text-anchor="end" transform="rotate(-45 85.6 760)">d60</text>
<text x="101.8" y="760" text-anchor="end" transform="rotate(-45 101.8 760)">d70</text>
<text x="117.9" y="760" text-anchor="end" transform="rotate(-45 117.9 760)">d80</text>
<text x="22" y="695" text-anchor="middle" transform="rotate(-90 22 695)">GCaMP6 intensity (Δ<tspan font-style="italic">F</tspan>/<tspan font-style="italic">F</tspan><tspan font-size="6.5" dy="2">0</tspan><tspan dy="-2">)</tspan></text>
<path d="M67.8 714.3h0M65.6 691.3h0M66.9 703.7h0M64.5 741.4h0M64.2 694.1h0M63.9 715.6h0M64.9 675.3h0M66.3 721.2h0M67.4 738.5h0M67.2 699.1h0M66.9 713.2h0M63.4 705.7h0M67.2 737.2h0M63 717.2h0M62 733.9h0M65.2 683h0M68.3 742.4h0M64.8 739.3h0M67.5 723.6h0M68.5 722.6h0M66.7 712h0M62.5 714h0M67.2 727.8h0M67.4 731.3h0M63.5 712.1h0M61.9 734.5h0M60.6 724.7h0M67.1 710.5h0M67.7 743.5h0M60.2 723.9h0M64.5 727.5h0M67 696.4h0M68.3 737.7h0M67.8 711.5h0M61.9 721.1h0M63.9 721.7h0M60.6 728.5h0M64.5 735.6h0M66.2 676.4h0M64.6 684.7h0M67.6 690.5h0M64 704h0M65.4 737.7h0M65.8 705.9h0M65.7 713.7h0M67.6 732.8h0M65.5 696.9h0M68.8 721.6h0M66.2 712.2h0M70.1 718.9h0M67.2 693.4h0M69.8 725.3h0M70.3 723.1h0M66.3 694.4h0M64.7 720.1h0M61.9 724.8h0M63.6 707.9h0M65.5 726.1h0M67.6 709.5h0M65.3 714.2h0M61.8 710.7h0M64.5 691.4h0M66 718.8h0M62.6 713.4h0M67.6 743.2h0M63.6 717.6h0M61.3 730.4h0M69.3 714.6h0M65.3 741.3h0M63.7 741.5h0M63.6 692.3h0M65.7 704.8h0M67.3 686.7h0M64.1 738.8h0M64.1 731.6h0M69.5 727.7h0M66.8 712.9h0M66.9 743.9h0M60 724.3h0M67.4 696.1h0M71 725.2h0M64.5 713.3h0M68.4 716h0M62 734.8h0M64 701.8h0M70 731h0M62.5 730.3h0M64.2 726.5h0M63.9 713.9h0M62.3 714.2h0M69.5 733.2h0M61.3 732.7h0M70.5 725.4h0M63.8 720.9h0M67.1 732.5h0M64.8 689.4h0M63.2 725.2h0M66 693.6h0M70.3 726.8h0M67 728.6h0M62.7 716.1h0M66.7 732.4h0M66.9 737.8h0M67.8 691.7h0M64.3 725.8h0M69.4 733.8h0M65.4 682h0M68.7 704.4h0M66.1 730.3h0M64.8 677.1h0M67.9 727.6h0M69.9 721h0M61.7 730.8h0M64.7 740.6h0M65.3 738.7h0M69.5 716.2h0M70.1 728.2h0M64.3 693.3h0M67 730.6h0M67.1 729.5h0M66.3 722.3h0M60.8 731.1h0M65.2 688.8h0M69.4 716.6h0M64 705h0M70.3 729.7h0M68.1 716.5h0M64.9 700.5h0M62.9 717.3h0M63.6 741.1h0M69.4 731h0M66.3 740.6h0M68.8 719.1h0M64.6 726.4h0M67.1 728.1h0M63.6 722.4h0M62.6 711.6h0M65.2 741h0M62.8 713.5h0M65.4 699.3h0M64.4 707.6h0M62.6 735.7h0M63.6 717h0M67.4 692.4h0M69 714.5h0M69.5 722.2h0M62.5 721.7h0M65.3 694.6h0M67.3 731.1h0M63.2 739.6h0M64.3 727.7h0M67.9 735.8h0M69.9 717.1h0M63.1 705.2h0M65.6 724.7h0M65.5 718h0M64.9 713.4h0M69.2 718.1h0M62.3 705h0M68 709.6h0M69.2 725.2h0M64.3 733.2h0M67.6 710.9h0M68.6 726.5h0M64.8 737h0M61.5 722.2h0M63 714.8h0M67.6 691.7h0M63.9 729.2h0M68.5 721h0M63.4 695.5h0M66.5 679.1h0M63.3 717.4h0M67.3 730.5h0M63.3 730.7h0M68 730.6h0M66.2 683.1h0M70.6 731h0M62.2 728.1h0M65.2 679.5h0M68.3 739.7h0M66.4 706.6h0M61 725.1h0M64 683.4h0M66.5 732.3h0M62.6 709.9h0M62.2 709h0M65.1 711h0M63.5 734.1h0M65.4 697.6h0M65.3 722.2h0M67.2 721.3h0M61.9 730.9h0M68.8 708.4h0M60.8 724.9h0M68.8 728.1h0M64.6 718.7h0M65.2 735.9h0M66.4 725.7h0M65 697.1h0M65.2 718.5h0M67.9 743.9h0M66.6 727.8h0M66 714.8h0M63.9 740.2h0M70.4 725h0M67.2 732.2h0M63.9 710.7h0M67.9 743.6h0M64 740.9h0M68.4 704.4h0M70.5 724.5h0M68 710.3h0M63.9 738.9h0M68.7 706.9h0M65.5 710.4h0M62.3 740.7h0M65.1 731.6h0M65.7 694.5h0M64.5 725.3h0M60.6 718.1h0M63.3 704.8h0M64 699.1h0M64.1 711.3h0M63.4 712.9h0M66 699.1h0M67 696.1h0M66.3 736.1h0M65.6 735.4h0M62.5 722.8h0M65 709h0M63.7 734.2h0M65.2 675.5h0M63.9 708.3h0M70.4 720.3h0M65.7 683.7h0M64.6 731.3h0M68.8 737.7h0M66.4 717.3h0M68.7 713.7h0M68.5 733.9h0M67.5 689.1h0M63 727.9h0M66.3 690.7h0M68.1 704.8h0M64.3 727h0M68.2 706.1h0M60.7 728.2h0M60.8 726.1h0M62.3 728.7h0M64.7 693.3h0M62.7 721.6h0M62.9 723.9h0M65.6 682.8h0M66.3 715.3h0M63.8 713.6h0M69.9 728.3h0M70.8 722.9h0M67.9 695.8h0M67.6 734.4h0M69.4 736.8h0M68.2 722.9h0M69.5 714.9h0M65.4 711.7h0M67.9 743.7h0M60.1 728h0M67 706h0M67.2 713.7h0M61.4 730.1h0M67.8 739h0M64.2 732.6h0M68.2 704.8h0M70.7 730.9h0M64.9 722.8h0M70.1 716.1h0M62.1 718.5h0M63.9 701.6h0M67.3 692.8h0M68.3 720.8h0M64.3 741.6h0M65 701.6h0M64.9 709.2h0M68 727.8h0M60.5 730.3h0M66.1 734.2h0M67.2 714.8h0M67.4 736.9h0M60.6 726.2h0M62.7 724.7h0M63.1 714.9h0M64.8 729h0M67.4 721.9h0M65.8 726.4h0M64.1 721.2h0M64.6 729.9h0M69 731.2h0M70.6 723.4h0M68.2 721.3h0M64 706.7h0M62.5 740.3h0M66.5 711.2h0M60.6 732.8h0M62.5 728.8h0M63.2 701.6h0M63 734.9h0M60.2 725.5h0M60.6 728.6h0M70.5 724.1h0M68.8 710.5h0M60.1 725.1h0M69.5 723.8h0M68.9 725.2h0M70.1 719.6h0M66.6 683.1h0M63.2 724.2h0M66.8 699.7h0M62.3 708.7h0M66.4 727.2h0M68.7 719.4h0M61.1 732.2h0M62.4 734.3h0M68.5 706.4h0M65 719.7h0M62.1 728.7h0M64.9 744h0M64 733.8h0M62.3 704.9h0M68.4 713.2h0M64.9 738.8h0M66.6 733.8h0M66 656.5h0M65.8 657.6h0M64.2 659.5h0M66.7 657.8h0M66 656.2h0M65.8 656.2h0M66.1 657.6h0M66.2 657.6h0M64.4 658.3h0M66.1 659.5h0M64.6 659.4h0M68 660.5h0M65.5 659.6h0M64.6 659.4h0M66.5 659.9h0M64.1 658.9h0M65.8 659.4h0M65.4 656.4h0M65.9 660.1h0M65.1 655.8h0M65.9 656.7h0M65.8 658.6h0M65.2 657.4h0M65 657.3h0M65.7 659.9h0M66.5 658.9h0M65.5 654.6h0" stroke="#c8260f" stroke-width="2.5" fill="none" stroke-linecap="round"/>
<path d="M84.5 695.8h0M84.9 727.3h0M79.8 726.5h0M83.1 704.8h0M76.9 716.3h0M83.6 722.7h0M84 707.7h0M78.8 705.6h0M85.6 711.9h0M77.5 717h0M86.3 724.3h0M86.6 711.8h0M80.5 716.8h0M81.9 718.8h0M79 715.7h0M84.4 728.4h0M79.3 724h0M83.7 687.1h0M85.3 716.9h0M80.7 684.9h0M79.5 693.1h0M82.7 718.3h0M78.9 721h0M81 708.5h0M78.8 728h0M79.9 742.4h0M78.9 722.2h0M78 710.4h0M77.6 730.2h0M83.5 699h0M83.5 713.2h0M84.7 689.2h0M81.4 708.2h0M84.6 721.4h0M78.9 717.9h0M79.3 697.6h0M81.2 675.1h0M84.6 728.1h0M83.8 682.1h0M83.4 694.6h0M80.9 727.1h0M83.3 719h0M85.4 708.2h0M81.8 670h0M81.6 700.4h0M83.4 700.6h0M80.2 692.8h0M80 724.1h0M85.5 698.6h0M81.2 704.3h0M77.7 713.6h0M81.2 688h0M83 726h0M85.1 722.4h0M77.3 729.8h0M81.5 739.6h0M84.7 691.8h0M77.4 714.6h0M82.2 687.3h0M82.3 693.5h0M81.4 698h0M82.9 692.9h0M84 712.3h0M81.8 727.2h0M83.1 741.6h0M79.2 697.3h0M86.3 713.7h0M79.6 714.2h0M81.6 734.8h0M80.5 734.4h0M83.9 710h0M79.8 692.7h0M82.8 733.5h0M81 690.7h0M80.5 695.3h0M79 728.4h0M78.2 728.1h0M79.3 734.2h0M78.7 731.9h0M83.2 703.6h0M78.8 733.3h0M77.7 697.8h0M82.7 710.2h0M77 726.3h0M85.4 713.9h0M79.4 722.3h0M84 688.6h0M79.1 728.8h0M79.7 680.6h0M80.3 677.5h0M82.3 716.3h0M80.9 734.1h0M80.3 714.5h0M78.7 711.5h0M82.4 731h0M82.7 723.3h0M79.2 689.9h0M83.9 724.1h0M78.5 724.4h0M83.5 737.6h0M78.1 731.1h0M80.2 682.1h0M85.4 712.1h0M86.6 727h0M80.2 739h0M76.5 728.4h0M80.5 711.3h0M82.3 720.7h0M79.1 740.5h0M83 692.7h0M84.7 711.4h0M85.6 706.3h0M83.6 721.6h0M83.2 675.6h0M81.5 681.5h0M85.3 704h0M79.6 738.6h0M81.6 735.6h0M84.9 716.3h0M83.8 730.5h0M81.2 689.3h0M81.1 718.4h0M83.3 676.5h0M84.1 715.6h0M80.7 711.6h0M80.9 696.5h0M83.3 695.7h0M82.1 693.5h0M85.6 715.5h0M83.3 697.1h0M79.8 727.5h0M78.5 705.9h0M81 738.8h0M77.1 720.9h0M78 729.1h0M78.8 723.8h0M76.8 725.7h0M84.8 722h0M83.2 733.5h0M86.6 721.3h0M81.3 690.7h0M85 724.9h0M83 700.3h0M83.7 714.1h0M83.3 723h0M79.7 737.1h0M81.8 728.1h0M82.2 730.6h0M83 736h0M81 737.6h0M81.5 727.2h0M79.4 733.2h0M79.6 743.3h0M79.4 700.3h0M83.2 698.1h0M81.9 728.3h0M79.9 705.4h0M86.4 724.6h0M77.8 735.7h0M83.6 682.7h0M85.3 727.2h0M82.9 698.3h0M79.8 727.5h0M83.9 707.1h0M82.3 707h0M78.9 692.7h0M77.3 728.1h0M81.2 701.6h0M79 716.5h0M79 736.3h0M82.1 672.3h0M82.9 728h0M83.3 736h0M80.8 717.2h0M81 726.3h0M77.1 717.1h0M80.3 688.2h0M85.2 708.2h0M84.5 732.9h0M78.9 706.1h0M82.3 718.4h0M82.6 701.7h0M78.3 735.2h0M79.9 674h0M82.3 689.3h0M85.7 722.5h0M81.7 696.2h0M80.8 693.6h0M86.9 716.1h0M81.2 671.3h0M84.3 694.6h0M81.1 726.5h0M81.2 740h0M85.5 733h0M84.8 732.6h0M78 728.9h0M80.6 731.6h0M82.9 674.9h0M86.2 727.8h0M79.6 733.9h0M77.8 704.9h0M84.8 736.3h0M82.5 702.5h0M80.2 686.4h0M80.6 709.5h0M82.4 700h0M83.3 697.6h0M77.1 730.2h0M79.7 707.7h0M83.6 687.8h0M85.4 710.1h0M82.5 674.8h0M82.3 677.7h0M84.8 714.6h0M81.8 719.7h0M79.4 708.5h0M84.8 691.8h0M86 714.7h0M84.5 706.8h0M83.1 676.2h0M82.1 706.9h0M81.1 680.2h0M82.1 679.8h0M82 701.5h0M80.1 698.6h0M84.2 702.9h0M82.8 714.5h0M82.4 691.5h0M82.1 729.3h0M84.7 727.3h0M86.8 723.9h0M83.2 709.7h0M82.8 703.1h0M83.8 711.5h0M80.2 680.4h0M83.7 702.9h0M86.1 706.7h0M82.5 720.1h0M83 681.5h0M82.2 706.9h0M79.2 732.1h0M84.3 740.1h0M85.7 722.8h0M80 698.8h0M83.3 713.2h0M80.6 735.1h0M80.2 722h0M78 715h0M83.5 732.2h0M80.5 697.6h0M77.9 712.9h0M77.4 720.3h0M85.5 722.3h0M81.5 703.3h0M82.9 722.1h0M81.2 691.3h0M77.6 726.9h0M86.1 725.8h0M83.7 696h0M77 716.3h0M86.7 720.3h0M83.7 689.7h0M76.3 727.8h0M83.1 697.2h0M79.9 727.1h0M77.1 731.6h0M82.4 684.8h0M82.1 683.9h0M82.8 709.8h0M83.2 694.4h0M82.1 708.5h0M80.5 698.7h0M83 741.4h0M82.9 726.7h0M78.4 727.3h0M82.8 704.9h0M77.8 703.9h0M81.4 732.8h0M79 695.4h0M82.7 684.8h0M85.4 702.6h0M82.1 684.7h0M82.9 723.6h0M85.5 720.4h0M82.5 680.4h0M79.5 742.3h0M76.6 723.2h0M80.8 724h0M83 714.8h0M84 704.9h0M85.9 713.2h0M77.9 720.1h0M83.8 696.3h0M82.5 735.4h0M79.6 735.5h0M80.6 701.4h0M83.7 687.8h0M81.3 716.9h0M86.1 711.8h0M78.9 681.9h0M79.4 715.1h0M80.4 707.8h0M78.7 722.5h0M80.2 681h0M79.9 721.1h0M80.9 714.2h0M80.3 729.7h0M81.4 711h0M82.6 713.1h0M79.2 717.8h0M79.3 721.8h0M82.7 708.3h0M82.3 704.2h0M82.3 714.8h0M84.5 738.4h0M77.3 728.6h0M78.6 711.5h0M82.2 710.8h0M84 722.3h0M82.6 677.1h0M79.2 716.1h0M84 732.2h0M81.7 715.3h0M76.3 718.8h0M80 679.2h0M78.3 714.2h0M79.2 684.5h0M82.7 723.6h0M86 714h0M84 695h0M77.2 725h0M78.3 718.8h0M82.5 726.2h0M80.9 687.9h0M81.8 711.4h0M80.1 733.8h0M77.1 721.5h0M82 682.2h0M83.9 689.2h0M77.8 697.1h0M85 731.7h0M78.8 694.3h0M80.7 743.5h0M80.2 708.3h0M76.8 718h0M78.1 718.7h0M85.1 727.1h0M79.2 727.4h0M80.2 680.1h0M85 727.8h0M79.6 727.3h0M77.3 728.6h0M85 718.6h0M84.5 698h0M83.9 713h0M77.1 732.7h0M85.1 719.9h0M81.3 685.9h0M83.4 711.5h0M82.1 705.6h0M82.2 657.9h0M83.1 659.2h0M81.9 656.4h0M83.4 660.2h0M80 659.1h0M81.6 655.7h0M80.6 659h0M80.7 656.8h0M82.4 656.3h0M80.2 659.4h0M81.6 656.3h0M81.9 658h0M81.6 655.7h0M82.2 658h0M81.9 656.2h0M82.2 655.9h0M82.8 658.1h0M81.4 654.2h0M80.8 657.5h0M82.3 657.3h0M81.8 655h0M81.6 655.9h0M79.8 658.7h0M83.8 659.9h0M82.9 659.1h0M81.4 657.7h0M81.4 657.2h0M83.4 659.7h0M81 656.5h0M81.9 657.8h0M81.6 654.1h0" stroke="#c8260f" stroke-width="2.5" fill="none" stroke-linecap="round"/>
<path d="M94.3 707.8h0M101.8 705.6h0M102.5 688.1h0M94.8 688.3h0M98.6 672.9h0M93.2 695h0M101.2 703.1h0M93.8 717.7h0M102.7 698.8h0M99 717h0M97.4 715h0M95 699.8h0M97.7 694.6h0M99.6 690.8h0M101.3 711.9h0M100.7 712.2h0M95.7 722.8h0M102 693.5h0M95.1 700.9h0M98.1 686.7h0M95.9 715h0M96.6 711.7h0M98 685.9h0M99 697.7h0M97 722.8h0M101.4 713.6h0M97.9 695.2h0M100 713.2h0M96.3 728.1h0M100.5 679.4h0M96.6 689.1h0M100.1 708h0M93.6 720.8h0M96.6 682.8h0M96.6 679.3h0M100.4 730.5h0M99.5 682.7h0M101.3 701.7h0M97.1 719.1h0M93.4 693.3h0M93 704.9h0M101.4 702.2h0M99.6 686.6h0M95 684.6h0M94.7 717.3h0M98.9 697.5h0M100.5 712h0M95.6 702.2h0M99.4 680.4h0M95.4 696.7h0M96.7 741.4h0M97.8 717.4h0M97.7 680.8h0M97.5 690.5h0M99.1 687.9h0M95 714h0M93.9 700.7h0M98.8 739.6h0M98.8 693.3h0M96 712.5h0M100.6 729.1h0M98.2 736.2h0M95.5 698.3h0M97.4 713.4h0M101.9 699.5h0M99.9 688.6h0M96.5 720.6h0M99 719h0M94.2 713.7h0M100.2 713h0M96.1 707.2h0M97.1 682.1h0M101.2 684.6h0M97.9 699.3h0M95.7 731.9h0M98.3 717.5h0M98.6 709.8h0M96.6 696.7h0M97.2 673.7h0M100.9 716.5h0M101.3 705.3h0M97.5 724h0M98.7 674.6h0M98.9 700.3h0M93.9 707.3h0M94.9 683.2h0M101.8 720.3h0M97.4 692.5h0M100.9 688.8h0M97.2 718.7h0M99.5 691.2h0M103 695.1h0M99.4 703.9h0M96.9 722.3h0M93.4 692.7h0M98.3 719.4h0M94.6 691.2h0M94.6 683h0M99.9 700.4h0M95.7 726.8h0M97.6 692.4h0M96.8 724.6h0M101.1 719.6h0M101.8 685h0M96.3 731.3h0M102 705.2h0M94.6 684.4h0M99.8 692.7h0M100.2 699.7h0M100.5 725.9h0M102.5 711.8h0M102.8 702.8h0M95.7 688.3h0M95.2 679.6h0M92.9 692h0M99.1 698.4h0M95.6 686.4h0M100.3 720.6h0M99.1 706.5h0M94.8 700.7h0M101.1 708.2h0M99.6 706.3h0M97.7 711.9h0M100.7 702.9h0M93.7 714.8h0M100.5 692.5h0M92.4 697.5h0M95.7 693.5h0M97.8 678.5h0M95.4 683.9h0M99.5 698.8h0M97.8 689h0M98.3 724.6h0M95.9 717.4h0M94.5 707.2h0M96.8 721.2h0M94.6 720.5h0M100.4 696.1h0M99.1 718h0M101.4 693.4h0M96.5 722.2h0M96.7 694.8h0M93.1 698.8h0M94.2 699.1h0M99.9 705.8h0M101.5 685.3h0M95.4 695.1h0M95.3 677.1h0M96.5 701.6h0M102.9 711.5h0M93 697.8h0M94 710.9h0M102.7 694.4h0M99.7 683.8h0M92.8 700.7h0M99.5 730.5h0M99.3 708.2h0M95.5 712h0M97 679.7h0M101.3 702.5h0M97.4 715.6h0M95.9 734.4h0M100.3 696.1h0M97.6 705.5h0M99.6 685.7h0M93.7 712.4h0M98.6 694.3h0M93.2 690.6h0M95.5 725.4h0M93.3 717.3h0M95.4 722.3h0M95.9 712.2h0M97.8 681.7h0M95.3 724.5h0M96.5 715.8h0M95.8 693.4h0M92.8 705h0M95.3 708.7h0M101.5 715.5h0M92.8 700h0M98.6 717.2h0M102.7 715.3h0M96.5 686.6h0M96.5 730h0M100.7 682.4h0M98.1 683.7h0M99.5 713.5h0M97.3 714.7h0M100.2 683.8h0M95.6 693.1h0M96.9 734.7h0M93 709.6h0M92.9 701h0M95.6 699.5h0M97.1 703.9h0M98.6 731.1h0M93 715.4h0M97 711.6h0M96.6 696.8h0M96.1 710.9h0M99.7 705.6h0M101.4 712.8h0M95.4 685.3h0M95.7 697.3h0M102.3 690.9h0M102.1 692.5h0M99.4 692.2h0M97.5 692h0M95.2 727.6h0M99.6 708.8h0M96.7 717.8h0M103.1 697h0M99.7 707.7h0M95.4 706.6h0M96.6 689h0M93 711h0M97.6 727.3h0M100 696.5h0M97 690.8h0M97.6 719.2h0M95.5 683.9h0M95.3 719.7h0M101.8 708.5h0M96.3 692.7h0M96.1 708.3h0M98.8 670.7h0M98 708.5h0M101.2 717.3h0M97 699.2h0M95.4 693.6h0M96.9 738.1h0M94.3 719.6h0M92.5 706.7h0M100.2 707.4h0M96.7 721.8h0M101.3 716.2h0M100.6 696.6h0M95 725.3h0M94.8 699.4h0M100.6 718.5h0M100.7 701.6h0M98.6 699.8h0M94.4 709.4h0M99.6 699.2h0M93.3 714.1h0M95.1 720.3h0M95.9 693.2h0M100.4 727.4h0M96.7 718.9h0M100.8 716.2h0M94.5 703.2h0M99 727.1h0M102.3 718.2h0M101.5 710.7h0M94.9 702.7h0M99.4 697.7h0M97.2 718.9h0M98.3 722h0M99.1 699.2h0M98.7 731.9h0M95.1 708.1h0M92.5 693.1h0M93.3 690.6h0M100.9 681.8h0M94.7 683.5h0M94.3 722.3h0M98.2 680.9h0M100 702.5h0M96 679.7h0M97.6 711.7h0M97.9 674.2h0M93.1 696.2h0M92.8 698.9h0M100.6 722.3h0M96.2 689.3h0M99.8 676.8h0M100.4 705h0M96.1 674.6h0M102.1 690.5h0M97.6 687.1h0M99.9 682.9h0M96.3 686.1h0M96.2 703.1h0M92.9 713.5h0M100.3 695.8h0M100.1 685h0M96.4 726.9h0M95.6 717.2h0M95 726h0M97.4 706.3h0M101.4 721h0M94.8 723.6h0M97.4 682.6h0M102.4 689.4h0M101.8 699.1h0M94.4 683.4h0M100.3 689.8h0M94.7 710.1h0M95.5 684.8h0M99.6 698.9h0M95.7 660.2h0M100 659h0M97.9 658.6h0M99 658.1h0M98.7 655.8h0M98.4 656h0M97.5 660.2h0M99.3 659.8h0M97.6 659.6h0M98.2 655.3h0M98.5 655.7h0M97.2 660.3h0M98.6 655.9h0M96.9 658.2h0M98.8 660.1h0M98.9 658.3h0M99.7 660.2h0M97.9 655.6h0M98.1 657.1h0M97.4 660.4h0M98.1 657.9h0M97.8 653.3h0M97.2 655.5h0M95.6 659.7h0M96.2 659.4h0M98 657.2h0M99.4 660.2h0M99.9 659.2h0M100.5 660.3h0M96.2 658.3h0M97.8 652.5h0" stroke="#c8260f" stroke-width="2.5" fill="none" stroke-linecap="round"/>
<path d="M116 692.1h0M118.5 694.5h0M113.6 687.7h0M113.5 732.1h0M115.8 686.2h0M111.8 689.4h0M112.8 674.6h0M109.1 720.2h0M115.4 703.7h0M112.3 721.7h0M108.9 714.7h0M112.8 724.5h0M117.9 694h0M114.4 707.9h0M112.7 702.3h0M113.6 685h0M112.5 728.2h0M114.7 696.5h0M113.9 702.1h0M111.3 729.5h0M111.1 713h0M109.6 694.4h0M112.6 695.5h0M112.2 678.8h0M115.9 724.3h0M111 717.8h0M110.8 728.7h0M115.4 688.1h0M111.6 737.8h0M109.2 703.3h0M116.8 720.4h0M111.1 705.7h0M115.2 701h0M112.3 681.6h0M111.7 685.1h0M111.1 689.8h0M118 696.7h0M115.8 691.1h0M115.7 695.6h0M116 723.3h0M117.4 718.1h0M111.6 732.4h0M113.4 679.6h0M117.6 699.3h0M110.1 722.1h0M114.6 718.3h0M117.7 711.8h0M117.1 719.2h0M108.5 707.4h0M110.6 729.3h0M113 731h0M111.2 705.7h0M116.6 679.7h0M111.9 675.6h0M112.1 707.5h0M113.3 740h0M114.9 697.9h0M114.4 742.4h0M116.9 698.9h0M116.2 677h0M111.8 714.6h0M113.8 701.9h0M113.9 727.3h0M111.7 717.9h0M114.3 703.5h0M119.1 715.3h0M116.2 703.2h0M115.1 741.6h0M108.4 700h0M113.1 709.6h0M112.9 707.9h0M111.7 696.4h0M114 714.3h0M117.2 722.3h0M112.2 728.9h0M112.5 718.5h0M113.6 698.9h0M113.9 719h0M117.3 721h0M113.8 743.5h0M111.3 702.5h0M115.1 680h0M110.8 702h0M117.7 699.2h0M112.9 699.8h0M118.1 699h0M113.9 691h0M112.4 704.4h0M114.1 723.5h0M112.4 712.1h0M111.8 690.6h0M116.3 716.1h0M109.7 718.1h0M113.7 740.2h0M112.4 740.6h0M113.1 702h0M117.2 707.2h0M113.5 683h0M117.6 708.5h0M109.2 714.3h0M113.1 711.6h0M110.3 721.4h0M109.6 702.1h0M113.3 711.3h0M116.9 705.8h0M109.8 693.6h0M111 723.5h0M110.3 717.8h0M112.4 718.1h0M116 700.1h0M118.8 697h0M115 725.8h0M114.4 714.6h0M116.5 709.1h0M114.3 723.5h0M118.7 719.9h0M116.6 714.8h0M115.7 725h0M114.8 731.8h0M118.1 708.4h0M115.8 704h0M111.7 732.6h0M112.5 728.3h0M119.2 697.8h0M116.8 707h0M115.9 693h0M109.3 716.4h0M110.9 723.4h0M112.3 723.1h0M119.3 704.1h0M111.5 732.2h0M118.1 701.8h0M117.9 725.6h0M118.1 714.9h0M110.8 705.7h0M109 703.6h0M114.9 682.8h0M115.5 680.3h0M111.1 687.1h0M115.1 695.6h0M113.6 715.6h0M112.7 697.7h0M112.4 721.9h0M114.8 704.8h0M110.8 711.8h0M115.7 692.7h0M112.9 732.5h0M114.9 730.2h0M111.9 740.7h0M118.3 722.8h0M112.7 731.5h0M114.6 731.6h0M115.1 714.7h0M114.7 692h0M111.3 682.9h0M113.1 718h0M115.7 735.5h0M113 715.8h0M112.2 701.5h0M114.9 687.8h0M111.4 712.5h0M115.5 687.6h0M111.8 697.5h0M109.3 710.2h0M115.8 680.1h0M115.6 725.2h0M116.8 718.5h0M114.6 711.6h0M108.6 703.7h0M112.9 719.3h0M117.7 710.6h0M115.3 708.2h0M114.2 704.6h0M110.4 719.6h0M112.9 721.3h0M113.7 683.2h0M111 718.7h0M114.5 698.4h0M114.2 715.3h0M114.4 694.5h0M112.2 716.8h0M118.5 700.2h0M111.6 737.1h0M114 723.7h0M113.3 676.6h0M112.7 725.8h0M110.7 718.1h0M110.8 694.7h0M111.2 705.6h0M114.8 685h0M109.4 712.2h0M116.2 697.6h0M116.1 733.3h0M112.4 723h0M115.7 744.1h0M118.5 711.5h0M116.4 683.9h0M117.5 693h0M109.2 696.9h0M116 713.9h0M116.7 710.3h0M111 695.9h0M118.5 698.7h0M115.6 733.8h0M117.9 721.2h0M115.7 696.4h0M114.1 721.9h0M115 742.2h0M112.7 693.5h0M114.2 676.9h0M115.2 706.8h0M113.2 735.8h0M115.1 702.2h0M117.7 703.1h0M112.6 690.4h0M111.8 711.8h0M112.4 705.8h0M109.7 699.1h0M113.5 709.3h0M116.2 712.4h0M109.6 699h0M113.3 697h0M113.4 707.8h0M117.8 722h0M112.8 691.7h0M112.4 712.6h0M113.3 706.6h0M111.2 701.7h0M113.1 714.7h0M116.3 724.9h0M117.1 684.3h0M110.8 699.3h0M118.2 706.6h0M112 674.2h0M110.8 685.7h0M114 709.8h0M119.1 701.7h0M116.1 679.6h0M115 691h0M113.6 724.2h0M115.7 704.8h0M118 719.1h0M118.1 692.8h0M113.8 719h0M114.9 670.3h0M112.7 707.7h0M114.3 700.8h0M111.6 721.1h0M115.4 689.2h0M115.1 722.1h0M116.4 710.3h0M116.2 740.1h0M112.1 741.9h0M113.1 700.9h0M113.8 680h0M110.1 713.1h0M113.2 679.3h0M116.2 697.9h0M110.3 701.2h0M112.8 737.1h0M114.6 698.5h0M118.7 720.9h0M113.9 738.4h0M112.3 680.1h0M110.1 701.7h0M110.7 719.5h0M118.4 698.5h0M114.5 713.7h0M112.9 722.7h0M112.2 732.1h0M115.1 681.9h0M110.5 723.2h0M115.9 736h0M115.9 699.1h0M111.7 727.6h0M113.8 691.3h0M113.6 720.5h0M110.1 705.5h0M115.6 710.5h0M118.5 708.7h0M119.1 698.5h0M110 711.2h0M114.9 732.2h0M113.6 681.1h0M111.1 693.1h0M113.8 705.4h0M112.9 690.9h0M113.7 701.1h0M117.3 692.4h0M112.2 696.3h0M113.2 708.9h0M116.8 705.6h0M108.9 713.7h0M111.2 716.4h0M115.5 683.9h0M113.6 731.3h0M116.4 693.5h0M115.9 739.7h0M114.8 724.5h0M115.5 706.3h0M115.1 692.7h0M111.8 714.2h0M117.1 694.3h0M108.5 698.8h0M109 716.9h0M110.1 695.8h0M111.6 678.7h0M117.1 685.2h0M116.5 690h0M115.1 691.9h0M112.8 660.5h0M115 659.7h0M113.4 657.7h0M112.6 658.4h0M115.9 659h0M112.7 660h0M113.4 658.1h0M114.4 659.2h0M113.8 659h0M114.8 658.3h0M115 656.6h0M114.8 654.5h0M114.2 653.3h0M112.1 659.4h0M112.6 658.3h0M112.5 656.8h0M113.6 654.3h0M114.8 659.7h0M113.7 655.4h0M113.2 658.7h0M116.2 660.3h0M113.8 660.1h0M114.2 656.6h0M112.2 660h0M114.8 656.5h0M112.9 656.1h0M112.3 660.3h0M113.9 656.3h0M115.9 659.5h0M114.5 654.4h0M113.9 648.2h0" stroke="#c8260f" stroke-width="2.5" fill="none" stroke-linecap="round"/>
<line x1="60" y1="717.38" x2="71" y2="717.38" stroke="#000" stroke-width="1.5"/>
<line x1="65.5" y1="717.98" x2="65.5" y2="716.78" stroke="#000" stroke-width="1"/>
<line x1="76.1" y1="710.4" x2="87.1" y2="710.4" stroke="#000" stroke-width="1.5"/>
<line x1="81.6" y1="711.2" x2="81.6" y2="709.6" stroke="#000" stroke-width="1"/>
<line x1="92.3" y1="704.41" x2="103.3" y2="704.41" stroke="#000" stroke-width="1.5"/>
<line x1="97.8" y1="706.41" x2="97.8" y2="702.42" stroke="#000" stroke-width="1"/>
<line x1="108.4" y1="705.41" x2="119.4" y2="705.41" stroke="#000" stroke-width="1.5"/>
<line x1="113.9" y1="707.9" x2="113.9" y2="702.92" stroke="#000" stroke-width="1"/>
<line x1="65.5" y1="648.4" x2="81.6" y2="648.4" stroke="#9a9a9a" stroke-width="1.1"/>
<text x="75.1" y="645" text-anchor="middle">&lt;0.0001</text>
<line x1="81.6" y1="635.3" x2="97.8" y2="635.3" stroke="#9a9a9a" stroke-width="1.1"/>
<text x="89.9" y="632.9" text-anchor="middle">0.0182</text>
<line x1="172.4" y1="645.4" x2="172.4" y2="750.3" stroke="#1a1a1a" stroke-width="1"/>
<line x1="171.9" y1="749.8" x2="241.5" y2="749.8" stroke="#1a1a1a" stroke-width="1.1"/>
<line x1="169.4" y1="749.8" x2="172.4" y2="749.8" stroke="#1a1a1a" stroke-width="1"/>
<text x="167.4" y="753.4" text-anchor="end">0</text>
<line x1="169.4" y1="726.4" x2="172.4" y2="726.4" stroke="#1a1a1a" stroke-width="1"/>
<text x="167.4" y="730" text-anchor="end">2</text>
<line x1="169.4" y1="703" x2="172.4" y2="703" stroke="#1a1a1a" stroke-width="1"/>
<text x="167.4" y="706.6" text-anchor="end">4</text>
<line x1="169.4" y1="679.6" x2="172.4" y2="679.6" stroke="#1a1a1a" stroke-width="1"/>
<text x="167.4" y="683.2" text-anchor="end">6</text>
<line x1="169.4" y1="656.2" x2="172.4" y2="656.2" stroke="#1a1a1a" stroke-width="1"/>
<text x="167.4" y="659.8" text-anchor="end">8</text>
<line x1="182.9" y1="749.8" x2="182.9" y2="752.8" stroke="#1a1a1a" stroke-width="1"/>
<line x1="198.8" y1="749.8" x2="198.8" y2="752.8" stroke="#1a1a1a" stroke-width="1"/>
<line x1="214.9" y1="749.8" x2="214.9" y2="752.8" stroke="#1a1a1a" stroke-width="1"/>
<line x1="230.8" y1="749.8" x2="230.8" y2="752.8" stroke="#1a1a1a" stroke-width="1"/>
<text x="188.6" y="760" text-anchor="end" transform="rotate(-45 188.6 760)">d40</text>
<text x="204.5" y="760" text-anchor="end" transform="rotate(-45 204.5 760)">d60</text>
<text x="220.6" y="760" text-anchor="end" transform="rotate(-45 220.6 760)">d70</text>
<text x="236.5" y="760" text-anchor="end" transform="rotate(-45 236.5 760)">d80</text>
<text x="148.2" y="701" text-anchor="middle" transform="rotate(-90 148.2 701)">Frequency (min<tspan font-size="6.5" dy="-3.5">−1</tspan><tspan dy="3.5">)</tspan></text>
<path d="M184.7 741.4h0M183.7 718.8h0M184.9 742h0M181.4 720.5h0M188.1 736.6h0M181.2 733.8h0M178.9 718.3h0M180.6 712.9h0M181.8 706.4h0M180.3 723.3h0M178.4 722.8h0M183.6 733.1h0M185.8 734.1h0M179.1 737.9h0M188 726.6h0M184.9 720.6h0M179.4 736.7h0M183.6 706.1h0M181.5 720.2h0M185.3 727.2h0M186.7 743.5h0M184.1 716.4h0M183.6 739.9h0M185 708h0M182.3 707.2h0M185.3 747.4h0M185 736.8h0M183.2 724.4h0M178.8 731.3h0M185.5 718.2h0M181 741.6h0M180.7 746.9h0M181.8 718.2h0M186.9 712.3h0M179 722.3h0M177.9 730.1h0M181.5 729h0M182.7 732.7h0M179 740.9h0M183.6 710.4h0M185.3 736.2h0M178.1 721.8h0M179.7 708.1h0M181.9 707.3h0M179.6 745.4h0M180.5 735.5h0M183.7 708.2h0M181.8 726h0M185.7 714.9h0M186.1 736.9h0M179.9 739.3h0M181.8 744.7h0M185.2 720.1h0M181.8 715.6h0M179.3 735.2h0M183.3 713.6h0M184.2 717h0M184.4 710.8h0M186.8 740.4h0M181.1 724.8h0M178.6 742.3h0M181.3 720.6h0M180.2 707.4h0M182.1 745.6h0M182.4 746h0M181.4 707.9h0M178.1 725.5h0M186.8 724.5h0M182 735h0M179.3 733.5h0M185.2 744h0M182.1 719.6h0M182.7 723.1h0M184.2 739.4h0M183.4 743.5h0M185.4 722h0M181 712.5h0M181.1 735.9h0M184.7 711.1h0M187.9 728.3h0M180.6 729h0M183.1 717.9h0M181.7 712.2h0M182.2 698.1h0M184.9 732.9h0M187.9 729.6h0M186.9 741h0M183.7 728.7h0M184.6 708.2h0M183 709.7h0M183.2 739.2h0M183.9 728.6h0M185.4 708h0M181.2 732h0M183.7 738.1h0M185.7 729.6h0M183.7 734h0M181.6 721.6h0M181.7 723.6h0M183.3 743.9h0M186 710.9h0M182.6 738.2h0M187.6 725.4h0M184.9 739.7h0M185.6 739.9h0M184 706.2h0M183.3 715.3h0M184.5 713.2h0M179.1 738.3h0M184.4 737.4h0M182.9 703.5h0M184.8 715.5h0M184 730h0M178.9 714h0M183.6 732.9h0M186.8 715.5h0M184.2 710.4h0M180.4 737.4h0M187.7 723.1h0M181.4 730.5h0M178.2 724.9h0M184 709.2h0M180 742.2h0M184.6 717.3h0M187.6 736.4h0M185.5 733.1h0M183.4 735h0M180.5 707.6h0M179.1 715.5h0M185.6 732.2h0M178.3 722.5h0M186.7 742.9h0M185.3 746.8h0M181 720.5h0M180.8 708.7h0M178.6 718.5h0M186.9 730.1h0M182.6 726.9h0M187.8 729.2h0M179.8 723h0M179 740.2h0M186.2 739.8h0M183.5 708.7h0M186.1 716.3h0M180.3 736.3h0M181.9 737.3h0M179.3 716h0M183.5 725.1h0M186 747h0M183.2 746.1h0M182.7 714.3h0M185.7 724h0M184.5 745.1h0M183.6 723.9h0M186.7 729.6h0M186.3 745.4h0M180.4 739h0M181.7 743.2h0M183.9 729.7h0M184.3 733.3h0M179.3 741.6h0M182.5 722.5h0M182.3 734.7h0M182.3 735.5h0M182.6 725.5h0M182.7 739.1h0M183.1 727.7h0M182.2 736.4h0M181 721.4h0M180 721.7h0M178.5 741.8h0M186.1 710.7h0M185.2 721.4h0M183.3 747.4h0M183.5 743.8h0M180.3 729.6h0M182.6 733h0M183.6 711.7h0M179.2 733.3h0M186.9 724.7h0M182 725.7h0M185.3 734.8h0M186.7 728.9h0M184.7 735h0M177.9 731h0M186.7 728h0M186.2 732.8h0M183.8 722h0M180.7 742.5h0M179.7 742.7h0M184.8 701.7h0M183.2 678.6h0M183 727h0M182.9 722.7h0M178.9 719.9h0M178.4 730.3h0M185.6 741h0M181.8 717.8h0M185.4 712.8h0M179.9 722.4h0M187.3 737h0M179.4 745.4h0M184.3 700h0M186.2 741.4h0M183.9 746.6h0M184.6 741.1h0M184.3 738.2h0M187.4 726.8h0M184.5 737.7h0M182.9 715.6h0M184.3 713.9h0M181.4 710.8h0M180.1 713.6h0M185.3 710.4h0M181.1 743.8h0M178.4 733.9h0M183.2 733.1h0M185.8 741.1h0M182.7 712.5h0M185.6 737.5h0M184.7 709.9h0M178.3 726.1h0M182 699h0M179.4 729.1h0M180.6 729.8h0M183.8 718.8h0M188.2 730.2h0M184.1 724.2h0M180.8 746.9h0M186.5 719.1h0M181.8 729.8h0M183.5 691.9h0M187.8 728.3h0M186.7 738.8h0M184.2 736.8h0M184.9 736h0M180 709.6h0M184.9 714.9h0M179.7 734.4h0M179.1 717.2h0M181.1 717.4h0M184.9 742.2h0M183.5 722.5h0M184 712.9h0M178.6 732.5h0M180.4 725.4h0M180.5 712.7h0M181.3 733.8h0M178.2 731.7h0M186.6 724.4h0M184.7 746.6h0M186.3 735.1h0M185.4 707.7h0M179.6 710.5h0M185.5 733.9h0M185.1 714.9h0M182.4 745.5h0M185.6 719.5h0M184.6 716.6h0M179.3 734.1h0M180.6 721.5h0M187 734.9h0M180.8 722.4h0M180.7 738.9h0M181.6 722.5h0M179.7 745.5h0M180.5 714.9h0M180.1 715.8h0M185.6 709.1h0M181.5 721.6h0M185 706.7h0M178.1 732.6h0M185.2 704.1h0M185.3 735.1h0M181.9 727.3h0M185 735.6h0M180.4 709.4h0M185.8 716.4h0M180.5 746.7h0M180.1 729.4h0M184.2 717.4h0M183.9 746.4h0M181.8 746.2h0M186.4 735.2h0M181.1 733.1h0M184.6 720.4h0M179 729.4h0M186 746.6h0M180 736.5h0M179.8 723.7h0" stroke="#1466c2" stroke-width="2.5" fill="none" stroke-linecap="round"/>
<path d="M197.9 743.7h0M199 736h0M200 744.5h0M195.4 706.5h0M197.6 728.1h0M198.5 703.7h0M201.4 711.9h0M194.4 703.3h0M202.7 722.2h0M198.3 744h0M202.8 712.6h0M197.1 737.3h0M196.5 724.2h0M199 665.6h0M193.5 714.1h0M193.7 706.8h0M198 722.8h0M197.1 685.8h0M194.4 709.5h0M199 718.4h0M199 696.4h0M199.7 715.6h0M200.9 723.1h0M195.4 711.1h0M196.9 707.2h0M203.4 720.6h0M202.5 730.2h0M199.3 725.2h0M199.9 688.6h0M198.6 676.1h0M200.2 715.7h0M198.2 725.5h0M203.7 720.7h0M200.7 699.5h0M197 701.9h0M195.6 700.1h0M202.8 720.2h0M200.4 722.5h0M195.6 725h0M199.5 691.7h0M196 708.8h0M196.8 695.6h0M198.4 686.1h0M195.8 697.6h0M195.8 712.9h0M200 688.1h0M199.2 736.6h0M196.6 688.9h0M201.3 725.8h0M199.4 714.1h0M199.9 715.9h0M200.3 712.4h0M202.8 702.2h0M196.2 694.1h0M201.4 710.1h0M199.6 713h0M202.7 704.3h0M198.2 727.6h0M203.3 709.1h0M201.5 722.3h0M195.1 713.6h0M200 670h0M200.4 719.6h0M194.8 714.8h0M199.8 706.5h0M195.1 722.2h0M195.7 721.1h0M194.4 713h0M201.7 708.8h0M197 705.8h0M200.6 691.9h0M195.6 711.6h0M196.1 694.4h0M196.8 689.9h0M198.5 688.3h0M197.9 680.1h0M195.4 722.1h0M200.3 728.8h0M194.8 727.8h0M198.4 683h0M197.9 741.3h0M201.8 718.8h0M200.7 742.2h0M199.1 700h0M198.4 689.6h0M199.4 707.9h0M196.6 702.5h0M196.7 730.6h0M196.4 706.5h0M196.7 708.1h0M194 716.4h0M194.3 724.4h0M198.7 707.8h0M197.6 710.6h0M197.2 676.4h0M201.9 714.9h0M199 726.8h0M197.5 694.4h0M200 722.2h0M198.6 712.9h0M199.2 744.7h0M196.4 695.9h0M200.4 746h0M199.6 690.7h0M203.3 703h0M199.1 721.6h0M195.5 724h0M202.4 706h0M200.6 682.1h0M194.5 714.1h0M201.1 702.5h0M194.7 709.4h0M198.1 686.8h0M200 744.6h0M193.5 712.9h0M193.9 718.1h0M195 708.7h0M196 702.2h0M199 712.5h0M196.6 719.8h0M198.4 686.7h0M195.1 706.6h0M195 704.4h0M194 705.7h0M199.5 731.8h0M198.2 728.8h0M200.6 708h0M194.6 698h0M202.6 721.9h0M203.6 706.1h0M198 731.5h0M199.2 697.5h0M194.5 724.3h0M200 711.9h0M198 693.9h0M200 708.9h0M196.9 680.9h0M197.6 721.9h0M196.6 699.5h0M201.9 726.1h0M195.5 708.4h0M199.8 688.3h0M199.8 743.1h0M200.9 691h0M196.4 707.3h0M199.6 738.4h0M196 715.3h0M200.3 679.7h0M197.7 694.2h0M196.6 721h0M199.1 732.3h0M202 691h0M200.6 692.8h0M199.6 697.1h0M199.8 686.3h0M198.4 700h0M197.3 679.8h0M196.4 710.4h0M197.9 728.5h0M199.4 698.1h0M202.6 723.3h0M201.4 690.6h0M196.4 690.4h0M197.6 682.2h0M197.5 739h0M200.7 688.6h0M197.7 674.8h0M196.6 689h0M195.7 695h0M199.9 725.4h0M201.4 712.7h0M196 723.8h0M203.3 712.1h0M199.6 686.7h0M198.1 711.8h0M197.1 728.5h0M199.7 729.1h0M198.9 727.6h0M202.9 727.3h0M199.1 699.4h0M201.7 686.7h0M202.2 708.7h0M197.3 725.2h0M196.6 698.4h0M198.5 724.5h0M199.8 724.5h0M201.9 717.9h0M197.1 725.6h0M196.6 710.2h0M200.8 702.9h0M199.4 665.5h0M199.3 724.7h0M201.6 732.8h0M198.9 743.7h0M196.8 714.9h0M201.6 705.7h0M198.4 694.8h0M197.6 697.8h0M197.4 680.1h0M197.2 730.2h0M197.2 695.3h0M203.7 707.7h0M198.8 680.3h0M198.6 721h0M199 692.7h0M200 673.7h0M195.3 715.2h0M200.7 734h0M198.6 671.3h0M198.9 724.2h0M200.1 719.9h0M198.2 729.8h0M202 712.9h0M199 713.9h0M197.3 740.9h0M198.6 703.9h0M197.1 711h0M197.1 737.8h0M201 731.1h0M199.2 699.2h0M201 707h0M199.6 721.2h0M196.7 704.5h0M200.7 719.8h0M197.9 725.6h0M197.3 670.6h0M198.6 683.7h0M196.3 726h0M199.8 740.2h0M199.5 722h0M200.6 734.7h0M200.1 690.2h0M195.4 720.8h0M199.9 717.3h0M200.7 693.5h0M195.8 719.2h0M201.1 716.7h0M203.5 718.9h0M198.6 706h0M201.4 699.1h0M195.9 710.7h0M197.7 703.9h0M200.8 680h0M201.1 701.9h0M201.3 697.5h0M198.5 704.5h0M201.7 715.6h0M202.4 697.7h0M200.1 696.9h0M195.4 700.4h0M195.1 702.6h0M199.9 724.7h0M195.6 731.4h0M200.4 716.9h0M198.6 671.1h0M199.3 732.6h0M197.8 676.3h0M204 713.2h0M200.7 731.5h0M199.1 735.6h0M199.6 717h0M199.9 726.2h0M197.2 709.8h0M198.5 698.4h0M201.6 697.2h0M199.6 713.1h0M203.7 715.6h0M200.6 690.6h0M201.1 719.7h0M198 705.6h0M199.8 745.2h0M196.8 709.2h0M200.6 740.3h0M198.1 727.1h0M197.7 710.3h0M199.9 731h0M193.8 716.5h0M200.4 680h0M198.6 716.7h0M201.2 705.8h0M198 712.3h0M201.6 707.9h0M198.4 703h0M194.9 711.1h0M200 697.5h0M200.9 737h0M198.7 675.7h0M194.1 721.8h0M201.2 688.3h0M199.1 693.7h0M196 736.3h0M200 717h0M203.6 723.4h0M199.6 695.1h0M201.6 735.4h0M198.6 656.4h0M193.6 711.9h0M194.8 702.4h0M201.8 717.5h0M194.6 712.1h0M198.1 719.9h0M202.5 703.2h0M198.7 691.1h0M199.9 738.3h0M196.5 736.4h0M200 722h0M198.3 706.4h0M195.9 725.8h0M197.6 723.9h0M200.4 696h0M196.8 725.3h0M196.4 691.9h0M201.7 722.7h0M200.1 692.7h0M202.3 704.1h0M197.5 667.5h0M200 708.5h0M198.5 727.6h0M198.8 735.8h0M197.2 716.2h0M194.2 719.4h0M201.1 701.7h0M200.2 692.8h0M194.7 696.6h0M199.9 669.2h0M194.6 696.9h0M197.7 709.6h0M200.7 691.9h0M199.9 732.6h0M195.7 731.5h0M200.9 732.3h0M199.9 702h0M200.2 701.3h0M198.9 709.4h0M197.9 698.5h0M201.7 712.3h0M197.7 728.8h0M201 716.7h0M202.6 714h0M195.7 706.6h0" stroke="#1466c2" stroke-width="2.5" fill="none" stroke-linecap="round"/>
<path d="M212.6 703.3h0M210.5 707.9h0M212.4 698.9h0M216.3 709.2h0M210.6 711.6h0M216.3 699.9h0M211.9 695.7h0M217.6 698.1h0M214.2 719.6h0M218.7 707.4h0M215.1 738.4h0M219 694.2h0M217.8 696.3h0M214.8 712.2h0M210.1 707.2h0M219.3 707.8h0M213.4 735.1h0M216 655.2h0M213.5 685.2h0M216.5 731.7h0M213.4 704.6h0M214.1 709h0M214.4 733.7h0M216.7 722.1h0M212.2 721.8h0M218.5 708.9h0M213.2 738h0M213.2 675.3h0M218.4 712h0M214.7 668.2h0M215 729.7h0M216.5 691.1h0M212.2 727.2h0M212 727.2h0M217.5 713.4h0M213 676.5h0M213.1 681.7h0M210.8 714.9h0M214.9 686h0M212.7 734.1h0M216.1 719.2h0M210.2 704.6h0M217.1 673.4h0M215.1 671.8h0M215.2 692.1h0M217.5 732.5h0M210.3 705.6h0M213.7 726.8h0M217.1 681.3h0M211.6 708.2h0M219.1 709.2h0M209.7 704.2h0M215.9 745.6h0M211.6 716.8h0M219 696.8h0M211.1 696.2h0M214.3 710.3h0M216.2 678.4h0M214.6 671.3h0M215.2 686.7h0M211.8 720.1h0M215.1 706.8h0M214.8 690.6h0M213.6 717.1h0M213.1 708.4h0M214.3 674.4h0M216.8 719.8h0M210.6 708.9h0M214.5 718.8h0M212 702.1h0M212.7 725.5h0M211.6 708.1h0M219.4 696.6h0M211.1 705.5h0M214.2 695.6h0M216.3 729.8h0M217.7 688.7h0M212.7 697h0M214.9 697.4h0M216.6 678.4h0M217.8 690.6h0M217.3 687.1h0M211.8 703.5h0M214.5 702.4h0M214.8 691.6h0M214 709.8h0M217.7 682.6h0M214.3 666.2h0M215.9 742.9h0M217.7 701.9h0M214.9 689.1h0M216 745.4h0M212.9 709.2h0M213.4 734.2h0M218.7 721.4h0M213.3 735h0M211.1 698.8h0M213.9 719.3h0M218.4 692h0M210.3 711.7h0M214.3 686.5h0M214 690.4h0M218.3 713.2h0M214.9 729.2h0M212.1 683.8h0M214.5 670.4h0M214.4 727.3h0M214.1 672.7h0M215.2 691.8h0M211.8 681.3h0M211.7 696h0M214.4 688h0M213.5 714.6h0M209.8 697.2h0M216.3 694.1h0M218.8 700.3h0M214.3 702.5h0M218 709.5h0M214.5 696.6h0M213.6 715h0M216.1 716.8h0M214.4 691.4h0M219.8 697.7h0M218.3 693.9h0M215.1 719.5h0M213.7 745.4h0M210.8 692.1h0M216.8 693h0M212.8 669.5h0M214.2 688.3h0M212.3 686.3h0M215.4 673.1h0M214.4 740.4h0M210 705.8h0M218.8 694.7h0M216.9 738.9h0M218.5 689h0M214.4 703.2h0M217.8 692.3h0M215.6 702.6h0M218.1 680.9h0M214.6 712.1h0M213.2 735.8h0M215.9 720.3h0M211 698.8h0M214.7 733.3h0M213.5 672.1h0M212.1 696h0M213.6 698.1h0M215.5 695.9h0M214.4 679.2h0M211.9 716.6h0M215.7 718.6h0M217.1 727.4h0M214.9 707.1h0M217.8 688.8h0M214.5 733.2h0M218.1 719.8h0M213.4 687.6h0M215.8 652.3h0M215.5 739.4h0M218.4 686.3h0M215 670.8h0M212.8 698h0M212.4 712h0M217.5 676.2h0M215.6 706.4h0M215.2 732.9h0M216.5 726.4h0M214.6 737.9h0M216.2 710.8h0M216.3 668.4h0M216.5 723.5h0M211.8 696.4h0M215.5 724.7h0M209.7 703.3h0M212.7 721.2h0M217.3 702.5h0M210.2 714.2h0M217.7 716.8h0M215.9 686.9h0M213.6 737.7h0M219.8 710.1h0M217.7 697.1h0M214.2 669.6h0M211.6 722.2h0M219.6 693.5h0M209.7 699.9h0M213.1 705.4h0M211.8 704.9h0M219 707.1h0M213.6 703.3h0M216.9 687.7h0M215.9 690.8h0M216.8 712.5h0M211.9 698.6h0M217.4 688.6h0M212 701.2h0M214.3 722.4h0M210.3 695.9h0M213.5 661.7h0M218.6 693.1h0M212.1 712.6h0M210.3 714.3h0M215.7 727.2h0M214.1 720.6h0M216.6 714.5h0M217.1 681.9h0M213 679.9h0M215.8 727.9h0M213.3 686h0M218.2 707.5h0M213.1 682.6h0M211.6 696.5h0M214 695.9h0M217 688.8h0M210.6 700h0M212.5 720.9h0M217.4 727.1h0M212 700.7h0M214.2 690.8h0M210.4 690.2h0M215.6 678.6h0M217.1 715.5h0M215.3 666.9h0M214.3 718h0M215.4 725.5h0M218.3 697.2h0M218.2 721.7h0M215.9 684.6h0M219.6 709.8h0M211.1 706.9h0M216.1 682.3h0M213.6 675.9h0M219 696.7h0M217.6 685.9h0M212.4 704.3h0M217 726.9h0M218.4 718h0M216.2 698h0M217.6 720.3h0M213.1 744.3h0M217.2 713.5h0M209.7 698h0M216.4 701.3h0M210.7 688.4h0M216.2 721.6h0M213.4 673.5h0M211.5 683.6h0M215 709.4h0M212.5 702.1h0M219.3 716.8h0M216.1 709.3h0M210.5 717.6h0M215.9 719.9h0M217.7 688.8h0M211.3 715h0M217.6 707.5h0M218.9 688.6h0M211.9 696h0M217.2 719.2h0M211.2 702.6h0M214.4 740h0M210.2 692.4h0M215.8 686.8h0M215.3 725.5h0M214.9 694.4h0M213.7 742.3h0M218 701.5h0M212.9 710.8h0M213.2 723.7h0M213.1 735h0M217.6 716.9h0M213.6 720.8h0M211 706.8h0M212.1 731.8h0M210.6 699h0M211.9 713.1h0M216 706h0M215.3 708.3h0M211.7 689.1h0M213.6 699.7h0M210.7 714.1h0M213.8 698.3h0M216.7 722.4h0M216.6 682.5h0M216.3 664.8h0M217.3 696.8h0M214.5 669.5h0M211.8 686.6h0M212.8 673.8h0M212.2 707.2h0M215.3 695.2h0M214 673.2h0M213.9 697.6h0M216.3 670.1h0M217.2 700.2h0M219.8 708.9h0M215 735.4h0M213.6 732.5h0M215.5 676.9h0M214.6 698.8h0M217.8 704.8h0M213.3 682h0M212.9 678.4h0M214.8 677h0M210.5 708.6h0M215.1 685.8h0M213.4 729h0M217.5 702.3h0M220.1 706.1h0M214.8 726.6h0M218.3 711.3h0M211.3 717.7h0M209.9 704.7h0M213.2 712.9h0M213.6 692.1h0M211.6 708.4h0M213.6 707h0M215.9 725.9h0" stroke="#1466c2" stroke-width="2.5" fill="none" stroke-linecap="round"/>
<path d="M226.7 691.2h0M235.3 693.1h0M229.2 677.8h0M230.6 703.8h0M230.5 732h0M232.1 729.5h0M233.2 691.7h0M235.4 702.1h0M232.8 709.1h0M229.2 678h0M229.9 658.7h0M228.1 721.4h0M233 675.4h0M226.2 698h0M227.9 695.9h0M230.4 738.4h0M235.3 704.7h0M227.8 706.1h0M232.5 666.2h0M230.9 686.8h0M226.6 711.6h0M228 695.6h0M231.9 700.3h0M228.1 722.3h0M232.2 730h0M232 690.7h0M226.5 698.2h0M234.1 687.5h0M232.7 709h0M232.3 692h0M225.6 704.5h0M234.9 695.2h0M229.4 705.5h0M228.2 700.3h0M230.8 733.7h0M231 679.9h0M227.6 714h0M235.4 712.7h0M229.6 681.7h0M231.5 708.6h0M231.8 701.1h0M227.7 707.6h0M228.2 701.7h0M230.4 688.4h0M225.7 697.3h0M234.7 705.3h0M227.4 684h0M226.3 715.7h0M229.7 727.2h0M232.7 713.9h0M229.6 690.2h0M226.7 697.2h0M230.6 710.4h0M233.7 714.9h0M235.9 710.8h0M230.4 677h0M228.5 680.5h0M227 713h0M231 656.6h0M235.9 698.8h0M231.4 713.9h0M231.1 701.9h0M230.3 667h0M232.6 726.5h0M228.8 689.7h0M231.7 686.6h0M231.6 700.1h0M232.9 673.1h0M230.4 664h0M232.4 731.9h0M227.1 692.9h0M228.3 706.3h0M232.9 723.2h0M234.9 704.5h0M227 695.8h0M227.1 690.8h0M232.8 683.5h0M227.1 695.8h0M233.3 686.9h0M228.5 715.1h0M230.5 713.3h0M231.4 716.2h0M232.3 688.3h0M228.6 699.4h0M230.1 685.2h0M231.5 733.7h0M227 702h0M229.7 700.7h0M225.6 704.9h0M234.2 697.8h0M228.1 687.3h0M232.6 697.7h0M226.3 712.4h0M232.6 718.8h0M232.7 688.2h0M234.3 683.2h0M229 684.9h0M235.9 696.8h0M230.9 726.1h0M232.9 719h0M232 735.6h0M231.5 723.6h0M229.6 698.4h0M230.3 720.2h0M229.4 729.7h0M235 709.1h0M228.5 723.2h0M229.3 688.5h0M231 712.6h0M230.2 730.2h0M230.7 725.4h0M227.2 714.6h0M229.6 670.3h0M229.1 669.7h0M226.5 708.4h0M233.4 693.5h0M233.5 710.9h0M233.3 687.4h0M230.7 729.8h0M233.9 702.4h0M228.4 698.9h0M233 690.9h0M233.2 696.9h0M230.7 712.1h0M231.6 735.6h0M232 690.9h0M232.6 732.6h0M232.4 720.7h0M231.5 700.9h0M226.8 703.2h0M232.4 675.9h0M229.6 682.7h0M231.6 693.4h0M229.5 717.1h0M234.8 719.5h0M226.3 698.1h0M230.9 708.4h0M227.2 684.3h0M230.3 703.2h0M235.2 690.9h0M228.3 705.5h0M230.9 668.7h0M234.2 695.9h0M230.3 661.7h0M229.5 688.9h0M232.8 688.3h0M233.6 717.2h0M232.7 716.1h0M232.8 707.4h0M231.8 702h0M226.5 696.3h0M232.6 716.2h0M228.6 681.3h0M232 674.9h0M228.2 687.6h0M232.1 682.9h0M235.6 699.7h0M226.4 710.9h0M235.8 708.6h0M227 720.2h0M226.8 711.5h0M228.7 684.2h0M232.1 705.2h0M231.6 713.6h0M226 714.3h0M228.7 727.7h0M229.6 719.7h0M232.1 729h0M228.2 721.3h0M231.1 681h0M230.3 695.7h0M233.1 688h0M228.6 722.4h0M230.2 709.8h0M230.9 657.3h0M235.1 699.4h0M231.2 684.3h0M228.7 682.8h0M229.8 705.9h0M231.1 734.3h0M227.4 713.4h0M229.6 735.4h0M233.2 679.3h0M228.5 729.1h0M231.4 696.5h0M233.2 680h0M231.2 741.5h0M231 738.7h0M231.9 725.1h0M228.8 686.8h0M231.4 741.5h0M233.5 714.6h0M232.4 718.5h0M232.2 704.3h0M230.8 680.8h0M228.2 703.7h0M234.6 706.1h0M231.4 725.7h0M226.7 710.6h0M235.2 718.1h0M232.5 713.9h0M234.1 695.2h0M230.1 742.4h0M231.5 681.8h0M231.6 675.5h0M230.4 692.8h0M230.4 683.8h0M233.2 713.4h0M228.5 714.6h0M230.4 738.8h0M231.3 678h0M228.5 700.1h0M228 712.1h0M235.3 694.5h0M233.4 723.5h0M228.6 721.2h0M231.5 718.1h0M234.5 704.4h0M231.3 684.1h0M229.5 703.3h0M233.5 710.7h0M231.6 662.3h0M227.2 689.8h0M227.7 710.8h0M226.3 716.3h0M229.5 705.1h0M227 698.6h0M226.9 705.9h0M227.7 715.1h0M233.7 723.5h0M231.2 659h0M234.3 720.9h0M232.9 712.5h0M230.1 721.4h0M226.7 706.7h0M234.8 711.1h0M233.3 718.3h0M232.4 662h0M229 680h0M229.5 711.8h0M233.6 694.2h0M235.6 700.9h0M225.8 700.9h0M231.3 716.8h0M232.3 688.1h0M230.4 721.6h0M232.3 694.8h0M231.4 720.3h0M229.6 740.7h0M226.4 691.9h0M231.5 693.8h0M233.9 700.9h0M228.3 719.9h0M232.3 722.9h0M231.9 693.6h0M234.3 712.4h0M230.4 689.4h0M229.3 727.1h0M233.6 697.7h0M228.3 704.6h0M233.1 710.4h0M227 695.9h0M231.5 698.7h0M232.9 698.7h0M232.5 674.3h0M227.9 720.3h0M230.9 681.1h0M231.4 687.8h0M229.2 680h0M232.8 724.9h0M234.7 714.5h0M235.1 700.6h0M229.7 734.9h0M234 695.4h0M230 714.1h0M232.3 684.4h0M231.3 677.1h0M234.4 704.2h0M229.1 673.8h0M234.3 697.1h0M226.9 704.6h0M231.3 726.3h0M234.6 711.2h0M234.6 703.2h0M229.2 683.4h0M227.4 720.4h0M236 701h0M230.5 701h0M226.5 702.8h0M232.1 728.3h0M230.1 674.1h0M233 699.9h0M234 715.2h0M234.4 718.8h0M232.9 706.5h0M229.7 711h0M235.7 699.9h0M232.5 726.2h0M230.1 735.2h0M229.7 701.3h0" stroke="#1466c2" stroke-width="2.5" fill="none" stroke-linecap="round"/>
<line x1="177.4" y1="725.81" x2="188.4" y2="725.81" stroke="#000" stroke-width="1.5"/>
<line x1="193.3" y1="710.02" x2="204.3" y2="710.02" stroke="#000" stroke-width="1.5"/>
<line x1="209.4" y1="705.34" x2="220.4" y2="705.34" stroke="#000" stroke-width="1.5"/>
<line x1="225.3" y1="704.17" x2="236.3" y2="704.17" stroke="#000" stroke-width="1.5"/>
<line x1="182.9" y1="649.8" x2="198.8" y2="649.8" stroke="#9a9a9a" stroke-width="1.1"/>
<text x="193" y="646.4" text-anchor="middle">&lt;0.0001</text>
<line x1="198.8" y1="635.3" x2="214.9" y2="635.3" stroke="#9a9a9a" stroke-width="1.1"/>
<text x="205" y="631.7" text-anchor="middle">0.0166</text>
<line x1="198.8" y1="620.2" x2="230.8" y2="620.2" stroke="#9a9a9a" stroke-width="1.1"/>
<text x="214" y="616.8" text-anchor="middle">0.0010</text>
<!-- panel_m -->
<text x="262.5" y="628.9" font-size="16.5" fill="#000" font-weight="bold" stroke="#000" stroke-width="0.7">m</text>
<line x1="309.8" y1="644.4" x2="309.8" y2="750.7" stroke="#1a1a1a" stroke-width="1"/>
<line x1="309.3" y1="750.2" x2="379" y2="750.2" stroke="#1a1a1a" stroke-width="1.1"/>
<line x1="306.8" y1="750.2" x2="309.8" y2="750.2" stroke="#1a1a1a" stroke-width="1"/>
<text x="304.8" y="753.8" text-anchor="end">0</text>
<line x1="306.8" y1="715.1" x2="309.8" y2="715.1" stroke="#1a1a1a" stroke-width="1"/>
<text x="304.8" y="718.7" text-anchor="end">5</text>
<line x1="306.8" y1="680" x2="309.8" y2="680" stroke="#1a1a1a" stroke-width="1"/>
<text x="304.8" y="683.6" text-anchor="end">10</text>
<line x1="306.8" y1="644.9" x2="309.8" y2="644.9" stroke="#1a1a1a" stroke-width="1"/>
<text x="304.8" y="648.5" text-anchor="end">15</text>
<text x="325.8" y="760" text-anchor="end" transform="rotate(-45 325.8 760)">d40</text>
<text x="341.9" y="760" text-anchor="end" transform="rotate(-45 341.9 760)">d60</text>
<text x="358" y="760" text-anchor="end" transform="rotate(-45 358 760)">d70</text>
<text x="374.2" y="760" text-anchor="end" transform="rotate(-45 374.2 760)">d80</text>
<line x1="321.3" y1="750.2" x2="321.3" y2="753.2" stroke="#1a1a1a" stroke-width="1"/>
<line x1="337.4" y1="750.2" x2="337.4" y2="753.2" stroke="#1a1a1a" stroke-width="1"/>
<line x1="353.5" y1="750.2" x2="353.5" y2="753.2" stroke="#1a1a1a" stroke-width="1"/>
<line x1="369.7" y1="750.2" x2="369.7" y2="753.2" stroke="#1a1a1a" stroke-width="1"/>
<rect x="316.05" y="729.84" width="10.5" height="20.36" fill="#0f4f93" stroke="none" stroke-width="1"/>
<circle cx="319.45" cy="702.46" r="2.1" fill="#aec0ee" stroke="#2a4a8a" stroke-width="0.5"/>
<circle cx="318.52" cy="716.5" r="2.1" fill="#aec0ee" stroke="#2a4a8a" stroke-width="0.5"/>
<circle cx="320.57" cy="722.82" r="2.1" fill="#aec0ee" stroke="#2a4a8a" stroke-width="0.5"/>
<circle cx="318.88" cy="723.52" r="2.1" fill="#aec0ee" stroke="#2a4a8a" stroke-width="0.5"/>
<circle cx="318.27" cy="727.74" r="2.1" fill="#aec0ee" stroke="#2a4a8a" stroke-width="0.5"/>
<circle cx="320.61" cy="732.65" r="2.1" fill="#aec0ee" stroke="#2a4a8a" stroke-width="0.5"/>
<circle cx="324.23" cy="737.56" r="2.1" fill="#aec0ee" stroke="#2a4a8a" stroke-width="0.5"/>
<circle cx="323.4" cy="741.78" r="2.1" fill="#aec0ee" stroke="#2a4a8a" stroke-width="0.5"/>
<circle cx="323.16" cy="746.69" r="2.1" fill="#aec0ee" stroke="#2a4a8a" stroke-width="0.5"/>
<line x1="321.3" y1="734.05" x2="321.3" y2="725.63" stroke="#000" stroke-width="1"/>
<line x1="318.3" y1="725.63" x2="324.3" y2="725.63" stroke="#000" stroke-width="1"/>
<line x1="318.3" y1="734.05" x2="324.3" y2="734.05" stroke="#000" stroke-width="1"/>
<rect x="332.15" y="696.15" width="10.5" height="54.05" fill="#0f4f93" stroke="none" stroke-width="1"/>
<circle cx="335.45" cy="673.68" r="2.1" fill="#aec0ee" stroke="#2a4a8a" stroke-width="0.5"/>
<circle cx="337.66" cy="684.21" r="2.1" fill="#aec0ee" stroke="#2a4a8a" stroke-width="0.5"/>
<circle cx="335.84" cy="689.13" r="2.1" fill="#aec0ee" stroke="#2a4a8a" stroke-width="0.5"/>
<circle cx="335.11" cy="699.66" r="2.1" fill="#aec0ee" stroke="#2a4a8a" stroke-width="0.5"/>
<circle cx="334.64" cy="701.06" r="2.1" fill="#aec0ee" stroke="#2a4a8a" stroke-width="0.5"/>
<circle cx="335.4" cy="702.46" r="2.1" fill="#aec0ee" stroke="#2a4a8a" stroke-width="0.5"/>
<circle cx="340.39" cy="705.97" r="2.1" fill="#aec0ee" stroke="#2a4a8a" stroke-width="0.5"/>
<circle cx="339.7" cy="708.08" r="2.1" fill="#aec0ee" stroke="#2a4a8a" stroke-width="0.5"/>
<circle cx="339.55" cy="697.55" r="2.1" fill="#aec0ee" stroke="#2a4a8a" stroke-width="0.5"/>
<line x1="337.4" y1="699.66" x2="337.4" y2="692.64" stroke="#000" stroke-width="1"/>
<line x1="334.4" y1="692.64" x2="340.4" y2="692.64" stroke="#000" stroke-width="1"/>
<line x1="334.4" y1="699.66" x2="340.4" y2="699.66" stroke="#000" stroke-width="1"/>
<rect x="348.25" y="681.76" width="10.5" height="68.44" fill="#0f4f93" stroke="none" stroke-width="1"/>
<circle cx="355.6" cy="649.81" r="2.1" fill="#aec0ee" stroke="#2a4a8a" stroke-width="0.5"/>
<circle cx="351.35" cy="664.56" r="2.1" fill="#aec0ee" stroke="#2a4a8a" stroke-width="0.5"/>
<circle cx="352.17" cy="666.66" r="2.1" fill="#aec0ee" stroke="#2a4a8a" stroke-width="0.5"/>
<circle cx="354.39" cy="668.07" r="2.1" fill="#aec0ee" stroke="#2a4a8a" stroke-width="0.5"/>
<circle cx="355.12" cy="668.07" r="2.1" fill="#aec0ee" stroke="#2a4a8a" stroke-width="0.5"/>
<circle cx="355.98" cy="680.7" r="2.1" fill="#aec0ee" stroke="#2a4a8a" stroke-width="0.5"/>
<circle cx="356.16" cy="699.66" r="2.1" fill="#aec0ee" stroke="#2a4a8a" stroke-width="0.5"/>
<circle cx="350.61" cy="702.46" r="2.1" fill="#aec0ee" stroke="#2a4a8a" stroke-width="0.5"/>
<circle cx="354.24" cy="704.57" r="2.1" fill="#aec0ee" stroke="#2a4a8a" stroke-width="0.5"/>
<line x1="353.5" y1="688.42" x2="353.5" y2="675.09" stroke="#000" stroke-width="1"/>
<line x1="350.5" y1="675.09" x2="356.5" y2="675.09" stroke="#000" stroke-width="1"/>
<line x1="350.5" y1="688.42" x2="356.5" y2="688.42" stroke="#000" stroke-width="1"/>
<rect x="364.45" y="679.3" width="10.5" height="70.9" fill="#0f4f93" stroke="none" stroke-width="1"/>
<circle cx="370.9" cy="651.22" r="2.1" fill="#aec0ee" stroke="#2a4a8a" stroke-width="0.5"/>
<circle cx="369.74" cy="654.03" r="2.1" fill="#aec0ee" stroke="#2a4a8a" stroke-width="0.5"/>
<circle cx="367.44" cy="666.66" r="2.1" fill="#aec0ee" stroke="#2a4a8a" stroke-width="0.5"/>
<circle cx="369.52" cy="670.87" r="2.1" fill="#aec0ee" stroke="#2a4a8a" stroke-width="0.5"/>
<circle cx="366.83" cy="672.98" r="2.1" fill="#aec0ee" stroke="#2a4a8a" stroke-width="0.5"/>
<circle cx="372.74" cy="680" r="2.1" fill="#aec0ee" stroke="#2a4a8a" stroke-width="0.5"/>
<circle cx="372.26" cy="689.13" r="2.1" fill="#aec0ee" stroke="#2a4a8a" stroke-width="0.5"/>
<circle cx="370.03" cy="704.57" r="2.1" fill="#aec0ee" stroke="#2a4a8a" stroke-width="0.5"/>
<circle cx="368.3" cy="713.7" r="2.1" fill="#aec0ee" stroke="#2a4a8a" stroke-width="0.5"/>
<line x1="369.7" y1="685.62" x2="369.7" y2="672.98" stroke="#000" stroke-width="1"/>
<line x1="366.7" y1="672.98" x2="372.7" y2="672.98" stroke="#000" stroke-width="1"/>
<line x1="366.7" y1="685.62" x2="372.7" y2="685.62" stroke="#000" stroke-width="1"/>
<text x="274.5" y="697.8" text-anchor="middle" transform="rotate(-90 274.5 697.8)">Synchronous firing</text>
<text x="286.6" y="697.8" text-anchor="middle" transform="rotate(-90 286.6 697.8)">rate (min<tspan font-size="6.5" dy="-3.5">−1</tspan><tspan dy="3.5">)</tspan></text>
<line x1="321.3" y1="649.8" x2="337.6" y2="649.8" stroke="#9a9a9a" stroke-width="1.1"/>
<text x="332.5" y="646.4" text-anchor="middle">&lt;0.0001</text>
<line x1="338.7" y1="635.3" x2="370.3" y2="635.3" stroke="#9a9a9a" stroke-width="1.1"/>
<text x="355.1" y="631.3" text-anchor="middle">0.0306</text>
<!-- panel_n -->
<text x="-0.5" y="788.3" font-size="16.5" fill="#000" font-weight="bold" stroke="#000" stroke-width="0.7">n</text>
<g clip-path="url(#cn0)">
<rect x="2.2" y="795.1" width="77.8" height="83.7" fill="#08090b" stroke="none" stroke-width="1"/>
<rect x="2.2" y="795.1" width="77.8" height="83.7" fill="url(#spC)" stroke="none" stroke-width="1"/>
<g fill="none" stroke="#9aa0a8" filter="url(#blur1)">
<path d="M46.6 848Q55.4 840.1 59.3 819.6" stroke-width="1.2" opacity="0.35"/>
<path d="M72.9 810.7Q60 800 47 774.3" stroke-width="1.2" opacity="0.35"/>
<path d="M43.3 832.4Q61.4 821.4 85.9 816.6" stroke-width="1.2" opacity="0.35"/>
<path d="M40.8 799.5Q20.3 789.6 2.2 768.6" stroke-width="1.2" opacity="0.35"/>
<path d="M74.4 841.6Q62.1 838.1 64.1 819.2" stroke-width="1.2" opacity="0.35"/>
<path d="M24.3 813Q38.2 795 64.1 782.7" stroke-width="1.2" opacity="0.35"/>
<path d="M21.1 817.9Q38.4 817.1 62 819.6" stroke-width="1.2" opacity="0.35"/>
<path d="M16.6 804.3Q47.5 810.9 70.4 815.6" stroke-width="1.2" opacity="0.35"/>
<path d="M11.8 807.6Q16.7 815.1 35.7 829.9" stroke-width="1.2" opacity="0.35"/>
<path d="M18 811.2Q6.7 793.2 -3.8 779.7" stroke-width="1.2" opacity="0.35"/>
<path d="M44.1 860.8Q39.8 869.5 36 882.1" stroke-width="1.2" opacity="0.35"/>
<path d="M62.9 804.4Q70.8 796.1 77.3 789.6" stroke-width="1.2" opacity="0.35"/>
<path d="M26.7 869.5Q22.7 858.6 18.9 844.2" stroke-width="1.2" opacity="0.35"/>
<path d="M4.8 802.4Q-15.5 786.5 -34.7 773.1" stroke-width="1.2" opacity="0.35"/>
<path d="M41.6 816.9Q62.2 788.8 83.4 776" stroke-width="1.2" opacity="0.35"/>
<path d="M33.1 862.3Q22.6 876.5 22.1 883.9" stroke-width="1.2" opacity="0.35"/>
</g>
<g fill="none" stroke="#f03a3e" filter="url(#blur1)">
<path d="M51.8 816.9C45 807.2 14.3 789 -2.1 763.9" stroke-width=".8" opacity=".9"/>
<path d="M63.1 845.1C39.2 848.4 2.7 831.4 -17.7 839.2" stroke-width=".6" opacity=".8"/>
<path d="M47.5 808.7C48.1 845.8 75.9 864.2 80.2 889.3" stroke-width=".8" opacity=".8"/>
<path d="M-2.2 878.1C-18.9 884.1 -61.7 895.9 -74.9 922.1" stroke-width=".8" opacity=".9"/>
<path d="M17.2 800.7C5.6 828.8 -6.3 845.4 -34.9 858.7" stroke-width=".8" opacity=".6"/>
<path d="M-2.2 870.9C-23.3 855.7 -30.4 848.4 -38.7 837.2" stroke-width=".7" opacity=".7"/>
<path d="M4.4 809.1C10.7 808.9 28.2 827.5 29.3 835.1" stroke-width=".7" opacity=".8"/>
<path d="M17.8 792.3C29.2 794.3 42.7 816.2 62 816.1" stroke-width=".5" opacity=".8"/>
<path d="M30.8 816.5C17.6 794 37.7 784.2 24 773.6" stroke-width=".5" opacity=".9"/>
<path d="M53.8 879.7C30 896.3 35.3 925.8 15.4 948.3" stroke-width=".8" opacity=".7"/>
<path d="M74.1 797.4C57.1 796.9 52.8 785.6 44.7 768.4" stroke-width=".6" opacity=".9"/>
<path d="M76.9 848.8C90 879.3 80 892.9 83.7 918.6" stroke-width=".5" opacity=".9"/>
<path d="M11.1 810.6C21.3 812.8 29.3 814.2 50.1 818.8" stroke-width=".8" opacity=".6"/>
<path d="M9.1 839C34.1 813.1 64.7 818.7 79.1 790.8" stroke-width=".8" opacity=".8"/>
<path d="M30.8 845.1C38.2 816.3 41.3 788.2 53.4 758.3" stroke-width=".7" opacity=".7"/>
<path d="M37.4 875.9C34.1 899.5 35.4 913.8 41.4 920.9" stroke-width=".8" opacity=".9"/>
<path d="M67.8 808.3C36.5 818.9 26.3 835 -7.7 832.7" stroke-width=".6" opacity=".6"/>
<path d="M-.1 819.8C-7.2 818.8 -27 818.5 -44.9 806.1" stroke-width=".6" opacity=".8"/>
<path d="M28 817.2C57 823 71.9 840.7 86.1 868.2" stroke-width=".6" opacity=".7"/>
<path d="M76.5 830.7C53.5 823.4 31.8 816.7 25.2 827.2" stroke-width=".7" opacity=".9"/>
<path d="M56.1 814.4C66 809.6 71.5 823.8 90.7 811.8" stroke-width=".8" opacity=".6"/>
<path d="M12.7 866C-3.3 873.3 -7.4 884.5 -20.7 900.5" stroke-width=".7" opacity=".6"/>
<path d="M44.2 844.8C42.9 873.3 18.8 886.3 9.4 919.1" stroke-width=".7" opacity=".7"/>
<path d="M11.7 840C24.9 849.9 28.9 875.9 32.7 905" stroke-width=".6" opacity=".9"/>
<path d="M82 819.5C93 794.8 86.9 775.6 83.4 768.7" stroke-width=".7" opacity=".9"/>
<path d="M77.4 861.8C63.4 859.9 45.8 855.9 26 845.2" stroke-width=".8" opacity=".9"/>
<path d="M51.7 872.2C57.9 851.4 57.4 846.2 48.5 819.5" stroke-width=".8" opacity=".9"/>
<path d="M58 836.8C62 855.5 40.1 887.2 41.6 903.1" stroke-width=".8" opacity=".7"/>
<path d="M9.4 800.6C-21.9 799.1 -52 776.6 -66.3 775" stroke-width=".7" opacity=".9"/>
<path d="M40.6 854.5C29.9 856.1 11.1 878.1 7.1 895.2" stroke-width=".7" opacity=".7"/>
<path d="M18.6 882.9C14.7 873.3 4.9 854.7 -13.3 838.5" stroke-width=".7" opacity=".6"/>
<path d="M34.8 826.9C43.4 837.5 24.3 857.5 32.9 878.7" stroke-width=".6" opacity=".6"/>
<path d="M77.4 841.4C89.9 844.4 128.7 859.7 138.4 851.7" stroke-width=".6" opacity=".9"/>
<path d="M40.5 797.6C25.9 818.3 9.7 825.4 -23.3 843.7" stroke-width=".7" opacity=".9"/>
<path d="M78.4 871.7C87.2 862.5 92.7 843 113.5 835.5" stroke-width=".6" opacity=".7"/>
<path d="M13.5 851.3C16.5 872.3 -1.3 876.4 1.2 882.4" stroke-width=".5" opacity=".7"/>
<path d="M11.6 850.2C-9.2 846.8 -28.7 833.1 -62.3 821.6" stroke-width=".6" opacity=".7"/>
<path d="M72.4 867C62.1 841.6 29.5 819.2 19.3 797.9" stroke-width=".8" opacity=".9"/>
<path d="M-2.3 790.8C-19.8 808.1 -65.9 802.3 -82.1 818.6" stroke-width=".8" opacity=".8"/>
<path d="M25.2 880.1C54 887.1 73.8 879.1 84 886.7" stroke-width=".7" opacity=".9"/>
<path d="M8.8 830.4C28.6 835.7 29.4 840.7 48.4 828.2" stroke-width=".8" opacity=".6"/>
<path d="M84.1 872.8C80.4 876.2 69 865.4 52.6 876.9" stroke-width=".7" opacity=".9"/>
<path d="M61.2 806.3C51 834.8 53.2 827.9 33.7 856.6" stroke-width=".7" opacity=".6"/>
<path d="M73.1 839.6C106.1 814.7 107.8 812.3 140.8 788.9" stroke-width=".7" opacity=".9"/>
<path d="M36 829C34.2 809.2 36.8 784.1 30.8 777.1" stroke-width=".7" opacity=".8"/>
<path d="M57.3 874.6C42 893 18.5 913.6 -3.2 938.1" stroke-width=".7" opacity=".6"/>
<path d="M76 823.8C83.8 818.9 107.5 822.5 111.1 826.3" stroke-width=".8" opacity=".7"/>
<path d="M27.5 879.2C36.4 846.6 68.4 830.8 81.9 812.4" stroke-width=".5" opacity=".6"/>
<path d="M25.5 819.2C2.3 800.7 -2.9 776.9 -20.5 742.6" stroke-width=".8" opacity=".9"/>
<path d="M8.8 859.3C.2 848.1 17.1 830.7 16.7 807.1" stroke-width=".8" opacity=".9"/>
<path d="M1 878.3C24.3 884.1 32.1 865 50.2 864.2" stroke-width=".7" opacity=".9"/>
<path d="M33.4 855.6C60 842 69.2 853.7 83.7 840.7" stroke-width=".6" opacity=".7"/>
<path d="M21.6 824.2C1.3 838.1 -13.3 841.8 -20.8 859.1" stroke-width=".7" opacity=".9"/>
<path d="M21.4 807.1C15.6 797.1 20.9 767.5 31.5 742.9" stroke-width=".6" opacity=".9"/>
<path d="M29.7 849C31.9 821.2 45.3 803.5 50.1 779.7" stroke-width=".7" opacity=".6"/>
<path d="M2.9 790.4C13.5 776.6 22.9 768.3 16.6 752.3" stroke-width=".8" opacity=".6"/>
<path d="M75.7 825.9C95.5 836.7 116.5 838.7 154.3 847.3" stroke-width=".7" opacity=".8"/>
<path d="M69.8 817.1C92.2 804.9 96.5 813.4 103.4 796.1" stroke-width=".7" opacity=".9"/>
<path d="M4.9 880.7C35.4 893.1 55.8 895.2 73.1 898.6" stroke-width=".8" opacity=".7"/>
<path d="M77.1 865.6C82.5 875.2 99.4 910.1 97.8 919.6" stroke-width=".8" opacity=".6"/>
<path d="M61.3 877.1C66.6 853.9 55.7 816.2 44.2 792.9" stroke-width=".8" opacity=".7"/>
<path d="M20.5 821C8.2 825.7 5.9 829.5 8.8 851.1" stroke-width=".8" opacity=".9"/>
<path d="M26.4 856.9C35.3 851.3 32.9 851 48 833.6" stroke-width=".8" opacity=".8"/>
<path d="M44.3 868.1C70.7 873.1 90.1 888.4 121.6 897" stroke-width=".5" opacity=".9"/>
</g>
</g>
<g clip-path="url(#cn0)" filter="url(#blur1)">
<ellipse cx="29.2" cy="796.6" rx="3.6" ry="2.6" fill="#a08aa8" opacity="0.6" transform="rotate(73.6 29.2 796.6)"/>
<ellipse cx="29.2" cy="796.6" rx="2.8" ry="2.2" fill="#3f2cf6" transform="rotate(73.6 29.2 796.6)"/>
<ellipse cx="58.4" cy="796.6" rx="3.6" ry="2.6" fill="#a08aa8" opacity="0.6" transform="rotate(142.8 58.4 796.6)"/>
<ellipse cx="58.4" cy="796.6" rx="2.4" ry="1.9" fill="#3f2cf6" transform="rotate(142.8 58.4 796.6)"/>
<ellipse cx="77.4" cy="797" rx="3.6" ry="2.6" fill="#a08aa8" opacity="0.6" transform="rotate(113.4 77.4 797)"/>
<ellipse cx="77.4" cy="797" rx="2.9" ry="2.1" fill="#3f2cf6" transform="rotate(113.4 77.4 797)"/>
<ellipse cx="67.9" cy="800.2" rx="3.6" ry="2.6" fill="#a08aa8" opacity="0.6" transform="rotate(64.9 67.9 800.2)"/>
<ellipse cx="67.9" cy="800.2" rx="2.8" ry="2" fill="#3f2cf6" transform="rotate(64.9 67.9 800.2)"/>
<ellipse cx="8" cy="804.6" rx="3.6" ry="2.6" fill="#a08aa8" opacity="0.6" transform="rotate(106.2 8 804.6)"/>
<ellipse cx="8" cy="804.6" rx="2.6" ry="2.2" fill="#3f2cf6" transform="rotate(106.2 8 804.6)"/>
<ellipse cx="8" cy="816.3" rx="3.6" ry="2.6" fill="#a08aa8" opacity="0.6" transform="rotate(110.3 8 816.3)"/>
<ellipse cx="8" cy="816.3" rx="2.4" ry="2.1" fill="#3f2cf6" transform="rotate(110.3 8 816.3)"/>
<ellipse cx="49.6" cy="816.3" rx="3.6" ry="2.6" fill="#a08aa8" opacity="0.6" transform="rotate(72.5 49.6 816.3)"/>
<ellipse cx="49.6" cy="816.3" rx="2.4" ry="2" fill="#3f2cf6" transform="rotate(72.5 49.6 816.3)"/>
<ellipse cx="56.2" cy="813.4" rx="3.6" ry="2.6" fill="#a08aa8" opacity="0.6" transform="rotate(47.9 56.2 813.4)"/>
<ellipse cx="56.2" cy="813.4" rx="2.9" ry="1.9" fill="#3f2cf6" transform="rotate(47.9 56.2 813.4)"/>
<ellipse cx="62.8" cy="811.9" rx="3.6" ry="2.6" fill="#a08aa8" opacity="0.6" transform="rotate(98.1 62.8 811.9)"/>
<ellipse cx="62.8" cy="811.9" rx="2.3" ry="1.9" fill="#3f2cf6" transform="rotate(98.1 62.8 811.9)"/>
<ellipse cx="42.3" cy="825.8" rx="3.6" ry="2.6" fill="#a08aa8" opacity="0.6" transform="rotate(117.3 42.3 825.8)"/>
<ellipse cx="42.3" cy="825.8" rx="2.6" ry="2.1" fill="#3f2cf6" transform="rotate(117.3 42.3 825.8)"/>
<ellipse cx="36.5" cy="832.3" rx="3.6" ry="2.6" fill="#a08aa8" opacity="0.6" transform="rotate(103.3 36.5 832.3)"/>
<ellipse cx="36.5" cy="832.3" rx="2.7" ry="1.9" fill="#3f2cf6" transform="rotate(103.3 36.5 832.3)"/>
<ellipse cx="16.1" cy="839.6" rx="3.6" ry="2.6" fill="#a08aa8" opacity="0.6" transform="rotate(166.3 16.1 839.6)"/>
<ellipse cx="16.1" cy="839.6" rx="2.7" ry="1.8" fill="#3f2cf6" transform="rotate(166.3 16.1 839.6)"/>
<ellipse cx="24.8" cy="840.4" rx="3.6" ry="2.6" fill="#a08aa8" opacity="0.6" transform="rotate(150.3 24.8 840.4)"/>
<ellipse cx="24.8" cy="840.4" rx="2.4" ry="2" fill="#3f2cf6" transform="rotate(150.3 24.8 840.4)"/>
<ellipse cx="58.4" cy="837.4" rx="3.6" ry="2.6" fill="#a08aa8" opacity="0.6" transform="rotate(116.8 58.4 837.4)"/>
<ellipse cx="58.4" cy="837.4" rx="2.8" ry="1.9" fill="#3f2cf6" transform="rotate(116.8 58.4 837.4)"/>
<ellipse cx="73" cy="838.2" rx="3.6" ry="2.6" fill="#a08aa8" opacity="0.6" transform="rotate(53.3 73 838.2)"/>
<ellipse cx="73" cy="838.2" rx="2.6" ry="2.1" fill="#3f2cf6" transform="rotate(53.3 73 838.2)"/>
<ellipse cx="56.2" cy="844.7" rx="3.6" ry="2.6" fill="#a08aa8" opacity="0.6" transform="rotate(83.4 56.2 844.7)"/>
<ellipse cx="56.2" cy="844.7" rx="2.7" ry="2.2" fill="#3f2cf6" transform="rotate(83.4 56.2 844.7)"/>
<ellipse cx="47.4" cy="847.7" rx="3.6" ry="2.6" fill="#a08aa8" opacity="0.6" transform="rotate(11.9 47.4 847.7)"/>
<ellipse cx="47.4" cy="847.7" rx="2.5" ry="2.1" fill="#3f2cf6" transform="rotate(11.9 47.4 847.7)"/>
<ellipse cx="6.6" cy="846.9" rx="3.6" ry="2.6" fill="#a08aa8" opacity="0.6" transform="rotate(146 6.6 846.9)"/>
<ellipse cx="6.6" cy="846.9" rx="2.9" ry="1.9" fill="#3f2cf6" transform="rotate(146 6.6 846.9)"/>
<ellipse cx="64.2" cy="852" rx="3.6" ry="2.6" fill="#a08aa8" opacity="0.6" transform="rotate(44.8 64.2 852)"/>
<ellipse cx="64.2" cy="852" rx="2.7" ry="2.1" fill="#3f2cf6" transform="rotate(44.8 64.2 852)"/>
<ellipse cx="71.5" cy="849.9" rx="3.6" ry="2.6" fill="#a08aa8" opacity="0.6" transform="rotate(143.7 71.5 849.9)"/>
<ellipse cx="71.5" cy="849.9" rx="2.6" ry="1.9" fill="#3f2cf6" transform="rotate(143.7 71.5 849.9)"/>
<ellipse cx="78.8" cy="846.2" rx="3.6" ry="2.6" fill="#a08aa8" opacity="0.6" transform="rotate(126 78.8 846.2)"/>
<ellipse cx="78.8" cy="846.2" rx="2.5" ry="1.8" fill="#3f2cf6" transform="rotate(126 78.8 846.2)"/>
<ellipse cx="33.6" cy="858.6" rx="3.6" ry="2.6" fill="#a08aa8" opacity="0.6" transform="rotate(.4 33.6 858.6)"/>
<ellipse cx="33.6" cy="858.6" rx="2.5" ry="1.9" fill="#3f2cf6" transform="rotate(.4 33.6 858.6)"/>
<ellipse cx="57.7" cy="857.9" rx="3.6" ry="2.6" fill="#a08aa8" opacity="0.6" transform="rotate(98.1 57.7 857.9)"/>
<ellipse cx="57.7" cy="857.9" rx="2.6" ry="2" fill="#3f2cf6" transform="rotate(98.1 57.7 857.9)"/>
<ellipse cx="64.2" cy="865.9" rx="3.6" ry="2.6" fill="#a08aa8" opacity="0.6" transform="rotate(114 64.2 865.9)"/>
<ellipse cx="64.2" cy="865.9" rx="2.4" ry="2.1" fill="#3f2cf6" transform="rotate(114 64.2 865.9)"/>
<ellipse cx="19" cy="866.6" rx="3.6" ry="2.6" fill="#a08aa8" opacity="0.6" transform="rotate(120.7 19 866.6)"/>
<ellipse cx="19" cy="866.6" rx="2.8" ry="2" fill="#3f2cf6" transform="rotate(120.7 19 866.6)"/>
<ellipse cx="28.5" cy="870.3" rx="3.6" ry="2.6" fill="#a08aa8" opacity="0.6" transform="rotate(97.2 28.5 870.3)"/>
<ellipse cx="28.5" cy="870.3" rx="2.8" ry="2.1" fill="#3f2cf6" transform="rotate(97.2 28.5 870.3)"/>
<ellipse cx="4.4" cy="867.4" rx="3.6" ry="2.6" fill="#a08aa8" opacity="0.6" transform="rotate(47.9 4.4 867.4)"/>
<ellipse cx="4.4" cy="867.4" rx="2.8" ry="1.9" fill="#3f2cf6" transform="rotate(47.9 4.4 867.4)"/>
<ellipse cx="11.7" cy="873.2" rx="3.6" ry="2.6" fill="#a08aa8" opacity="0.6" transform="rotate(49.6 11.7 873.2)"/>
<ellipse cx="11.7" cy="873.2" rx="2.8" ry="2" fill="#3f2cf6" transform="rotate(49.6 11.7 873.2)"/>
<ellipse cx="29.2" cy="832.3" rx="3.6" ry="2.6" fill="#a08aa8" opacity="0.6" transform="rotate(27.4 29.2 832.3)"/>
<ellipse cx="29.2" cy="832.3" rx="2.8" ry="2" fill="#3f2cf6" transform="rotate(27.4 29.2 832.3)"/>
</g>
<rect x="80" y="795.1" width="1.2" height="83.7" fill="#d8d8d8" stroke="none" stroke-width="1"/>
<g clip-path="url(#ci0)">
<rect x="81.2" y="795.1" width="14.2" height="83.7" fill="#0c0808" stroke="none" stroke-width="1"/>
<g filter="url(#blur1)" fill="none">
<path d="M81 812 Q88 806 96 798 M81 799 L96 814 M90 795 Q88 830 84 879" stroke="#c83034" stroke-width="0.9" fill="none" opacity="0.75"/>
<path d="M89.5 795 Q91.5 815 89 840 Q87.5 860 88.5 879" stroke="#ff3c3c" stroke-width="1.6" fill="none"/>
<path d="M84 795 L83.5 879" stroke="#8a8a8a" stroke-width="0.8" fill="none" opacity="0.5"/>
</g>
<ellipse cx="88.3" cy="877.8" rx="4" ry="2.5" fill="#4030f0" filter="url(#blur1)"/>
</g>
<text x="41.1" y="791" text-anchor="middle">d25</text>
<g clip-path="url(#cn1)">
<rect x="97" y="795.1" width="77.8" height="83.7" fill="#06100f" stroke="none" stroke-width="1"/>
<rect x="97" y="795.1" width="77.8" height="83.7" fill="url(#spA)" stroke="none" stroke-width="1"/>
<rect x="97" y="795.1" width="77.8" height="83.7" fill="#3a8a8c" stroke="none" stroke-width="1" opacity="0.16"/>
<g fill="none" stroke="#f23e40" filter="url(#blur1)">
<path d="M93.7 822.4C90.3 828.9 66.4 857 67.7 861.4" stroke-width=".8" opacity=".8"/>
<path d="M169.8 854C175 836.6 189 829.1 199.6 813.8" stroke-width=".6" opacity=".8"/>
<path d="M174.4 860.3C197.1 850.2 225.3 868.3 233 862" stroke-width=".8" opacity=".8"/>
<path d="M147.9 827.2C126.4 817.1 101.6 811.2 94.4 799.2" stroke-width=".6" opacity=".7"/>
<path d="M105.4 860.4C85 868.6 60.6 866.8 43.2 878.7" stroke-width=".9" opacity=".9"/>
<path d="M105.5 803.4C85.4 817.6 72.9 844.9 59.1 865.7" stroke-width=".8" opacity=".7"/>
<path d="M127.1 882.3C128 859.6 140.1 847.8 129.3 839.2" stroke-width=".9" opacity=".7"/>
<path d="M111.7 822.2C101.4 835 86.9 855.2 88.4 867.2" stroke-width=".8" opacity=".7"/>
<path d="M103.8 793.4C115.2 822.5 128.2 822.3 128.9 849" stroke-width=".7" opacity=".7"/>
<path d="M98.1 792.7C81.4 773.7 35.9 774 13.8 770.1" stroke-width=".9" opacity=".6"/>
<path d="M130.7 872C133.8 863 127.1 854 138.8 832" stroke-width=".8" opacity=".7"/>
<path d="M121.4 798.5C134.8 795.3 146.5 789.7 155.4 774.7" stroke-width=".7" opacity=".8"/>
<path d="M110.6 856.5C116.6 841.4 99.9 811 112.1 798.6" stroke-width=".6" opacity=".8"/>
<path d="M164.9 811.7C175.5 813.7 184.4 807.5 202 792.5" stroke-width=".6" opacity=".7"/>
<path d="M165.8 851.5C180.6 854 204.5 867.8 208.3 893" stroke-width=".9" opacity=".8"/>
<path d="M149.7 824.8C161.1 835 150.2 867 151.3 884.4" stroke-width=".9" opacity=".8"/>
<path d="M175.3 855.7C137.8 873 110.8 868.5 96.1 889.7" stroke-width=".6" opacity=".8"/>
<path d="M161.9 864.7C144.4 851.5 132.8 840.9 124.3 828.5" stroke-width=".8" opacity=".6"/>
<path d="M173.6 802.3C168.9 806 183.9 785 195.3 780.3" stroke-width=".9" opacity=".6"/>
<path d="M145.3 871.4C126.5 881.5 117.2 878.6 114.1 874.7" stroke-width=".8" opacity=".9"/>
<path d="M148.6 840.4C150 807.1 166.5 796 172.3 771.1" stroke-width=".8" opacity=".7"/>
<path d="M178.6 846C159.3 847.1 159.6 856.9 143.4 865.5" stroke-width=".9" opacity=".7"/>
<path d="M165.8 881C148.2 857.4 137.8 833.4 128 813.1" stroke-width=".9" opacity=".7"/>
<path d="M176.8 858.7C172.9 876.3 183.2 899.1 170.4 914.3" stroke-width=".7" opacity=".8"/>
<path d="M122.1 802.3C109.1 807.9 85.3 842.3 62 852.7" stroke-width=".8" opacity=".9"/>
<path d="M118.9 805.7C119 810.4 105.8 817.9 93.4 824" stroke-width=".8" opacity=".7"/>
<path d="M160.9 871.7C181.4 872.3 214.5 865.5 224.8 868.5" stroke-width=".6" opacity=".8"/>
<path d="M167.4 803.6C157.9 818.2 148.2 848.7 129.4 859.5" stroke-width=".8" opacity=".9"/>
<path d="M103.9 828.8C88.7 847.5 83 838.1 63.8 854" stroke-width=".8" opacity=".8"/>
<path d="M114 822.3C132.7 832.7 135.4 844.1 152.9 864.2" stroke-width=".9" opacity=".7"/>
<path d="M130.8 811.8C114.1 815.2 90 809.7 54.1 816.2" stroke-width=".8" opacity=".7"/>
<path d="M114.9 827.3C112.9 854 132.7 859.1 133.2 892.3" stroke-width=".7" opacity=".8"/>
<path d="M148.7 848.1C164.8 838.9 204.4 851.2 223.2 855.1" stroke-width=".6" opacity=".6"/>
<path d="M125.4 852C144.2 865.2 163.4 852.4 185.1 864.7" stroke-width=".8" opacity=".6"/>
<path d="M100.4 874.1C77.8 859 66.9 859.1 53.2 854.4" stroke-width=".9" opacity=".8"/>
<path d="M126.1 836.8C117.4 848.7 110.9 881.6 107.9 894.1" stroke-width=".6" opacity=".8"/>
<path d="M173.4 845.2C152.5 848.7 108.8 870 94.4 867.5" stroke-width=".7" opacity=".7"/>
<path d="M92.5 810.6C82 794.8 94.9 756.9 85.8 744.7" stroke-width=".8" opacity=".7"/>
<path d="M125.4 817.1C124.9 806 114.1 800.5 90.9 809.3" stroke-width=".7" opacity=".7"/>
<path d="M179 822.3C187.2 819.4 203.5 821.9 231.4 822.2" stroke-width=".6" opacity=".7"/>
<path d="M104.6 820.4C128.5 827.3 144.3 822.3 166.7 817.5" stroke-width=".6" opacity=".8"/>
<path d="M165.3 823.7C192.9 838.6 197.5 859.5 227.5 881.7" stroke-width=".7" opacity=".7"/>
<path d="M167 842.8C185 827 182 804.3 189.5 785.5" stroke-width=".9" opacity=".8"/>
<path d="M140.7 805.7C169.5 787.5 167.9 763.1 192.2 757.9" stroke-width=".7" opacity=".8"/>
<path d="M113.8 857.9C115.9 876.7 125.5 917.7 145 937.1" stroke-width=".9" opacity=".8"/>
<path d="M113.1 868.6C117.9 860.6 97.9 840.9 98.5 825.8" stroke-width=".6" opacity=".6"/>
<path d="M99 866.7C88 868.2 48.3 874.3 36 886.6" stroke-width=".9" opacity=".7"/>
<path d="M95.8 796.6C69 822.2 51.9 846 34.9 853.4" stroke-width=".8" opacity=".7"/>
</g>
</g>
<g clip-path="url(#cn1)" filter="url(#blur1)">
<ellipse cx="98.8" cy="797.9" rx="3.6" ry="2.6" fill="#6a2a8a" opacity="0.6" transform="rotate(58.8 98.8 797.9)"/>
<ellipse cx="98.8" cy="797.9" rx="2.6" ry="2" fill="#3f2cf6" transform="rotate(58.8 98.8 797.9)"/>
<ellipse cx="99.9" cy="803.8" rx="3.6" ry="2.6" fill="#6a2a8a" opacity="0.6" transform="rotate(81.3 99.9 803.8)"/>
<ellipse cx="99.9" cy="803.8" rx="2.9" ry="1.8" fill="#3f2cf6" transform="rotate(81.3 99.9 803.8)"/>
<ellipse cx="118" cy="800.8" rx="3.6" ry="2.6" fill="#6a2a8a" opacity="0.6" transform="rotate(64.6 118 800.8)"/>
<ellipse cx="118" cy="800.8" rx="2.7" ry="2.2" fill="#3f2cf6" transform="rotate(64.6 118 800.8)"/>
<ellipse cx="139" cy="810.8" rx="3.6" ry="2.6" fill="#6a2a8a" opacity="0.6" transform="rotate(157.4 139 810.8)"/>
<ellipse cx="139" cy="810.8" rx="2.5" ry="1.9" fill="#3f2cf6" transform="rotate(157.4 139 810.8)"/>
<ellipse cx="170.6" cy="800.3" rx="3.6" ry="2.6" fill="#6a2a8a" opacity="0.6" transform="rotate(160.2 170.6 800.3)"/>
<ellipse cx="170.6" cy="800.3" rx="2.6" ry="2.2" fill="#3f2cf6" transform="rotate(160.2 170.6 800.3)"/>
<ellipse cx="159.5" cy="817.2" rx="3.6" ry="2.6" fill="#6a2a8a" opacity="0.6" transform="rotate(21.9 159.5 817.2)"/>
<ellipse cx="159.5" cy="817.2" rx="2.8" ry="2.1" fill="#3f2cf6" transform="rotate(21.9 159.5 817.2)"/>
<ellipse cx="102.8" cy="821.9" rx="3.6" ry="2.6" fill="#6a2a8a" opacity="0.6" transform="rotate(179 102.8 821.9)"/>
<ellipse cx="102.8" cy="821.9" rx="2.5" ry="2" fill="#3f2cf6" transform="rotate(179 102.8 821.9)"/>
<ellipse cx="147.2" cy="826" rx="3.6" ry="2.6" fill="#6a2a8a" opacity="0.6" transform="rotate(153.1 147.2 826)"/>
<ellipse cx="147.2" cy="826" rx="2.6" ry="1.8" fill="#3f2cf6" transform="rotate(153.1 147.2 826)"/>
<ellipse cx="115.1" cy="831.8" rx="3.6" ry="2.6" fill="#6a2a8a" opacity="0.6" transform="rotate(123.2 115.1 831.8)"/>
<ellipse cx="115.1" cy="831.8" rx="2.4" ry="1.9" fill="#3f2cf6" transform="rotate(123.2 115.1 831.8)"/>
<ellipse cx="160.1" cy="832.4" rx="3.6" ry="2.6" fill="#6a2a8a" opacity="0.6" transform="rotate(178.9 160.1 832.4)"/>
<ellipse cx="160.1" cy="832.4" rx="2.6" ry="2.2" fill="#3f2cf6" transform="rotate(178.9 160.1 832.4)"/>
<ellipse cx="146.6" cy="834.7" rx="3.6" ry="2.6" fill="#6a2a8a" opacity="0.6" transform="rotate(169.6 146.6 834.7)"/>
<ellipse cx="146.6" cy="834.7" rx="2.4" ry="1.9" fill="#3f2cf6" transform="rotate(169.6 146.6 834.7)"/>
<ellipse cx="127.4" cy="840.5" rx="3.6" ry="2.6" fill="#6a2a8a" opacity="0.6" transform="rotate(137.2 127.4 840.5)"/>
<ellipse cx="127.4" cy="840.5" rx="2.4" ry="1.8" fill="#3f2cf6" transform="rotate(137.2 127.4 840.5)"/>
<ellipse cx="135.5" cy="844.6" rx="3.6" ry="2.6" fill="#6a2a8a" opacity="0.6" transform="rotate(16.8 135.5 844.6)"/>
<ellipse cx="135.5" cy="844.6" rx="2.8" ry="2.2" fill="#3f2cf6" transform="rotate(16.8 135.5 844.6)"/>
<ellipse cx="146.6" cy="847.6" rx="3.6" ry="2.6" fill="#6a2a8a" opacity="0.6" transform="rotate(156.7 146.6 847.6)"/>
<ellipse cx="146.6" cy="847.6" rx="2.5" ry="1.9" fill="#3f2cf6" transform="rotate(156.7 146.6 847.6)"/>
<ellipse cx="158.3" cy="851.1" rx="3.6" ry="2.6" fill="#6a2a8a" opacity="0.6" transform="rotate(95.9 158.3 851.1)"/>
<ellipse cx="158.3" cy="851.1" rx="2.3" ry="1.9" fill="#3f2cf6" transform="rotate(95.9 158.3 851.1)"/>
<ellipse cx="98.2" cy="859.2" rx="3.6" ry="2.6" fill="#6a2a8a" opacity="0.6" transform="rotate(164.5 98.2 859.2)"/>
<ellipse cx="98.2" cy="859.2" rx="2.9" ry="1.9" fill="#3f2cf6" transform="rotate(164.5 98.2 859.2)"/>
<ellipse cx="120.9" cy="856.3" rx="3.6" ry="2.6" fill="#6a2a8a" opacity="0.6" transform="rotate(40.5 120.9 856.3)"/>
<ellipse cx="120.9" cy="856.3" rx="2.7" ry="2.2" fill="#3f2cf6" transform="rotate(40.5 120.9 856.3)"/>
<ellipse cx="135.5" cy="862.2" rx="3.6" ry="2.6" fill="#6a2a8a" opacity="0.6" transform="rotate(102.1 135.5 862.2)"/>
<ellipse cx="135.5" cy="862.2" rx="2.6" ry="2.1" fill="#3f2cf6" transform="rotate(102.1 135.5 862.2)"/>
<ellipse cx="172.3" cy="856.3" rx="3.6" ry="2.6" fill="#6a2a8a" opacity="0.6" transform="rotate(128.7 172.3 856.3)"/>
<ellipse cx="172.3" cy="856.3" rx="2.5" ry="1.9" fill="#3f2cf6" transform="rotate(128.7 172.3 856.3)"/>
<ellipse cx="130.3" cy="875.6" rx="3.6" ry="2.6" fill="#6a2a8a" opacity="0.6" transform="rotate(85.7 130.3 875.6)"/>
<ellipse cx="130.3" cy="875.6" rx="2.6" ry="2.2" fill="#3f2cf6" transform="rotate(85.7 130.3 875.6)"/>
<ellipse cx="143.7" cy="873.8" rx="3.6" ry="2.6" fill="#6a2a8a" opacity="0.6" transform="rotate(34.7 143.7 873.8)"/>
<ellipse cx="143.7" cy="873.8" rx="2.3" ry="2" fill="#3f2cf6" transform="rotate(34.7 143.7 873.8)"/>
<ellipse cx="157.7" cy="872.7" rx="3.6" ry="2.6" fill="#6a2a8a" opacity="0.6" transform="rotate(175.4 157.7 872.7)"/>
<ellipse cx="157.7" cy="872.7" rx="2.9" ry="1.9" fill="#3f2cf6" transform="rotate(175.4 157.7 872.7)"/>
</g>
<rect x="174.8" y="795.1" width="1.2" height="83.7" fill="#d8d8d8" stroke="none" stroke-width="1"/>
<g clip-path="url(#ci1)">
<rect x="176.2" y="795.1" width="14.6" height="83.7" fill="#07161a" stroke="none" stroke-width="1"/>
<rect x="176.2" y="795.1" width="14.6" height="83.7" fill="url(#spA)" stroke="none" stroke-width="1"/>
<g filter="url(#blur2)" fill="none">
<path d="M177.5 795 L183.7 813.7 L190 795 M183.7 813.7 L183.4 850 L183.8 879" stroke="#e8353a" stroke-width="5" fill="none" opacity="0.85"/>
</g>
<g filter="url(#blur1)" fill="none">
<path d="M177.5 795 L183.7 813.7 L190 795 M183.7 813.7 L183.4 850 L183.8 879" stroke="#ff5050" stroke-width="2" fill="none" opacity="0.9"/>
</g>
<ellipse cx="183.6" cy="876" rx="6" ry="7" fill="#f06a70" opacity="0.8" filter="url(#blur2)"/>
<ellipse cx="183.5" cy="877.8" rx="4" ry="2.5" fill="#4030f0" filter="url(#blur1)"/>
</g>
<text x="135.9" y="791" text-anchor="middle">d50</text>
<g clip-path="url(#cn2)">
<rect x="193" y="795.1" width="77.6" height="83.7" fill="#06100f" stroke="none" stroke-width="1"/>
<rect x="193" y="795.1" width="77.6" height="83.7" fill="url(#spA)" stroke="none" stroke-width="1"/>
<rect x="193" y="795.1" width="77.6" height="83.7" fill="url(#spB)" stroke="none" stroke-width="1"/>
<rect x="193" y="795.1" width="77.6" height="83.7" fill="url(#spD)" stroke="none" stroke-width="1"/>
<rect x="193" y="795.1" width="77.6" height="83.7" fill="#3a8a8c" stroke="none" stroke-width="1" opacity="0.16"/>
<g fill="none" stroke="#c83232" filter="url(#blur1)">
<path d="M275.4 875.1C266.9 889.5 274.2 897.8 271.6 919.6" stroke-width=".5" opacity=".5"/>
<path d="M201.5 851.1C207.8 856 230.6 885.4 242.6 891.5" stroke-width=".5" opacity=".3"/>
<path d="M203.8 871.4C186.7 857 176.9 847.7 160.7 853.6" stroke-width=".6" opacity=".4"/>
<path d="M218.9 880.5C237.6 889.9 258.1 900.5 265.9 899.1" stroke-width=".5" opacity=".5"/>
<path d="M208.9 863.9C220.4 851.3 209.8 837.4 224 836.9" stroke-width=".5" opacity=".5"/>
<path d="M263.4 849.1C247 851.2 243.5 877.2 235 885.9" stroke-width=".6" opacity=".5"/>
<path d="M265.1 843.6C268 827.7 253.9 787.5 262.7 776.2" stroke-width=".4" opacity=".4"/>
<path d="M226.9 796.6C210.9 787.2 196.7 754.9 190 740" stroke-width=".6" opacity=".4"/>
<path d="M205.5 795.3C187.1 812.5 178.6 827.9 160 842.2" stroke-width=".6" opacity=".5"/>
<path d="M194.6 875.5C197.7 859.1 177.4 823.6 178.2 801.1" stroke-width=".5" opacity=".5"/>
</g>
</g>
<g clip-path="url(#cn2)" filter="url(#blur1)">
<ellipse cx="207.3" cy="805.5" rx="2.6" ry="2.1" fill="#3f2cf6" transform="rotate(138.1 207.3 805.5)"/>
<ellipse cx="209.6" cy="808.4" rx="2.5" ry="2.1" fill="#3f2cf6" transform="rotate(67 209.6 808.4)"/>
<ellipse cx="231.2" cy="804.9" rx="2.5" ry="2" fill="#3f2cf6" transform="rotate(80.5 231.2 804.9)"/>
<ellipse cx="244.6" cy="810.2" rx="2.5" ry="2" fill="#3f2cf6" transform="rotate(69.1 244.6 810.2)"/>
<ellipse cx="197.3" cy="823.6" rx="2.4" ry="1.9" fill="#3f2cf6" transform="rotate(101.4 197.3 823.6)"/>
<ellipse cx="203.8" cy="821.9" rx="2.5" ry="2.1" fill="#3f2cf6" transform="rotate(117.9 203.8 821.9)"/>
<ellipse cx="236.5" cy="828.3" rx="2.6" ry="2" fill="#3f2cf6" transform="rotate(51.6 236.5 828.3)"/>
<ellipse cx="263.9" cy="823.6" rx="2.6" ry="2.2" fill="#3f2cf6" transform="rotate(59.6 263.9 823.6)"/>
<ellipse cx="259.2" cy="829.5" rx="2.4" ry="2.1" fill="#3f2cf6" transform="rotate(167 259.2 829.5)"/>
<ellipse cx="215.4" cy="842.3" rx="2.6" ry="1.9" fill="#3f2cf6" transform="rotate(113.4 215.4 842.3)"/>
<ellipse cx="196.8" cy="845.2" rx="2.6" ry="1.9" fill="#3f2cf6" transform="rotate(48.3 196.8 845.2)"/>
<ellipse cx="211.4" cy="855.7" rx="2.8" ry="2.2" fill="#3f2cf6" transform="rotate(157.2 211.4 855.7)"/>
<ellipse cx="206.1" cy="868" rx="2.4" ry="2.2" fill="#3f2cf6" transform="rotate(13.6 206.1 868)"/>
<ellipse cx="219.5" cy="876.8" rx="2.5" ry="2.1" fill="#3f2cf6" transform="rotate(103.8 219.5 876.8)"/>
<ellipse cx="245.2" cy="796.2" rx="2.7" ry="2.2" fill="#3f2cf6" transform="rotate(106.9 245.2 796.2)"/>
<ellipse cx="255.1" cy="797.3" rx="2.5" ry="2.1" fill="#3f2cf6" transform="rotate(42.8 255.1 797.3)"/>
</g>
<rect x="270.6" y="795.1" width="1.2" height="83.7" fill="#d8d8d8" stroke="none" stroke-width="1"/>
<g clip-path="url(#ci2)">
<rect x="272.1" y="795.1" width="14.4" height="83.7" fill="#07161a" stroke="none" stroke-width="1"/>
<rect x="272.1" y="795.1" width="14.4" height="83.7" fill="url(#spA)" stroke="none" stroke-width="1"/>
<g filter="url(#blur2)" fill="none">
<path d="M280 795 L279.5 830 L280 879" stroke="#e8353a" stroke-width="5" fill="none" opacity="0.85"/>
</g>
<g filter="url(#blur1)" fill="none">
<path d="M280 795 L279.5 830 L280 879" stroke="#ff5050" stroke-width="2" fill="none" opacity="0.9"/>
</g>
<ellipse cx="280" cy="876" rx="6" ry="7" fill="#f06a70" opacity="0.8" filter="url(#blur2)"/>
<ellipse cx="279.3" cy="877.8" rx="4" ry="2.5" fill="#4030f0" filter="url(#blur1)"/>
</g>
<text x="231.8" y="791" text-anchor="middle">d75</text>
<g clip-path="url(#cn3)">
<rect x="288.3" y="795.1" width="77.8" height="83.7" fill="#06100f" stroke="none" stroke-width="1"/>
<rect x="288.3" y="795.1" width="77.8" height="83.7" fill="url(#spA)" stroke="none" stroke-width="1"/>
<rect x="288.3" y="795.1" width="77.8" height="83.7" fill="url(#spB)" stroke="none" stroke-width="1"/>
<rect x="288.3" y="795.1" width="77.8" height="83.7" fill="url(#spD)" stroke="none" stroke-width="1"/>
<rect x="288.3" y="795.1" width="77.8" height="83.7" fill="#3a8a8c" stroke="none" stroke-width="1" opacity="0.16"/>
<g fill="none" stroke="#dc3438" filter="url(#blur1)">
<path d="M367.9 840.1C341.1 836.9 338 807.5 321.9 802.1" stroke-width=".4" opacity=".6"/>
<path d="M354.9 868.2C369.7 835.7 369.5 815.7 387.6 786.9" stroke-width=".5" opacity=".5"/>
<path d="M366.8 796.3C372 814.5 369.9 815.3 381.6 835.2" stroke-width=".6" opacity=".7"/>
<path d="M325.7 875C304.2 857.2 290.6 862.3 277.7 840.9" stroke-width=".6" opacity=".7"/>
<path d="M361 869.5C343.7 885.8 341.2 900.9 343.5 906.5" stroke-width=".6" opacity=".5"/>
<path d="M356.4 819.8C318.6 810.4 297 822.1 276 811.2" stroke-width=".7" opacity=".6"/>
<path d="M293.3 867.4C297.8 895 283.4 912.5 273.7 931" stroke-width=".6" opacity=".6"/>
<path d="M322.2 856.9C325 855.6 348.9 848.3 349.8 841.4" stroke-width=".5" opacity=".5"/>
<path d="M339.3 795C340.5 823.8 332.5 837.4 340.8 874" stroke-width=".6" opacity=".4"/>
<path d="M328.4 845.3C315.8 855.8 290.2 858.8 285.5 871.3" stroke-width=".6" opacity=".6"/>
<path d="M307.2 839.5C288.3 851.3 289.9 844.3 275.6 854" stroke-width=".5" opacity=".5"/>
<path d="M288.1 815.9C267.4 837.2 264.9 832.8 255.2 858.8" stroke-width=".6" opacity=".4"/>
<path d="M342.8 831.9C334.5 824 299.8 827.1 292.1 823" stroke-width=".6" opacity=".5"/>
<path d="M329.5 857.6C345.7 875.4 364.8 900 390.1 910.9" stroke-width=".6" opacity=".5"/>
<path d="M313.1 862.7C296 885 310.1 896.8 295.4 902.9" stroke-width=".7" opacity=".6"/>
<path d="M362.5 848.7C357.1 861.5 354.6 879 358.9 899.8" stroke-width=".7" opacity=".4"/>
<path d="M323.6 861.5C334.1 846.8 332.6 843.1 332 830.6" stroke-width=".6" opacity=".7"/>
<path d="M349.5 804.6C335.3 813.7 333.7 846.2 336.2 849.9" stroke-width=".6" opacity=".7"/>
</g>
</g>
<g clip-path="url(#cn3)" filter="url(#blur1)">
<ellipse cx="300.8" cy="803.8" rx="3.6" ry="2.6" fill="#6a2a8a" opacity="0.6" transform="rotate(172.4 300.8 803.8)"/>
<ellipse cx="300.8" cy="803.8" rx="2.8" ry="2.1" fill="#3f2cf6" transform="rotate(172.4 300.8 803.8)"/>
<ellipse cx="306.7" cy="803.2" rx="3.6" ry="2.6" fill="#6a2a8a" opacity="0.6" transform="rotate(63.9 306.7 803.2)"/>
<ellipse cx="306.7" cy="803.2" rx="2.5" ry="2" fill="#3f2cf6" transform="rotate(63.9 306.7 803.2)"/>
<ellipse cx="313.7" cy="803.8" rx="3.6" ry="2.6" fill="#6a2a8a" opacity="0.6" transform="rotate(152.8 313.7 803.8)"/>
<ellipse cx="313.7" cy="803.8" rx="2.5" ry="2" fill="#3f2cf6" transform="rotate(152.8 313.7 803.8)"/>
<ellipse cx="300.3" cy="813.1" rx="3.6" ry="2.6" fill="#6a2a8a" opacity="0.6" transform="rotate(141.6 300.3 813.1)"/>
<ellipse cx="300.3" cy="813.1" rx="2.4" ry="2.1" fill="#3f2cf6" transform="rotate(141.6 300.3 813.1)"/>
<ellipse cx="305.5" cy="819.5" rx="3.6" ry="2.6" fill="#6a2a8a" opacity="0.6" transform="rotate(4.7 305.5 819.5)"/>
<ellipse cx="305.5" cy="819.5" rx="2.5" ry="2.1" fill="#3f2cf6" transform="rotate(4.7 305.5 819.5)"/>
<ellipse cx="307.9" cy="827.1" rx="3.6" ry="2.6" fill="#6a2a8a" opacity="0.6" transform="rotate(122.2 307.9 827.1)"/>
<ellipse cx="307.9" cy="827.1" rx="2.9" ry="2.1" fill="#3f2cf6" transform="rotate(122.2 307.9 827.1)"/>
<ellipse cx="316.6" cy="832.4" rx="3.6" ry="2.6" fill="#6a2a8a" opacity="0.6" transform="rotate(158.9 316.6 832.4)"/>
<ellipse cx="316.6" cy="832.4" rx="2.8" ry="1.9" fill="#3f2cf6" transform="rotate(158.9 316.6 832.4)"/>
<ellipse cx="323" cy="834.7" rx="3.6" ry="2.6" fill="#6a2a8a" opacity="0.6" transform="rotate(175.1 323 834.7)"/>
<ellipse cx="323" cy="834.7" rx="2.3" ry="2.1" fill="#3f2cf6" transform="rotate(175.1 323 834.7)"/>
<ellipse cx="334.1" cy="838.2" rx="3.6" ry="2.6" fill="#6a2a8a" opacity="0.6" transform="rotate(73.6 334.1 838.2)"/>
<ellipse cx="334.1" cy="838.2" rx="2.4" ry="1.9" fill="#3f2cf6" transform="rotate(73.6 334.1 838.2)"/>
<ellipse cx="339.4" cy="832.4" rx="3.6" ry="2.6" fill="#6a2a8a" opacity="0.6" transform="rotate(131.9 339.4 832.4)"/>
<ellipse cx="339.4" cy="832.4" rx="2.8" ry="2" fill="#3f2cf6" transform="rotate(131.9 339.4 832.4)"/>
<ellipse cx="345.2" cy="827.7" rx="3.6" ry="2.6" fill="#6a2a8a" opacity="0.6" transform="rotate(157.7 345.2 827.7)"/>
<ellipse cx="345.2" cy="827.7" rx="2.5" ry="2.1" fill="#3f2cf6" transform="rotate(157.7 345.2 827.7)"/>
<ellipse cx="347" cy="835.3" rx="3.6" ry="2.6" fill="#6a2a8a" opacity="0.6" transform="rotate(169 347 835.3)"/>
<ellipse cx="347" cy="835.3" rx="2.7" ry="1.9" fill="#3f2cf6" transform="rotate(169 347 835.3)"/>
<ellipse cx="343.5" cy="840" rx="3.6" ry="2.6" fill="#6a2a8a" opacity="0.6" transform="rotate(50 343.5 840)"/>
<ellipse cx="343.5" cy="840" rx="2.4" ry="2.1" fill="#3f2cf6" transform="rotate(50 343.5 840)"/>
<ellipse cx="331.2" cy="846.4" rx="3.6" ry="2.6" fill="#6a2a8a" opacity="0.6" transform="rotate(148 331.2 846.4)"/>
<ellipse cx="331.2" cy="846.4" rx="2.4" ry="1.9" fill="#3f2cf6" transform="rotate(148 331.2 846.4)"/>
<ellipse cx="307.3" cy="852.2" rx="3.6" ry="2.6" fill="#6a2a8a" opacity="0.6" transform="rotate(163.7 307.3 852.2)"/>
<ellipse cx="307.3" cy="852.2" rx="2.8" ry="2" fill="#3f2cf6" transform="rotate(163.7 307.3 852.2)"/>
<ellipse cx="296.8" cy="858.6" rx="3.6" ry="2.6" fill="#6a2a8a" opacity="0.6" transform="rotate(3.2 296.8 858.6)"/>
<ellipse cx="296.8" cy="858.6" rx="2.8" ry="1.9" fill="#3f2cf6" transform="rotate(3.2 296.8 858.6)"/>
<ellipse cx="303.2" cy="868" rx="3.6" ry="2.6" fill="#6a2a8a" opacity="0.6" transform="rotate(91.8 303.2 868)"/>
<ellipse cx="303.2" cy="868" rx="2.4" ry="2.1" fill="#3f2cf6" transform="rotate(91.8 303.2 868)"/>
<ellipse cx="331.2" cy="868" rx="3.6" ry="2.6" fill="#6a2a8a" opacity="0.6" transform="rotate(110.1 331.2 868)"/>
<ellipse cx="331.2" cy="868" rx="2.3" ry="2.1" fill="#3f2cf6" transform="rotate(110.1 331.2 868)"/>
<ellipse cx="356.9" cy="844.6" rx="3.6" ry="2.6" fill="#6a2a8a" opacity="0.6" transform="rotate(41.4 356.9 844.6)"/>
<ellipse cx="356.9" cy="844.6" rx="2.8" ry="1.9" fill="#3f2cf6" transform="rotate(41.4 356.9 844.6)"/>
<ellipse cx="363.9" cy="796.2" rx="3.6" ry="2.6" fill="#6a2a8a" opacity="0.6" transform="rotate(96.8 363.9 796.2)"/>
<ellipse cx="363.9" cy="796.2" rx="2.7" ry="1.9" fill="#3f2cf6" transform="rotate(96.8 363.9 796.2)"/>
</g>
<rect x="366.1" y="795.1" width="1.2" height="83.7" fill="#d8d8d8" stroke="none" stroke-width="1"/>
<g clip-path="url(#ci3)">
<rect x="367.6" y="795.1" width="14.1" height="83.7" fill="#07161a" stroke="none" stroke-width="1"/>
<rect x="367.6" y="795.1" width="14.1" height="83.7" fill="url(#spA)" stroke="none" stroke-width="1"/>
<g filter="url(#blur2)" fill="none">
<path d="M372 795 Q376 835 374 879" stroke="#e8353a" stroke-width="5" fill="none" opacity="0.85"/>
</g>
<g filter="url(#blur1)" fill="none">
<path d="M372 795 Q376 835 374 879" stroke="#ff5050" stroke-width="2" fill="none" opacity="0.9"/>
</g>
<ellipse cx="374" cy="876" rx="6" ry="7" fill="#f06a70" opacity="0.8" filter="url(#blur2)"/>
<ellipse cx="374.65" cy="877.8" rx="4" ry="2.5" fill="#4030f0" filter="url(#blur1)"/>
</g>
<text x="327.2" y="791" text-anchor="middle">d100</text>
<g filter="url(#blur1)" stroke-linecap="round" fill="none">
<path d="M28 806 L28.6 820 L29 832" stroke="#e83a3a" stroke-width="1" fill="none" opacity="0.85"/>
<path d="M131.5 829 L126 840 L120.5 852" stroke="#e83a3a" stroke-width="1" fill="none" opacity="0.85"/>
<path d="M215 814 L215.2 828 L215 840" stroke="#e83a3a" stroke-width="1.1" fill="none" opacity="0.85"/>
<path d="M347 845 L339 856 L331.5 866" stroke="#e83a3a" stroke-width="1" fill="none" opacity="0.85"/>
</g>
<ellipse cx="215" cy="842" rx="3" ry="2.4" fill="#6a3cf0" filter="url(#blur1)"/>
<ellipse cx="120.5" cy="853" rx="3" ry="2.4" fill="#6a3cf0" filter="url(#blur1)"/>
<ellipse cx="331.5" cy="867.5" rx="3" ry="2.4" fill="#6a3cf0" filter="url(#blur1)"/>
<rect x="22.2" y="804.2" width="11.7" height="27.4" fill="none" stroke="#fff" stroke-width="1.1" stroke-dasharray="2.6 1.6"/>
<rect x="-5.5" y="-13.5" width="11" height="27" fill="none" stroke="#fff" stroke-width="1.1" stroke-dasharray="2.6 1.6" transform="translate(125.3 840.3) rotate(27.1)"/>
<rect x="210.2" y="812.5" width="11.7" height="27.5" fill="none" stroke="#fff" stroke-width="1.1" stroke-dasharray="2.6 1.6"/>
<rect x="-5" y="-14" width="10" height="28" fill="none" stroke="#fff" stroke-width="1.1" stroke-dasharray="2.6 1.6" transform="translate(339.1 855.4) rotate(35.7)"/>
<rect x="4.1" y="873.4" width="17.1" height="1.9" fill="#fff" stroke="none" stroke-width="1"/>
<rect x="82.6" y="856.4" width="1.5" height="19.7" fill="#fff" stroke="none" stroke-width="1"/>
<text x="1.4" y="892"><tspan fill="#3535e8">DAPI</tspan> <tspan fill="#e8303a">MAP2</tspan> <tspan fill="#2cb8e0">SYN1</tspan></text>
<!-- panel_o -->
<text x="379.8" y="457.6" font-size="16.5" fill="#000" font-weight="bold" stroke="#000" stroke-width="0.7">o</text>
<g stroke-width="5.97" fill="none">
<path stroke="#8fbcde" d="M404.2 471.1h7.5M433.7 515.6h7.5M448.4 521.4h7.5M455.8 521.4h7.5M433.7 536.5h7.5M404.2 590.2h7.5M418.9 590.2h7.5M418.9 628.8h7.5M529.5 640.5h7.5M463.2 646.4h7.5M418.9 652.2h7.5M433.7 652.2h7.5M529.5 675.7h7.5M441 693.3h7.5M441 699.2h7.5M463.2 716.8h7.5M455.8 755.4h7.5M529.5 755.4h7.5M404.2 799.8h7.5M411.6 799.8h7.5M418.9 799.8h7.5M433.7 805.7h7.5M404.2 840.9h7.5M411.6 840.9h7.5M418.9 840.9h7.5M426.3 852.7h7.5M455.8 870.3h7.5"/>
<path stroke="#9ec5e2" d="M411.6 471.1h7.5M441 477h7.5M441 509.7h7.5M529.5 530.7h7.5M463.2 563.4h7.5M433.7 569.2h7.5M441 569.2h7.5M426.3 622.9h7.5M411.6 628.8h7.5M426.3 634.6h7.5M441 634.6h7.5M448.4 646.4h7.5M455.8 646.4h7.5M441 652.2h7.5M426.3 675.7h7.5M441 675.7h7.5M426.3 681.6h7.5M441 681.6h7.5M433.7 693.3h7.5M426.3 699.2h7.5M433.7 699.2h7.5M426.3 705.1h7.5M433.7 705.1h7.5M418.9 722.7h7.5M441 728.6h7.5M441 737.8h7.5M441 755.4h7.5M448.4 767.1h7.5M433.7 778.9h7.5M426.3 811.6h7.5M433.7 811.6h7.5M433.7 817.4h7.5M441 817.4h7.5M426.3 823.3h7.5M433.7 829.2h7.5M426.3 864.4h7.5M463.2 882h7.5"/>
<path stroke="#72abd6" d="M418.9 471.1h7.5M433.7 471.1h7.5M433.7 521.4h7.5M441 521.4h7.5M463.2 521.4h7.5M418.9 530.7h7.5M441 530.7h7.5M418.9 536.5h7.5M426.3 536.5h7.5M441 536.5h7.5M404.2 542.4h7.5M433.7 542.4h7.5M426.3 590.2h7.5M433.7 590.2h7.5M441 590.2h7.5M418.9 622.9h7.5M441 622.9h7.5M426.3 628.8h7.5M404.2 640.5h7.5M433.7 646.4h7.5M404.2 652.2h7.5M426.3 652.2h7.5M411.6 675.7h7.5M418.9 737.8h7.5M418.9 773h7.5M433.7 773h7.5M426.3 805.7h7.5M433.7 840.9h7.5M426.3 846.8h7.5M441 852.7h7.5M411.6 882h7.5M433.7 882h7.5"/>
<path stroke="#81b4da" d="M426.3 471.1h7.5M455.8 471.1h7.5M463.2 494.6h7.5M426.3 530.7h7.5M433.7 530.7h7.5M426.3 542.4h7.5M404.2 554.1h7.5M404.2 622.9h7.5M411.6 622.9h7.5M426.3 640.5h7.5M433.7 640.5h7.5M441 640.5h7.5M441 646.4h7.5M411.6 652.2h7.5M441 687.5h7.5M441 705.1h7.5M455.8 716.8h7.5M470.5 716.8h7.5M426.3 773h7.5M455.8 778.9h7.5M441 805.7h7.5M441 811.6h7.5M441 846.8h7.5M433.7 852.7h7.5M529.5 852.7h7.5M404.2 882h7.5M418.9 882h7.5M426.3 882h7.5M441 882h7.5"/>
<path stroke="#64a2d2" d="M441 471.1h7.5M448.4 471.1h7.5M463.2 471.1h7.5M411.6 542.4h7.5M418.9 640.5h7.5M411.6 722.7h7.5M433.7 799.8h7.5M441 799.8h7.5M418.9 805.7h7.5M433.7 835h7.5M433.7 846.8h7.5"/>
<path stroke="#f8c7b0" d="M470.5 471.1h7.5M485.3 471.1h7.5M522.1 471.1h7.5M507.4 482.9h7.5M477.9 488.7h7.5M485.3 488.7h7.5M500 488.7h7.5M500 494.6h7.5M500 509.7h7.5M507.4 509.7h7.5M492.6 515.6h7.5M500 515.6h7.5M507.4 515.6h7.5M485.3 530.7h7.5M522.1 536.5h7.5M522.1 542.4h7.5M492.6 569.2h7.5M418.9 578.5h7.5M477.9 578.5h7.5M485.3 578.5h7.5M492.6 578.5h7.5M507.4 578.5h7.5M514.8 584.3h7.5M433.7 601.9h7.5M500 601.9h7.5M514.8 601.9h7.5M470.5 611.2h7.5M477.9 611.2h7.5M485.3 611.2h7.5M492.6 611.2h7.5M500 611.2h7.5M514.8 611.2h7.5M522.1 646.4h7.5M485.3 652.2h7.5M485.3 658.1h7.5M500 658.1h7.5M492.6 664h7.5M500 664h7.5M507.4 664h7.5M514.8 664h7.5M500 669.9h7.5M507.4 669.9h7.5M514.8 669.9h7.5M470.5 675.7h7.5M470.5 681.6h7.5M522.1 681.6h7.5M507.4 687.5h7.5M470.5 693.3h7.5M470.5 699.2h7.5M470.5 705.1h7.5M470.5 710.9h7.5M522.1 716.8h7.5M477.9 728.6h7.5M485.3 728.6h7.5M492.6 728.6h7.5M500 728.6h7.5M507.4 728.6h7.5M514.8 728.6h7.5M470.5 737.8h7.5M477.9 737.8h7.5M470.5 743.6h7.5M477.9 743.6h7.5M485.3 743.6h7.5M492.6 743.6h7.5M418.9 749.5h7.5M477.9 761.3h7.5M522.1 761.3h7.5M404.2 767.1h7.5M507.4 767.1h7.5M470.5 773h7.5M470.5 778.9h7.5M507.4 788.1h7.5M514.8 788.1h7.5M507.4 794h7.5M514.8 794h7.5M470.5 799.8h7.5M485.3 799.8h7.5M492.6 799.8h7.5M500 799.8h7.5M507.4 799.8h7.5M514.8 799.8h7.5M500 805.7h7.5M514.8 805.7h7.5M485.3 811.6h7.5M500 811.6h7.5M470.5 817.4h7.5M477.9 823.3h7.5M492.6 823.3h7.5M470.5 835h7.5M485.3 858.5h7.5M492.6 876.1h7.5M529.5 876.1h7.5"/>
<path stroke="#f4b194" d="M477.9 471.1h7.5M470.5 477h7.5M477.9 477h7.5M514.8 477h7.5M514.8 494.6h7.5M507.4 503.8h7.5M514.8 503.8h7.5M507.4 530.7h7.5M477.9 536.5h7.5M485.3 536.5h7.5M500 536.5h7.5M507.4 536.5h7.5M514.8 536.5h7.5M485.3 542.4h7.5M492.6 542.4h7.5M500 542.4h7.5M507.4 542.4h7.5M514.8 542.4h7.5M500 548.3h7.5M507.4 548.3h7.5M514.8 548.3h7.5M500 554.1h7.5M514.8 554.1h7.5M514.8 569.2h7.5M404.2 578.5h7.5M477.9 584.3h7.5M500 584.3h7.5M485.3 590.2h7.5M507.4 590.2h7.5M477.9 596.1h7.5M485.3 596.1h7.5M492.6 596.1h7.5M500 596.1h7.5M507.4 596.1h7.5M514.8 596.1h7.5M426.3 601.9h7.5M507.4 617h7.5M485.3 622.9h7.5M514.8 622.9h7.5M470.5 628.8h7.5M477.9 628.8h7.5M485.3 628.8h7.5M492.6 628.8h7.5M470.5 634.6h7.5M470.5 640.5h7.5M477.9 640.5h7.5M485.3 640.5h7.5M477.9 646.4h7.5M485.3 646.4h7.5M492.6 646.4h7.5M500 646.4h7.5M470.5 652.2h7.5M500 652.2h7.5M477.9 658.1h7.5M507.4 658.1h7.5M485.3 675.7h7.5M492.6 675.7h7.5M477.9 681.6h7.5M485.3 681.6h7.5M492.6 681.6h7.5M477.9 693.3h7.5M485.3 693.3h7.5M500 693.3h7.5M507.4 693.3h7.5M514.8 693.3h7.5M477.9 699.2h7.5M485.3 699.2h7.5M492.6 699.2h7.5M514.8 699.2h7.5M477.9 705.1h7.5M485.3 705.1h7.5M492.6 705.1h7.5M514.8 705.1h7.5M477.9 710.9h7.5M485.3 710.9h7.5M492.6 710.9h7.5M500 710.9h7.5M514.8 710.9h7.5M500 716.8h7.5M507.4 722.7h7.5M514.8 722.7h7.5M500 737.8h7.5M500 773h7.5M507.4 773h7.5M514.8 773h7.5M514.8 778.9h7.5M529.5 778.9h7.5M507.4 805.7h7.5M507.4 811.6h7.5M514.8 811.6h7.5M507.4 817.4h7.5M507.4 823.3h7.5M500 835h7.5M507.4 835h7.5M514.8 835h7.5M477.9 840.9h7.5M485.3 840.9h7.5M470.5 846.8h7.5M477.9 846.8h7.5M485.3 846.8h7.5M492.6 846.8h7.5M500 846.8h7.5M470.5 852.7h7.5M477.9 852.7h7.5M485.3 852.7h7.5M492.6 852.7h7.5M500 852.7h7.5M507.4 852.7h7.5M514.8 852.7h7.5M470.5 858.5h7.5M500 858.5h7.5M507.4 858.5h7.5M514.8 858.5h7.5M485.3 864.4h7.5M492.6 864.4h7.5M500 864.4h7.5M507.4 864.4h7.5M477.9 870.3h7.5M485.3 870.3h7.5M492.6 870.3h7.5M500 870.3h7.5M507.4 870.3h7.5M514.8 870.3h7.5M507.4 876.1h7.5M470.5 882h7.5M477.9 882h7.5M485.3 882h7.5M492.6 882h7.5M500 882h7.5M507.4 882h7.5M514.8 882h7.5"/>
<path stroke="#f2a686" d="M492.6 471.1h7.5M500 471.1h7.5M507.4 471.1h7.5M492.6 477h7.5M500 477h7.5M507.4 477h7.5M411.6 521.4h7.5M411.6 563.4h7.5M411.6 578.5h7.5M477.9 622.9h7.5M500 622.9h7.5M507.4 628.8h7.5M514.8 628.8h7.5M477.9 634.6h7.5M485.3 634.6h7.5M492.6 634.6h7.5M500 634.6h7.5M492.6 640.5h7.5M500 640.5h7.5M507.4 646.4h7.5M500 675.7h7.5M507.4 675.7h7.5M492.6 693.3h7.5M500 699.2h7.5M507.4 699.2h7.5M500 705.1h7.5M507.4 705.1h7.5M507.4 710.9h7.5M507.4 716.8h7.5M411.6 749.5h7.5M500 755.4h7.5M477.9 799.8h7.5M448.4 829.2h7.5M500 840.9h7.5M507.4 846.8h7.5M514.8 846.8h7.5"/>
<path stroke="#f09b78" d="M514.8 471.1h7.5M404.2 521.4h7.5M418.9 521.4h7.5M507.4 554.1h7.5M507.4 622.9h7.5M500 628.8h7.5M507.4 634.6h7.5M514.8 634.6h7.5M507.4 640.5h7.5M514.8 646.4h7.5M514.8 675.7h7.5M500 681.6h7.5M507.4 681.6h7.5M514.8 681.6h7.5M507.4 829.2h7.5M492.6 840.9h7.5M507.4 840.9h7.5"/>
<path stroke="#f8e8e0" d="M529.5 471.1h7.5M411.6 494.6h7.5M418.9 494.6h7.5M529.5 503.8h7.5M485.3 521.4h7.5M448.4 530.7h7.5M529.5 542.4h7.5M448.4 548.3h7.5M470.5 554.1h7.5M418.9 563.4h7.5M522.1 569.2h7.5M448.4 584.3h7.5M529.5 617h7.5M455.8 622.9h7.5M463.2 634.6h7.5M463.2 640.5h7.5M463.2 675.7h7.5M448.4 710.9h7.5M455.8 710.9h7.5M418.9 716.8h7.5M441 716.8h7.5M418.9 767.1h7.5M463.2 835h7.5M455.8 840.9h7.5M463.2 864.4h7.5M426.3 876.1h7.5"/>
<path stroke="#2e77b9" d="M404.2 477h7.5M411.6 482.9h7.5M411.6 488.7h7.5M418.9 488.7h7.5M404.2 548.3h7.5M411.6 554.1h7.5M418.9 554.1h7.5M448.4 578.5h7.5M411.6 658.1h7.5M433.7 687.5h7.5M404.2 710.9h7.5M418.9 710.9h7.5M426.3 749.5h7.5M426.3 858.5h7.5M433.7 858.5h7.5"/>
<path stroke="#3c84c2" d="M411.6 477h7.5M418.9 477h7.5M441 494.6h7.5M418.9 503.8h7.5M426.3 521.4h7.5M404.2 536.5h7.5M404.2 569.2h7.5M411.6 569.2h7.5M463.2 601.9h7.5M404.2 611.2h7.5M418.9 611.2h7.5M411.6 617h7.5M404.2 634.6h7.5M418.9 658.1h7.5M404.2 681.6h7.5M411.6 693.3h7.5M418.9 693.3h7.5M404.2 699.2h7.5M404.2 705.1h7.5M418.9 705.1h7.5M411.6 710.9h7.5M404.2 728.6h7.5M411.6 728.6h7.5M433.7 749.5h7.5M426.3 799.8h7.5M404.2 817.4h7.5M441 829.2h7.5M404.2 864.4h7.5M411.6 870.3h7.5"/>
<path stroke="#d8e6f0" d="M426.3 477h7.5M426.3 488.7h7.5M529.5 488.7h7.5M426.3 509.7h7.5M426.3 515.6h7.5M448.4 554.1h7.5M529.5 584.3h7.5M455.8 590.2h7.5M404.2 601.9h7.5M455.8 628.8h7.5M463.2 628.8h7.5M418.9 646.4h7.5M411.6 687.5h7.5M426.3 710.9h7.5M433.7 710.9h7.5M411.6 716.8h7.5M404.2 722.7h7.5M448.4 761.3h7.5M448.4 773h7.5M418.9 778.9h7.5M441 788.1h7.5M441 794h7.5M455.8 799.8h7.5M529.5 817.4h7.5M411.6 829.2h7.5M455.8 829.2h7.5M463.2 858.5h7.5M426.3 870.3h7.5M433.7 870.3h7.5M448.4 870.3h7.5"/>
<path stroke="#bbd6e9" d="M433.7 477h7.5M441 488.7h7.5M448.4 494.6h7.5M433.7 509.7h7.5M433.7 548.3h7.5M433.7 554.1h7.5M514.8 563.4h7.5M529.5 569.2h7.5M426.3 578.5h7.5M433.7 584.3h7.5M411.6 590.2h7.5M529.5 634.6h7.5M411.6 646.4h7.5M448.4 652.2h7.5M455.8 652.2h7.5M441 658.1h7.5M455.8 687.5h7.5M441 710.9h7.5M433.7 722.7h7.5M426.3 728.6h7.5M433.7 728.6h7.5M426.3 737.8h7.5M433.7 737.8h7.5M448.4 737.8h7.5M426.3 743.6h7.5M441 743.6h7.5M455.8 749.5h7.5M463.2 749.5h7.5M411.6 755.4h7.5M418.9 755.4h7.5M433.7 755.4h7.5M522.1 755.4h7.5M426.3 761.3h7.5M433.7 761.3h7.5M441 761.3h7.5M492.6 767.1h7.5M529.5 767.1h7.5M455.8 882h7.5"/>
<path stroke="#f7efeb" d="M448.4 477h7.5M463.2 477h7.5M529.5 482.9h7.5M404.2 494.6h7.5M448.4 503.8h7.5M529.5 509.7h7.5M477.9 563.4h7.5M522.1 578.5h7.5M522.1 611.2h7.5M529.5 628.8h7.5M455.8 634.6h7.5M529.5 658.1h7.5M455.8 675.7h7.5M470.5 687.5h7.5M448.4 699.2h7.5M448.4 705.1h7.5M529.5 716.8h7.5M441 722.7h7.5M529.5 743.6h7.5M522.1 749.5h7.5M463.2 761.3h7.5M522.1 767.1h7.5M463.2 773h7.5M477.9 778.9h7.5M522.1 788.1h7.5M522.1 794h7.5M470.5 805.7h7.5M448.4 823.3h7.5M463.2 823.3h7.5M463.2 829.2h7.5M463.2 840.9h7.5M411.6 858.5h7.5M433.7 876.1h7.5M470.5 876.1h7.5"/>
<path stroke="#f6f6f6" d="M455.8 477h7.5M426.3 482.9h7.5M433.7 482.9h7.5M441 482.9h7.5M470.5 494.6h7.5M455.8 503.8h7.5M455.8 554.1h7.5M463.2 554.1h7.5M441 563.4h7.5M485.3 563.4h7.5M492.6 563.4h7.5M470.5 578.5h7.5M529.5 590.2h7.5M463.2 596.1h7.5M529.5 596.1h7.5M441 601.9h7.5M477.9 601.9h7.5M426.3 611.2h7.5M463.2 622.9h7.5M448.4 628.8h7.5M455.8 640.5h7.5M426.3 664h7.5M433.7 664h7.5M529.5 664h7.5M426.3 669.9h7.5M441 669.9h7.5M529.5 669.9h7.5M448.4 681.6h7.5M418.9 687.5h7.5M529.5 693.3h7.5M455.8 705.1h7.5M463.2 705.1h7.5M529.5 710.9h7.5M433.7 716.8h7.5M485.3 716.8h7.5M455.8 722.7h7.5M470.5 722.7h7.5M492.6 722.7h7.5M448.4 728.6h7.5M448.4 749.5h7.5M433.7 788.1h7.5M529.5 788.1h7.5M426.3 794h7.5M433.7 794h7.5M529.5 794h7.5M448.4 805.7h7.5M463.2 805.7h7.5M448.4 811.6h7.5M529.5 811.6h7.5M455.8 823.3h7.5M418.9 829.2h7.5M477.9 829.2h7.5M485.3 829.2h7.5M448.4 835h7.5M529.5 840.9h7.5M448.4 864.4h7.5M441 876.1h7.5"/>
<path stroke="#f6bca2" d="M485.3 477h7.5M492.6 488.7h7.5M507.4 488.7h7.5M514.8 488.7h7.5M507.4 494.6h7.5M522.1 494.6h7.5M470.5 503.8h7.5M477.9 503.8h7.5M485.3 503.8h7.5M492.6 503.8h7.5M500 503.8h7.5M514.8 509.7h7.5M514.8 515.6h7.5M477.9 530.7h7.5M492.6 530.7h7.5M500 530.7h7.5M514.8 530.7h7.5M455.8 536.5h7.5M477.9 542.4h7.5M477.9 548.3h7.5M485.3 548.3h7.5M492.6 548.3h7.5M477.9 554.1h7.5M485.3 554.1h7.5M492.6 554.1h7.5M470.5 569.2h7.5M477.9 569.2h7.5M500 569.2h7.5M507.4 569.2h7.5M500 578.5h7.5M485.3 584.3h7.5M492.6 584.3h7.5M507.4 584.3h7.5M477.9 590.2h7.5M470.5 596.1h7.5M507.4 601.9h7.5M507.4 611.2h7.5M470.5 617h7.5M477.9 617h7.5M485.3 617h7.5M492.6 617h7.5M500 617h7.5M514.8 617h7.5M477.9 652.2h7.5M492.6 658.1h7.5M514.8 658.1h7.5M477.9 675.7h7.5M514.8 716.8h7.5M485.3 737.8h7.5M492.6 737.8h7.5M500 743.6h7.5M507.4 743.6h7.5M514.8 743.6h7.5M404.2 749.5h7.5M470.5 755.4h7.5M500 761.3h7.5M507.4 761.3h7.5M514.8 761.3h7.5M529.5 761.3h7.5M500 767.1h7.5M477.9 773h7.5M485.3 773h7.5M492.6 773h7.5M529.5 773h7.5M492.6 778.9h7.5M500 778.9h7.5M507.4 778.9h7.5M522.1 778.9h7.5M477.9 805.7h7.5M470.5 811.6h7.5M477.9 811.6h7.5M492.6 811.6h7.5M477.9 817.4h7.5M485.3 817.4h7.5M492.6 817.4h7.5M500 817.4h7.5M514.8 817.4h7.5M485.3 823.3h7.5M500 823.3h7.5M514.8 823.3h7.5M500 829.2h7.5M522.1 829.2h7.5M477.9 835h7.5M485.3 835h7.5M492.6 835h7.5M470.5 840.9h7.5M477.9 858.5h7.5M492.6 858.5h7.5M470.5 864.4h7.5M477.9 864.4h7.5M514.8 864.4h7.5M470.5 870.3h7.5M477.9 876.1h7.5M485.3 876.1h7.5M500 876.1h7.5M514.8 876.1h7.5"/>
<path stroke="#fad2be" d="M522.1 477h7.5M470.5 482.9h7.5M477.9 482.9h7.5M485.3 482.9h7.5M492.6 482.9h7.5M500 482.9h7.5M514.8 482.9h7.5M470.5 488.7h7.5M492.6 494.6h7.5M522.1 503.8h7.5M455.8 509.7h7.5M463.2 509.7h7.5M485.3 509.7h7.5M492.6 509.7h7.5M477.9 515.6h7.5M485.3 515.6h7.5M522.1 515.6h7.5M514.8 521.4h7.5M455.8 530.7h7.5M463.2 530.7h7.5M470.5 530.7h7.5M522.1 530.7h7.5M463.2 536.5h7.5M470.5 536.5h7.5M492.6 536.5h7.5M455.8 542.4h7.5M470.5 542.4h7.5M522.1 548.3h7.5M522.1 554.1h7.5M404.2 563.4h7.5M485.3 569.2h7.5M514.8 578.5h7.5M470.5 584.3h7.5M470.5 590.2h7.5M514.8 590.2h7.5M492.6 601.9h7.5M448.4 611.2h7.5M522.1 622.9h7.5M529.5 646.4h7.5M522.1 652.2h7.5M477.9 664h7.5M485.3 664h7.5M477.9 669.9h7.5M485.3 669.9h7.5M492.6 669.9h7.5M529.5 681.6h7.5M477.9 687.5h7.5M529.5 687.5h7.5M477.9 716.8h7.5M485.3 722.7h7.5M522.1 722.7h7.5M470.5 728.6h7.5M485.3 755.4h7.5M485.3 761.3h7.5M455.8 767.1h7.5M477.9 767.1h7.5M514.8 767.1h7.5M485.3 778.9h7.5M470.5 788.1h7.5M477.9 788.1h7.5M485.3 788.1h7.5M492.6 788.1h7.5M500 788.1h7.5M470.5 794h7.5M477.9 794h7.5M485.3 794h7.5M492.6 794h7.5M500 794h7.5M485.3 805.7h7.5M492.6 805.7h7.5M470.5 823.3h7.5M522.1 823.3h7.5M522.1 835h7.5M522.1 846.8h7.5M529.5 870.3h7.5M522.1 876.1h7.5M522.1 882h7.5"/>
<path stroke="#e7eef3" d="M529.5 477h7.5M426.3 503.8h7.5M463.2 503.8h7.5M411.6 515.6h7.5M477.9 521.4h7.5M529.5 548.3h7.5M433.7 563.4h7.5M522.1 563.4h7.5M426.3 584.3h7.5M463.2 590.2h7.5M426.3 596.1h7.5M433.7 596.1h7.5M418.9 601.9h7.5M485.3 601.9h7.5M433.7 611.2h7.5M470.5 622.9h7.5M522.1 640.5h7.5M441 664h7.5M433.7 669.9h7.5M522.1 675.7h7.5M404.2 687.5h7.5M485.3 687.5h7.5M492.6 687.5h7.5M404.2 716.8h7.5M426.3 716.8h7.5M455.8 737.8h7.5M492.6 761.3h7.5M441 773h7.5M404.2 778.9h7.5M411.6 778.9h7.5M426.3 788.1h7.5M448.4 799.8h7.5M455.8 811.6h7.5M463.2 811.6h7.5M404.2 829.2h7.5M448.4 840.9h7.5M404.2 858.5h7.5M418.9 858.5h7.5"/>
<path stroke="#143e80" d="M404.2 482.9h7.5M448.4 716.8h7.5"/>
<path stroke="#327dbe" d="M418.9 482.9h7.5M404.2 503.8h7.5M418.9 509.7h7.5M411.6 536.5h7.5M455.8 578.5h7.5M463.2 578.5h7.5M404.2 584.3h7.5M404.2 596.1h7.5M448.4 601.9h7.5M418.9 664h7.5M418.9 669.9h7.5M404.2 693.3h7.5M418.9 728.6h7.5M404.2 743.6h7.5M411.6 761.3h7.5M404.2 788.1h7.5M418.9 788.1h7.5M404.2 794h7.5M418.9 794h7.5"/>
<path stroke="#f8e0d4" d="M448.4 482.9h7.5M455.8 482.9h7.5M463.2 482.9h7.5M522.1 482.9h7.5M448.4 488.7h7.5M455.8 488.7h7.5M463.2 488.7h7.5M418.9 515.6h7.5M529.5 515.6h7.5M470.5 521.4h7.5M529.5 521.4h7.5M448.4 536.5h7.5M529.5 536.5h7.5M529.5 554.1h7.5M470.5 563.4h7.5M500 563.4h7.5M448.4 569.2h7.5M529.5 578.5h7.5M455.8 584.3h7.5M463.2 584.3h7.5M522.1 584.3h7.5M522.1 590.2h7.5M522.1 596.1h7.5M448.4 617h7.5M455.8 617h7.5M463.2 617h7.5M522.1 628.8h7.5M448.4 634.6h7.5M522.1 634.6h7.5M448.4 640.5h7.5M448.4 658.1h7.5M455.8 658.1h7.5M463.2 658.1h7.5M448.4 664h7.5M455.8 664h7.5M522.1 664h7.5M448.4 669.9h7.5M455.8 669.9h7.5M522.1 669.9h7.5M448.4 675.7h7.5M455.8 681.6h7.5M463.2 681.6h7.5M448.4 687.5h7.5M448.4 693.3h7.5M455.8 693.3h7.5M463.2 693.3h7.5M522.1 693.3h7.5M455.8 699.2h7.5M463.2 699.2h7.5M522.1 699.2h7.5M522.1 705.1h7.5M463.2 710.9h7.5M522.1 710.9h7.5M492.6 716.8h7.5M529.5 728.6h7.5M522.1 737.8h7.5M448.4 743.6h7.5M455.8 743.6h7.5M463.2 743.6h7.5M477.9 749.5h7.5M485.3 749.5h7.5M500 749.5h7.5M455.8 761.3h7.5M470.5 761.3h7.5M411.6 767.1h7.5M463.2 767.1h7.5M485.3 767.1h7.5M455.8 773h7.5M529.5 799.8h7.5M455.8 805.7h7.5M522.1 811.6h7.5M448.4 817.4h7.5M455.8 817.4h7.5M463.2 817.4h7.5M522.1 817.4h7.5M529.5 823.3h7.5M455.8 835h7.5M455.8 846.8h7.5M463.2 846.8h7.5M448.4 852.7h7.5M455.8 852.7h7.5M463.2 852.7h7.5M448.4 858.5h7.5M522.1 858.5h7.5M455.8 864.4h7.5M522.1 864.4h7.5M529.5 882h7.5"/>
<path stroke="#468cc6" d="M404.2 488.7h7.5M433.7 494.6h7.5M404.2 530.7h7.5M441 542.4h7.5M418.9 548.3h7.5M418.9 569.2h7.5M411.6 584.3h7.5M418.9 584.3h7.5M404.2 617h7.5M418.9 617h7.5M433.7 628.8h7.5M441 628.8h7.5M411.6 634.6h7.5M418.9 634.6h7.5M404.2 675.7h7.5M411.6 681.6h7.5M418.9 681.6h7.5M411.6 699.2h7.5M418.9 699.2h7.5M411.6 705.1h7.5M448.4 722.7h7.5M411.6 737.8h7.5M441 749.5h7.5M404.2 761.3h7.5M433.7 767.1h7.5M448.4 778.9h7.5M404.2 811.6h7.5M411.6 817.4h7.5M418.9 817.4h7.5M411.6 823.3h7.5M418.9 846.8h7.5M404.2 852.7h7.5M418.9 864.4h7.5M404.2 870.3h7.5M418.9 870.3h7.5"/>
<path stroke="#cadeec" d="M433.7 488.7h7.5M433.7 503.8h7.5M426.3 548.3h7.5M426.3 554.1h7.5M455.8 569.2h7.5M463.2 569.2h7.5M441 596.1h7.5M448.4 596.1h7.5M455.8 596.1h7.5M411.6 601.9h7.5M470.5 601.9h7.5M441 611.2h7.5M529.5 611.2h7.5M404.2 646.4h7.5M463.2 652.2h7.5M529.5 652.2h7.5M463.2 687.5h7.5M522.1 687.5h7.5M529.5 699.2h7.5M529.5 705.1h7.5M463.2 737.8h7.5M529.5 737.8h7.5M529.5 749.5h7.5M470.5 767.1h7.5M463.2 799.8h7.5M441 823.3h7.5M470.5 829.2h7.5M492.6 829.2h7.5M514.8 829.2h7.5M448.4 846.8h7.5M522.1 852.7h7.5M455.8 858.5h7.5M529.5 858.5h7.5M529.5 864.4h7.5M441 870.3h7.5"/>
<path stroke="#f9d9c9" d="M522.1 488.7h7.5M477.9 494.6h7.5M485.3 494.6h7.5M448.4 509.7h7.5M470.5 509.7h7.5M477.9 509.7h7.5M522.1 509.7h7.5M404.2 515.6h7.5M470.5 515.6h7.5M492.6 521.4h7.5M500 521.4h7.5M507.4 521.4h7.5M522.1 521.4h7.5M448.4 542.4h7.5M463.2 542.4h7.5M455.8 548.3h7.5M463.2 548.3h7.5M470.5 548.3h7.5M522.1 601.9h7.5M529.5 601.9h7.5M455.8 611.2h7.5M463.2 611.2h7.5M522.1 617h7.5M492.6 622.9h7.5M529.5 622.9h7.5M470.5 646.4h7.5M470.5 658.1h7.5M522.1 658.1h7.5M463.2 664h7.5M470.5 664h7.5M463.2 669.9h7.5M470.5 669.9h7.5M529.5 722.7h7.5M455.8 728.6h7.5M463.2 728.6h7.5M522.1 728.6h7.5M522.1 743.6h7.5M470.5 749.5h7.5M492.6 749.5h7.5M507.4 749.5h7.5M514.8 749.5h7.5M477.9 755.4h7.5M522.1 773h7.5M448.4 788.1h7.5M455.8 788.1h7.5M463.2 788.1h7.5M448.4 794h7.5M455.8 794h7.5M463.2 794h7.5M522.1 799.8h7.5M522.1 805.7h7.5M529.5 805.7h7.5M529.5 835h7.5M522.1 840.9h7.5M529.5 846.8h7.5M522.1 870.3h7.5"/>
<path stroke="#5a9bce" d="M426.3 494.6h7.5M411.6 503.8h7.5M404.2 509.7h7.5M426.3 563.4h7.5M411.6 640.5h7.5M418.9 675.7h7.5M404.2 737.8h7.5M418.9 743.6h7.5M448.4 755.4h7.5M418.9 761.3h7.5M411.6 773h7.5M404.2 805.7h7.5M411.6 805.7h7.5M426.3 829.2h7.5M411.6 835h7.5M418.9 835h7.5M441 840.9h7.5"/>
<path stroke="#accee6" d="M455.8 494.6h7.5M441 503.8h7.5M441 515.6h7.5M441 548.3h7.5M441 554.1h7.5M455.8 563.4h7.5M507.4 563.4h7.5M426.3 569.2h7.5M433.7 578.5h7.5M441 578.5h7.5M441 584.3h7.5M448.4 590.2h7.5M426.3 617h7.5M433.7 617h7.5M441 617h7.5M448.4 622.9h7.5M404.2 628.8h7.5M433.7 634.6h7.5M426.3 658.1h7.5M433.7 658.1h7.5M433.7 675.7h7.5M433.7 681.6h7.5M426.3 693.3h7.5M426.3 722.7h7.5M463.2 722.7h7.5M433.7 743.6h7.5M404.2 755.4h7.5M426.3 755.4h7.5M463.2 755.4h7.5M426.3 767.1h7.5M426.3 778.9h7.5M441 778.9h7.5M426.3 817.4h7.5M433.7 823.3h7.5M433.7 864.4h7.5M441 864.4h7.5M463.2 870.3h7.5M448.4 876.1h7.5M455.8 876.1h7.5M463.2 876.1h7.5M448.4 882h7.5"/>
<path stroke="#d05143" d="M529.5 494.6h7.5"/>
<path stroke="#2a71b4" d="M411.6 509.7h7.5M448.4 515.6h7.5M411.6 548.3h7.5M411.6 611.2h7.5M404.2 664h7.5M411.6 743.6h7.5M411.6 788.1h7.5M441 858.5h7.5M418.9 876.1h7.5"/>
<path stroke="#5093ca" d="M455.8 515.6h7.5M463.2 515.6h7.5M411.6 530.7h7.5M418.9 542.4h7.5M448.4 563.4h7.5M411.6 596.1h7.5M418.9 596.1h7.5M455.8 601.9h7.5M433.7 622.9h7.5M426.3 646.4h7.5M404.2 658.1h7.5M426.3 687.5h7.5M404.2 773h7.5M463.2 778.9h7.5M411.6 811.6h7.5M418.9 811.6h7.5M404.2 823.3h7.5M418.9 823.3h7.5M404.2 835h7.5M426.3 835h7.5M441 835h7.5M426.3 840.9h7.5M404.2 846.8h7.5M411.6 846.8h7.5M411.6 852.7h7.5M418.9 852.7h7.5M411.6 864.4h7.5M404.2 876.1h7.5"/>
<path stroke="#69001e" d="M529.5 563.4h7.5"/>
<path stroke="#e68265" d="M492.6 590.2h7.5M507.4 652.2h7.5M514.8 737.8h7.5M492.6 755.4h7.5M514.8 755.4h7.5"/>
<path stroke="#eb8e6e" d="M500 590.2h7.5M492.6 652.2h7.5M477.9 722.7h7.5M507.4 737.8h7.5M507.4 755.4h7.5M514.8 840.9h7.5"/>
<path stroke="#e0755b" d="M514.8 640.5h7.5M514.8 652.2h7.5M514.8 687.5h7.5M500 722.7h7.5"/>
<path stroke="#2265aa" d="M411.6 664h7.5"/>
<path stroke="#266baf" d="M404.2 669.9h7.5M411.6 669.9h7.5M411.6 794h7.5M411.6 876.1h7.5"/>
<path stroke="#d65c48" d="M500 687.5h7.5"/>
<path stroke="#1e5fa5" d="M441 767.1h7.5"/>
<path stroke="#c53a38" d="M529.5 829.2h7.5"/>
</g>
<path d="M411.6 468.2v29.4M418.9 468.2v29.4M426.3 468.2v29.4M433.7 468.2v29.4M441.1 468.2v29.4M448.4 468.2v29.4M455.8 468.2v29.4M463.2 468.2v29.4M470.5 468.2v29.4M477.9 468.2v29.4M485.3 468.2v29.4M492.7 468.2v29.4M500 468.2v29.4M507.4 468.2v29.4M514.8 468.2v29.4M522.2 468.2v29.4M529.5 468.2v29.4M404.2 474.1h132.7M404.2 479.9h132.7M404.2 485.8h132.7M404.2 491.7h132.7M411.6 500.9v23.5M418.9 500.9v23.5M426.3 500.9v23.5M433.7 500.9v23.5M441.1 500.9v23.5M448.4 500.9v23.5M455.8 500.9v23.5M463.2 500.9v23.5M470.5 500.9v23.5M477.9 500.9v23.5M485.3 500.9v23.5M492.7 500.9v23.5M500 500.9v23.5M507.4 500.9v23.5M514.8 500.9v23.5M522.2 500.9v23.5M529.5 500.9v23.5M404.2 506.8h132.7M404.2 512.6h132.7M404.2 518.5h132.7M411.6 527.7v29.4M418.9 527.7v29.4M426.3 527.7v29.4M433.7 527.7v29.4M441.1 527.7v29.4M448.4 527.7v29.4M455.8 527.7v29.4M463.2 527.7v29.4M470.5 527.7v29.4M477.9 527.7v29.4M485.3 527.7v29.4M492.7 527.7v29.4M500 527.7v29.4M507.4 527.7v29.4M514.8 527.7v29.4M522.2 527.7v29.4M529.5 527.7v29.4M404.2 533.6h132.7M404.2 539.5h132.7M404.2 545.3h132.7M404.2 551.2h132.7M411.6 560.4v11.7M418.9 560.4v11.7M426.3 560.4v11.7M433.7 560.4v11.7M441.1 560.4v11.7M448.4 560.4v11.7M455.8 560.4v11.7M463.2 560.4v11.7M470.5 560.4v11.7M477.9 560.4v11.7M485.3 560.4v11.7M492.7 560.4v11.7M500 560.4v11.7M507.4 560.4v11.7M514.8 560.4v11.7M522.2 560.4v11.7M529.5 560.4v11.7M404.2 566.3h132.7M411.6 575.5v29.4M418.9 575.5v29.4M426.3 575.5v29.4M433.7 575.5v29.4M441.1 575.5v29.4M448.4 575.5v29.4M455.8 575.5v29.4M463.2 575.5v29.4M470.5 575.5v29.4M477.9 575.5v29.4M485.3 575.5v29.4M492.7 575.5v29.4M500 575.5v29.4M507.4 575.5v29.4M514.8 575.5v29.4M522.2 575.5v29.4M529.5 575.5v29.4M404.2 581.4h132.7M404.2 587.3h132.7M404.2 593.1h132.7M404.2 599h132.7M411.6 608.2v123.3M418.9 608.2v123.3M426.3 608.2v123.3M433.7 608.2v123.3M441.1 608.2v123.3M448.4 608.2v123.3M455.8 608.2v123.3M463.2 608.2v123.3M470.5 608.2v123.3M477.9 608.2v123.3M485.3 608.2v123.3M492.7 608.2v123.3M500 608.2v123.3M507.4 608.2v123.3M514.8 608.2v123.3M522.2 608.2v123.3M529.5 608.2v123.3M404.2 614.1h132.7M404.2 620h132.7M404.2 625.8h132.7M404.2 631.7h132.7M404.2 637.6h132.7M404.2 643.4h132.7M404.2 649.3h132.7M404.2 655.2h132.7M404.2 661.1h132.7M404.2 666.9h132.7M404.2 672.8h132.7M404.2 678.7h132.7M404.2 684.5h132.7M404.2 690.4h132.7M404.2 696.3h132.7M404.2 702.1h132.7M404.2 708h132.7M404.2 713.9h132.7M404.2 719.8h132.7M404.2 725.6h132.7M411.6 734.8v47M418.9 734.8v47M426.3 734.8v47M433.7 734.8v47M441.1 734.8v47M448.4 734.8v47M455.8 734.8v47M463.2 734.8v47M470.5 734.8v47M477.9 734.8v47M485.3 734.8v47M492.7 734.8v47M500 734.8v47M507.4 734.8v47M514.8 734.8v47M522.2 734.8v47M529.5 734.8v47M404.2 740.7h132.7M404.2 746.6h132.7M404.2 752.5h132.7M404.2 758.3h132.7M404.2 764.2h132.7M404.2 770.1h132.7M404.2 775.9h132.7M411.6 785.2v99.8M418.9 785.2v99.8M426.3 785.2v99.8M433.7 785.2v99.8M441.1 785.2v99.8M448.4 785.2v99.8M455.8 785.2v99.8M463.2 785.2v99.8M470.5 785.2v99.8M477.9 785.2v99.8M485.3 785.2v99.8M492.7 785.2v99.8M500 785.2v99.8M507.4 785.2v99.8M514.8 785.2v99.8M522.2 785.2v99.8M529.5 785.2v99.8M404.2 791h132.7M404.2 796.9h132.7M404.2 802.8h132.7M404.2 808.6h132.7M404.2 814.5h132.7M404.2 820.4h132.7M404.2 826.2h132.7M404.2 832.1h132.7M404.2 838h132.7M404.2 843.9h132.7M404.2 849.7h132.7M404.2 855.6h132.7M404.2 861.5h132.7M404.2 867.3h132.7M404.2 873.2h132.7M404.2 879.1h132.7" stroke="#3a3a3a" stroke-width="0.6" fill="none"/>
<rect x="404.2" y="468.2" width="132.7" height="29.35" fill="none" stroke="#444" stroke-width="0.9"/>
<rect x="404.2" y="500.9" width="132.7" height="23.48" fill="none" stroke="#444" stroke-width="0.9"/>
<rect x="404.2" y="527.73" width="132.7" height="29.35" fill="none" stroke="#444" stroke-width="0.9"/>
<rect x="404.2" y="560.43" width="132.7" height="11.74" fill="none" stroke="#444" stroke-width="0.9"/>
<rect x="404.2" y="575.52" width="132.7" height="29.35" fill="none" stroke="#444" stroke-width="0.9"/>
<rect x="404.2" y="608.22" width="132.7" height="123.27" fill="none" stroke="#444" stroke-width="0.9"/>
<rect x="404.2" y="734.84" width="132.7" height="46.96" fill="none" stroke="#444" stroke-width="0.9"/>
<rect x="404.2" y="785.15" width="132.7" height="99.79" fill="none" stroke="#444" stroke-width="0.9"/>
<text x="393.6" y="460.4">hPSCs</text>
<text x="426.6" y="460.4">NPC</text>
<text x="450.2" y="460.4">d25</text>
<text x="472.5" y="460.4">d50</text>
<text x="494.9" y="460.4">d75</text>
<text x="516.5" y="460.4">d100</text>
<line x1="404.8" y1="464.9" x2="424.6" y2="464.9" stroke="#6a6a6a" stroke-width="1.6"/>
<line x1="426.6" y1="464.9" x2="447.7" y2="464.9" stroke="#6a6a6a" stroke-width="1.6"/>
<line x1="449" y1="464.9" x2="468.8" y2="464.9" stroke="#6a6a6a" stroke-width="1.6"/>
<line x1="471.3" y1="464.9" x2="491.2" y2="464.9" stroke="#6a6a6a" stroke-width="1.6"/>
<line x1="493.6" y1="464.9" x2="512.8" y2="464.9" stroke="#6a6a6a" stroke-width="1.6"/>
<line x1="515.2" y1="464.9" x2="535.1" y2="464.9" stroke="#6a6a6a" stroke-width="1.6"/>
<rect x="397.1" y="468.5" width="3.6" height="47.7" fill="url(#rdbu)" stroke="none" stroke-width="1"/>
<text x="393.2" y="479" font-size="9.7" text-anchor="end">2</text>
<text x="393.2" y="486.8" font-size="9.7" text-anchor="end">1</text>
<text x="393.2" y="495.6" font-size="9.7" text-anchor="end">0</text>
<text x="393.2" y="503.6" font-size="9.7" text-anchor="end">−1</text>
<text x="393.2" y="512.6" font-size="9.7" text-anchor="end">−2</text>
<text x="401" y="573.3" text-anchor="middle" transform="rotate(-90 401 573.3)">Normalized expression</text>
<line x1="537.6" y1="471.13" x2="540.3" y2="471.13" stroke="#777" stroke-width="0.6"/>
<text x="542.4" y="473.1" font-style="italic">SCN1A</text>
<line x1="537.6" y1="477" x2="540.3" y2="477" stroke="#777" stroke-width="0.6"/>
<text x="542.4" y="480.8" font-style="italic">SCN2A</text>
<line x1="537.6" y1="494.62" x2="540.3" y2="494.62" stroke="#777" stroke-width="0.6"/>
<text x="542.4" y="498" font-style="italic">SCN4B</text>
<line x1="537.6" y1="503.83" x2="540.3" y2="503.83" stroke="#777" stroke-width="0.6"/>
<text x="542.4" y="508" font-style="italic">KCNA2</text>
<line x1="537.6" y1="521.44" x2="540.3" y2="521.44" stroke="#777" stroke-width="0.6"/>
<text x="542.4" y="523.4" font-style="italic">KCNK1</text>
<line x1="537.6" y1="530.66" x2="540.3" y2="530.66" stroke="#777" stroke-width="0.6"/>
<text x="542.4" y="534.2" font-style="italic">CACNA1B</text>
<line x1="537.6" y1="542.4" x2="540.3" y2="542.4" stroke="#777" stroke-width="0.6"/>
<text x="542.4" y="546" font-style="italic">CACNA1D</text>
<line x1="537.6" y1="554.14" x2="540.3" y2="554.14" stroke="#777" stroke-width="0.6"/>
<text x="542.4" y="554.6" font-style="italic">CACNG3</text>
<line x1="537.6" y1="563.37" x2="540.3" y2="563.37" stroke="#777" stroke-width="0.6"/>
<text x="542.4" y="564.5" font-style="italic">SLC12A2</text>
<line x1="537.6" y1="569.24" x2="540.3" y2="569.24" stroke="#777" stroke-width="0.6"/>
<text x="542.4" y="572.5" font-style="italic">SLC12A5</text>
<line x1="537.6" y1="596.07" x2="540.3" y2="596.07" stroke="#777" stroke-width="0.6"/>
<text x="542.4" y="597.6" font-style="italic">ATP2B2</text>
<line x1="537.6" y1="601.94" x2="540.3" y2="601.94" stroke="#777" stroke-width="0.6"/>
<text x="542.4" y="604.8" font-style="italic">ATP2B4</text>
<line x1="537.6" y1="617.03" x2="540.3" y2="617.03" stroke="#777" stroke-width="0.6"/>
<text x="542.4" y="618.2" font-style="italic">CAMK2B</text>
<line x1="537.6" y1="622.9" x2="540.3" y2="622.9" stroke="#777" stroke-width="0.6"/>
<text x="542.4" y="626" font-style="italic">SYN1</text>
<line x1="537.6" y1="646.38" x2="540.3" y2="646.38" stroke="#777" stroke-width="0.6"/>
<text x="542.4" y="648.2" font-style="italic">SV2B</text>
<line x1="537.6" y1="652.25" x2="540.3" y2="652.25" stroke="#777" stroke-width="0.6"/>
<text x="542.4" y="657" font-style="italic">STX1A</text>
<line x1="537.6" y1="663.99" x2="540.3" y2="663.99" stroke="#777" stroke-width="0.6"/>
<text x="542.4" y="667.4" font-style="italic">SNAP25</text>
<line x1="537.6" y1="681.6" x2="540.3" y2="681.6" stroke="#777" stroke-width="0.6"/>
<text x="542.4" y="684.2" font-style="italic">VAMP2</text>
<line x1="537.6" y1="710.95" x2="540.3" y2="710.95" stroke="#777" stroke-width="0.6"/>
<text x="542.4" y="711.3" font-style="italic">NRXN2</text>
<line x1="537.6" y1="716.82" x2="540.3" y2="716.82" stroke="#777" stroke-width="0.6"/>
<text x="542.4" y="720" font-style="italic">SLC17A7</text>
<line x1="537.6" y1="728.56" x2="540.3" y2="728.56" stroke="#777" stroke-width="0.6"/>
<text x="542.4" y="730.6" font-style="italic">PCLO</text>
<line x1="537.6" y1="743.65" x2="540.3" y2="743.65" stroke="#777" stroke-width="0.6"/>
<text x="542.4" y="745.6" font-style="italic">DLG4</text>
<line x1="537.6" y1="755.39" x2="540.3" y2="755.39" stroke="#777" stroke-width="0.6"/>
<text x="542.4" y="756.3" font-style="italic">NLGN1</text>
<line x1="537.6" y1="761.26" x2="540.3" y2="761.26" stroke="#777" stroke-width="0.6"/>
<text x="542.4" y="764" font-style="italic">SHANK1</text>
<line x1="537.6" y1="773" x2="540.3" y2="773" stroke="#777" stroke-width="0.6"/>
<text x="542.4" y="776" font-style="italic">SHANK3</text>
<line x1="537.6" y1="788.09" x2="540.3" y2="788.09" stroke="#777" stroke-width="0.6"/>
<text x="542.4" y="790.3" font-style="italic">GRIA1</text>
<line x1="537.6" y1="799.83" x2="540.3" y2="799.83" stroke="#777" stroke-width="0.6"/>
<text x="542.4" y="801.3" font-style="italic">GRIK4</text>
<line x1="537.6" y1="805.7" x2="540.3" y2="805.7" stroke="#777" stroke-width="0.6"/>
<text x="542.4" y="809.3" font-style="italic">GRM1</text>
<line x1="537.6" y1="823.31" x2="540.3" y2="823.31" stroke="#777" stroke-width="0.6"/>
<text x="542.4" y="821.7" font-style="italic">GRIN1</text>
<line x1="537.6" y1="829.18" x2="540.3" y2="829.18" stroke="#777" stroke-width="0.6"/>
<text x="542.4" y="830.8" font-style="italic">GRIN2A</text>
<line x1="537.6" y1="835.05" x2="540.3" y2="835.05" stroke="#777" stroke-width="0.6"/>
<text x="542.4" y="838.7" font-style="italic">GRIN2B</text>
<line x1="537.6" y1="840.92" x2="540.3" y2="840.92" stroke="#777" stroke-width="0.6"/>
<text x="542.4" y="846.6" font-style="italic">GABRA1</text>
<line x1="537.6" y1="876.14" x2="540.3" y2="876.14" stroke="#777" stroke-width="0.6"/>
<text x="542.4" y="880.5" font-style="italic">HTR2A</text>
<line x1="597.4" y1="469" x2="597.4" y2="496.2" stroke="#555" stroke-width="1.3"/>
<line x1="597.4" y1="500.7" x2="597.4" y2="523.4" stroke="#555" stroke-width="1.3"/>
<line x1="597.4" y1="527.9" x2="597.4" y2="555" stroke="#555" stroke-width="1.3"/>
<line x1="597.4" y1="560.7" x2="597.4" y2="569.8" stroke="#555" stroke-width="1.3"/>
<line x1="597.4" y1="575.4" x2="597.4" y2="604.8" stroke="#555" stroke-width="1.3"/>
<line x1="597.4" y1="608.2" x2="597.4" y2="728.5" stroke="#555" stroke-width="1.3"/>
<line x1="597.4" y1="733.5" x2="597.4" y2="780.5" stroke="#555" stroke-width="1.3"/>
<line x1="597.4" y1="785.5" x2="597.4" y2="885.1" stroke="#555" stroke-width="1.3"/>
<text x="601.3" y="479.2">Nav</text>
<text x="601.3" y="489.4">channels</text>
<text x="601.3" y="508">Kv</text>
<text x="601.3" y="517.7">channels</text>
<text x="601.3" y="536.5">Cav</text>
<text x="601.3" y="546.7">channels</text>
<text x="601.3" y="568.2">K<tspan font-size="6.5" dy="-3.5">+</tspan><tspan dy="3.5">/Cl</tspan><tspan font-size="6.5" dy="-3.5">−</tspan><tspan dy="3.5"> transporters</tspan></text>
<text x="601.3" y="590.1">Na<tspan font-size="6.5" dy="-3.5">+</tspan><tspan dy="3.5">/K</tspan><tspan font-size="6.5" dy="-3.5">+</tspan><tspan dy="3.5"> ATPases</tspan></text>
<text x="601.3" y="649.8">CaMKs</text>
<text x="601.3" y="661.8">SNAREs and</text>
<text x="601.3" y="671.6">pre-synaptic</text>
<text x="601.3" y="750.5">Post-synaptic</text>
<text x="601.3" y="830.3">Receptors for</text>
<text x="601.3" y="840.5">neurotransmitters</text>
</svg>
</body></html>
